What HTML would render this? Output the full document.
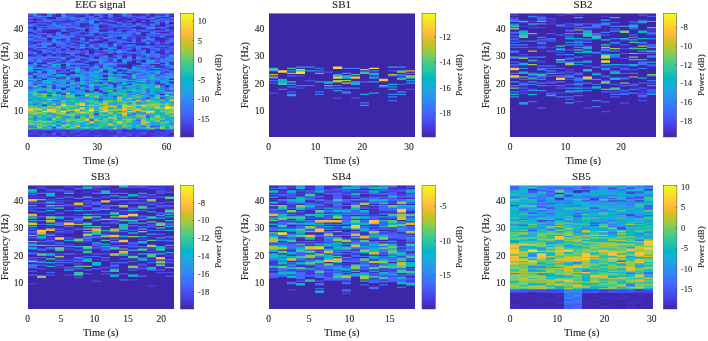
<!DOCTYPE html>
<html><head><meta charset="utf-8"><title>Spectrograms</title>
<style>
html,body{margin:0;padding:0;background:#fff}
svg{display:block}
text{font-family:"Liberation Serif","Times New Roman",serif;fill:#222;stroke:#222;stroke-width:.1px}
.tk{font-size:9.5px}
.ct{font-size:8.6px}
.al{font-size:10.5px}
.tt{font-size:11px}
.cl{font-size:9px}
.cb{fill:url(#pg);stroke:#444;stroke-width:.5}
.tl{stroke:#333;stroke-width:.5}
.c0{fill:#3e26a8}
.c1{fill:#402ab4}
.c2{fill:#422ec0}
.c3{fill:#4332cb}
.c4{fill:#4537d5}
.c5{fill:#463cde}
.c6{fill:#4741e5}
.c7{fill:#4747eb}
.c8{fill:#484df0}
.c9{fill:#4852f4}
.c10{fill:#4758f8}
.c11{fill:#465efb}
.c12{fill:#4563fd}
.c13{fill:#4269fe}
.c14{fill:#3e6fff}
.c15{fill:#3875fe}
.c16{fill:#327cfc}
.c17{fill:#2f81fa}
.c18{fill:#2e87f7}
.c19{fill:#2d8cf3}
.c20{fill:#2b91ef}
.c21{fill:#2797eb}
.c22{fill:#259be8}
.c23{fill:#23a0e5}
.c24{fill:#20a5e3}
.c25{fill:#1ca9df}
.c26{fill:#18addb}
.c27{fill:#12b1d6}
.c28{fill:#08b5d0}
.c29{fill:#01b8ca}
.c30{fill:#02bac3}
.c31{fill:#0bbdbd}
.c32{fill:#19bfb6}
.c33{fill:#24c1ae}
.c34{fill:#2cc4a7}
.c35{fill:#31c69f}
.c36{fill:#37c897}
.c37{fill:#3fca8e}
.c38{fill:#4acb84}
.c39{fill:#57cc7a}
.c40{fill:#64cd6f}
.c41{fill:#72cd64}
.c42{fill:#81cc59}
.c43{fill:#8fcb4e}
.c44{fill:#9dc943}
.c45{fill:#abc739}
.c46{fill:#b9c431}
.c47{fill:#c5c22a}
.c48{fill:#d1bf27}
.c49{fill:#dcbd29}
.c50{fill:#e6bb2d}
.c51{fill:#f0ba36}
.c52{fill:#f8ba3d}
.c53{fill:#febe3c}
.c54{fill:#fec338}
.c55{fill:#fec934}
.c56{fill:#fccf30}
.c57{fill:#fad62d}
.c58{fill:#f7dc2a}
.c59{fill:#f5e327}
.c60{fill:#f5e924}
.c61{fill:#f6ef20}
.c62{fill:#f7f51b}
.c63{fill:#f9fb15}
</style></head><body>
<svg width="708" height="341" viewBox="0 0 708 341">
<defs><linearGradient id="pg" x1="0" y1="0" x2="0" y2="1"><stop offset="0.0000" stop-color="#f9fb15"/>
<stop offset="0.0159" stop-color="#f7f51b"/>
<stop offset="0.0317" stop-color="#f6ef20"/>
<stop offset="0.0476" stop-color="#f5e924"/>
<stop offset="0.0635" stop-color="#f5e327"/>
<stop offset="0.0794" stop-color="#f7dc2a"/>
<stop offset="0.0952" stop-color="#fad62d"/>
<stop offset="0.1111" stop-color="#fccf30"/>
<stop offset="0.1270" stop-color="#fec934"/>
<stop offset="0.1429" stop-color="#fec338"/>
<stop offset="0.1587" stop-color="#febe3c"/>
<stop offset="0.1746" stop-color="#f8ba3d"/>
<stop offset="0.1905" stop-color="#f0ba36"/>
<stop offset="0.2063" stop-color="#e6bb2d"/>
<stop offset="0.2222" stop-color="#dcbd29"/>
<stop offset="0.2381" stop-color="#d1bf27"/>
<stop offset="0.2540" stop-color="#c5c22a"/>
<stop offset="0.2698" stop-color="#b9c431"/>
<stop offset="0.2857" stop-color="#abc739"/>
<stop offset="0.3016" stop-color="#9dc943"/>
<stop offset="0.3175" stop-color="#8fcb4e"/>
<stop offset="0.3333" stop-color="#81cc59"/>
<stop offset="0.3492" stop-color="#72cd64"/>
<stop offset="0.3651" stop-color="#64cd6f"/>
<stop offset="0.3810" stop-color="#57cc7a"/>
<stop offset="0.3968" stop-color="#4acb84"/>
<stop offset="0.4127" stop-color="#3fca8e"/>
<stop offset="0.4286" stop-color="#37c897"/>
<stop offset="0.4444" stop-color="#31c69f"/>
<stop offset="0.4603" stop-color="#2cc4a7"/>
<stop offset="0.4762" stop-color="#24c1ae"/>
<stop offset="0.4921" stop-color="#19bfb6"/>
<stop offset="0.5079" stop-color="#0bbdbd"/>
<stop offset="0.5238" stop-color="#02bac3"/>
<stop offset="0.5397" stop-color="#01b8ca"/>
<stop offset="0.5556" stop-color="#08b5d0"/>
<stop offset="0.5714" stop-color="#12b1d6"/>
<stop offset="0.5873" stop-color="#18addb"/>
<stop offset="0.6032" stop-color="#1ca9df"/>
<stop offset="0.6190" stop-color="#20a5e3"/>
<stop offset="0.6349" stop-color="#23a0e5"/>
<stop offset="0.6508" stop-color="#259be8"/>
<stop offset="0.6667" stop-color="#2797eb"/>
<stop offset="0.6825" stop-color="#2b91ef"/>
<stop offset="0.6984" stop-color="#2d8cf3"/>
<stop offset="0.7143" stop-color="#2e87f7"/>
<stop offset="0.7302" stop-color="#2f81fa"/>
<stop offset="0.7460" stop-color="#327cfc"/>
<stop offset="0.7619" stop-color="#3875fe"/>
<stop offset="0.7778" stop-color="#3e6fff"/>
<stop offset="0.7937" stop-color="#4269fe"/>
<stop offset="0.8095" stop-color="#4563fd"/>
<stop offset="0.8254" stop-color="#465efb"/>
<stop offset="0.8413" stop-color="#4758f8"/>
<stop offset="0.8571" stop-color="#4852f4"/>
<stop offset="0.8730" stop-color="#484df0"/>
<stop offset="0.8889" stop-color="#4747eb"/>
<stop offset="0.9048" stop-color="#4741e5"/>
<stop offset="0.9206" stop-color="#463cde"/>
<stop offset="0.9365" stop-color="#4537d5"/>
<stop offset="0.9524" stop-color="#4332cb"/>
<stop offset="0.9683" stop-color="#422ec0"/>
<stop offset="0.9841" stop-color="#402ab4"/>
<stop offset="1.0000" stop-color="#3e26a8"/></linearGradient></defs>
<rect width="708" height="341" fill="#fff"/>
<svg x=28 y=13.3 width=146 height=123.7 viewBox="0 0 146 100" preserveAspectRatio=none>
<path class=c10 d="M0 0h5V100h-5z"/>
<path class=c11 d="M0 1h5V100h-5z"/>
<path class=c3 d="M0 2h5V100h-5z"/>
<path class=c14 d="M0 3h5V100h-5z"/>
<path class=c5 d="M0 4h5V100h-5z"/>
<path class=c8 d="M0 5h5V100h-5z"/>
<path class=c16 d="M0 6h5V100h-5z"/>
<path class=c0 d="M0 7h5V100h-5z"/>
<path class=c9 d="M0 8h5V100h-5z"/>
<path class=c22 d="M0 9h5V100h-5z"/>
<path class=c13 d="M0 10h5V100h-5z"/>
<path class=c2 d="M0 11h5V100h-5z"/>
<path class=c13 d="M0 12h5V100h-5z"/>
<path class=c14 d="M0 13h5V100h-5z"/>
<path class=c0 d="M0 15h5V100h-5z"/>
<path class=c5 d="M0 16h5V100h-5z"/>
<path class=c13 d="M0 17h5V100h-5z"/>
<path class=c14 d="M0 18h5V100h-5z"/>
<path class=c2 d="M0 19h5V100h-5z"/>
<path class=c20 d="M0 20h5V100h-5z"/>
<path class=c14 d="M0 21h5V100h-5z"/>
<path class=c8 d="M0 22h5V100h-5z"/>
<path class=c4 d="M0 23h5V100h-5z"/>
<path class=c9 d="M0 24h5V100h-5z"/>
<path class=c6 d="M0 25h5V100h-5z"/>
<path class=c16 d="M0 26h5V100h-5z"/>
<path class=c11 d="M0 27h5V100h-5z"/>
<path class=c3 d="M0 28h5V100h-5z"/>
<path class=c5 d="M0 29h5V100h-5z"/>
<path class=c7 d="M0 30h5V100h-5z"/>
<path class=c11 d="M0 31h5V100h-5z"/>
<path class=c2 d="M0 33h5V100h-5z"/>
<path class=c1 d="M0 34h5V100h-5z"/>
<path class=c17 d="M0 35h5V100h-5z"/>
<path class=c12 d="M0 36h5V100h-5z"/>
<path class=c18 d="M0 37h5V100h-5z"/>
<path class=c14 d="M0 38h5V100h-5z"/>
<path class=c8 d="M0 39h5V100h-5z"/>
<path class=c0 d="M0 40h5V100h-5z"/>
<path class=c11 d="M0 41h5V100h-5z"/>
<path class=c28 d="M0 42h5V100h-5z"/>
<path class=c18 d="M0 43h5V100h-5z"/>
<path class=c33 d="M0 44h5V100h-5z"/>
<path class=c21 d="M0 45h5V100h-5z"/>
<path class=c27 d="M0 46h5V100h-5z"/>
<path class=c14 d="M0 47h5V100h-5z"/>
<path class=c2 d="M0 48h5V100h-5z"/>
<path class=c8 d="M0 49h5V100h-5z"/>
<path class=c25 d="M0 50h5V100h-5z"/>
<path class=c10 d="M0 52h5V100h-5z"/>
<path class=c34 d="M0 53h5V100h-5z"/>
<path class=c13 d="M0 54h5V100h-5z"/>
<path class=c19 d="M0 55h5V100h-5z"/>
<path class=c34 d="M0 56h5V100h-5z"/>
<path class=c18 d="M0 57h5V100h-5z"/>
<path class=c34 d="M0 58h5V100h-5z"/>
<path class=c13 d="M0 59h5V100h-5z"/>
<path class=c5 d="M0 60h5V100h-5z"/>
<path class=c27 d="M0 61h5V100h-5z"/>
<path class=c17 d="M0 62h5V100h-5z"/>
<path class=c32 d="M0 63h5V100h-5z"/>
<path class=c23 d="M0 65h5V100h-5z"/>
<path class=c29 d="M0 66h5V100h-5z"/>
<path class=c23 d="M0 67h5V100h-5z"/>
<path class=c33 d="M0 68h5V100h-5z"/>
<path class=c15 d="M0 69h5V100h-5z"/>
<path class=c20 d="M0 70h5V100h-5z"/>
<path class=c37 d="M0 71h5V100h-5z"/>
<path class=c35 d="M0 72h5V100h-5z"/>
<path class=c22 d="M0 73h5V100h-5z"/>
<path class=c34 d="M0 74h5V100h-5z"/>
<path class=c36 d="M0 75h5V100h-5z"/>
<path class=c42 d="M0 76h5V100h-5z"/>
<path class=c54 d="M0 77h5V100h-5z"/>
<path class=c45 d="M0 79h5V100h-5z"/>
<path class=c40 d="M0 80h5V100h-5z"/>
<path class=c39 d="M0 81h5V100h-5z"/>
<path class=c26 d="M0 82h5V100h-5z"/>
<path class=c39 d="M0 83h5V100h-5z"/>
<path class=c38 d="M0 84h5V100h-5z"/>
<path class=c20 d="M0 85h5V100h-5z"/>
<path class=c40 d="M0 86h5V100h-5z"/>
<path class=c34 d="M0 87h5V100h-5z"/>
<path class=c40 d="M0 88h5V100h-5z"/>
<path class=c39 d="M0 90h5V100h-5z"/>
<path class=c11 d="M0 91h5V100h-5z"/>
<path class=c18 d="M0 92h5V100h-5z"/>
<path class=c41 d="M0 93h5V100h-5z"/>
<path class=c3 d="M0 94h5V100h-5z"/>
<path class=c4 d="M0 96h5V100h-5z"/>
<path class=c7 d="M0 97h5V100h-5z"/>
<path class=c3 d="M0 98h5V100h-5z"/>
<path class=c4 d="M0 99h5V100h-5z"/>
<path class=c13 d="M5 0h4V100h-4z"/>
<path class=c23 d="M5 1h4V100h-4z"/>
<path class=c10 d="M5 2h4V100h-4z"/>
<path class=c12 d="M5 3h4V100h-4z"/>
<path class=c1 d="M5 4h4V100h-4z"/>
<path class=c0 d="M5 5h4V100h-4z"/>
<path class=c6 d="M5 6h4V100h-4z"/>
<path class=c0 d="M5 7h4V100h-4z"/>
<path class=c14 d="M5 8h4V100h-4z"/>
<path class=c11 d="M5 9h4V100h-4z"/>
<path class=c5 d="M5 10h4V100h-4z"/>
<path class=c0 d="M5 11h4V100h-4z"/>
<path class=c4 d="M5 13h4V100h-4z"/>
<path class=c12 d="M5 14h4V100h-4z"/>
<path class=c0 d="M5 16h4V100h-4z"/>
<path class=c11 d="M5 17h4V100h-4z"/>
<path class=c13 d="M5 18h4V100h-4z"/>
<path class=c11 d="M5 19h4V100h-4z"/>
<path class=c7 d="M5 20h4V100h-4z"/>
<path class=c9 d="M5 21h4V100h-4z"/>
<path class=c18 d="M5 22h4V100h-4z"/>
<path class=c0 d="M5 23h4V100h-4z"/>
<path class=c1 d="M5 24h4V100h-4z"/>
<path class=c15 d="M5 25h4V100h-4z"/>
<path class=c14 d="M5 26h4V100h-4z"/>
<path class=c13 d="M5 27h4V100h-4z"/>
<path class=c12 d="M5 28h4V100h-4z"/>
<path class=c4 d="M5 29h4V100h-4z"/>
<path class=c0 d="M5 30h4V100h-4z"/>
<path class=c17 d="M5 31h4V100h-4z"/>
<path class=c13 d="M5 32h4V100h-4z"/>
<path class=c10 d="M5 33h4V100h-4z"/>
<path class=c3 d="M5 34h4V100h-4z"/>
<path class=c16 d="M5 35h4V100h-4z"/>
<path class=c6 d="M5 37h4V100h-4z"/>
<path class=c14 d="M5 38h4V100h-4z"/>
<path class=c5 d="M5 39h4V100h-4z"/>
<path class=c24 d="M5 40h4V100h-4z"/>
<path class=c22 d="M5 41h4V100h-4z"/>
<path class=c10 d="M5 42h4V100h-4z"/>
<path class=c11 d="M5 43h4V100h-4z"/>
<path class=c15 d="M5 44h4V100h-4z"/>
<path class=c0 d="M5 45h4V100h-4z"/>
<path class=c21 d="M5 46h4V100h-4z"/>
<path class=c2 d="M5 47h4V100h-4z"/>
<path class=c12 d="M5 48h4V100h-4z"/>
<path class=c24 d="M5 49h4V100h-4z"/>
<path class=c2 d="M5 50h4V100h-4z"/>
<path class=c0 d="M5 51h4V100h-4z"/>
<path class=c8 d="M5 52h4V100h-4z"/>
<path class=c28 d="M5 53h4V100h-4z"/>
<path class=c23 d="M5 54h4V100h-4z"/>
<path class=c9 d="M5 55h4V100h-4z"/>
<path class=c26 d="M5 56h4V100h-4z"/>
<path class=c3 d="M5 57h4V100h-4z"/>
<path class=c25 d="M5 58h4V100h-4z"/>
<path class=c34 d="M5 59h4V100h-4z"/>
<path class=c16 d="M5 60h4V100h-4z"/>
<path class=c27 d="M5 61h4V100h-4z"/>
<path class=c33 d="M5 62h4V100h-4z"/>
<path class=c35 d="M5 63h4V100h-4z"/>
<path class=c38 d="M5 64h4V100h-4z"/>
<path class=c37 d="M5 66h4V100h-4z"/>
<path class=c25 d="M5 67h4V100h-4z"/>
<path class=c30 d="M5 68h4V100h-4z"/>
<path class=c25 d="M5 69h4V100h-4z"/>
<path class=c32 d="M5 70h4V100h-4z"/>
<path class=c23 d="M5 71h4V100h-4z"/>
<path class=c31 d="M5 72h4V100h-4z"/>
<path class=c12 d="M5 73h4V100h-4z"/>
<path class=c18 d="M5 74h4V100h-4z"/>
<path class=c41 d="M5 75h4V100h-4z"/>
<path class=c36 d="M5 76h4V100h-4z"/>
<path class=c54 d="M5 77h4V100h-4z"/>
<path class=c38 d="M5 78h4V100h-4z"/>
<path class=c41 d="M5 79h4V100h-4z"/>
<path class=c42 d="M5 80h4V100h-4z"/>
<path class=c49 d="M5 81h4V100h-4z"/>
<path class=c29 d="M5 82h4V100h-4z"/>
<path class=c21 d="M5 83h4V100h-4z"/>
<path class=c17 d="M5 84h4V100h-4z"/>
<path class=c18 d="M5 85h4V100h-4z"/>
<path class=c19 d="M5 86h4V100h-4z"/>
<path class=c40 d="M5 87h4V100h-4z"/>
<path class=c32 d="M5 88h4V100h-4z"/>
<path class=c40 d="M5 89h4V100h-4z"/>
<path class=c33 d="M5 90h4V100h-4z"/>
<path class=c23 d="M5 91h4V100h-4z"/>
<path class=c17 d="M5 92h4V100h-4z"/>
<path class=c33 d="M5 93h4V100h-4z"/>
<path class=c3 d="M5 94h4V100h-4z"/>
<path class=c7 d="M5 95h4V100h-4z"/>
<path class=c3 d="M5 96h4V100h-4z"/>
<path class=c8 d="M5 97h4V100h-4z"/>
<path class=c0 d="M5 98h4V100h-4z"/>
<path class=c5 d="M5 99h4V100h-4z"/>
<path class=c0 d="M9 0h5V100h-5z"/>
<path class=c8 d="M9 1h5V100h-5z"/>
<path class=c19 d="M9 2h5V100h-5z"/>
<path class=c9 d="M9 3h5V100h-5z"/>
<path class=c0 d="M9 5h5V100h-5z"/>
<path class=c16 d="M9 6h5V100h-5z"/>
<path class=c5 d="M9 7h5V100h-5z"/>
<path class=c14 d="M9 8h5V100h-5z"/>
<path class=c0 d="M9 9h5V100h-5z"/>
<path class=c11 d="M9 10h5V100h-5z"/>
<path class=c9 d="M9 11h5V100h-5z"/>
<path class=c19 d="M9 12h5V100h-5z"/>
<path class=c15 d="M9 13h5V100h-5z"/>
<path class=c9 d="M9 14h5V100h-5z"/>
<path class=c5 d="M9 15h5V100h-5z"/>
<path class=c17 d="M9 16h5V100h-5z"/>
<path class=c6 d="M9 17h5V100h-5z"/>
<path class=c13 d="M9 18h5V100h-5z"/>
<path class=c12 d="M9 19h5V100h-5z"/>
<path class=c8 d="M9 21h5V100h-5z"/>
<path class=c11 d="M9 22h5V100h-5z"/>
<path class=c2 d="M9 23h5V100h-5z"/>
<path class=c17 d="M9 24h5V100h-5z"/>
<path class=c8 d="M9 25h5V100h-5z"/>
<path class=c4 d="M9 26h5V100h-5z"/>
<path class=c20 d="M9 27h5V100h-5z"/>
<path class=c5 d="M9 28h5V100h-5z"/>
<path class=c15 d="M9 29h5V100h-5z"/>
<path class=c0 d="M9 30h5V100h-5z"/>
<path class=c3 d="M9 31h5V100h-5z"/>
<path class=c0 d="M9 32h5V100h-5z"/>
<path class=c10 d="M9 33h5V100h-5z"/>
<path class=c9 d="M9 34h5V100h-5z"/>
<path class=c14 d="M9 35h5V100h-5z"/>
<path class=c11 d="M9 36h5V100h-5z"/>
<path class=c18 d="M9 37h5V100h-5z"/>
<path class=c20 d="M9 38h5V100h-5z"/>
<path class=c18 d="M9 39h5V100h-5z"/>
<path class=c0 d="M9 40h5V100h-5z"/>
<path class=c9 d="M9 41h5V100h-5z"/>
<path class=c0 d="M9 42h5V100h-5z"/>
<path class=c5 d="M9 43h5V100h-5z"/>
<path class=c26 d="M9 44h5V100h-5z"/>
<path class=c1 d="M9 45h5V100h-5z"/>
<path class=c23 d="M9 46h5V100h-5z"/>
<path class=c20 d="M9 47h5V100h-5z"/>
<path class=c17 d="M9 48h5V100h-5z"/>
<path class=c12 d="M9 49h5V100h-5z"/>
<path class=c19 d="M9 50h5V100h-5z"/>
<path class=c24 d="M9 51h5V100h-5z"/>
<path class=c5 d="M9 52h5V100h-5z"/>
<path class=c30 d="M9 53h5V100h-5z"/>
<path class=c5 d="M9 54h5V100h-5z"/>
<path class=c16 d="M9 55h5V100h-5z"/>
<path class=c7 d="M9 56h5V100h-5z"/>
<path class=c25 d="M9 57h5V100h-5z"/>
<path class=c12 d="M9 59h5V100h-5z"/>
<path class=c26 d="M9 60h5V100h-5z"/>
<path class=c31 d="M9 61h5V100h-5z"/>
<path class=c26 d="M9 62h5V100h-5z"/>
<path class=c8 d="M9 63h5V100h-5z"/>
<path class=c20 d="M9 64h5V100h-5z"/>
<path class=c36 d="M9 65h5V100h-5z"/>
<path class=c31 d="M9 66h5V100h-5z"/>
<path class=c37 d="M9 67h5V100h-5z"/>
<path class=c20 d="M9 68h5V100h-5z"/>
<path class=c22 d="M9 70h5V100h-5z"/>
<path class=c35 d="M9 71h5V100h-5z"/>
<path class=c18 d="M9 72h5V100h-5z"/>
<path class=c27 d="M9 73h5V100h-5z"/>
<path class=c34 d="M9 74h5V100h-5z"/>
<path class=c22 d="M9 75h5V100h-5z"/>
<path class=c41 d="M9 76h5V100h-5z"/>
<path class=c51 d="M9 77h5V100h-5z"/>
<path class=c41 d="M9 78h5V100h-5z"/>
<path class=c26 d="M9 79h5V100h-5z"/>
<path class=c51 d="M9 80h5V100h-5z"/>
<path class=c32 d="M9 81h5V100h-5z"/>
<path class=c35 d="M9 82h5V100h-5z"/>
<path class=c38 d="M9 83h5V100h-5z"/>
<path class=c32 d="M9 84h5V100h-5z"/>
<path class=c31 d="M9 85h5V100h-5z"/>
<path class=c40 d="M9 86h5V100h-5z"/>
<path class=c43 d="M9 87h5V100h-5z"/>
<path class=c25 d="M9 88h5V100h-5z"/>
<path class=c47 d="M9 89h5V100h-5z"/>
<path class=c35 d="M9 90h5V100h-5z"/>
<path class=c40 d="M9 91h5V100h-5z"/>
<path class=c44 d="M9 92h5V100h-5z"/>
<path class=c32 d="M9 93h5V100h-5z"/>
<path class=c4 d="M9 94h5V100h-5z"/>
<path class=c3 d="M9 96h5V100h-5z"/>
<path class=c6 d="M9 97h5V100h-5z"/>
<path class=c4 d="M9 98h5V100h-5z"/>
<path class=c6 d="M9 99h5V100h-5z"/>
<path class=c0 d="M14 0h5V100h-5z"/>
<path class=c15 d="M14 2h5V100h-5z"/>
<path class=c7 d="M14 3h5V100h-5z"/>
<path class=c12 d="M14 4h5V100h-5z"/>
<path class=c10 d="M14 5h5V100h-5z"/>
<path class=c14 d="M14 6h5V100h-5z"/>
<path class=c3 d="M14 7h5V100h-5z"/>
<path class=c15 d="M14 8h5V100h-5z"/>
<path class=c0 d="M14 9h5V100h-5z"/>
<path class=c12 d="M14 10h5V100h-5z"/>
<path class=c3 d="M14 11h5V100h-5z"/>
<path class=c13 d="M14 12h5V100h-5z"/>
<path class=c0 d="M14 13h5V100h-5z"/>
<path class=c3 d="M14 14h5V100h-5z"/>
<path class=c1 d="M14 15h5V100h-5z"/>
<path class=c17 d="M14 16h5V100h-5z"/>
<path class=c4 d="M14 17h5V100h-5z"/>
<path class=c1 d="M14 18h5V100h-5z"/>
<path class=c9 d="M14 19h5V100h-5z"/>
<path class=c15 d="M14 20h5V100h-5z"/>
<path class=c10 d="M14 21h5V100h-5z"/>
<path class=c13 d="M14 23h5V100h-5z"/>
<path class=c16 d="M14 24h5V100h-5z"/>
<path class=c15 d="M14 25h5V100h-5z"/>
<path class=c18 d="M14 26h5V100h-5z"/>
<path class=c19 d="M14 27h5V100h-5z"/>
<path class=c4 d="M14 28h5V100h-5z"/>
<path class=c15 d="M14 29h5V100h-5z"/>
<path class=c16 d="M14 30h5V100h-5z"/>
<path class=c10 d="M14 31h5V100h-5z"/>
<path class=c11 d="M14 32h5V100h-5z"/>
<path class=c0 d="M14 33h5V100h-5z"/>
<path class=c20 d="M14 35h5V100h-5z"/>
<path class=c14 d="M14 36h5V100h-5z"/>
<path class=c9 d="M14 37h5V100h-5z"/>
<path class=c7 d="M14 38h5V100h-5z"/>
<path class=c5 d="M14 39h5V100h-5z"/>
<path class=c0 d="M14 40h5V100h-5z"/>
<path class=c12 d="M14 41h5V100h-5z"/>
<path class=c22 d="M14 42h5V100h-5z"/>
<path class=c1 d="M14 43h5V100h-5z"/>
<path class=c19 d="M14 44h5V100h-5z"/>
<path class=c14 d="M14 45h5V100h-5z"/>
<path class=c11 d="M14 46h5V100h-5z"/>
<path class=c0 d="M14 47h5V100h-5z"/>
<path class=c12 d="M14 48h5V100h-5z"/>
<path class=c16 d="M14 49h5V100h-5z"/>
<path class=c25 d="M14 50h5V100h-5z"/>
<path class=c18 d="M14 51h5V100h-5z"/>
<path class=c15 d="M14 52h5V100h-5z"/>
<path class=c0 d="M14 53h5V100h-5z"/>
<path class=c28 d="M14 54h5V100h-5z"/>
<path class=c24 d="M14 55h5V100h-5z"/>
<path class=c19 d="M14 56h5V100h-5z"/>
<path class=c22 d="M14 57h5V100h-5z"/>
<path class=c18 d="M14 58h5V100h-5z"/>
<path class=c0 d="M14 59h5V100h-5z"/>
<path class=c22 d="M14 60h5V100h-5z"/>
<path class=c31 d="M14 61h5V100h-5z"/>
<path class=c22 d="M14 62h5V100h-5z"/>
<path class=c3 d="M14 63h5V100h-5z"/>
<path class=c24 d="M14 64h5V100h-5z"/>
<path class=c44 d="M14 65h5V100h-5z"/>
<path class=c36 d="M14 66h5V100h-5z"/>
<path class=c40 d="M14 67h5V100h-5z"/>
<path class=c31 d="M14 68h5V100h-5z"/>
<path class=c30 d="M14 69h5V100h-5z"/>
<path class=c29 d="M14 70h5V100h-5z"/>
<path class=c16 d="M14 71h5V100h-5z"/>
<path class=c47 d="M14 72h5V100h-5z"/>
<path class=c28 d="M14 73h5V100h-5z"/>
<path class=c1 d="M14 74h5V100h-5z"/>
<path class=c25 d="M14 75h5V100h-5z"/>
<path class=c43 d="M14 76h5V100h-5z"/>
<path class=c34 d="M14 77h5V100h-5z"/>
<path class=c38 d="M14 78h5V100h-5z"/>
<path class=c58 d="M14 79h5V100h-5z"/>
<path class=c33 d="M14 80h5V100h-5z"/>
<path class=c42 d="M14 81h5V100h-5z"/>
<path class=c29 d="M14 82h5V100h-5z"/>
<path class=c32 d="M14 83h5V100h-5z"/>
<path class=c27 d="M14 84h5V100h-5z"/>
<path class=c31 d="M14 85h5V100h-5z"/>
<path class=c32 d="M14 86h5V100h-5z"/>
<path class=c41 d="M14 87h5V100h-5z"/>
<path class=c40 d="M14 88h5V100h-5z"/>
<path class=c25 d="M14 89h5V100h-5z"/>
<path class=c42 d="M14 90h5V100h-5z"/>
<path class=c36 d="M14 91h5V100h-5z"/>
<path class=c22 d="M14 92h5V100h-5z"/>
<path class=c36 d="M14 93h5V100h-5z"/>
<path class=c7 d="M14 94h5V100h-5z"/>
<path class=c4 d="M14 95h5V100h-5z"/>
<path class=c3 d="M14 96h5V100h-5z"/>
<path class=c9 d="M14 97h5V100h-5z"/>
<path class=c7 d="M14 98h5V100h-5z"/>
<path class=c23 d="M19 0h5V100h-5z"/>
<path class=c18 d="M19 1h5V100h-5z"/>
<path class=c17 d="M19 2h5V100h-5z"/>
<path class=c0 d="M19 3h5V100h-5z"/>
<path class=c14 d="M19 5h5V100h-5z"/>
<path class=c16 d="M19 6h5V100h-5z"/>
<path class=c5 d="M19 7h5V100h-5z"/>
<path class=c3 d="M19 8h5V100h-5z"/>
<path class=c14 d="M19 9h5V100h-5z"/>
<path class=c9 d="M19 10h5V100h-5z"/>
<path class=c12 d="M19 11h5V100h-5z"/>
<path class=c0 d="M19 13h5V100h-5z"/>
<path class=c2 d="M19 14h5V100h-5z"/>
<path class=c0 d="M19 15h5V100h-5z"/>
<path class=c6 d="M19 16h5V100h-5z"/>
<path class=c14 d="M19 17h5V100h-5z"/>
<path class=c23 d="M19 18h5V100h-5z"/>
<path class=c7 d="M19 19h5V100h-5z"/>
<path class=c0 d="M19 20h5V100h-5z"/>
<path class=c8 d="M19 22h5V100h-5z"/>
<path class=c21 d="M19 24h5V100h-5z"/>
<path class=c14 d="M19 25h5V100h-5z"/>
<path class=c0 d="M19 26h5V100h-5z"/>
<path class=c11 d="M19 27h5V100h-5z"/>
<path class=c13 d="M19 28h5V100h-5z"/>
<path class=c5 d="M19 29h5V100h-5z"/>
<path class=c15 d="M19 30h5V100h-5z"/>
<path class=c12 d="M19 31h5V100h-5z"/>
<path class=c0 d="M19 32h5V100h-5z"/>
<path class=c9 d="M19 33h5V100h-5z"/>
<path class=c10 d="M19 34h5V100h-5z"/>
<path class=c24 d="M19 35h5V100h-5z"/>
<path class=c3 d="M19 36h5V100h-5z"/>
<path class=c12 d="M19 37h5V100h-5z"/>
<path class=c0 d="M19 38h5V100h-5z"/>
<path class=c11 d="M19 39h5V100h-5z"/>
<path class=c28 d="M19 40h5V100h-5z"/>
<path class=c9 d="M19 41h5V100h-5z"/>
<path class=c18 d="M19 43h5V100h-5z"/>
<path class=c11 d="M19 44h5V100h-5z"/>
<path class=c22 d="M19 45h5V100h-5z"/>
<path class=c26 d="M19 46h5V100h-5z"/>
<path class=c18 d="M19 47h5V100h-5z"/>
<path class=c22 d="M19 48h5V100h-5z"/>
<path class=c25 d="M19 49h5V100h-5z"/>
<path class=c15 d="M19 50h5V100h-5z"/>
<path class=c6 d="M19 51h5V100h-5z"/>
<path class=c17 d="M19 52h5V100h-5z"/>
<path class=c22 d="M19 53h5V100h-5z"/>
<path class=c30 d="M19 54h5V100h-5z"/>
<path class=c24 d="M19 55h5V100h-5z"/>
<path class=c35 d="M19 56h5V100h-5z"/>
<path class=c10 d="M19 57h5V100h-5z"/>
<path class=c35 d="M19 58h5V100h-5z"/>
<path class=c27 d="M19 59h5V100h-5z"/>
<path class=c31 d="M19 60h5V100h-5z"/>
<path class=c34 d="M19 61h5V100h-5z"/>
<path class=c32 d="M19 63h5V100h-5z"/>
<path class=c7 d="M19 64h5V100h-5z"/>
<path class=c29 d="M19 65h5V100h-5z"/>
<path class=c5 d="M19 66h5V100h-5z"/>
<path class=c21 d="M19 67h5V100h-5z"/>
<path class=c31 d="M19 68h5V100h-5z"/>
<path class=c44 d="M19 69h5V100h-5z"/>
<path class=c29 d="M19 70h5V100h-5z"/>
<path class=c40 d="M19 71h5V100h-5z"/>
<path class=c20 d="M19 72h5V100h-5z"/>
<path class=c26 d="M19 73h5V100h-5z"/>
<path class=c31 d="M19 74h5V100h-5z"/>
<path class=c47 d="M19 75h5V100h-5z"/>
<path class=c28 d="M19 76h5V100h-5z"/>
<path class=c54 d="M19 77h5V100h-5z"/>
<path class=c31 d="M19 80h5V100h-5z"/>
<path class=c22 d="M19 81h5V100h-5z"/>
<path class=c39 d="M19 82h5V100h-5z"/>
<path class=c36 d="M19 83h5V100h-5z"/>
<path class=c21 d="M19 84h5V100h-5z"/>
<path class=c13 d="M19 85h5V100h-5z"/>
<path class=c20 d="M19 86h5V100h-5z"/>
<path class=c48 d="M19 87h5V100h-5z"/>
<path class=c29 d="M19 88h5V100h-5z"/>
<path class=c36 d="M19 89h5V100h-5z"/>
<path class=c35 d="M19 90h5V100h-5z"/>
<path class=c19 d="M19 91h5V100h-5z"/>
<path class=c36 d="M19 92h5V100h-5z"/>
<path class=c28 d="M19 93h5V100h-5z"/>
<path class=c9 d="M19 94h5V100h-5z"/>
<path class=c1 d="M19 95h5V100h-5z"/>
<path class=c0 d="M19 96h5V100h-5z"/>
<path class=c5 d="M19 97h5V100h-5z"/>
<path class=c4 d="M19 98h5V100h-5z"/>
<path class=c6 d="M19 99h5V100h-5z"/>
<path class=c16 d="M24 0h4V100h-4z"/>
<path class=c3 d="M24 1h4V100h-4z"/>
<path class=c5 d="M24 2h4V100h-4z"/>
<path class=c0 d="M24 3h4V100h-4z"/>
<path class=c18 d="M24 5h4V100h-4z"/>
<path class=c1 d="M24 6h4V100h-4z"/>
<path class=c15 d="M24 7h4V100h-4z"/>
<path class=c14 d="M24 8h4V100h-4z"/>
<path class=c21 d="M24 9h4V100h-4z"/>
<path class=c10 d="M24 10h4V100h-4z"/>
<path class=c11 d="M24 11h4V100h-4z"/>
<path class=c13 d="M24 12h4V100h-4z"/>
<path class=c0 d="M24 13h4V100h-4z"/>
<path class=c6 d="M24 16h4V100h-4z"/>
<path class=c0 d="M24 17h4V100h-4z"/>
<path class=c13 d="M24 18h4V100h-4z"/>
<path class=c17 d="M24 19h4V100h-4z"/>
<path class=c12 d="M24 20h4V100h-4z"/>
<path class=c21 d="M24 21h4V100h-4z"/>
<path class=c19 d="M24 22h4V100h-4z"/>
<path class=c20 d="M24 23h4V100h-4z"/>
<path class=c3 d="M24 24h4V100h-4z"/>
<path class=c0 d="M24 25h4V100h-4z"/>
<path class=c15 d="M24 27h4V100h-4z"/>
<path class=c8 d="M24 28h4V100h-4z"/>
<path class=c3 d="M24 30h4V100h-4z"/>
<path class=c21 d="M24 31h4V100h-4z"/>
<path class=c10 d="M24 32h4V100h-4z"/>
<path class=c2 d="M24 33h4V100h-4z"/>
<path class=c0 d="M24 34h4V100h-4z"/>
<path class=c21 d="M24 35h4V100h-4z"/>
<path class=c9 d="M24 36h4V100h-4z"/>
<path class=c7 d="M24 37h4V100h-4z"/>
<path class=c3 d="M24 38h4V100h-4z"/>
<path class=c18 d="M24 39h4V100h-4z"/>
<path class=c8 d="M24 40h4V100h-4z"/>
<path class=c27 d="M24 41h4V100h-4z"/>
<path class=c22 d="M24 42h4V100h-4z"/>
<path class=c18 d="M24 43h4V100h-4z"/>
<path class=c10 d="M24 44h4V100h-4z"/>
<path class=c15 d="M24 45h4V100h-4z"/>
<path class=c18 d="M24 46h4V100h-4z"/>
<path class=c22 d="M24 47h4V100h-4z"/>
<path class=c28 d="M24 48h4V100h-4z"/>
<path class=c4 d="M24 49h4V100h-4z"/>
<path class=c24 d="M24 50h4V100h-4z"/>
<path class=c3 d="M24 51h4V100h-4z"/>
<path class=c26 d="M24 52h4V100h-4z"/>
<path class=c16 d="M24 53h4V100h-4z"/>
<path class=c27 d="M24 54h4V100h-4z"/>
<path class=c13 d="M24 55h4V100h-4z"/>
<path class=c15 d="M24 56h4V100h-4z"/>
<path class=c17 d="M24 57h4V100h-4z"/>
<path class=c5 d="M24 58h4V100h-4z"/>
<path class=c7 d="M24 59h4V100h-4z"/>
<path class=c4 d="M24 60h4V100h-4z"/>
<path class=c14 d="M24 61h4V100h-4z"/>
<path class=c26 d="M24 62h4V100h-4z"/>
<path class=c22 d="M24 63h4V100h-4z"/>
<path class=c24 d="M24 64h4V100h-4z"/>
<path class=c40 d="M24 65h4V100h-4z"/>
<path class=c37 d="M24 66h4V100h-4z"/>
<path class=c25 d="M24 67h4V100h-4z"/>
<path class=c36 d="M24 68h4V100h-4z"/>
<path class=c33 d="M24 69h4V100h-4z"/>
<path class=c16 d="M24 70h4V100h-4z"/>
<path class=c22 d="M24 71h4V100h-4z"/>
<path class=c25 d="M24 72h4V100h-4z"/>
<path class=c42 d="M24 73h4V100h-4z"/>
<path class=c31 d="M24 74h4V100h-4z"/>
<path class=c34 d="M24 75h4V100h-4z"/>
<path class=c42 d="M24 76h4V100h-4z"/>
<path class=c48 d="M24 77h4V100h-4z"/>
<path class=c54 d="M24 78h4V100h-4z"/>
<path class=c44 d="M24 80h4V100h-4z"/>
<path class=c19 d="M24 81h4V100h-4z"/>
<path class=c23 d="M24 82h4V100h-4z"/>
<path class=c25 d="M24 83h4V100h-4z"/>
<path class=c37 d="M24 84h4V100h-4z"/>
<path class=c50 d="M24 85h4V100h-4z"/>
<path class=c36 d="M24 86h4V100h-4z"/>
<path class=c34 d="M24 87h4V100h-4z"/>
<path class=c28 d="M24 88h4V100h-4z"/>
<path class=c32 d="M24 89h4V100h-4z"/>
<path class=c45 d="M24 90h4V100h-4z"/>
<path class=c28 d="M24 91h4V100h-4z"/>
<path class=c5 d="M24 92h4V100h-4z"/>
<path class=c15 d="M24 93h4V100h-4z"/>
<path class=c5 d="M24 94h4V100h-4z"/>
<path class=c3 d="M24 95h4V100h-4z"/>
<path class=c9 d="M24 96h4V100h-4z"/>
<path class=c10 d="M24 97h4V100h-4z"/>
<path class=c7 d="M24 98h4V100h-4z"/>
<path class=c0 d="M28 0h5V100h-5z"/>
<path class=c14 d="M28 3h5V100h-5z"/>
<path class=c10 d="M28 4h5V100h-5z"/>
<path class=c17 d="M28 5h5V100h-5z"/>
<path class=c4 d="M28 6h5V100h-5z"/>
<path class=c7 d="M28 7h5V100h-5z"/>
<path class=c6 d="M28 8h5V100h-5z"/>
<path class=c15 d="M28 9h5V100h-5z"/>
<path class=c20 d="M28 10h5V100h-5z"/>
<path class=c12 d="M28 11h5V100h-5z"/>
<path class=c9 d="M28 12h5V100h-5z"/>
<path class=c0 d="M28 13h5V100h-5z"/>
<path class=c15 d="M28 15h5V100h-5z"/>
<path class=c17 d="M28 16h5V100h-5z"/>
<path class=c16 d="M28 17h5V100h-5z"/>
<path class=c10 d="M28 18h5V100h-5z"/>
<path class=c19 d="M28 19h5V100h-5z"/>
<path class=c17 d="M28 20h5V100h-5z"/>
<path class=c2 d="M28 21h5V100h-5z"/>
<path class=c18 d="M28 22h5V100h-5z"/>
<path class=c17 d="M28 23h5V100h-5z"/>
<path class=c14 d="M28 24h5V100h-5z"/>
<path class=c9 d="M28 25h5V100h-5z"/>
<path class=c11 d="M28 26h5V100h-5z"/>
<path class=c0 d="M28 27h5V100h-5z"/>
<path class=c11 d="M28 28h5V100h-5z"/>
<path class=c10 d="M28 29h5V100h-5z"/>
<path class=c11 d="M28 30h5V100h-5z"/>
<path class=c5 d="M28 32h5V100h-5z"/>
<path class=c9 d="M28 33h5V100h-5z"/>
<path class=c6 d="M28 34h5V100h-5z"/>
<path class=c16 d="M28 35h5V100h-5z"/>
<path class=c8 d="M28 36h5V100h-5z"/>
<path class=c18 d="M28 38h5V100h-5z"/>
<path class=c5 d="M28 39h5V100h-5z"/>
<path class=c11 d="M28 40h5V100h-5z"/>
<path class=c31 d="M28 41h5V100h-5z"/>
<path class=c8 d="M28 42h5V100h-5z"/>
<path class=c20 d="M28 43h5V100h-5z"/>
<path class=c12 d="M28 44h5V100h-5z"/>
<path class=c11 d="M28 45h5V100h-5z"/>
<path class=c0 d="M28 46h5V100h-5z"/>
<path class=c17 d="M28 47h5V100h-5z"/>
<path class=c4 d="M28 48h5V100h-5z"/>
<path class=c27 d="M28 49h5V100h-5z"/>
<path class=c28 d="M28 50h5V100h-5z"/>
<path class=c22 d="M28 51h5V100h-5z"/>
<path class=c0 d="M28 52h5V100h-5z"/>
<path class=c17 d="M28 53h5V100h-5z"/>
<path class=c18 d="M28 54h5V100h-5z"/>
<path class=c19 d="M28 55h5V100h-5z"/>
<path class=c13 d="M28 56h5V100h-5z"/>
<path class=c22 d="M28 57h5V100h-5z"/>
<path class=c23 d="M28 58h5V100h-5z"/>
<path class=c20 d="M28 59h5V100h-5z"/>
<path class=c8 d="M28 60h5V100h-5z"/>
<path class=c37 d="M28 61h5V100h-5z"/>
<path class=c26 d="M28 62h5V100h-5z"/>
<path class=c16 d="M28 63h5V100h-5z"/>
<path class=c3 d="M28 64h5V100h-5z"/>
<path class=c32 d="M28 65h5V100h-5z"/>
<path class=c33 d="M28 66h5V100h-5z"/>
<path class=c26 d="M28 67h5V100h-5z"/>
<path class=c31 d="M28 68h5V100h-5z"/>
<path class=c25 d="M28 69h5V100h-5z"/>
<path class=c16 d="M28 70h5V100h-5z"/>
<path class=c13 d="M28 71h5V100h-5z"/>
<path class=c32 d="M28 72h5V100h-5z"/>
<path class=c13 d="M28 73h5V100h-5z"/>
<path class=c27 d="M28 74h5V100h-5z"/>
<path class=c47 d="M28 75h5V100h-5z"/>
<path class=c42 d="M28 76h5V100h-5z"/>
<path class=c37 d="M28 77h5V100h-5z"/>
<path class=c41 d="M28 78h5V100h-5z"/>
<path class=c38 d="M28 79h5V100h-5z"/>
<path class=c46 d="M28 80h5V100h-5z"/>
<path class=c37 d="M28 81h5V100h-5z"/>
<path class=c28 d="M28 82h5V100h-5z"/>
<path class=c43 d="M28 83h5V100h-5z"/>
<path class=c38 d="M28 84h5V100h-5z"/>
<path class=c33 d="M28 85h5V100h-5z"/>
<path class=c36 d="M28 86h5V100h-5z"/>
<path class=c14 d="M28 87h5V100h-5z"/>
<path class=c26 d="M28 88h5V100h-5z"/>
<path class=c32 d="M28 89h5V100h-5z"/>
<path class=c13 d="M28 90h5V100h-5z"/>
<path class=c19 d="M28 91h5V100h-5z"/>
<path class=c45 d="M28 92h5V100h-5z"/>
<path class=c18 d="M28 93h5V100h-5z"/>
<path class=c8 d="M28 94h5V100h-5z"/>
<path class=c5 d="M28 95h5V100h-5z"/>
<path class=c6 d="M28 96h5V100h-5z"/>
<path class=c1 d="M28 97h5V100h-5z"/>
<path class=c3 d="M28 98h5V100h-5z"/>
<path class=c9 d="M28 99h5V100h-5z"/>
<path class=c14 d="M33 0h5V100h-5z"/>
<path class=c21 d="M33 1h5V100h-5z"/>
<path class=c19 d="M33 2h5V100h-5z"/>
<path class=c17 d="M33 3h5V100h-5z"/>
<path class=c11 d="M33 4h5V100h-5z"/>
<path class=c10 d="M33 5h5V100h-5z"/>
<path class=c4 d="M33 6h5V100h-5z"/>
<path class=c5 d="M33 7h5V100h-5z"/>
<path class=c14 d="M33 8h5V100h-5z"/>
<path class=c8 d="M33 9h5V100h-5z"/>
<path class=c14 d="M33 10h5V100h-5z"/>
<path class=c18 d="M33 11h5V100h-5z"/>
<path class=c11 d="M33 12h5V100h-5z"/>
<path class=c16 d="M33 13h5V100h-5z"/>
<path class=c0 d="M33 15h5V100h-5z"/>
<path class=c2 d="M33 16h5V100h-5z"/>
<path class=c12 d="M33 17h5V100h-5z"/>
<path class=c21 d="M33 18h5V100h-5z"/>
<path class=c19 d="M33 19h5V100h-5z"/>
<path class=c8 d="M33 20h5V100h-5z"/>
<path class=c2 d="M33 21h5V100h-5z"/>
<path class=c8 d="M33 22h5V100h-5z"/>
<path class=c10 d="M33 23h5V100h-5z"/>
<path class=c18 d="M33 24h5V100h-5z"/>
<path class=c13 d="M33 25h5V100h-5z"/>
<path class=c10 d="M33 26h5V100h-5z"/>
<path class=c17 d="M33 27h5V100h-5z"/>
<path class=c7 d="M33 28h5V100h-5z"/>
<path class=c0 d="M33 29h5V100h-5z"/>
<path class=c10 d="M33 30h5V100h-5z"/>
<path class=c8 d="M33 31h5V100h-5z"/>
<path class=c6 d="M33 32h5V100h-5z"/>
<path class=c1 d="M33 33h5V100h-5z"/>
<path class=c5 d="M33 34h5V100h-5z"/>
<path class=c9 d="M33 35h5V100h-5z"/>
<path class=c27 d="M33 36h5V100h-5z"/>
<path class=c9 d="M33 37h5V100h-5z"/>
<path class=c5 d="M33 38h5V100h-5z"/>
<path class=c4 d="M33 39h5V100h-5z"/>
<path class=c12 d="M33 40h5V100h-5z"/>
<path class=c0 d="M33 41h5V100h-5z"/>
<path class=c6 d="M33 43h5V100h-5z"/>
<path class=c0 d="M33 44h5V100h-5z"/>
<path class=c13 d="M33 45h5V100h-5z"/>
<path class=c6 d="M33 46h5V100h-5z"/>
<path class=c15 d="M33 47h5V100h-5z"/>
<path class=c0 d="M33 48h5V100h-5z"/>
<path class=c22 d="M33 49h5V100h-5z"/>
<path class=c20 d="M33 50h5V100h-5z"/>
<path class=c7 d="M33 51h5V100h-5z"/>
<path class=c5 d="M33 52h5V100h-5z"/>
<path class=c20 d="M33 53h5V100h-5z"/>
<path class=c28 d="M33 54h5V100h-5z"/>
<path class=c20 d="M33 55h5V100h-5z"/>
<path class=c27 d="M33 56h5V100h-5z"/>
<path class=c14 d="M33 57h5V100h-5z"/>
<path class=c23 d="M33 58h5V100h-5z"/>
<path class=c26 d="M33 59h5V100h-5z"/>
<path class=c2 d="M33 60h5V100h-5z"/>
<path class=c0 d="M33 61h5V100h-5z"/>
<path class=c24 d="M33 62h5V100h-5z"/>
<path class=c32 d="M33 63h5V100h-5z"/>
<path class=c11 d="M33 64h5V100h-5z"/>
<path class=c4 d="M33 65h5V100h-5z"/>
<path class=c32 d="M33 66h5V100h-5z"/>
<path class=c23 d="M33 67h5V100h-5z"/>
<path class=c21 d="M33 68h5V100h-5z"/>
<path class=c18 d="M33 69h5V100h-5z"/>
<path class=c39 d="M33 70h5V100h-5z"/>
<path class=c37 d="M33 71h5V100h-5z"/>
<path class=c35 d="M33 72h5V100h-5z"/>
<path class=c46 d="M33 73h5V100h-5z"/>
<path class=c58 d="M33 74h5V100h-5z"/>
<path class=c38 d="M33 75h5V100h-5z"/>
<path class=c43 d="M33 76h5V100h-5z"/>
<path class=c16 d="M33 77h5V100h-5z"/>
<path class=c38 d="M33 78h5V100h-5z"/>
<path class=c59 d="M33 79h5V100h-5z"/>
<path class=c44 d="M33 80h5V100h-5z"/>
<path class=c49 d="M33 81h5V100h-5z"/>
<path class=c28 d="M33 82h5V100h-5z"/>
<path class=c25 d="M33 83h5V100h-5z"/>
<path class=c32 d="M33 85h5V100h-5z"/>
<path class=c22 d="M33 86h5V100h-5z"/>
<path class=c39 d="M33 87h5V100h-5z"/>
<path class=c14 d="M33 88h5V100h-5z"/>
<path class=c29 d="M33 89h5V100h-5z"/>
<path class=c47 d="M33 90h5V100h-5z"/>
<path class=c41 d="M33 91h5V100h-5z"/>
<path class=c36 d="M33 92h5V100h-5z"/>
<path class=c29 d="M33 93h5V100h-5z"/>
<path class=c5 d="M33 94h5V100h-5z"/>
<path class=c10 d="M33 96h5V100h-5z"/>
<path class=c7 d="M33 97h5V100h-5z"/>
<path class=c0 d="M33 99h5V100h-5z"/>
<path class=c0 d="M38 0h4V100h-4z"/>
<path class=c7 d="M38 1h4V100h-4z"/>
<path class=c11 d="M38 2h4V100h-4z"/>
<path class=c12 d="M38 3h4V100h-4z"/>
<path class=c8 d="M38 4h4V100h-4z"/>
<path class=c4 d="M38 5h4V100h-4z"/>
<path class=c3 d="M38 6h4V100h-4z"/>
<path class=c6 d="M38 7h4V100h-4z"/>
<path class=c17 d="M38 8h4V100h-4z"/>
<path class=c15 d="M38 9h4V100h-4z"/>
<path class=c6 d="M38 10h4V100h-4z"/>
<path class=c19 d="M38 11h4V100h-4z"/>
<path class=c2 d="M38 12h4V100h-4z"/>
<path class=c4 d="M38 13h4V100h-4z"/>
<path class=c9 d="M38 14h4V100h-4z"/>
<path class=c0 d="M38 15h4V100h-4z"/>
<path class=c9 d="M38 16h4V100h-4z"/>
<path class=c3 d="M38 17h4V100h-4z"/>
<path class=c14 d="M38 18h4V100h-4z"/>
<path class=c20 d="M38 19h4V100h-4z"/>
<path class=c12 d="M38 20h4V100h-4z"/>
<path class=c21 d="M38 21h4V100h-4z"/>
<path class=c10 d="M38 22h4V100h-4z"/>
<path class=c15 d="M38 23h4V100h-4z"/>
<path class=c3 d="M38 24h4V100h-4z"/>
<path class=c10 d="M38 25h4V100h-4z"/>
<path class=c14 d="M38 26h4V100h-4z"/>
<path class=c3 d="M38 27h4V100h-4z"/>
<path class=c8 d="M38 28h4V100h-4z"/>
<path class=c15 d="M38 29h4V100h-4z"/>
<path class=c10 d="M38 30h4V100h-4z"/>
<path class=c18 d="M38 31h4V100h-4z"/>
<path class=c14 d="M38 32h4V100h-4z"/>
<path class=c0 d="M38 33h4V100h-4z"/>
<path class=c10 d="M38 34h4V100h-4z"/>
<path class=c0 d="M38 36h4V100h-4z"/>
<path class=c1 d="M38 37h4V100h-4z"/>
<path class=c14 d="M38 38h4V100h-4z"/>
<path class=c11 d="M38 39h4V100h-4z"/>
<path class=c24 d="M38 40h4V100h-4z"/>
<path class=c30 d="M38 41h4V100h-4z"/>
<path class=c21 d="M38 42h4V100h-4z"/>
<path class=c9 d="M38 43h4V100h-4z"/>
<path class=c18 d="M38 44h4V100h-4z"/>
<path class=c4 d="M38 45h4V100h-4z"/>
<path class=c3 d="M38 46h4V100h-4z"/>
<path class=c14 d="M38 47h4V100h-4z"/>
<path class=c2 d="M38 48h4V100h-4z"/>
<path class=c0 d="M38 49h4V100h-4z"/>
<path class=c15 d="M38 50h4V100h-4z"/>
<path class=c16 d="M38 51h4V100h-4z"/>
<path class=c36 d="M38 52h4V100h-4z"/>
<path class=c25 d="M38 53h4V100h-4z"/>
<path class=c17 d="M38 54h4V100h-4z"/>
<path class=c11 d="M38 55h4V100h-4z"/>
<path class=c1 d="M38 56h4V100h-4z"/>
<path class=c29 d="M38 57h4V100h-4z"/>
<path class=c26 d="M38 58h4V100h-4z"/>
<path class=c0 d="M38 59h4V100h-4z"/>
<path class=c19 d="M38 60h4V100h-4z"/>
<path class=c28 d="M38 61h4V100h-4z"/>
<path class=c17 d="M38 62h4V100h-4z"/>
<path class=c20 d="M38 63h4V100h-4z"/>
<path class=c43 d="M38 64h4V100h-4z"/>
<path class=c40 d="M38 65h4V100h-4z"/>
<path class=c34 d="M38 66h4V100h-4z"/>
<path class=c44 d="M38 67h4V100h-4z"/>
<path class=c19 d="M38 68h4V100h-4z"/>
<path class=c26 d="M38 69h4V100h-4z"/>
<path class=c29 d="M38 72h4V100h-4z"/>
<path class=c28 d="M38 73h4V100h-4z"/>
<path class=c38 d="M38 74h4V100h-4z"/>
<path class=c39 d="M38 75h4V100h-4z"/>
<path class=c38 d="M38 76h4V100h-4z"/>
<path class=c46 d="M38 78h4V100h-4z"/>
<path class=c34 d="M38 79h4V100h-4z"/>
<path class=c15 d="M38 80h4V100h-4z"/>
<path class=c35 d="M38 81h4V100h-4z"/>
<path class=c44 d="M38 82h4V100h-4z"/>
<path class=c18 d="M38 83h4V100h-4z"/>
<path class=c20 d="M38 84h4V100h-4z"/>
<path class=c39 d="M38 85h4V100h-4z"/>
<path class=c45 d="M38 86h4V100h-4z"/>
<path class=c40 d="M38 87h4V100h-4z"/>
<path class=c22 d="M38 88h4V100h-4z"/>
<path class=c41 d="M38 89h4V100h-4z"/>
<path class=c43 d="M38 90h4V100h-4z"/>
<path class=c34 d="M38 91h4V100h-4z"/>
<path class=c20 d="M38 92h4V100h-4z"/>
<path class=c43 d="M38 93h4V100h-4z"/>
<path class=c1 d="M38 94h4V100h-4z"/>
<path class=c3 d="M38 95h4V100h-4z"/>
<path class=c5 d="M38 97h4V100h-4z"/>
<path class=c4 d="M38 98h4V100h-4z"/>
<path class=c7 d="M38 99h4V100h-4z"/>
<path class=c6 d="M42 0h5V100h-5z"/>
<path class=c8 d="M42 2h5V100h-5z"/>
<path class=c14 d="M42 3h5V100h-5z"/>
<path class=c21 d="M42 4h5V100h-5z"/>
<path class=c10 d="M42 5h5V100h-5z"/>
<path class=c0 d="M42 6h5V100h-5z"/>
<path class=c12 d="M42 7h5V100h-5z"/>
<path class=c6 d="M42 8h5V100h-5z"/>
<path class=c11 d="M42 9h5V100h-5z"/>
<path class=c10 d="M42 10h5V100h-5z"/>
<path class=c16 d="M42 11h5V100h-5z"/>
<path class=c0 d="M42 12h5V100h-5z"/>
<path class=c14 d="M42 13h5V100h-5z"/>
<path class=c0 d="M42 14h5V100h-5z"/>
<path class=c15 d="M42 15h5V100h-5z"/>
<path class=c9 d="M42 16h5V100h-5z"/>
<path class=c12 d="M42 17h5V100h-5z"/>
<path class=c17 d="M42 18h5V100h-5z"/>
<path class=c12 d="M42 19h5V100h-5z"/>
<path class=c1 d="M42 20h5V100h-5z"/>
<path class=c8 d="M42 21h5V100h-5z"/>
<path class=c6 d="M42 22h5V100h-5z"/>
<path class=c4 d="M42 23h5V100h-5z"/>
<path class=c17 d="M42 24h5V100h-5z"/>
<path class=c5 d="M42 25h5V100h-5z"/>
<path class=c12 d="M42 26h5V100h-5z"/>
<path class=c15 d="M42 27h5V100h-5z"/>
<path class=c0 d="M42 28h5V100h-5z"/>
<path class=c13 d="M42 30h5V100h-5z"/>
<path class=c12 d="M42 31h5V100h-5z"/>
<path class=c16 d="M42 32h5V100h-5z"/>
<path class=c12 d="M42 33h5V100h-5z"/>
<path class=c0 d="M42 35h5V100h-5z"/>
<path class=c6 d="M42 36h5V100h-5z"/>
<path class=c26 d="M42 37h5V100h-5z"/>
<path class=c16 d="M42 38h5V100h-5z"/>
<path class=c9 d="M42 39h5V100h-5z"/>
<path class=c15 d="M42 40h5V100h-5z"/>
<path class=c12 d="M42 41h5V100h-5z"/>
<path class=c0 d="M42 42h5V100h-5z"/>
<path class=c19 d="M42 43h5V100h-5z"/>
<path class=c7 d="M42 44h5V100h-5z"/>
<path class=c10 d="M42 45h5V100h-5z"/>
<path class=c23 d="M42 46h5V100h-5z"/>
<path class=c0 d="M42 47h5V100h-5z"/>
<path class=c15 d="M42 49h5V100h-5z"/>
<path class=c21 d="M42 50h5V100h-5z"/>
<path class=c16 d="M42 51h5V100h-5z"/>
<path class=c8 d="M42 52h5V100h-5z"/>
<path class=c7 d="M42 53h5V100h-5z"/>
<path class=c22 d="M42 54h5V100h-5z"/>
<path class=c15 d="M42 55h5V100h-5z"/>
<path class=c38 d="M42 56h5V100h-5z"/>
<path class=c20 d="M42 57h5V100h-5z"/>
<path class=c13 d="M42 58h5V100h-5z"/>
<path class=c27 d="M42 59h5V100h-5z"/>
<path class=c18 d="M42 60h5V100h-5z"/>
<path class=c26 d="M42 62h5V100h-5z"/>
<path class=c7 d="M42 63h5V100h-5z"/>
<path class=c30 d="M42 64h5V100h-5z"/>
<path class=c26 d="M42 65h5V100h-5z"/>
<path class=c39 d="M42 66h5V100h-5z"/>
<path class=c35 d="M42 67h5V100h-5z"/>
<path class=c37 d="M42 68h5V100h-5z"/>
<path class=c30 d="M42 69h5V100h-5z"/>
<path class=c35 d="M42 70h5V100h-5z"/>
<path class=c27 d="M42 72h5V100h-5z"/>
<path class=c21 d="M42 73h5V100h-5z"/>
<path class=c35 d="M42 74h5V100h-5z"/>
<path class=c43 d="M42 75h5V100h-5z"/>
<path class=c28 d="M42 76h5V100h-5z"/>
<path class=c36 d="M42 77h5V100h-5z"/>
<path class=c46 d="M42 78h5V100h-5z"/>
<path class=c19 d="M42 79h5V100h-5z"/>
<path class=c33 d="M42 80h5V100h-5z"/>
<path class=c42 d="M42 81h5V100h-5z"/>
<path class=c40 d="M42 82h5V100h-5z"/>
<path class=c36 d="M42 83h5V100h-5z"/>
<path class=c32 d="M42 84h5V100h-5z"/>
<path class=c38 d="M42 85h5V100h-5z"/>
<path class=c39 d="M42 86h5V100h-5z"/>
<path class=c25 d="M42 87h5V100h-5z"/>
<path class=c35 d="M42 88h5V100h-5z"/>
<path class=c26 d="M42 89h5V100h-5z"/>
<path class=c35 d="M42 90h5V100h-5z"/>
<path class=c34 d="M42 91h5V100h-5z"/>
<path class=c45 d="M42 92h5V100h-5z"/>
<path class=c32 d="M42 93h5V100h-5z"/>
<path class=c5 d="M42 94h5V100h-5z"/>
<path class=c7 d="M42 95h5V100h-5z"/>
<path class=c6 d="M42 96h5V100h-5z"/>
<path class=c5 d="M42 97h5V100h-5z"/>
<path class=c3 d="M42 98h5V100h-5z"/>
<path class=c4 d="M42 99h5V100h-5z"/>
<path class=c9 d="M47 0h5V100h-5z"/>
<path class=c3 d="M47 1h5V100h-5z"/>
<path class=c7 d="M47 3h5V100h-5z"/>
<path class=c17 d="M47 4h5V100h-5z"/>
<path class=c3 d="M47 5h5V100h-5z"/>
<path class=c18 d="M47 6h5V100h-5z"/>
<path class=c10 d="M47 7h5V100h-5z"/>
<path class=c13 d="M47 8h5V100h-5z"/>
<path class=c11 d="M47 9h5V100h-5z"/>
<path class=c5 d="M47 10h5V100h-5z"/>
<path class=c19 d="M47 11h5V100h-5z"/>
<path class=c14 d="M47 12h5V100h-5z"/>
<path class=c0 d="M47 13h5V100h-5z"/>
<path class=c9 d="M47 14h5V100h-5z"/>
<path class=c11 d="M47 15h5V100h-5z"/>
<path class=c8 d="M47 16h5V100h-5z"/>
<path class=c9 d="M47 17h5V100h-5z"/>
<path class=c3 d="M47 18h5V100h-5z"/>
<path class=c5 d="M47 19h5V100h-5z"/>
<path class=c6 d="M47 20h5V100h-5z"/>
<path class=c0 d="M47 21h5V100h-5z"/>
<path class=c14 d="M47 22h5V100h-5z"/>
<path class=c2 d="M47 23h5V100h-5z"/>
<path class=c4 d="M47 24h5V100h-5z"/>
<path class=c5 d="M47 25h5V100h-5z"/>
<path class=c8 d="M47 26h5V100h-5z"/>
<path class=c9 d="M47 27h5V100h-5z"/>
<path class=c11 d="M47 28h5V100h-5z"/>
<path class=c4 d="M47 29h5V100h-5z"/>
<path class=c16 d="M47 30h5V100h-5z"/>
<path class=c11 d="M47 31h5V100h-5z"/>
<path class=c12 d="M47 32h5V100h-5z"/>
<path class=c0 d="M47 33h5V100h-5z"/>
<path class=c13 d="M47 34h5V100h-5z"/>
<path class=c9 d="M47 36h5V100h-5z"/>
<path class=c21 d="M47 37h5V100h-5z"/>
<path class=c6 d="M47 38h5V100h-5z"/>
<path class=c0 d="M47 39h5V100h-5z"/>
<path class=c19 d="M47 40h5V100h-5z"/>
<path class=c15 d="M47 41h5V100h-5z"/>
<path class=c7 d="M47 42h5V100h-5z"/>
<path class=c19 d="M47 43h5V100h-5z"/>
<path class=c24 d="M47 44h5V100h-5z"/>
<path class=c26 d="M47 45h5V100h-5z"/>
<path class=c32 d="M47 46h5V100h-5z"/>
<path class=c22 d="M47 47h5V100h-5z"/>
<path class=c8 d="M47 48h5V100h-5z"/>
<path class=c23 d="M47 49h5V100h-5z"/>
<path class=c22 d="M47 50h5V100h-5z"/>
<path class=c0 d="M47 52h5V100h-5z"/>
<path class=c14 d="M47 55h5V100h-5z"/>
<path class=c21 d="M47 56h5V100h-5z"/>
<path class=c15 d="M47 57h5V100h-5z"/>
<path class=c20 d="M47 58h5V100h-5z"/>
<path class=c24 d="M47 59h5V100h-5z"/>
<path class=c4 d="M47 60h5V100h-5z"/>
<path class=c14 d="M47 61h5V100h-5z"/>
<path class=c17 d="M47 62h5V100h-5z"/>
<path class=c21 d="M47 63h5V100h-5z"/>
<path class=c22 d="M47 64h5V100h-5z"/>
<path class=c15 d="M47 65h5V100h-5z"/>
<path class=c3 d="M47 66h5V100h-5z"/>
<path class=c21 d="M47 67h5V100h-5z"/>
<path class=c29 d="M47 68h5V100h-5z"/>
<path class=c26 d="M47 69h5V100h-5z"/>
<path class=c31 d="M47 70h5V100h-5z"/>
<path class=c28 d="M47 71h5V100h-5z"/>
<path class=c38 d="M47 72h5V100h-5z"/>
<path class=c46 d="M47 73h5V100h-5z"/>
<path class=c40 d="M47 74h5V100h-5z"/>
<path class=c32 d="M47 75h5V100h-5z"/>
<path class=c33 d="M47 76h5V100h-5z"/>
<path class=c44 d="M47 77h5V100h-5z"/>
<path class=c57 d="M47 78h5V100h-5z"/>
<path class=c43 d="M47 79h5V100h-5z"/>
<path class=c41 d="M47 80h5V100h-5z"/>
<path class=c34 d="M47 81h5V100h-5z"/>
<path class=c29 d="M47 82h5V100h-5z"/>
<path class=c11 d="M47 83h5V100h-5z"/>
<path class=c10 d="M47 84h5V100h-5z"/>
<path class=c40 d="M47 85h5V100h-5z"/>
<path class=c39 d="M47 86h5V100h-5z"/>
<path class=c40 d="M47 87h5V100h-5z"/>
<path class=c33 d="M47 88h5V100h-5z"/>
<path class=c34 d="M47 89h5V100h-5z"/>
<path class=c36 d="M47 90h5V100h-5z"/>
<path class=c52 d="M47 91h5V100h-5z"/>
<path class=c28 d="M47 92h5V100h-5z"/>
<path class=c23 d="M47 93h5V100h-5z"/>
<path class=c8 d="M47 94h5V100h-5z"/>
<path class=c5 d="M47 96h5V100h-5z"/>
<path class=c1 d="M47 97h5V100h-5z"/>
<path class=c9 d="M47 98h5V100h-5z"/>
<path class=c6 d="M47 99h5V100h-5z"/>
<path class=c11 d="M52 0h5V100h-5z"/>
<path class=c4 d="M52 1h5V100h-5z"/>
<path class=c0 d="M52 2h5V100h-5z"/>
<path class=c10 d="M52 3h5V100h-5z"/>
<path class=c20 d="M52 4h5V100h-5z"/>
<path class=c21 d="M52 5h5V100h-5z"/>
<path class=c10 d="M52 6h5V100h-5z"/>
<path class=c13 d="M52 7h5V100h-5z"/>
<path class=c0 d="M52 8h5V100h-5z"/>
<path class=c4 d="M52 9h5V100h-5z"/>
<path class=c0 d="M52 10h5V100h-5z"/>
<path class=c9 d="M52 11h5V100h-5z"/>
<path class=c21 d="M52 12h5V100h-5z"/>
<path class=c6 d="M52 13h5V100h-5z"/>
<path class=c15 d="M52 14h5V100h-5z"/>
<path class=c6 d="M52 15h5V100h-5z"/>
<path class=c0 d="M52 16h5V100h-5z"/>
<path class=c10 d="M52 17h5V100h-5z"/>
<path class=c4 d="M52 18h5V100h-5z"/>
<path class=c10 d="M52 19h5V100h-5z"/>
<path class=c19 d="M52 20h5V100h-5z"/>
<path class=c14 d="M52 21h5V100h-5z"/>
<path class=c9 d="M52 22h5V100h-5z"/>
<path class=c5 d="M52 24h5V100h-5z"/>
<path class=c23 d="M52 25h5V100h-5z"/>
<path class=c12 d="M52 26h5V100h-5z"/>
<path class=c24 d="M52 27h5V100h-5z"/>
<path class=c12 d="M52 28h5V100h-5z"/>
<path class=c0 d="M52 29h5V100h-5z"/>
<path class=c9 d="M52 30h5V100h-5z"/>
<path class=c7 d="M52 31h5V100h-5z"/>
<path class=c6 d="M52 32h5V100h-5z"/>
<path class=c1 d="M52 33h5V100h-5z"/>
<path class=c0 d="M52 34h5V100h-5z"/>
<path class=c21 d="M52 35h5V100h-5z"/>
<path class=c7 d="M52 36h5V100h-5z"/>
<path class=c2 d="M52 37h5V100h-5z"/>
<path class=c9 d="M52 38h5V100h-5z"/>
<path class=c0 d="M52 39h5V100h-5z"/>
<path class=c16 d="M52 40h5V100h-5z"/>
<path class=c14 d="M52 41h5V100h-5z"/>
<path class=c2 d="M52 42h5V100h-5z"/>
<path class=c18 d="M52 43h5V100h-5z"/>
<path class=c2 d="M52 44h5V100h-5z"/>
<path class=c20 d="M52 45h5V100h-5z"/>
<path class=c10 d="M52 46h5V100h-5z"/>
<path class=c23 d="M52 47h5V100h-5z"/>
<path class=c11 d="M52 48h5V100h-5z"/>
<path class=c26 d="M52 49h5V100h-5z"/>
<path class=c20 d="M52 50h5V100h-5z"/>
<path class=c23 d="M52 51h5V100h-5z"/>
<path class=c22 d="M52 52h5V100h-5z"/>
<path class=c27 d="M52 53h5V100h-5z"/>
<path class=c18 d="M52 54h5V100h-5z"/>
<path class=c34 d="M52 55h5V100h-5z"/>
<path class=c27 d="M52 56h5V100h-5z"/>
<path class=c29 d="M52 57h5V100h-5z"/>
<path class=c1 d="M52 58h5V100h-5z"/>
<path class=c17 d="M52 59h5V100h-5z"/>
<path class=c35 d="M52 60h5V100h-5z"/>
<path class=c14 d="M52 61h5V100h-5z"/>
<path class=c13 d="M52 62h5V100h-5z"/>
<path class=c29 d="M52 63h5V100h-5z"/>
<path class=c22 d="M52 64h5V100h-5z"/>
<path class=c23 d="M52 65h5V100h-5z"/>
<path class=c9 d="M52 66h5V100h-5z"/>
<path class=c28 d="M52 67h5V100h-5z"/>
<path class=c12 d="M52 68h5V100h-5z"/>
<path class=c32 d="M52 69h5V100h-5z"/>
<path class=c19 d="M52 70h5V100h-5z"/>
<path class=c34 d="M52 71h5V100h-5z"/>
<path class=c43 d="M52 72h5V100h-5z"/>
<path class=c54 d="M52 73h5V100h-5z"/>
<path class=c28 d="M52 75h5V100h-5z"/>
<path class=c55 d="M52 76h5V100h-5z"/>
<path class=c50 d="M52 77h5V100h-5z"/>
<path class=c27 d="M52 78h5V100h-5z"/>
<path class=c40 d="M52 79h5V100h-5z"/>
<path class=c56 d="M52 80h5V100h-5z"/>
<path class=c33 d="M52 81h5V100h-5z"/>
<path class=c26 d="M52 82h5V100h-5z"/>
<path class=c38 d="M52 83h5V100h-5z"/>
<path class=c39 d="M52 85h5V100h-5z"/>
<path class=c37 d="M52 86h5V100h-5z"/>
<path class=c43 d="M52 87h5V100h-5z"/>
<path class=c28 d="M52 88h5V100h-5z"/>
<path class=c27 d="M52 89h5V100h-5z"/>
<path class=c26 d="M52 90h5V100h-5z"/>
<path class=c22 d="M52 91h5V100h-5z"/>
<path class=c36 d="M52 92h5V100h-5z"/>
<path class=c30 d="M52 93h5V100h-5z"/>
<path class=c8 d="M52 94h5V100h-5z"/>
<path class=c3 d="M52 95h5V100h-5z"/>
<path class=c4 d="M52 96h5V100h-5z"/>
<path class=c7 d="M52 97h5V100h-5z"/>
<path class=c5 d="M52 98h5V100h-5z"/>
<path class=c11 d="M57 0h4V100h-4z"/>
<path class=c13 d="M57 1h4V100h-4z"/>
<path class=c9 d="M57 2h4V100h-4z"/>
<path class=c13 d="M57 3h4V100h-4z"/>
<path class=c0 d="M57 4h4V100h-4z"/>
<path class=c14 d="M57 5h4V100h-4z"/>
<path class=c5 d="M57 6h4V100h-4z"/>
<path class=c14 d="M57 7h4V100h-4z"/>
<path class=c0 d="M57 8h4V100h-4z"/>
<path class=c4 d="M57 9h4V100h-4z"/>
<path class=c5 d="M57 10h4V100h-4z"/>
<path class=c9 d="M57 11h4V100h-4z"/>
<path class=c1 d="M57 12h4V100h-4z"/>
<path class=c0 d="M57 13h4V100h-4z"/>
<path class=c6 d="M57 15h4V100h-4z"/>
<path class=c4 d="M57 16h4V100h-4z"/>
<path class=c15 d="M57 17h4V100h-4z"/>
<path class=c8 d="M57 18h4V100h-4z"/>
<path class=c0 d="M57 19h4V100h-4z"/>
<path class=c5 d="M57 21h4V100h-4z"/>
<path class=c0 d="M57 22h4V100h-4z"/>
<path class=c20 d="M57 23h4V100h-4z"/>
<path class=c9 d="M57 24h4V100h-4z"/>
<path class=c2 d="M57 25h4V100h-4z"/>
<path class=c3 d="M57 26h4V100h-4z"/>
<path class=c12 d="M57 27h4V100h-4z"/>
<path class=c0 d="M57 28h4V100h-4z"/>
<path class=c4 d="M57 29h4V100h-4z"/>
<path class=c21 d="M57 30h4V100h-4z"/>
<path class=c7 d="M57 31h4V100h-4z"/>
<path class=c15 d="M57 32h4V100h-4z"/>
<path class=c14 d="M57 33h4V100h-4z"/>
<path class=c0 d="M57 34h4V100h-4z"/>
<path class=c2 d="M57 35h4V100h-4z"/>
<path class=c15 d="M57 36h4V100h-4z"/>
<path class=c2 d="M57 37h4V100h-4z"/>
<path class=c12 d="M57 38h4V100h-4z"/>
<path class=c14 d="M57 39h4V100h-4z"/>
<path class=c1 d="M57 40h4V100h-4z"/>
<path class=c16 d="M57 41h4V100h-4z"/>
<path class=c3 d="M57 42h4V100h-4z"/>
<path class=c18 d="M57 43h4V100h-4z"/>
<path class=c3 d="M57 44h4V100h-4z"/>
<path class=c0 d="M57 45h4V100h-4z"/>
<path class=c10 d="M57 46h4V100h-4z"/>
<path class=c16 d="M57 47h4V100h-4z"/>
<path class=c25 d="M57 48h4V100h-4z"/>
<path class=c7 d="M57 49h4V100h-4z"/>
<path class=c14 d="M57 50h4V100h-4z"/>
<path class=c15 d="M57 51h4V100h-4z"/>
<path class=c20 d="M57 52h4V100h-4z"/>
<path class=c14 d="M57 53h4V100h-4z"/>
<path class=c9 d="M57 54h4V100h-4z"/>
<path class=c29 d="M57 55h4V100h-4z"/>
<path class=c17 d="M57 56h4V100h-4z"/>
<path class=c15 d="M57 57h4V100h-4z"/>
<path class=c12 d="M57 58h4V100h-4z"/>
<path class=c6 d="M57 59h4V100h-4z"/>
<path class=c16 d="M57 60h4V100h-4z"/>
<path class=c17 d="M57 61h4V100h-4z"/>
<path class=c1 d="M57 62h4V100h-4z"/>
<path class=c3 d="M57 63h4V100h-4z"/>
<path class=c27 d="M57 64h4V100h-4z"/>
<path class=c41 d="M57 65h4V100h-4z"/>
<path class=c48 d="M57 66h4V100h-4z"/>
<path class=c28 d="M57 67h4V100h-4z"/>
<path class=c17 d="M57 68h4V100h-4z"/>
<path class=c27 d="M57 69h4V100h-4z"/>
<path class=c38 d="M57 70h4V100h-4z"/>
<path class=c26 d="M57 71h4V100h-4z"/>
<path class=c20 d="M57 72h4V100h-4z"/>
<path class=c21 d="M57 73h4V100h-4z"/>
<path class=c35 d="M57 74h4V100h-4z"/>
<path class=c30 d="M57 75h4V100h-4z"/>
<path class=c33 d="M57 76h4V100h-4z"/>
<path class=c32 d="M57 77h4V100h-4z"/>
<path class=c39 d="M57 78h4V100h-4z"/>
<path class=c41 d="M57 79h4V100h-4z"/>
<path class=c45 d="M57 80h4V100h-4z"/>
<path class=c32 d="M57 81h4V100h-4z"/>
<path class=c31 d="M57 82h4V100h-4z"/>
<path class=c17 d="M57 83h4V100h-4z"/>
<path class=c34 d="M57 84h4V100h-4z"/>
<path class=c52 d="M57 85h4V100h-4z"/>
<path class=c31 d="M57 87h4V100h-4z"/>
<path class=c27 d="M57 88h4V100h-4z"/>
<path class=c42 d="M57 89h4V100h-4z"/>
<path class=c25 d="M57 90h4V100h-4z"/>
<path class=c29 d="M57 91h4V100h-4z"/>
<path class=c42 d="M57 92h4V100h-4z"/>
<path class=c32 d="M57 93h4V100h-4z"/>
<path class=c2 d="M57 94h4V100h-4z"/>
<path class=c6 d="M57 95h4V100h-4z"/>
<path class=c7 d="M57 96h4V100h-4z"/>
<path class=c4 d="M57 97h4V100h-4z"/>
<path class=c6 d="M57 98h4V100h-4z"/>
<path class=c2 d="M57 99h4V100h-4z"/>
<path class=c4 d="M61 0h5V100h-5z"/>
<path class=c0 d="M61 1h5V100h-5z"/>
<path class=c11 d="M61 2h5V100h-5z"/>
<path class=c12 d="M61 3h5V100h-5z"/>
<path class=c17 d="M61 5h5V100h-5z"/>
<path class=c23 d="M61 6h5V100h-5z"/>
<path class=c16 d="M61 8h5V100h-5z"/>
<path class=c6 d="M61 9h5V100h-5z"/>
<path class=c7 d="M61 10h5V100h-5z"/>
<path class=c15 d="M61 11h5V100h-5z"/>
<path class=c10 d="M61 12h5V100h-5z"/>
<path class=c12 d="M61 13h5V100h-5z"/>
<path class=c18 d="M61 15h5V100h-5z"/>
<path class=c7 d="M61 16h5V100h-5z"/>
<path class=c24 d="M61 17h5V100h-5z"/>
<path class=c5 d="M61 18h5V100h-5z"/>
<path class=c3 d="M61 19h5V100h-5z"/>
<path class=c0 d="M61 20h5V100h-5z"/>
<path class=c21 d="M61 21h5V100h-5z"/>
<path class=c12 d="M61 22h5V100h-5z"/>
<path class=c2 d="M61 23h5V100h-5z"/>
<path class=c4 d="M61 24h5V100h-5z"/>
<path class=c14 d="M61 25h5V100h-5z"/>
<path class=c19 d="M61 26h5V100h-5z"/>
<path class=c14 d="M61 27h5V100h-5z"/>
<path class=c7 d="M61 28h5V100h-5z"/>
<path class=c0 d="M61 29h5V100h-5z"/>
<path class=c1 d="M61 30h5V100h-5z"/>
<path class=c0 d="M61 31h5V100h-5z"/>
<path class=c1 d="M61 32h5V100h-5z"/>
<path class=c8 d="M61 33h5V100h-5z"/>
<path class=c11 d="M61 34h5V100h-5z"/>
<path class=c10 d="M61 35h5V100h-5z"/>
<path class=c15 d="M61 36h5V100h-5z"/>
<path class=c0 d="M61 39h5V100h-5z"/>
<path class=c2 d="M61 41h5V100h-5z"/>
<path class=c4 d="M61 42h5V100h-5z"/>
<path class=c11 d="M61 43h5V100h-5z"/>
<path class=c17 d="M61 44h5V100h-5z"/>
<path class=c15 d="M61 45h5V100h-5z"/>
<path class=c11 d="M61 46h5V100h-5z"/>
<path class=c20 d="M61 47h5V100h-5z"/>
<path class=c21 d="M61 48h5V100h-5z"/>
<path class=c28 d="M61 49h5V100h-5z"/>
<path class=c24 d="M61 50h5V100h-5z"/>
<path class=c21 d="M61 51h5V100h-5z"/>
<path class=c12 d="M61 52h5V100h-5z"/>
<path class=c29 d="M61 53h5V100h-5z"/>
<path class=c18 d="M61 54h5V100h-5z"/>
<path class=c22 d="M61 55h5V100h-5z"/>
<path class=c18 d="M61 56h5V100h-5z"/>
<path class=c25 d="M61 57h5V100h-5z"/>
<path class=c41 d="M61 58h5V100h-5z"/>
<path class=c21 d="M61 59h5V100h-5z"/>
<path class=c33 d="M61 60h5V100h-5z"/>
<path class=c21 d="M61 61h5V100h-5z"/>
<path class=c22 d="M61 62h5V100h-5z"/>
<path class=c5 d="M61 63h5V100h-5z"/>
<path class=c31 d="M61 64h5V100h-5z"/>
<path class=c36 d="M61 65h5V100h-5z"/>
<path class=c27 d="M61 66h5V100h-5z"/>
<path class=c35 d="M61 67h5V100h-5z"/>
<path class=c28 d="M61 68h5V100h-5z"/>
<path class=c25 d="M61 69h5V100h-5z"/>
<path class=c34 d="M61 70h5V100h-5z"/>
<path class=c42 d="M61 71h5V100h-5z"/>
<path class=c25 d="M61 72h5V100h-5z"/>
<path class=c35 d="M61 73h5V100h-5z"/>
<path class=c42 d="M61 74h5V100h-5z"/>
<path class=c37 d="M61 75h5V100h-5z"/>
<path class=c38 d="M61 76h5V100h-5z"/>
<path class=c54 d="M61 77h5V100h-5z"/>
<path class=c52 d="M61 79h5V100h-5z"/>
<path class=c35 d="M61 80h5V100h-5z"/>
<path class=c46 d="M61 81h5V100h-5z"/>
<path class=c35 d="M61 82h5V100h-5z"/>
<path class=c46 d="M61 83h5V100h-5z"/>
<path class=c43 d="M61 84h5V100h-5z"/>
<path class=c16 d="M61 85h5V100h-5z"/>
<path class=c10 d="M61 86h5V100h-5z"/>
<path class=c43 d="M61 87h5V100h-5z"/>
<path class=c48 d="M61 88h5V100h-5z"/>
<path class=c29 d="M61 89h5V100h-5z"/>
<path class=c10 d="M61 90h5V100h-5z"/>
<path class=c35 d="M61 91h5V100h-5z"/>
<path class=c30 d="M61 92h5V100h-5z"/>
<path class=c19 d="M61 93h5V100h-5z"/>
<path class=c10 d="M61 94h5V100h-5z"/>
<path class=c1 d="M61 95h5V100h-5z"/>
<path class=c5 d="M61 96h5V100h-5z"/>
<path class=c2 d="M61 97h5V100h-5z"/>
<path class=c5 d="M61 98h5V100h-5z"/>
<path class=c2 d="M61 99h5V100h-5z"/>
<path class=c10 d="M66 0h5V100h-5z"/>
<path class=c13 d="M66 1h5V100h-5z"/>
<path class=c0 d="M66 2h5V100h-5z"/>
<path class=c9 d="M66 3h5V100h-5z"/>
<path class=c11 d="M66 4h5V100h-5z"/>
<path class=c20 d="M66 5h5V100h-5z"/>
<path class=c0 d="M66 6h5V100h-5z"/>
<path class=c18 d="M66 8h5V100h-5z"/>
<path class=c16 d="M66 9h5V100h-5z"/>
<path class=c13 d="M66 10h5V100h-5z"/>
<path class=c17 d="M66 11h5V100h-5z"/>
<path class=c15 d="M66 12h5V100h-5z"/>
<path class=c21 d="M66 14h5V100h-5z"/>
<path class=c13 d="M66 15h5V100h-5z"/>
<path class=c3 d="M66 16h5V100h-5z"/>
<path class=c0 d="M66 17h5V100h-5z"/>
<path class=c7 d="M66 18h5V100h-5z"/>
<path class=c12 d="M66 19h5V100h-5z"/>
<path class=c6 d="M66 20h5V100h-5z"/>
<path class=c20 d="M66 21h5V100h-5z"/>
<path class=c2 d="M66 22h5V100h-5z"/>
<path class=c0 d="M66 23h5V100h-5z"/>
<path class=c9 d="M66 24h5V100h-5z"/>
<path class=c7 d="M66 25h5V100h-5z"/>
<path class=c6 d="M66 26h5V100h-5z"/>
<path class=c13 d="M66 27h5V100h-5z"/>
<path class=c20 d="M66 28h5V100h-5z"/>
<path class=c7 d="M66 29h5V100h-5z"/>
<path class=c5 d="M66 30h5V100h-5z"/>
<path class=c9 d="M66 31h5V100h-5z"/>
<path class=c12 d="M66 32h5V100h-5z"/>
<path class=c13 d="M66 33h5V100h-5z"/>
<path class=c8 d="M66 34h5V100h-5z"/>
<path class=c2 d="M66 35h5V100h-5z"/>
<path class=c1 d="M66 36h5V100h-5z"/>
<path class=c23 d="M66 37h5V100h-5z"/>
<path class=c12 d="M66 38h5V100h-5z"/>
<path class=c0 d="M66 39h5V100h-5z"/>
<path class=c6 d="M66 40h5V100h-5z"/>
<path class=c9 d="M66 41h5V100h-5z"/>
<path class=c20 d="M66 42h5V100h-5z"/>
<path class=c22 d="M66 44h5V100h-5z"/>
<path class=c7 d="M66 45h5V100h-5z"/>
<path class=c22 d="M66 46h5V100h-5z"/>
<path class=c28 d="M66 47h5V100h-5z"/>
<path class=c19 d="M66 48h5V100h-5z"/>
<path class=c18 d="M66 49h5V100h-5z"/>
<path class=c28 d="M66 50h5V100h-5z"/>
<path class=c26 d="M66 51h5V100h-5z"/>
<path class=c29 d="M66 52h5V100h-5z"/>
<path class=c17 d="M66 53h5V100h-5z"/>
<path class=c33 d="M66 54h5V100h-5z"/>
<path class=c22 d="M66 55h5V100h-5z"/>
<path class=c9 d="M66 56h5V100h-5z"/>
<path class=c28 d="M66 57h5V100h-5z"/>
<path class=c21 d="M66 58h5V100h-5z"/>
<path class=c3 d="M66 59h5V100h-5z"/>
<path class=c14 d="M66 60h5V100h-5z"/>
<path class=c0 d="M66 61h5V100h-5z"/>
<path class=c19 d="M66 63h5V100h-5z"/>
<path class=c32 d="M66 64h5V100h-5z"/>
<path class=c31 d="M66 65h5V100h-5z"/>
<path class=c35 d="M66 66h5V100h-5z"/>
<path class=c44 d="M66 67h5V100h-5z"/>
<path class=c20 d="M66 68h5V100h-5z"/>
<path class=c17 d="M66 69h5V100h-5z"/>
<path class=c29 d="M66 70h5V100h-5z"/>
<path class=c34 d="M66 71h5V100h-5z"/>
<path class=c43 d="M66 72h5V100h-5z"/>
<path class=c23 d="M66 73h5V100h-5z"/>
<path class=c41 d="M66 74h5V100h-5z"/>
<path class=c27 d="M66 75h5V100h-5z"/>
<path class=c37 d="M66 76h5V100h-5z"/>
<path class=c20 d="M66 77h5V100h-5z"/>
<path class=c39 d="M66 78h5V100h-5z"/>
<path class=c14 d="M66 79h5V100h-5z"/>
<path class=c27 d="M66 80h5V100h-5z"/>
<path class=c1 d="M66 81h5V100h-5z"/>
<path class=c22 d="M66 82h5V100h-5z"/>
<path class=c29 d="M66 83h5V100h-5z"/>
<path class=c34 d="M66 84h5V100h-5z"/>
<path class=c38 d="M66 85h5V100h-5z"/>
<path class=c46 d="M66 86h5V100h-5z"/>
<path class=c31 d="M66 87h5V100h-5z"/>
<path class=c32 d="M66 88h5V100h-5z"/>
<path class=c22 d="M66 89h5V100h-5z"/>
<path class=c33 d="M66 90h5V100h-5z"/>
<path class=c25 d="M66 91h5V100h-5z"/>
<path class=c36 d="M66 92h5V100h-5z"/>
<path class=c3 d="M66 94h5V100h-5z"/>
<path class=c6 d="M66 95h5V100h-5z"/>
<path class=c4 d="M66 96h5V100h-5z"/>
<path class=c3 d="M66 97h5V100h-5z"/>
<path class=c6 d="M66 98h5V100h-5z"/>
<path class=c7 d="M71 0h4V100h-4z"/>
<path class=c13 d="M71 1h4V100h-4z"/>
<path class=c12 d="M71 2h4V100h-4z"/>
<path class=c13 d="M71 3h4V100h-4z"/>
<path class=c0 d="M71 4h4V100h-4z"/>
<path class=c12 d="M71 5h4V100h-4z"/>
<path class=c0 d="M71 6h4V100h-4z"/>
<path class=c14 d="M71 7h4V100h-4z"/>
<path class=c13 d="M71 8h4V100h-4z"/>
<path class=c2 d="M71 9h4V100h-4z"/>
<path class=c0 d="M71 10h4V100h-4z"/>
<path class=c13 d="M71 12h4V100h-4z"/>
<path class=c0 d="M71 13h4V100h-4z"/>
<path class=c18 d="M71 15h4V100h-4z"/>
<path class=c10 d="M71 16h4V100h-4z"/>
<path class=c4 d="M71 17h4V100h-4z"/>
<path class=c11 d="M71 18h4V100h-4z"/>
<path class=c5 d="M71 19h4V100h-4z"/>
<path class=c1 d="M71 20h4V100h-4z"/>
<path class=c8 d="M71 21h4V100h-4z"/>
<path class=c0 d="M71 22h4V100h-4z"/>
<path class=c10 d="M71 24h4V100h-4z"/>
<path class=c16 d="M71 25h4V100h-4z"/>
<path class=c19 d="M71 26h4V100h-4z"/>
<path class=c7 d="M71 27h4V100h-4z"/>
<path class=c0 d="M71 28h4V100h-4z"/>
<path class=c11 d="M71 30h4V100h-4z"/>
<path class=c0 d="M71 31h4V100h-4z"/>
<path class=c16 d="M71 32h4V100h-4z"/>
<path class=c6 d="M71 33h4V100h-4z"/>
<path class=c9 d="M71 34h4V100h-4z"/>
<path class=c13 d="M71 35h4V100h-4z"/>
<path class=c17 d="M71 36h4V100h-4z"/>
<path class=c19 d="M71 37h4V100h-4z"/>
<path class=c21 d="M71 38h4V100h-4z"/>
<path class=c15 d="M71 40h4V100h-4z"/>
<path class=c10 d="M71 41h4V100h-4z"/>
<path class=c3 d="M71 42h4V100h-4z"/>
<path class=c6 d="M71 43h4V100h-4z"/>
<path class=c10 d="M71 44h4V100h-4z"/>
<path class=c35 d="M71 45h4V100h-4z"/>
<path class=c32 d="M71 46h4V100h-4z"/>
<path class=c17 d="M71 47h4V100h-4z"/>
<path class=c10 d="M71 48h4V100h-4z"/>
<path class=c17 d="M71 49h4V100h-4z"/>
<path class=c13 d="M71 50h4V100h-4z"/>
<path class=c18 d="M71 51h4V100h-4z"/>
<path class=c26 d="M71 52h4V100h-4z"/>
<path class=c6 d="M71 53h4V100h-4z"/>
<path class=c26 d="M71 54h4V100h-4z"/>
<path class=c19 d="M71 55h4V100h-4z"/>
<path class=c0 d="M71 56h4V100h-4z"/>
<path class=c23 d="M71 57h4V100h-4z"/>
<path class=c29 d="M71 58h4V100h-4z"/>
<path class=c14 d="M71 59h4V100h-4z"/>
<path class=c18 d="M71 60h4V100h-4z"/>
<path class=c33 d="M71 61h4V100h-4z"/>
<path class=c5 d="M71 62h4V100h-4z"/>
<path class=c0 d="M71 63h4V100h-4z"/>
<path class=c19 d="M71 64h4V100h-4z"/>
<path class=c32 d="M71 65h4V100h-4z"/>
<path class=c30 d="M71 66h4V100h-4z"/>
<path class=c17 d="M71 67h4V100h-4z"/>
<path class=c20 d="M71 68h4V100h-4z"/>
<path class=c6 d="M71 69h4V100h-4z"/>
<path class=c12 d="M71 70h4V100h-4z"/>
<path class=c23 d="M71 71h4V100h-4z"/>
<path class=c30 d="M71 72h4V100h-4z"/>
<path class=c51 d="M71 73h4V100h-4z"/>
<path class=c32 d="M71 74h4V100h-4z"/>
<path class=c35 d="M71 75h4V100h-4z"/>
<path class=c47 d="M71 76h4V100h-4z"/>
<path class=c46 d="M71 77h4V100h-4z"/>
<path class=c35 d="M71 78h4V100h-4z"/>
<path class=c50 d="M71 79h4V100h-4z"/>
<path class=c33 d="M71 80h4V100h-4z"/>
<path class=c39 d="M71 81h4V100h-4z"/>
<path class=c37 d="M71 82h4V100h-4z"/>
<path class=c27 d="M71 83h4V100h-4z"/>
<path class=c34 d="M71 84h4V100h-4z"/>
<path class=c15 d="M71 85h4V100h-4z"/>
<path class=c37 d="M71 86h4V100h-4z"/>
<path class=c35 d="M71 87h4V100h-4z"/>
<path class=c27 d="M71 88h4V100h-4z"/>
<path class=c38 d="M71 89h4V100h-4z"/>
<path class=c31 d="M71 90h4V100h-4z"/>
<path class=c37 d="M71 91h4V100h-4z"/>
<path class=c32 d="M71 92h4V100h-4z"/>
<path class=c18 d="M71 93h4V100h-4z"/>
<path class=c3 d="M71 94h4V100h-4z"/>
<path class=c2 d="M71 95h4V100h-4z"/>
<path class=c5 d="M71 96h4V100h-4z"/>
<path class=c4 d="M71 97h4V100h-4z"/>
<path class=c5 d="M71 98h4V100h-4z"/>
<path class=c4 d="M71 99h4V100h-4z"/>
<path class=c9 d="M75 0h5V100h-5z"/>
<path class=c1 d="M75 1h5V100h-5z"/>
<path class=c5 d="M75 2h5V100h-5z"/>
<path class=c0 d="M75 3h5V100h-5z"/>
<path class=c4 d="M75 4h5V100h-5z"/>
<path class=c9 d="M75 5h5V100h-5z"/>
<path class=c5 d="M75 6h5V100h-5z"/>
<path class=c4 d="M75 7h5V100h-5z"/>
<path class=c16 d="M75 8h5V100h-5z"/>
<path class=c3 d="M75 9h5V100h-5z"/>
<path class=c4 d="M75 10h5V100h-5z"/>
<path class=c6 d="M75 11h5V100h-5z"/>
<path class=c3 d="M75 12h5V100h-5z"/>
<path class=c0 d="M75 14h5V100h-5z"/>
<path class=c13 d="M75 15h5V100h-5z"/>
<path class=c6 d="M75 16h5V100h-5z"/>
<path class=c0 d="M75 18h5V100h-5z"/>
<path class=c18 d="M75 19h5V100h-5z"/>
<path class=c12 d="M75 20h5V100h-5z"/>
<path class=c0 d="M75 21h5V100h-5z"/>
<path class=c13 d="M75 23h5V100h-5z"/>
<path class=c6 d="M75 24h5V100h-5z"/>
<path class=c21 d="M75 25h5V100h-5z"/>
<path class=c14 d="M75 26h5V100h-5z"/>
<path class=c16 d="M75 27h5V100h-5z"/>
<path class=c3 d="M75 28h5V100h-5z"/>
<path class=c12 d="M75 29h5V100h-5z"/>
<path class=c16 d="M75 30h5V100h-5z"/>
<path class=c4 d="M75 31h5V100h-5z"/>
<path class=c9 d="M75 32h5V100h-5z"/>
<path class=c0 d="M75 33h5V100h-5z"/>
<path class=c16 d="M75 34h5V100h-5z"/>
<path class=c15 d="M75 35h5V100h-5z"/>
<path class=c16 d="M75 36h5V100h-5z"/>
<path class=c12 d="M75 37h5V100h-5z"/>
<path class=c22 d="M75 38h5V100h-5z"/>
<path class=c5 d="M75 39h5V100h-5z"/>
<path class=c21 d="M75 40h5V100h-5z"/>
<path class=c18 d="M75 42h5V100h-5z"/>
<path class=c22 d="M75 43h5V100h-5z"/>
<path class=c18 d="M75 44h5V100h-5z"/>
<path class=c13 d="M75 45h5V100h-5z"/>
<path class=c0 d="M75 46h5V100h-5z"/>
<path class=c30 d="M75 48h5V100h-5z"/>
<path class=c9 d="M75 49h5V100h-5z"/>
<path class=c0 d="M75 50h5V100h-5z"/>
<path class=c1 d="M75 51h5V100h-5z"/>
<path class=c27 d="M75 52h5V100h-5z"/>
<path class=c2 d="M75 53h5V100h-5z"/>
<path class=c15 d="M75 54h5V100h-5z"/>
<path class=c14 d="M75 55h5V100h-5z"/>
<path class=c20 d="M75 56h5V100h-5z"/>
<path class=c33 d="M75 57h5V100h-5z"/>
<path class=c7 d="M75 58h5V100h-5z"/>
<path class=c30 d="M75 59h5V100h-5z"/>
<path class=c21 d="M75 60h5V100h-5z"/>
<path class=c23 d="M75 61h5V100h-5z"/>
<path class=c29 d="M75 62h5V100h-5z"/>
<path class=c19 d="M75 63h5V100h-5z"/>
<path class=c0 d="M75 64h5V100h-5z"/>
<path class=c19 d="M75 65h5V100h-5z"/>
<path class=c15 d="M75 66h5V100h-5z"/>
<path class=c29 d="M75 67h5V100h-5z"/>
<path class=c19 d="M75 68h5V100h-5z"/>
<path class=c25 d="M75 69h5V100h-5z"/>
<path class=c35 d="M75 70h5V100h-5z"/>
<path class=c41 d="M75 71h5V100h-5z"/>
<path class=c43 d="M75 72h5V100h-5z"/>
<path class=c49 d="M75 73h5V100h-5z"/>
<path class=c39 d="M75 74h5V100h-5z"/>
<path class=c48 d="M75 75h5V100h-5z"/>
<path class=c50 d="M75 76h5V100h-5z"/>
<path class=c48 d="M75 77h5V100h-5z"/>
<path class=c54 d="M75 78h5V100h-5z"/>
<path class=c22 d="M75 80h5V100h-5z"/>
<path class=c28 d="M75 81h5V100h-5z"/>
<path class=c41 d="M75 82h5V100h-5z"/>
<path class=c28 d="M75 83h5V100h-5z"/>
<path class=c30 d="M75 84h5V100h-5z"/>
<path class=c43 d="M75 85h5V100h-5z"/>
<path class=c36 d="M75 86h5V100h-5z"/>
<path class=c39 d="M75 87h5V100h-5z"/>
<path class=c34 d="M75 88h5V100h-5z"/>
<path class=c35 d="M75 89h5V100h-5z"/>
<path class=c28 d="M75 90h5V100h-5z"/>
<path class=c33 d="M75 91h5V100h-5z"/>
<path class=c20 d="M75 92h5V100h-5z"/>
<path class=c3 d="M75 94h5V100h-5z"/>
<path class=c4 d="M75 95h5V100h-5z"/>
<path class=c0 d="M75 96h5V100h-5z"/>
<path class=c5 d="M75 97h5V100h-5z"/>
<path class=c2 d="M75 98h5V100h-5z"/>
<path class=c6 d="M75 99h5V100h-5z"/>
<path class=c11 d="M80 0h5V100h-5z"/>
<path class=c20 d="M80 1h5V100h-5z"/>
<path class=c15 d="M80 2h5V100h-5z"/>
<path class=c11 d="M80 3h5V100h-5z"/>
<path class=c2 d="M80 4h5V100h-5z"/>
<path class=c11 d="M80 5h5V100h-5z"/>
<path class=c13 d="M80 6h5V100h-5z"/>
<path class=c0 d="M80 7h5V100h-5z"/>
<path class=c8 d="M80 8h5V100h-5z"/>
<path class=c17 d="M80 9h5V100h-5z"/>
<path class=c4 d="M80 10h5V100h-5z"/>
<path class=c11 d="M80 11h5V100h-5z"/>
<path class=c4 d="M80 12h5V100h-5z"/>
<path class=c5 d="M80 13h5V100h-5z"/>
<path class=c17 d="M80 14h5V100h-5z"/>
<path class=c14 d="M80 15h5V100h-5z"/>
<path class=c7 d="M80 16h5V100h-5z"/>
<path class=c15 d="M80 17h5V100h-5z"/>
<path class=c13 d="M80 18h5V100h-5z"/>
<path class=c19 d="M80 19h5V100h-5z"/>
<path class=c7 d="M80 20h5V100h-5z"/>
<path class=c17 d="M80 21h5V100h-5z"/>
<path class=c9 d="M80 22h5V100h-5z"/>
<path class=c2 d="M80 23h5V100h-5z"/>
<path class=c1 d="M80 24h5V100h-5z"/>
<path class=c2 d="M80 25h5V100h-5z"/>
<path class=c6 d="M80 26h5V100h-5z"/>
<path class=c12 d="M80 27h5V100h-5z"/>
<path class=c23 d="M80 28h5V100h-5z"/>
<path class=c12 d="M80 29h5V100h-5z"/>
<path class=c20 d="M80 31h5V100h-5z"/>
<path class=c8 d="M80 32h5V100h-5z"/>
<path class=c0 d="M80 33h5V100h-5z"/>
<path class=c4 d="M80 35h5V100h-5z"/>
<path class=c10 d="M80 36h5V100h-5z"/>
<path class=c6 d="M80 37h5V100h-5z"/>
<path class=c4 d="M80 38h5V100h-5z"/>
<path class=c9 d="M80 39h5V100h-5z"/>
<path class=c25 d="M80 40h5V100h-5z"/>
<path class=c21 d="M80 41h5V100h-5z"/>
<path class=c9 d="M80 42h5V100h-5z"/>
<path class=c15 d="M80 43h5V100h-5z"/>
<path class=c31 d="M80 44h5V100h-5z"/>
<path class=c22 d="M80 45h5V100h-5z"/>
<path class=c19 d="M80 46h5V100h-5z"/>
<path class=c18 d="M80 47h5V100h-5z"/>
<path class=c21 d="M80 48h5V100h-5z"/>
<path class=c33 d="M80 49h5V100h-5z"/>
<path class=c15 d="M80 50h5V100h-5z"/>
<path class=c25 d="M80 51h5V100h-5z"/>
<path class=c35 d="M80 52h5V100h-5z"/>
<path class=c25 d="M80 53h5V100h-5z"/>
<path class=c35 d="M80 54h5V100h-5z"/>
<path class=c13 d="M80 55h5V100h-5z"/>
<path class=c3 d="M80 56h5V100h-5z"/>
<path class=c15 d="M80 57h5V100h-5z"/>
<path class=c31 d="M80 58h5V100h-5z"/>
<path class=c25 d="M80 59h5V100h-5z"/>
<path class=c32 d="M80 60h5V100h-5z"/>
<path class=c14 d="M80 61h5V100h-5z"/>
<path class=c39 d="M80 62h5V100h-5z"/>
<path class=c19 d="M80 63h5V100h-5z"/>
<path class=c31 d="M80 64h5V100h-5z"/>
<path class=c30 d="M80 65h5V100h-5z"/>
<path class=c24 d="M80 66h5V100h-5z"/>
<path class=c21 d="M80 67h5V100h-5z"/>
<path class=c33 d="M80 68h5V100h-5z"/>
<path class=c16 d="M80 69h5V100h-5z"/>
<path class=c41 d="M80 70h5V100h-5z"/>
<path class=c34 d="M80 71h5V100h-5z"/>
<path class=c36 d="M80 72h5V100h-5z"/>
<path class=c18 d="M80 73h5V100h-5z"/>
<path class=c42 d="M80 74h5V100h-5z"/>
<path class=c49 d="M80 75h5V100h-5z"/>
<path class=c27 d="M80 76h5V100h-5z"/>
<path class=c34 d="M80 77h5V100h-5z"/>
<path class=c42 d="M80 78h5V100h-5z"/>
<path class=c37 d="M80 79h5V100h-5z"/>
<path class=c45 d="M80 80h5V100h-5z"/>
<path class=c39 d="M80 81h5V100h-5z"/>
<path class=c26 d="M80 82h5V100h-5z"/>
<path class=c32 d="M80 83h5V100h-5z"/>
<path class=c53 d="M80 84h5V100h-5z"/>
<path class=c29 d="M80 85h5V100h-5z"/>
<path class=c35 d="M80 86h5V100h-5z"/>
<path class=c15 d="M80 87h5V100h-5z"/>
<path class=c33 d="M80 88h5V100h-5z"/>
<path class=c50 d="M80 89h5V100h-5z"/>
<path class=c29 d="M80 91h5V100h-5z"/>
<path class=c14 d="M80 92h5V100h-5z"/>
<path class=c31 d="M80 93h5V100h-5z"/>
<path class=c8 d="M80 94h5V100h-5z"/>
<path class=c5 d="M80 95h5V100h-5z"/>
<path class=c3 d="M80 96h5V100h-5z"/>
<path class=c2 d="M80 97h5V100h-5z"/>
<path class=c5 d="M80 98h5V100h-5z"/>
<path class=c4 d="M80 99h5V100h-5z"/>
<path class=c0 d="M85 0h4V100h-4z"/>
<path class=c4 d="M85 2h4V100h-4z"/>
<path class=c0 d="M85 3h4V100h-4z"/>
<path class=c10 d="M85 4h4V100h-4z"/>
<path class=c0 d="M85 5h4V100h-4z"/>
<path class=c13 d="M85 6h4V100h-4z"/>
<path class=c4 d="M85 7h4V100h-4z"/>
<path class=c0 d="M85 8h4V100h-4z"/>
<path class=c16 d="M85 9h4V100h-4z"/>
<path class=c10 d="M85 10h4V100h-4z"/>
<path class=c9 d="M85 11h4V100h-4z"/>
<path class=c0 d="M85 12h4V100h-4z"/>
<path class=c7 d="M85 14h4V100h-4z"/>
<path class=c11 d="M85 15h4V100h-4z"/>
<path class=c9 d="M85 17h4V100h-4z"/>
<path class=c18 d="M85 18h4V100h-4z"/>
<path class=c4 d="M85 19h4V100h-4z"/>
<path class=c11 d="M85 20h4V100h-4z"/>
<path class=c10 d="M85 21h4V100h-4z"/>
<path class=c13 d="M85 22h4V100h-4z"/>
<path class=c0 d="M85 23h4V100h-4z"/>
<path class=c19 d="M85 24h4V100h-4z"/>
<path class=c22 d="M85 25h4V100h-4z"/>
<path class=c18 d="M85 26h4V100h-4z"/>
<path class=c9 d="M85 27h4V100h-4z"/>
<path class=c17 d="M85 28h4V100h-4z"/>
<path class=c3 d="M85 29h4V100h-4z"/>
<path class=c12 d="M85 30h4V100h-4z"/>
<path class=c10 d="M85 31h4V100h-4z"/>
<path class=c0 d="M85 32h4V100h-4z"/>
<path class=c4 d="M85 33h4V100h-4z"/>
<path class=c9 d="M85 34h4V100h-4z"/>
<path class=c4 d="M85 35h4V100h-4z"/>
<path class=c13 d="M85 36h4V100h-4z"/>
<path class=c19 d="M85 37h4V100h-4z"/>
<path class=c24 d="M85 38h4V100h-4z"/>
<path class=c7 d="M85 39h4V100h-4z"/>
<path class=c16 d="M85 40h4V100h-4z"/>
<path class=c17 d="M85 41h4V100h-4z"/>
<path class=c12 d="M85 42h4V100h-4z"/>
<path class=c6 d="M85 43h4V100h-4z"/>
<path class=c5 d="M85 44h4V100h-4z"/>
<path class=c31 d="M85 45h4V100h-4z"/>
<path class=c21 d="M85 46h4V100h-4z"/>
<path class=c4 d="M85 47h4V100h-4z"/>
<path class=c0 d="M85 48h4V100h-4z"/>
<path class=c26 d="M85 49h4V100h-4z"/>
<path class=c9 d="M85 50h4V100h-4z"/>
<path class=c20 d="M85 51h4V100h-4z"/>
<path class=c27 d="M85 52h4V100h-4z"/>
<path class=c24 d="M85 54h4V100h-4z"/>
<path class=c33 d="M85 55h4V100h-4z"/>
<path class=c9 d="M85 56h4V100h-4z"/>
<path class=c0 d="M85 57h4V100h-4z"/>
<path class=c8 d="M85 58h4V100h-4z"/>
<path class=c3 d="M85 59h4V100h-4z"/>
<path class=c25 d="M85 60h4V100h-4z"/>
<path class=c28 d="M85 61h4V100h-4z"/>
<path class=c3 d="M85 62h4V100h-4z"/>
<path class=c21 d="M85 63h4V100h-4z"/>
<path class=c37 d="M85 64h4V100h-4z"/>
<path class=c31 d="M85 65h4V100h-4z"/>
<path class=c22 d="M85 66h4V100h-4z"/>
<path class=c5 d="M85 67h4V100h-4z"/>
<path class=c30 d="M85 68h4V100h-4z"/>
<path class=c14 d="M85 69h4V100h-4z"/>
<path class=c33 d="M85 70h4V100h-4z"/>
<path class=c23 d="M85 71h4V100h-4z"/>
<path class=c32 d="M85 72h4V100h-4z"/>
<path class=c18 d="M85 73h4V100h-4z"/>
<path class=c37 d="M85 74h4V100h-4z"/>
<path class=c50 d="M85 75h4V100h-4z"/>
<path class=c34 d="M85 76h4V100h-4z"/>
<path class=c39 d="M85 77h4V100h-4z"/>
<path class=c45 d="M85 78h4V100h-4z"/>
<path class=c26 d="M85 79h4V100h-4z"/>
<path class=c29 d="M85 80h4V100h-4z"/>
<path class=c31 d="M85 81h4V100h-4z"/>
<path class=c42 d="M85 82h4V100h-4z"/>
<path class=c39 d="M85 83h4V100h-4z"/>
<path class=c44 d="M85 84h4V100h-4z"/>
<path class=c48 d="M85 85h4V100h-4z"/>
<path class=c35 d="M85 86h4V100h-4z"/>
<path class=c41 d="M85 87h4V100h-4z"/>
<path class=c33 d="M85 88h4V100h-4z"/>
<path class=c30 d="M85 89h4V100h-4z"/>
<path class=c44 d="M85 90h4V100h-4z"/>
<path class=c27 d="M85 91h4V100h-4z"/>
<path class=c35 d="M85 92h4V100h-4z"/>
<path class=c48 d="M85 93h4V100h-4z"/>
<path class=c5 d="M85 94h4V100h-4z"/>
<path class=c4 d="M85 95h4V100h-4z"/>
<path class=c3 d="M85 96h4V100h-4z"/>
<path class=c2 d="M85 97h4V100h-4z"/>
<path class=c6 d="M85 98h4V100h-4z"/>
<path class=c10 d="M85 99h4V100h-4z"/>
<path class=c3 d="M89 0h5V100h-5z"/>
<path class=c4 d="M89 1h5V100h-5z"/>
<path class=c0 d="M89 2h5V100h-5z"/>
<path class=c7 d="M89 3h5V100h-5z"/>
<path class=c2 d="M89 4h5V100h-5z"/>
<path class=c0 d="M89 5h5V100h-5z"/>
<path class=c4 d="M89 6h5V100h-5z"/>
<path class=c13 d="M89 7h5V100h-5z"/>
<path class=c11 d="M89 8h5V100h-5z"/>
<path class=c3 d="M89 9h5V100h-5z"/>
<path class=c16 d="M89 10h5V100h-5z"/>
<path class=c4 d="M89 11h5V100h-5z"/>
<path class=c7 d="M89 12h5V100h-5z"/>
<path class=c13 d="M89 13h5V100h-5z"/>
<path class=c6 d="M89 14h5V100h-5z"/>
<path class=c19 d="M89 15h5V100h-5z"/>
<path class=c6 d="M89 16h5V100h-5z"/>
<path class=c17 d="M89 17h5V100h-5z"/>
<path class=c11 d="M89 18h5V100h-5z"/>
<path class=c2 d="M89 19h5V100h-5z"/>
<path class=c0 d="M89 20h5V100h-5z"/>
<path class=c9 d="M89 21h5V100h-5z"/>
<path class=c16 d="M89 22h5V100h-5z"/>
<path class=c15 d="M89 23h5V100h-5z"/>
<path class=c7 d="M89 24h5V100h-5z"/>
<path class=c10 d="M89 25h5V100h-5z"/>
<path class=c2 d="M89 26h5V100h-5z"/>
<path class=c0 d="M89 27h5V100h-5z"/>
<path class=c15 d="M89 29h5V100h-5z"/>
<path class=c23 d="M89 30h5V100h-5z"/>
<path class=c20 d="M89 31h5V100h-5z"/>
<path class=c13 d="M89 32h5V100h-5z"/>
<path class=c6 d="M89 33h5V100h-5z"/>
<path class=c20 d="M89 34h5V100h-5z"/>
<path class=c12 d="M89 35h5V100h-5z"/>
<path class=c20 d="M89 36h5V100h-5z"/>
<path class=c2 d="M89 37h5V100h-5z"/>
<path class=c0 d="M89 38h5V100h-5z"/>
<path class=c2 d="M89 39h5V100h-5z"/>
<path class=c14 d="M89 40h5V100h-5z"/>
<path class=c5 d="M89 41h5V100h-5z"/>
<path class=c0 d="M89 42h5V100h-5z"/>
<path class=c7 d="M89 43h5V100h-5z"/>
<path class=c17 d="M89 44h5V100h-5z"/>
<path class=c6 d="M89 45h5V100h-5z"/>
<path class=c0 d="M89 46h5V100h-5z"/>
<path class=c21 d="M89 47h5V100h-5z"/>
<path class=c9 d="M89 48h5V100h-5z"/>
<path class=c22 d="M89 49h5V100h-5z"/>
<path class=c15 d="M89 50h5V100h-5z"/>
<path class=c16 d="M89 51h5V100h-5z"/>
<path class=c19 d="M89 52h5V100h-5z"/>
<path class=c21 d="M89 53h5V100h-5z"/>
<path class=c23 d="M89 54h5V100h-5z"/>
<path class=c17 d="M89 55h5V100h-5z"/>
<path class=c6 d="M89 56h5V100h-5z"/>
<path class=c20 d="M89 57h5V100h-5z"/>
<path class=c13 d="M89 58h5V100h-5z"/>
<path class=c34 d="M89 59h5V100h-5z"/>
<path class=c31 d="M89 60h5V100h-5z"/>
<path class=c20 d="M89 61h5V100h-5z"/>
<path class=c28 d="M89 62h5V100h-5z"/>
<path class=c23 d="M89 63h5V100h-5z"/>
<path class=c33 d="M89 64h5V100h-5z"/>
<path class=c32 d="M89 65h5V100h-5z"/>
<path class=c18 d="M89 66h5V100h-5z"/>
<path class=c39 d="M89 67h5V100h-5z"/>
<path class=c53 d="M89 68h5V100h-5z"/>
<path class=c39 d="M89 69h5V100h-5z"/>
<path class=c44 d="M89 70h5V100h-5z"/>
<path class=c36 d="M89 71h5V100h-5z"/>
<path class=c28 d="M89 72h5V100h-5z"/>
<path class=c37 d="M89 73h5V100h-5z"/>
<path class=c29 d="M89 74h5V100h-5z"/>
<path class=c20 d="M89 75h5V100h-5z"/>
<path class=c24 d="M89 76h5V100h-5z"/>
<path class=c39 d="M89 77h5V100h-5z"/>
<path class=c41 d="M89 78h5V100h-5z"/>
<path class=c21 d="M89 79h5V100h-5z"/>
<path class=c45 d="M89 80h5V100h-5z"/>
<path class=c27 d="M89 81h5V100h-5z"/>
<path class=c20 d="M89 82h5V100h-5z"/>
<path class=c33 d="M89 83h5V100h-5z"/>
<path class=c20 d="M89 84h5V100h-5z"/>
<path class=c25 d="M89 85h5V100h-5z"/>
<path class=c34 d="M89 86h5V100h-5z"/>
<path class=c50 d="M89 87h5V100h-5z"/>
<path class=c44 d="M89 89h5V100h-5z"/>
<path class=c29 d="M89 90h5V100h-5z"/>
<path class=c21 d="M89 91h5V100h-5z"/>
<path class=c29 d="M89 92h5V100h-5z"/>
<path class=c19 d="M89 93h5V100h-5z"/>
<path class=c7 d="M89 94h5V100h-5z"/>
<path class=c9 d="M89 96h5V100h-5z"/>
<path class=c6 d="M89 97h5V100h-5z"/>
<path class=c4 d="M89 99h5V100h-5z"/>
<path class=c19 d="M94 0h5V100h-5z"/>
<path class=c16 d="M94 1h5V100h-5z"/>
<path class=c12 d="M94 2h5V100h-5z"/>
<path class=c2 d="M94 3h5V100h-5z"/>
<path class=c0 d="M94 4h5V100h-5z"/>
<path class=c6 d="M94 5h5V100h-5z"/>
<path class=c2 d="M94 6h5V100h-5z"/>
<path class=c5 d="M94 7h5V100h-5z"/>
<path class=c10 d="M94 8h5V100h-5z"/>
<path class=c14 d="M94 9h5V100h-5z"/>
<path class=c11 d="M94 10h5V100h-5z"/>
<path class=c3 d="M94 11h5V100h-5z"/>
<path class=c15 d="M94 12h5V100h-5z"/>
<path class=c0 d="M94 13h5V100h-5z"/>
<path class=c1 d="M94 14h5V100h-5z"/>
<path class=c9 d="M94 15h5V100h-5z"/>
<path class=c7 d="M94 16h5V100h-5z"/>
<path class=c20 d="M94 17h5V100h-5z"/>
<path class=c12 d="M94 18h5V100h-5z"/>
<path class=c20 d="M94 19h5V100h-5z"/>
<path class=c16 d="M94 20h5V100h-5z"/>
<path class=c5 d="M94 21h5V100h-5z"/>
<path class=c10 d="M94 22h5V100h-5z"/>
<path class=c12 d="M94 23h5V100h-5z"/>
<path class=c1 d="M94 24h5V100h-5z"/>
<path class=c7 d="M94 25h5V100h-5z"/>
<path class=c12 d="M94 26h5V100h-5z"/>
<path class=c8 d="M94 27h5V100h-5z"/>
<path class=c6 d="M94 28h5V100h-5z"/>
<path class=c12 d="M94 29h5V100h-5z"/>
<path class=c11 d="M94 30h5V100h-5z"/>
<path class=c16 d="M94 31h5V100h-5z"/>
<path class=c0 d="M94 32h5V100h-5z"/>
<path class=c11 d="M94 33h5V100h-5z"/>
<path class=c0 d="M94 34h5V100h-5z"/>
<path class=c9 d="M94 36h5V100h-5z"/>
<path class=c15 d="M94 37h5V100h-5z"/>
<path class=c25 d="M94 38h5V100h-5z"/>
<path class=c20 d="M94 39h5V100h-5z"/>
<path class=c11 d="M94 40h5V100h-5z"/>
<path class=c5 d="M94 41h5V100h-5z"/>
<path class=c0 d="M94 42h5V100h-5z"/>
<path class=c24 d="M94 44h5V100h-5z"/>
<path class=c14 d="M94 45h5V100h-5z"/>
<path class=c0 d="M94 46h5V100h-5z"/>
<path class=c17 d="M94 47h5V100h-5z"/>
<path class=c0 d="M94 48h5V100h-5z"/>
<path class=c22 d="M94 49h5V100h-5z"/>
<path class=c14 d="M94 50h5V100h-5z"/>
<path class=c0 d="M94 51h5V100h-5z"/>
<path class=c7 d="M94 52h5V100h-5z"/>
<path class=c33 d="M94 53h5V100h-5z"/>
<path class=c21 d="M94 54h5V100h-5z"/>
<path class=c22 d="M94 55h5V100h-5z"/>
<path class=c25 d="M94 56h5V100h-5z"/>
<path class=c27 d="M94 57h5V100h-5z"/>
<path class=c9 d="M94 58h5V100h-5z"/>
<path class=c29 d="M94 59h5V100h-5z"/>
<path class=c4 d="M94 60h5V100h-5z"/>
<path class=c28 d="M94 61h5V100h-5z"/>
<path class=c31 d="M94 62h5V100h-5z"/>
<path class=c25 d="M94 63h5V100h-5z"/>
<path class=c29 d="M94 64h5V100h-5z"/>
<path class=c39 d="M94 65h5V100h-5z"/>
<path class=c32 d="M94 66h5V100h-5z"/>
<path class=c23 d="M94 68h5V100h-5z"/>
<path class=c34 d="M94 69h5V100h-5z"/>
<path class=c26 d="M94 70h5V100h-5z"/>
<path class=c45 d="M94 71h5V100h-5z"/>
<path class=c33 d="M94 72h5V100h-5z"/>
<path class=c38 d="M94 73h5V100h-5z"/>
<path class=c53 d="M94 74h5V100h-5z"/>
<path class=c44 d="M94 75h5V100h-5z"/>
<path class=c51 d="M94 76h5V100h-5z"/>
<path class=c50 d="M94 77h5V100h-5z"/>
<path class=c36 d="M94 79h5V100h-5z"/>
<path class=c48 d="M94 80h5V100h-5z"/>
<path class=c53 d="M94 81h5V100h-5z"/>
<path class=c45 d="M94 82h5V100h-5z"/>
<path class=c38 d="M94 83h5V100h-5z"/>
<path class=c26 d="M94 84h5V100h-5z"/>
<path class=c44 d="M94 85h5V100h-5z"/>
<path class=c36 d="M94 86h5V100h-5z"/>
<path class=c32 d="M94 87h5V100h-5z"/>
<path class=c46 d="M94 88h5V100h-5z"/>
<path class=c27 d="M94 89h5V100h-5z"/>
<path class=c47 d="M94 90h5V100h-5z"/>
<path class=c39 d="M94 91h5V100h-5z"/>
<path class=c37 d="M94 92h5V100h-5z"/>
<path class=c11 d="M94 93h5V100h-5z"/>
<path class=c0 d="M94 94h5V100h-5z"/>
<path class=c3 d="M94 95h5V100h-5z"/>
<path class=c6 d="M94 96h5V100h-5z"/>
<path class=c4 d="M94 97h5V100h-5z"/>
<path class=c10 d="M94 99h5V100h-5z"/>
<path class=c5 d="M99 0h5V100h-5z"/>
<path class=c15 d="M99 1h5V100h-5z"/>
<path class=c11 d="M99 2h5V100h-5z"/>
<path class=c10 d="M99 3h5V100h-5z"/>
<path class=c0 d="M99 4h5V100h-5z"/>
<path class=c16 d="M99 6h5V100h-5z"/>
<path class=c1 d="M99 7h5V100h-5z"/>
<path class=c17 d="M99 8h5V100h-5z"/>
<path class=c3 d="M99 9h5V100h-5z"/>
<path class=c13 d="M99 10h5V100h-5z"/>
<path class=c8 d="M99 11h5V100h-5z"/>
<path class=c6 d="M99 12h5V100h-5z"/>
<path class=c8 d="M99 13h5V100h-5z"/>
<path class=c10 d="M99 14h5V100h-5z"/>
<path class=c15 d="M99 15h5V100h-5z"/>
<path class=c12 d="M99 17h5V100h-5z"/>
<path class=c15 d="M99 18h5V100h-5z"/>
<path class=c3 d="M99 19h5V100h-5z"/>
<path class=c7 d="M99 20h5V100h-5z"/>
<path class=c3 d="M99 21h5V100h-5z"/>
<path class=c0 d="M99 22h5V100h-5z"/>
<path class=c16 d="M99 23h5V100h-5z"/>
<path class=c0 d="M99 24h5V100h-5z"/>
<path class=c13 d="M99 25h5V100h-5z"/>
<path class=c22 d="M99 26h5V100h-5z"/>
<path class=c6 d="M99 27h5V100h-5z"/>
<path class=c17 d="M99 28h5V100h-5z"/>
<path class=c7 d="M99 29h5V100h-5z"/>
<path class=c3 d="M99 30h5V100h-5z"/>
<path class=c15 d="M99 31h5V100h-5z"/>
<path class=c10 d="M99 32h5V100h-5z"/>
<path class=c3 d="M99 33h5V100h-5z"/>
<path class=c12 d="M99 34h5V100h-5z"/>
<path class=c14 d="M99 35h5V100h-5z"/>
<path class=c23 d="M99 36h5V100h-5z"/>
<path class=c12 d="M99 37h5V100h-5z"/>
<path class=c16 d="M99 38h5V100h-5z"/>
<path class=c0 d="M99 39h5V100h-5z"/>
<path class=c2 d="M99 40h5V100h-5z"/>
<path class=c0 d="M99 41h5V100h-5z"/>
<path class=c1 d="M99 43h5V100h-5z"/>
<path class=c0 d="M99 44h5V100h-5z"/>
<path class=c19 d="M99 45h5V100h-5z"/>
<path class=c13 d="M99 46h5V100h-5z"/>
<path class=c21 d="M99 47h5V100h-5z"/>
<path class=c7 d="M99 48h5V100h-5z"/>
<path class=c1 d="M99 49h5V100h-5z"/>
<path class=c17 d="M99 50h5V100h-5z"/>
<path class=c5 d="M99 51h5V100h-5z"/>
<path class=c8 d="M99 52h5V100h-5z"/>
<path class=c9 d="M99 53h5V100h-5z"/>
<path class=c22 d="M99 54h5V100h-5z"/>
<path class=c5 d="M99 55h5V100h-5z"/>
<path class=c25 d="M99 56h5V100h-5z"/>
<path class=c2 d="M99 57h5V100h-5z"/>
<path class=c28 d="M99 58h5V100h-5z"/>
<path class=c27 d="M99 59h5V100h-5z"/>
<path class=c23 d="M99 60h5V100h-5z"/>
<path class=c31 d="M99 62h5V100h-5z"/>
<path class=c6 d="M99 63h5V100h-5z"/>
<path class=c26 d="M99 64h5V100h-5z"/>
<path class=c17 d="M99 65h5V100h-5z"/>
<path class=c24 d="M99 66h5V100h-5z"/>
<path class=c20 d="M99 67h5V100h-5z"/>
<path class=c42 d="M99 68h5V100h-5z"/>
<path class=c39 d="M99 69h5V100h-5z"/>
<path class=c25 d="M99 70h5V100h-5z"/>
<path class=c44 d="M99 71h5V100h-5z"/>
<path class=c17 d="M99 72h5V100h-5z"/>
<path class=c31 d="M99 73h5V100h-5z"/>
<path class=c40 d="M99 74h5V100h-5z"/>
<path class=c53 d="M99 75h5V100h-5z"/>
<path class=c34 d="M99 76h5V100h-5z"/>
<path class=c47 d="M99 77h5V100h-5z"/>
<path class=c26 d="M99 78h5V100h-5z"/>
<path class=c51 d="M99 79h5V100h-5z"/>
<path class=c35 d="M99 80h5V100h-5z"/>
<path class=c25 d="M99 81h5V100h-5z"/>
<path class=c11 d="M99 82h5V100h-5z"/>
<path class=c36 d="M99 83h5V100h-5z"/>
<path class=c27 d="M99 84h5V100h-5z"/>
<path class=c49 d="M99 85h5V100h-5z"/>
<path class=c40 d="M99 86h5V100h-5z"/>
<path class=c50 d="M99 87h5V100h-5z"/>
<path class=c30 d="M99 88h5V100h-5z"/>
<path class=c33 d="M99 89h5V100h-5z"/>
<path class=c37 d="M99 91h5V100h-5z"/>
<path class=c27 d="M99 92h5V100h-5z"/>
<path class=c35 d="M99 93h5V100h-5z"/>
<path class=c4 d="M99 94h5V100h-5z"/>
<path class=c3 d="M99 95h5V100h-5z"/>
<path class=c6 d="M99 96h5V100h-5z"/>
<path class=c9 d="M99 97h5V100h-5z"/>
<path class=c3 d="M99 99h5V100h-5z"/>
<path class=c0 d="M104 0h4V100h-4z"/>
<path class=c10 d="M104 2h4V100h-4z"/>
<path class=c4 d="M104 3h4V100h-4z"/>
<path class=c11 d="M104 4h4V100h-4z"/>
<path class=c8 d="M104 5h4V100h-4z"/>
<path class=c4 d="M104 6h4V100h-4z"/>
<path class=c1 d="M104 7h4V100h-4z"/>
<path class=c2 d="M104 8h4V100h-4z"/>
<path class=c13 d="M104 9h4V100h-4z"/>
<path class=c15 d="M104 10h4V100h-4z"/>
<path class=c0 d="M104 11h4V100h-4z"/>
<path class=c14 d="M104 12h4V100h-4z"/>
<path class=c15 d="M104 13h4V100h-4z"/>
<path class=c12 d="M104 14h4V100h-4z"/>
<path class=c11 d="M104 15h4V100h-4z"/>
<path class=c8 d="M104 16h4V100h-4z"/>
<path class=c4 d="M104 17h4V100h-4z"/>
<path class=c9 d="M104 18h4V100h-4z"/>
<path class=c6 d="M104 19h4V100h-4z"/>
<path class=c9 d="M104 20h4V100h-4z"/>
<path class=c15 d="M104 21h4V100h-4z"/>
<path class=c14 d="M104 22h4V100h-4z"/>
<path class=c3 d="M104 24h4V100h-4z"/>
<path class=c17 d="M104 25h4V100h-4z"/>
<path class=c8 d="M104 26h4V100h-4z"/>
<path class=c7 d="M104 27h4V100h-4z"/>
<path class=c5 d="M104 28h4V100h-4z"/>
<path class=c0 d="M104 29h4V100h-4z"/>
<path class=c14 d="M104 31h4V100h-4z"/>
<path class=c11 d="M104 32h4V100h-4z"/>
<path class=c0 d="M104 33h4V100h-4z"/>
<path class=c2 d="M104 34h4V100h-4z"/>
<path class=c0 d="M104 35h4V100h-4z"/>
<path class=c9 d="M104 37h4V100h-4z"/>
<path class=c0 d="M104 38h4V100h-4z"/>
<path class=c3 d="M104 41h4V100h-4z"/>
<path class=c7 d="M104 42h4V100h-4z"/>
<path class=c22 d="M104 43h4V100h-4z"/>
<path class=c23 d="M104 44h4V100h-4z"/>
<path class=c20 d="M104 45h4V100h-4z"/>
<path class=c19 d="M104 46h4V100h-4z"/>
<path class=c5 d="M104 47h4V100h-4z"/>
<path class=c13 d="M104 48h4V100h-4z"/>
<path class=c23 d="M104 49h4V100h-4z"/>
<path class=c34 d="M104 50h4V100h-4z"/>
<path class=c21 d="M104 51h4V100h-4z"/>
<path class=c37 d="M104 52h4V100h-4z"/>
<path class=c8 d="M104 53h4V100h-4z"/>
<path class=c20 d="M104 54h4V100h-4z"/>
<path class=c13 d="M104 55h4V100h-4z"/>
<path class=c18 d="M104 56h4V100h-4z"/>
<path class=c32 d="M104 57h4V100h-4z"/>
<path class=c30 d="M104 58h4V100h-4z"/>
<path class=c22 d="M104 59h4V100h-4z"/>
<path class=c25 d="M104 60h4V100h-4z"/>
<path class=c28 d="M104 61h4V100h-4z"/>
<path class=c37 d="M104 62h4V100h-4z"/>
<path class=c28 d="M104 63h4V100h-4z"/>
<path class=c20 d="M104 64h4V100h-4z"/>
<path class=c21 d="M104 65h4V100h-4z"/>
<path class=c36 d="M104 66h4V100h-4z"/>
<path class=c32 d="M104 67h4V100h-4z"/>
<path class=c37 d="M104 68h4V100h-4z"/>
<path class=c17 d="M104 69h4V100h-4z"/>
<path class=c23 d="M104 70h4V100h-4z"/>
<path class=c50 d="M104 71h4V100h-4z"/>
<path class=c35 d="M104 72h4V100h-4z"/>
<path class=c44 d="M104 73h4V100h-4z"/>
<path class=c42 d="M104 74h4V100h-4z"/>
<path class=c41 d="M104 75h4V100h-4z"/>
<path class=c43 d="M104 76h4V100h-4z"/>
<path class=c41 d="M104 77h4V100h-4z"/>
<path class=c48 d="M104 78h4V100h-4z"/>
<path class=c43 d="M104 79h4V100h-4z"/>
<path class=c24 d="M104 80h4V100h-4z"/>
<path class=c9 d="M104 81h4V100h-4z"/>
<path class=c33 d="M104 82h4V100h-4z"/>
<path class=c25 d="M104 83h4V100h-4z"/>
<path class=c24 d="M104 84h4V100h-4z"/>
<path class=c40 d="M104 85h4V100h-4z"/>
<path class=c25 d="M104 86h4V100h-4z"/>
<path class=c22 d="M104 87h4V100h-4z"/>
<path class=c29 d="M104 88h4V100h-4z"/>
<path class=c27 d="M104 89h4V100h-4z"/>
<path class=c21 d="M104 90h4V100h-4z"/>
<path class=c23 d="M104 91h4V100h-4z"/>
<path class=c28 d="M104 92h4V100h-4z"/>
<path class=c7 d="M104 93h4V100h-4z"/>
<path class=c4 d="M104 94h4V100h-4z"/>
<path class=c5 d="M104 95h4V100h-4z"/>
<path class=c6 d="M104 96h4V100h-4z"/>
<path class=c4 d="M104 97h4V100h-4z"/>
<path class=c3 d="M104 98h4V100h-4z"/>
<path class=c6 d="M104 99h4V100h-4z"/>
<path class=c1 d="M108 0h5V100h-5z"/>
<path class=c0 d="M108 1h5V100h-5z"/>
<path class=c7 d="M108 2h5V100h-5z"/>
<path class=c12 d="M108 3h5V100h-5z"/>
<path class=c3 d="M108 4h5V100h-5z"/>
<path class=c2 d="M108 5h5V100h-5z"/>
<path class=c0 d="M108 6h5V100h-5z"/>
<path class=c2 d="M108 7h5V100h-5z"/>
<path class=c23 d="M108 8h5V100h-5z"/>
<path class=c9 d="M108 9h5V100h-5z"/>
<path class=c5 d="M108 10h5V100h-5z"/>
<path class=c0 d="M108 11h5V100h-5z"/>
<path class=c11 d="M108 13h5V100h-5z"/>
<path class=c5 d="M108 14h5V100h-5z"/>
<path class=c15 d="M108 15h5V100h-5z"/>
<path class=c20 d="M108 16h5V100h-5z"/>
<path class=c7 d="M108 17h5V100h-5z"/>
<path class=c0 d="M108 18h5V100h-5z"/>
<path class=c6 d="M108 19h5V100h-5z"/>
<path class=c0 d="M108 20h5V100h-5z"/>
<path class=c3 d="M108 21h5V100h-5z"/>
<path class=c0 d="M108 22h5V100h-5z"/>
<path class=c6 d="M108 23h5V100h-5z"/>
<path class=c0 d="M108 24h5V100h-5z"/>
<path class=c1 d="M108 25h5V100h-5z"/>
<path class=c15 d="M108 26h5V100h-5z"/>
<path class=c14 d="M108 27h5V100h-5z"/>
<path class=c12 d="M108 29h5V100h-5z"/>
<path class=c8 d="M108 30h5V100h-5z"/>
<path class=c12 d="M108 31h5V100h-5z"/>
<path class=c9 d="M108 32h5V100h-5z"/>
<path class=c5 d="M108 34h5V100h-5z"/>
<path class=c20 d="M108 35h5V100h-5z"/>
<path class=c19 d="M108 36h5V100h-5z"/>
<path class=c13 d="M108 37h5V100h-5z"/>
<path class=c6 d="M108 38h5V100h-5z"/>
<path class=c21 d="M108 39h5V100h-5z"/>
<path class=c0 d="M108 40h5V100h-5z"/>
<path class=c18 d="M108 42h5V100h-5z"/>
<path class=c8 d="M108 43h5V100h-5z"/>
<path class=c20 d="M108 44h5V100h-5z"/>
<path class=c14 d="M108 45h5V100h-5z"/>
<path class=c27 d="M108 46h5V100h-5z"/>
<path class=c6 d="M108 47h5V100h-5z"/>
<path class=c26 d="M108 48h5V100h-5z"/>
<path class=c16 d="M108 49h5V100h-5z"/>
<path class=c12 d="M108 50h5V100h-5z"/>
<path class=c20 d="M108 51h5V100h-5z"/>
<path class=c10 d="M108 52h5V100h-5z"/>
<path class=c24 d="M108 53h5V100h-5z"/>
<path class=c30 d="M108 54h5V100h-5z"/>
<path class=c28 d="M108 55h5V100h-5z"/>
<path class=c8 d="M108 56h5V100h-5z"/>
<path class=c36 d="M108 57h5V100h-5z"/>
<path class=c16 d="M108 58h5V100h-5z"/>
<path class=c30 d="M108 59h5V100h-5z"/>
<path class=c14 d="M108 60h5V100h-5z"/>
<path class=c22 d="M108 61h5V100h-5z"/>
<path class=c26 d="M108 62h5V100h-5z"/>
<path class=c27 d="M108 63h5V100h-5z"/>
<path class=c13 d="M108 64h5V100h-5z"/>
<path class=c35 d="M108 65h5V100h-5z"/>
<path class=c25 d="M108 66h5V100h-5z"/>
<path class=c42 d="M108 67h5V100h-5z"/>
<path class=c25 d="M108 68h5V100h-5z"/>
<path class=c24 d="M108 69h5V100h-5z"/>
<path class=c47 d="M108 70h5V100h-5z"/>
<path class=c35 d="M108 71h5V100h-5z"/>
<path class=c13 d="M108 72h5V100h-5z"/>
<path class=c33 d="M108 73h5V100h-5z"/>
<path class=c44 d="M108 74h5V100h-5z"/>
<path class=c27 d="M108 75h5V100h-5z"/>
<path class=c32 d="M108 76h5V100h-5z"/>
<path class=c54 d="M108 77h5V100h-5z"/>
<path class=c49 d="M108 78h5V100h-5z"/>
<path class=c27 d="M108 79h5V100h-5z"/>
<path class=c18 d="M108 80h5V100h-5z"/>
<path class=c36 d="M108 81h5V100h-5z"/>
<path class=c38 d="M108 82h5V100h-5z"/>
<path class=c46 d="M108 83h5V100h-5z"/>
<path class=c23 d="M108 84h5V100h-5z"/>
<path class=c24 d="M108 85h5V100h-5z"/>
<path class=c10 d="M108 86h5V100h-5z"/>
<path class=c23 d="M108 87h5V100h-5z"/>
<path class=c21 d="M108 88h5V100h-5z"/>
<path class=c22 d="M108 89h5V100h-5z"/>
<path class=c34 d="M108 90h5V100h-5z"/>
<path class=c29 d="M108 92h5V100h-5z"/>
<path class=c18 d="M108 93h5V100h-5z"/>
<path class=c6 d="M108 94h5V100h-5z"/>
<path class=c4 d="M108 95h5V100h-5z"/>
<path class=c6 d="M108 97h5V100h-5z"/>
<path class=c5 d="M108 98h5V100h-5z"/>
<path class=c7 d="M108 99h5V100h-5z"/>
<path class=c4 d="M113 0h5V100h-5z"/>
<path class=c2 d="M113 1h5V100h-5z"/>
<path class=c12 d="M113 2h5V100h-5z"/>
<path class=c10 d="M113 3h5V100h-5z"/>
<path class=c11 d="M113 4h5V100h-5z"/>
<path class=c0 d="M113 5h5V100h-5z"/>
<path class=c14 d="M113 6h5V100h-5z"/>
<path class=c0 d="M113 7h5V100h-5z"/>
<path class=c10 d="M113 8h5V100h-5z"/>
<path class=c8 d="M113 9h5V100h-5z"/>
<path class=c15 d="M113 10h5V100h-5z"/>
<path class=c4 d="M113 11h5V100h-5z"/>
<path class=c0 d="M113 12h5V100h-5z"/>
<path class=c10 d="M113 13h5V100h-5z"/>
<path class=c16 d="M113 14h5V100h-5z"/>
<path class=c0 d="M113 15h5V100h-5z"/>
<path class=c6 d="M113 18h5V100h-5z"/>
<path class=c2 d="M113 20h5V100h-5z"/>
<path class=c19 d="M113 21h5V100h-5z"/>
<path class=c14 d="M113 22h5V100h-5z"/>
<path class=c7 d="M113 23h5V100h-5z"/>
<path class=c0 d="M113 24h5V100h-5z"/>
<path class=c16 d="M113 26h5V100h-5z"/>
<path class=c10 d="M113 27h5V100h-5z"/>
<path class=c0 d="M113 28h5V100h-5z"/>
<path class=c10 d="M113 29h5V100h-5z"/>
<path class=c12 d="M113 30h5V100h-5z"/>
<path class=c20 d="M113 31h5V100h-5z"/>
<path class=c11 d="M113 32h5V100h-5z"/>
<path class=c18 d="M113 33h5V100h-5z"/>
<path class=c6 d="M113 34h5V100h-5z"/>
<path class=c5 d="M113 35h5V100h-5z"/>
<path class=c15 d="M113 36h5V100h-5z"/>
<path class=c9 d="M113 37h5V100h-5z"/>
<path class=c0 d="M113 38h5V100h-5z"/>
<path class=c25 d="M113 40h5V100h-5z"/>
<path class=c12 d="M113 41h5V100h-5z"/>
<path class=c24 d="M113 42h5V100h-5z"/>
<path class=c9 d="M113 43h5V100h-5z"/>
<path class=c12 d="M113 44h5V100h-5z"/>
<path class=c14 d="M113 45h5V100h-5z"/>
<path class=c28 d="M113 46h5V100h-5z"/>
<path class=c15 d="M113 47h5V100h-5z"/>
<path class=c19 d="M113 48h5V100h-5z"/>
<path class=c7 d="M113 49h5V100h-5z"/>
<path class=c21 d="M113 50h5V100h-5z"/>
<path class=c16 d="M113 51h5V100h-5z"/>
<path class=c17 d="M113 52h5V100h-5z"/>
<path class=c33 d="M113 53h5V100h-5z"/>
<path class=c24 d="M113 54h5V100h-5z"/>
<path class=c33 d="M113 55h5V100h-5z"/>
<path class=c10 d="M113 56h5V100h-5z"/>
<path class=c32 d="M113 57h5V100h-5z"/>
<path class=c34 d="M113 60h5V100h-5z"/>
<path class=c29 d="M113 61h5V100h-5z"/>
<path class=c35 d="M113 62h5V100h-5z"/>
<path class=c21 d="M113 63h5V100h-5z"/>
<path class=c38 d="M113 64h5V100h-5z"/>
<path class=c14 d="M113 65h5V100h-5z"/>
<path class=c33 d="M113 66h5V100h-5z"/>
<path class=c27 d="M113 67h5V100h-5z"/>
<path class=c21 d="M113 68h5V100h-5z"/>
<path class=c16 d="M113 69h5V100h-5z"/>
<path class=c18 d="M113 70h5V100h-5z"/>
<path class=c40 d="M113 71h5V100h-5z"/>
<path class=c21 d="M113 72h5V100h-5z"/>
<path class=c34 d="M113 73h5V100h-5z"/>
<path class=c51 d="M113 74h5V100h-5z"/>
<path class=c50 d="M113 75h5V100h-5z"/>
<path class=c38 d="M113 76h5V100h-5z"/>
<path class=c30 d="M113 77h5V100h-5z"/>
<path class=c44 d="M113 78h5V100h-5z"/>
<path class=c43 d="M113 79h5V100h-5z"/>
<path class=c18 d="M113 80h5V100h-5z"/>
<path class=c21 d="M113 81h5V100h-5z"/>
<path class=c42 d="M113 82h5V100h-5z"/>
<path class=c41 d="M113 83h5V100h-5z"/>
<path class=c37 d="M113 84h5V100h-5z"/>
<path class=c40 d="M113 85h5V100h-5z"/>
<path class=c45 d="M113 86h5V100h-5z"/>
<path class=c48 d="M113 88h5V100h-5z"/>
<path class=c45 d="M113 89h5V100h-5z"/>
<path class=c36 d="M113 90h5V100h-5z"/>
<path class=c9 d="M113 91h5V100h-5z"/>
<path class=c33 d="M113 92h5V100h-5z"/>
<path class=c21 d="M113 93h5V100h-5z"/>
<path class=c3 d="M113 94h5V100h-5z"/>
<path class=c5 d="M113 95h5V100h-5z"/>
<path class=c9 d="M113 96h5V100h-5z"/>
<path class=c5 d="M113 98h5V100h-5z"/>
<path class=c1 d="M113 99h5V100h-5z"/>
<path class=c12 d="M118 0h4V100h-4z"/>
<path class=c10 d="M118 1h4V100h-4z"/>
<path class=c3 d="M118 2h4V100h-4z"/>
<path class=c2 d="M118 3h4V100h-4z"/>
<path class=c13 d="M118 4h4V100h-4z"/>
<path class=c2 d="M118 5h4V100h-4z"/>
<path class=c0 d="M118 6h4V100h-4z"/>
<path class=c3 d="M118 7h4V100h-4z"/>
<path class=c0 d="M118 8h4V100h-4z"/>
<path class=c6 d="M118 9h4V100h-4z"/>
<path class=c10 d="M118 10h4V100h-4z"/>
<path class=c16 d="M118 11h4V100h-4z"/>
<path class=c17 d="M118 12h4V100h-4z"/>
<path class=c4 d="M118 13h4V100h-4z"/>
<path class=c11 d="M118 14h4V100h-4z"/>
<path class=c0 d="M118 15h4V100h-4z"/>
<path class=c12 d="M118 16h4V100h-4z"/>
<path class=c8 d="M118 17h4V100h-4z"/>
<path class=c13 d="M118 18h4V100h-4z"/>
<path class=c12 d="M118 19h4V100h-4z"/>
<path class=c18 d="M118 20h4V100h-4z"/>
<path class=c3 d="M118 22h4V100h-4z"/>
<path class=c23 d="M118 23h4V100h-4z"/>
<path class=c16 d="M118 24h4V100h-4z"/>
<path class=c3 d="M118 25h4V100h-4z"/>
<path class=c16 d="M118 26h4V100h-4z"/>
<path class=c17 d="M118 27h4V100h-4z"/>
<path class=c4 d="M118 28h4V100h-4z"/>
<path class=c0 d="M118 29h4V100h-4z"/>
<path class=c7 d="M118 32h4V100h-4z"/>
<path class=c24 d="M118 33h4V100h-4z"/>
<path class=c16 d="M118 34h4V100h-4z"/>
<path class=c11 d="M118 35h4V100h-4z"/>
<path class=c15 d="M118 37h4V100h-4z"/>
<path class=c25 d="M118 38h4V100h-4z"/>
<path class=c26 d="M118 39h4V100h-4z"/>
<path class=c19 d="M118 40h4V100h-4z"/>
<path class=c11 d="M118 41h4V100h-4z"/>
<path class=c8 d="M118 43h4V100h-4z"/>
<path class=c9 d="M118 44h4V100h-4z"/>
<path class=c11 d="M118 46h4V100h-4z"/>
<path class=c25 d="M118 47h4V100h-4z"/>
<path class=c13 d="M118 48h4V100h-4z"/>
<path class=c18 d="M118 49h4V100h-4z"/>
<path class=c29 d="M118 50h4V100h-4z"/>
<path class=c21 d="M118 51h4V100h-4z"/>
<path class=c14 d="M118 52h4V100h-4z"/>
<path class=c24 d="M118 53h4V100h-4z"/>
<path class=c9 d="M118 54h4V100h-4z"/>
<path class=c14 d="M118 55h4V100h-4z"/>
<path class=c9 d="M118 56h4V100h-4z"/>
<path class=c26 d="M118 57h4V100h-4z"/>
<path class=c23 d="M118 58h4V100h-4z"/>
<path class=c33 d="M118 59h4V100h-4z"/>
<path class=c27 d="M118 60h4V100h-4z"/>
<path class=c11 d="M118 61h4V100h-4z"/>
<path class=c14 d="M118 62h4V100h-4z"/>
<path class=c11 d="M118 63h4V100h-4z"/>
<path class=c17 d="M118 64h4V100h-4z"/>
<path class=c18 d="M118 65h4V100h-4z"/>
<path class=c20 d="M118 66h4V100h-4z"/>
<path class=c21 d="M118 67h4V100h-4z"/>
<path class=c5 d="M118 68h4V100h-4z"/>
<path class=c19 d="M118 69h4V100h-4z"/>
<path class=c49 d="M118 70h4V100h-4z"/>
<path class=c35 d="M118 71h4V100h-4z"/>
<path class=c32 d="M118 72h4V100h-4z"/>
<path class=c41 d="M118 73h4V100h-4z"/>
<path class=c49 d="M118 74h4V100h-4z"/>
<path class=c37 d="M118 75h4V100h-4z"/>
<path class=c39 d="M118 76h4V100h-4z"/>
<path class=c38 d="M118 77h4V100h-4z"/>
<path class=c37 d="M118 78h4V100h-4z"/>
<path class=c54 d="M118 79h4V100h-4z"/>
<path class=c20 d="M118 81h4V100h-4z"/>
<path class=c24 d="M118 82h4V100h-4z"/>
<path class=c4 d="M118 83h4V100h-4z"/>
<path class=c27 d="M118 84h4V100h-4z"/>
<path class=c28 d="M118 85h4V100h-4z"/>
<path class=c31 d="M118 86h4V100h-4z"/>
<path class=c43 d="M118 87h4V100h-4z"/>
<path class=c45 d="M118 88h4V100h-4z"/>
<path class=c20 d="M118 89h4V100h-4z"/>
<path class=c44 d="M118 90h4V100h-4z"/>
<path class=c38 d="M118 91h4V100h-4z"/>
<path class=c41 d="M118 92h4V100h-4z"/>
<path class=c27 d="M118 93h4V100h-4z"/>
<path class=c7 d="M118 94h4V100h-4z"/>
<path class=c4 d="M118 95h4V100h-4z"/>
<path class=c2 d="M118 98h4V100h-4z"/>
<path class=c0 d="M122 0h5V100h-5z"/>
<path class=c2 d="M122 2h5V100h-5z"/>
<path class=c16 d="M122 3h5V100h-5z"/>
<path class=c15 d="M122 4h5V100h-5z"/>
<path class=c5 d="M122 5h5V100h-5z"/>
<path class=c15 d="M122 6h5V100h-5z"/>
<path class=c0 d="M122 7h5V100h-5z"/>
<path class=c11 d="M122 8h5V100h-5z"/>
<path class=c17 d="M122 9h5V100h-5z"/>
<path class=c10 d="M122 10h5V100h-5z"/>
<path class=c21 d="M122 11h5V100h-5z"/>
<path class=c17 d="M122 12h5V100h-5z"/>
<path class=c0 d="M122 13h5V100h-5z"/>
<path class=c10 d="M122 14h5V100h-5z"/>
<path class=c20 d="M122 15h5V100h-5z"/>
<path class=c12 d="M122 16h5V100h-5z"/>
<path class=c11 d="M122 17h5V100h-5z"/>
<path class=c10 d="M122 18h5V100h-5z"/>
<path class=c2 d="M122 19h5V100h-5z"/>
<path class=c13 d="M122 20h5V100h-5z"/>
<path class=c17 d="M122 21h5V100h-5z"/>
<path class=c7 d="M122 22h5V100h-5z"/>
<path class=c1 d="M122 24h5V100h-5z"/>
<path class=c11 d="M122 26h5V100h-5z"/>
<path class=c10 d="M122 27h5V100h-5z"/>
<path class=c14 d="M122 28h5V100h-5z"/>
<path class=c5 d="M122 29h5V100h-5z"/>
<path class=c19 d="M122 30h5V100h-5z"/>
<path class=c13 d="M122 31h5V100h-5z"/>
<path class=c15 d="M122 32h5V100h-5z"/>
<path class=c14 d="M122 33h5V100h-5z"/>
<path class=c12 d="M122 34h5V100h-5z"/>
<path class=c0 d="M122 36h5V100h-5z"/>
<path class=c11 d="M122 37h5V100h-5z"/>
<path class=c26 d="M122 38h5V100h-5z"/>
<path class=c16 d="M122 39h5V100h-5z"/>
<path class=c18 d="M122 40h5V100h-5z"/>
<path class=c0 d="M122 41h5V100h-5z"/>
<path class=c21 d="M122 42h5V100h-5z"/>
<path class=c8 d="M122 43h5V100h-5z"/>
<path class=c19 d="M122 44h5V100h-5z"/>
<path class=c0 d="M122 45h5V100h-5z"/>
<path class=c24 d="M122 46h5V100h-5z"/>
<path class=c12 d="M122 47h5V100h-5z"/>
<path class=c11 d="M122 48h5V100h-5z"/>
<path class=c24 d="M122 49h5V100h-5z"/>
<path class=c36 d="M122 52h5V100h-5z"/>
<path class=c21 d="M122 53h5V100h-5z"/>
<path class=c19 d="M122 54h5V100h-5z"/>
<path class=c17 d="M122 55h5V100h-5z"/>
<path class=c26 d="M122 57h5V100h-5z"/>
<path class=c18 d="M122 58h5V100h-5z"/>
<path class=c28 d="M122 59h5V100h-5z"/>
<path class=c30 d="M122 60h5V100h-5z"/>
<path class=c24 d="M122 61h5V100h-5z"/>
<path class=c27 d="M122 62h5V100h-5z"/>
<path class=c22 d="M122 63h5V100h-5z"/>
<path class=c30 d="M122 64h5V100h-5z"/>
<path class=c24 d="M122 65h5V100h-5z"/>
<path class=c9 d="M122 66h5V100h-5z"/>
<path class=c19 d="M122 67h5V100h-5z"/>
<path class=c26 d="M122 68h5V100h-5z"/>
<path class=c31 d="M122 69h5V100h-5z"/>
<path class=c34 d="M122 70h5V100h-5z"/>
<path class=c38 d="M122 71h5V100h-5z"/>
<path class=c33 d="M122 72h5V100h-5z"/>
<path class=c47 d="M122 73h5V100h-5z"/>
<path class=c46 d="M122 74h5V100h-5z"/>
<path class=c42 d="M122 75h5V100h-5z"/>
<path class=c39 d="M122 76h5V100h-5z"/>
<path class=c25 d="M122 77h5V100h-5z"/>
<path class=c39 d="M122 78h5V100h-5z"/>
<path class=c56 d="M122 79h5V100h-5z"/>
<path class=c42 d="M122 80h5V100h-5z"/>
<path class=c26 d="M122 81h5V100h-5z"/>
<path class=c30 d="M122 82h5V100h-5z"/>
<path class=c33 d="M122 83h5V100h-5z"/>
<path class=c32 d="M122 84h5V100h-5z"/>
<path class=c43 d="M122 85h5V100h-5z"/>
<path class=c35 d="M122 86h5V100h-5z"/>
<path class=c31 d="M122 87h5V100h-5z"/>
<path class=c21 d="M122 88h5V100h-5z"/>
<path class=c26 d="M122 89h5V100h-5z"/>
<path class=c30 d="M122 90h5V100h-5z"/>
<path class=c8 d="M122 91h5V100h-5z"/>
<path class=c18 d="M122 92h5V100h-5z"/>
<path class=c43 d="M122 93h5V100h-5z"/>
<path class=c3 d="M122 94h5V100h-5z"/>
<path class=c1 d="M122 96h5V100h-5z"/>
<path class=c7 d="M122 97h5V100h-5z"/>
<path class=c2 d="M122 98h5V100h-5z"/>
<path class=c6 d="M122 99h5V100h-5z"/>
<path class=c8 d="M127 0h5V100h-5z"/>
<path class=c5 d="M127 1h5V100h-5z"/>
<path class=c16 d="M127 2h5V100h-5z"/>
<path class=c9 d="M127 3h5V100h-5z"/>
<path class=c2 d="M127 4h5V100h-5z"/>
<path class=c22 d="M127 5h5V100h-5z"/>
<path class=c9 d="M127 6h5V100h-5z"/>
<path class=c19 d="M127 7h5V100h-5z"/>
<path class=c10 d="M127 8h5V100h-5z"/>
<path class=c7 d="M127 9h5V100h-5z"/>
<path class=c0 d="M127 10h5V100h-5z"/>
<path class=c14 d="M127 11h5V100h-5z"/>
<path class=c0 d="M127 12h5V100h-5z"/>
<path class=c14 d="M127 14h5V100h-5z"/>
<path class=c5 d="M127 15h5V100h-5z"/>
<path class=c14 d="M127 16h5V100h-5z"/>
<path class=c7 d="M127 17h5V100h-5z"/>
<path class=c9 d="M127 18h5V100h-5z"/>
<path class=c2 d="M127 19h5V100h-5z"/>
<path class=c0 d="M127 20h5V100h-5z"/>
<path class=c6 d="M127 22h5V100h-5z"/>
<path class=c11 d="M127 23h5V100h-5z"/>
<path class=c13 d="M127 24h5V100h-5z"/>
<path class=c7 d="M127 25h5V100h-5z"/>
<path class=c8 d="M127 26h5V100h-5z"/>
<path class=c5 d="M127 27h5V100h-5z"/>
<path class=c13 d="M127 28h5V100h-5z"/>
<path class=c17 d="M127 29h5V100h-5z"/>
<path class=c7 d="M127 30h5V100h-5z"/>
<path class=c0 d="M127 31h5V100h-5z"/>
<path class=c10 d="M127 32h5V100h-5z"/>
<path class=c15 d="M127 33h5V100h-5z"/>
<path class=c14 d="M127 34h5V100h-5z"/>
<path class=c15 d="M127 35h5V100h-5z"/>
<path class=c8 d="M127 36h5V100h-5z"/>
<path class=c9 d="M127 38h5V100h-5z"/>
<path class=c7 d="M127 39h5V100h-5z"/>
<path class=c19 d="M127 40h5V100h-5z"/>
<path class=c0 d="M127 41h5V100h-5z"/>
<path class=c5 d="M127 42h5V100h-5z"/>
<path class=c0 d="M127 43h5V100h-5z"/>
<path class=c25 d="M127 44h5V100h-5z"/>
<path class=c4 d="M127 45h5V100h-5z"/>
<path class=c24 d="M127 46h5V100h-5z"/>
<path class=c26 d="M127 47h5V100h-5z"/>
<path class=c29 d="M127 48h5V100h-5z"/>
<path class=c11 d="M127 49h5V100h-5z"/>
<path class=c8 d="M127 50h5V100h-5z"/>
<path class=c25 d="M127 51h5V100h-5z"/>
<path class=c15 d="M127 52h5V100h-5z"/>
<path class=c27 d="M127 53h5V100h-5z"/>
<path class=c16 d="M127 54h5V100h-5z"/>
<path class=c10 d="M127 55h5V100h-5z"/>
<path class=c0 d="M127 56h5V100h-5z"/>
<path class=c11 d="M127 57h5V100h-5z"/>
<path class=c34 d="M127 58h5V100h-5z"/>
<path class=c45 d="M127 59h5V100h-5z"/>
<path class=c32 d="M127 60h5V100h-5z"/>
<path class=c16 d="M127 61h5V100h-5z"/>
<path class=c30 d="M127 62h5V100h-5z"/>
<path class=c13 d="M127 63h5V100h-5z"/>
<path class=c17 d="M127 64h5V100h-5z"/>
<path class=c20 d="M127 65h5V100h-5z"/>
<path class=c37 d="M127 66h5V100h-5z"/>
<path class=c36 d="M127 67h5V100h-5z"/>
<path class=c39 d="M127 68h5V100h-5z"/>
<path class=c21 d="M127 69h5V100h-5z"/>
<path class=c28 d="M127 70h5V100h-5z"/>
<path class=c34 d="M127 71h5V100h-5z"/>
<path class=c39 d="M127 72h5V100h-5z"/>
<path class=c46 d="M127 74h5V100h-5z"/>
<path class=c42 d="M127 75h5V100h-5z"/>
<path class=c56 d="M127 76h5V100h-5z"/>
<path class=c34 d="M127 77h5V100h-5z"/>
<path class=c33 d="M127 78h5V100h-5z"/>
<path class=c30 d="M127 79h5V100h-5z"/>
<path class=c31 d="M127 80h5V100h-5z"/>
<path class=c30 d="M127 81h5V100h-5z"/>
<path class=c42 d="M127 82h5V100h-5z"/>
<path class=c43 d="M127 83h5V100h-5z"/>
<path class=c47 d="M127 84h5V100h-5z"/>
<path class=c33 d="M127 85h5V100h-5z"/>
<path class=c42 d="M127 86h5V100h-5z"/>
<path class=c39 d="M127 87h5V100h-5z"/>
<path class=c24 d="M127 88h5V100h-5z"/>
<path class=c31 d="M127 89h5V100h-5z"/>
<path class=c26 d="M127 90h5V100h-5z"/>
<path class=c9 d="M127 91h5V100h-5z"/>
<path class=c32 d="M127 92h5V100h-5z"/>
<path class=c16 d="M127 93h5V100h-5z"/>
<path class=c1 d="M127 94h5V100h-5z"/>
<path class=c6 d="M127 95h5V100h-5z"/>
<path class=c5 d="M127 97h5V100h-5z"/>
<path class=c6 d="M127 98h5V100h-5z"/>
<path class=c7 d="M127 99h5V100h-5z"/>
<path class=c11 d="M132 0h5V100h-5z"/>
<path class=c2 d="M132 1h5V100h-5z"/>
<path class=c12 d="M132 2h5V100h-5z"/>
<path class=c1 d="M132 3h5V100h-5z"/>
<path class=c19 d="M132 4h5V100h-5z"/>
<path class=c6 d="M132 5h5V100h-5z"/>
<path class=c9 d="M132 6h5V100h-5z"/>
<path class=c3 d="M132 7h5V100h-5z"/>
<path class=c0 d="M132 8h5V100h-5z"/>
<path class=c2 d="M132 10h5V100h-5z"/>
<path class=c14 d="M132 11h5V100h-5z"/>
<path class=c6 d="M132 12h5V100h-5z"/>
<path class=c1 d="M132 13h5V100h-5z"/>
<path class=c15 d="M132 14h5V100h-5z"/>
<path class=c0 d="M132 15h5V100h-5z"/>
<path class=c7 d="M132 16h5V100h-5z"/>
<path class=c10 d="M132 17h5V100h-5z"/>
<path class=c16 d="M132 18h5V100h-5z"/>
<path class=c9 d="M132 19h5V100h-5z"/>
<path class=c0 d="M132 20h5V100h-5z"/>
<path class=c2 d="M132 21h5V100h-5z"/>
<path class=c0 d="M132 22h5V100h-5z"/>
<path class=c3 d="M132 23h5V100h-5z"/>
<path class=c5 d="M132 24h5V100h-5z"/>
<path class=c3 d="M132 25h5V100h-5z"/>
<path class=c20 d="M132 26h5V100h-5z"/>
<path class=c4 d="M132 27h5V100h-5z"/>
<path class=c8 d="M132 28h5V100h-5z"/>
<path class=c2 d="M132 29h5V100h-5z"/>
<path class=c5 d="M132 30h5V100h-5z"/>
<path class=c0 d="M132 31h5V100h-5z"/>
<path class=c4 d="M132 32h5V100h-5z"/>
<path class=c12 d="M132 34h5V100h-5z"/>
<path class=c3 d="M132 35h5V100h-5z"/>
<path class=c10 d="M132 36h5V100h-5z"/>
<path class=c17 d="M132 37h5V100h-5z"/>
<path class=c19 d="M132 38h5V100h-5z"/>
<path class=c14 d="M132 39h5V100h-5z"/>
<path class=c0 d="M132 40h5V100h-5z"/>
<path class=c10 d="M132 41h5V100h-5z"/>
<path class=c6 d="M132 42h5V100h-5z"/>
<path class=c0 d="M132 43h5V100h-5z"/>
<path class=c15 d="M132 44h5V100h-5z"/>
<path class=c7 d="M132 45h5V100h-5z"/>
<path class=c17 d="M132 46h5V100h-5z"/>
<path class=c8 d="M132 47h5V100h-5z"/>
<path class=c7 d="M132 48h5V100h-5z"/>
<path class=c9 d="M132 49h5V100h-5z"/>
<path class=c17 d="M132 50h5V100h-5z"/>
<path class=c28 d="M132 51h5V100h-5z"/>
<path class=c15 d="M132 52h5V100h-5z"/>
<path class=c13 d="M132 53h5V100h-5z"/>
<path class=c21 d="M132 54h5V100h-5z"/>
<path class=c30 d="M132 55h5V100h-5z"/>
<path class=c22 d="M132 56h5V100h-5z"/>
<path class=c0 d="M132 57h5V100h-5z"/>
<path class=c13 d="M132 58h5V100h-5z"/>
<path class=c10 d="M132 59h5V100h-5z"/>
<path class=c27 d="M132 60h5V100h-5z"/>
<path class=c8 d="M132 61h5V100h-5z"/>
<path class=c32 d="M132 62h5V100h-5z"/>
<path class=c15 d="M132 63h5V100h-5z"/>
<path class=c23 d="M132 64h5V100h-5z"/>
<path class=c1 d="M132 65h5V100h-5z"/>
<path class=c17 d="M132 66h5V100h-5z"/>
<path class=c21 d="M132 67h5V100h-5z"/>
<path class=c2 d="M132 68h5V100h-5z"/>
<path class=c28 d="M132 69h5V100h-5z"/>
<path class=c37 d="M132 70h5V100h-5z"/>
<path class=c18 d="M132 71h5V100h-5z"/>
<path class=c23 d="M132 72h5V100h-5z"/>
<path class=c40 d="M132 73h5V100h-5z"/>
<path class=c35 d="M132 74h5V100h-5z"/>
<path class=c24 d="M132 75h5V100h-5z"/>
<path class=c49 d="M132 76h5V100h-5z"/>
<path class=c37 d="M132 77h5V100h-5z"/>
<path class=c42 d="M132 79h5V100h-5z"/>
<path class=c26 d="M132 80h5V100h-5z"/>
<path class=c32 d="M132 81h5V100h-5z"/>
<path class=c28 d="M132 82h5V100h-5z"/>
<path class=c36 d="M132 83h5V100h-5z"/>
<path class=c28 d="M132 84h5V100h-5z"/>
<path class=c47 d="M132 85h5V100h-5z"/>
<path class=c21 d="M132 86h5V100h-5z"/>
<path class=c26 d="M132 87h5V100h-5z"/>
<path class=c41 d="M132 88h5V100h-5z"/>
<path class=c33 d="M132 89h5V100h-5z"/>
<path class=c35 d="M132 90h5V100h-5z"/>
<path class=c43 d="M132 92h5V100h-5z"/>
<path class=c42 d="M132 93h5V100h-5z"/>
<path class=c1 d="M132 94h5V100h-5z"/>
<path class=c5 d="M132 95h5V100h-5z"/>
<path class=c7 d="M132 96h5V100h-5z"/>
<path class=c5 d="M132 97h5V100h-5z"/>
<path class=c6 d="M132 98h5V100h-5z"/>
<path class=c8 d="M132 99h5V100h-5z"/>
<path class=c9 d="M137 0h4V100h-4z"/>
<path class=c18 d="M137 1h4V100h-4z"/>
<path class=c15 d="M137 2h4V100h-4z"/>
<path class=c3 d="M137 3h4V100h-4z"/>
<path class=c11 d="M137 4h4V100h-4z"/>
<path class=c9 d="M137 5h4V100h-4z"/>
<path class=c26 d="M137 6h4V100h-4z"/>
<path class=c17 d="M137 7h4V100h-4z"/>
<path class=c12 d="M137 8h4V100h-4z"/>
<path class=c4 d="M137 9h4V100h-4z"/>
<path class=c20 d="M137 10h4V100h-4z"/>
<path class=c5 d="M137 11h4V100h-4z"/>
<path class=c7 d="M137 12h4V100h-4z"/>
<path class=c17 d="M137 13h4V100h-4z"/>
<path class=c13 d="M137 14h4V100h-4z"/>
<path class=c0 d="M137 15h4V100h-4z"/>
<path class=c8 d="M137 16h4V100h-4z"/>
<path class=c12 d="M137 17h4V100h-4z"/>
<path class=c6 d="M137 18h4V100h-4z"/>
<path class=c0 d="M137 19h4V100h-4z"/>
<path class=c7 d="M137 20h4V100h-4z"/>
<path class=c2 d="M137 21h4V100h-4z"/>
<path class=c16 d="M137 22h4V100h-4z"/>
<path class=c8 d="M137 23h4V100h-4z"/>
<path class=c18 d="M137 24h4V100h-4z"/>
<path class=c0 d="M137 25h4V100h-4z"/>
<path class=c11 d="M137 26h4V100h-4z"/>
<path class=c4 d="M137 27h4V100h-4z"/>
<path class=c5 d="M137 28h4V100h-4z"/>
<path class=c11 d="M137 29h4V100h-4z"/>
<path class=c17 d="M137 30h4V100h-4z"/>
<path class=c14 d="M137 31h4V100h-4z"/>
<path class=c9 d="M137 32h4V100h-4z"/>
<path class=c8 d="M137 33h4V100h-4z"/>
<path class=c5 d="M137 34h4V100h-4z"/>
<path class=c13 d="M137 35h4V100h-4z"/>
<path class=c21 d="M137 36h4V100h-4z"/>
<path class=c15 d="M137 37h4V100h-4z"/>
<path class=c19 d="M137 39h4V100h-4z"/>
<path class=c21 d="M137 40h4V100h-4z"/>
<path class=c24 d="M137 41h4V100h-4z"/>
<path class=c17 d="M137 42h4V100h-4z"/>
<path class=c10 d="M137 43h4V100h-4z"/>
<path class=c5 d="M137 44h4V100h-4z"/>
<path class=c12 d="M137 45h4V100h-4z"/>
<path class=c13 d="M137 46h4V100h-4z"/>
<path class=c0 d="M137 47h4V100h-4z"/>
<path class=c25 d="M137 48h4V100h-4z"/>
<path class=c13 d="M137 49h4V100h-4z"/>
<path class=c22 d="M137 50h4V100h-4z"/>
<path class=c25 d="M137 51h4V100h-4z"/>
<path class=c20 d="M137 52h4V100h-4z"/>
<path class=c27 d="M137 53h4V100h-4z"/>
<path class=c22 d="M137 54h4V100h-4z"/>
<path class=c16 d="M137 56h4V100h-4z"/>
<path class=c25 d="M137 57h4V100h-4z"/>
<path class=c0 d="M137 58h4V100h-4z"/>
<path class=c4 d="M137 59h4V100h-4z"/>
<path class=c8 d="M137 60h4V100h-4z"/>
<path class=c16 d="M137 61h4V100h-4z"/>
<path class=c6 d="M137 62h4V100h-4z"/>
<path class=c29 d="M137 63h4V100h-4z"/>
<path class=c35 d="M137 64h4V100h-4z"/>
<path class=c31 d="M137 65h4V100h-4z"/>
<path class=c43 d="M137 66h4V100h-4z"/>
<path class=c15 d="M137 67h4V100h-4z"/>
<path class=c30 d="M137 68h4V100h-4z"/>
<path class=c17 d="M137 70h4V100h-4z"/>
<path class=c23 d="M137 71h4V100h-4z"/>
<path class=c37 d="M137 72h4V100h-4z"/>
<path class=c43 d="M137 73h4V100h-4z"/>
<path class=c40 d="M137 74h4V100h-4z"/>
<path class=c60 d="M137 75h4V100h-4z"/>
<path class=c54 d="M137 77h4V100h-4z"/>
<path class=c36 d="M137 78h4V100h-4z"/>
<path class=c42 d="M137 79h4V100h-4z"/>
<path class=c43 d="M137 80h4V100h-4z"/>
<path class=c38 d="M137 81h4V100h-4z"/>
<path class=c30 d="M137 82h4V100h-4z"/>
<path class=c25 d="M137 83h4V100h-4z"/>
<path class=c28 d="M137 84h4V100h-4z"/>
<path class=c29 d="M137 85h4V100h-4z"/>
<path class=c22 d="M137 86h4V100h-4z"/>
<path class=c42 d="M137 87h4V100h-4z"/>
<path class=c37 d="M137 88h4V100h-4z"/>
<path class=c25 d="M137 89h4V100h-4z"/>
<path class=c32 d="M137 90h4V100h-4z"/>
<path class=c13 d="M137 92h4V100h-4z"/>
<path class=c27 d="M137 93h4V100h-4z"/>
<path class=c8 d="M137 94h4V100h-4z"/>
<path class=c7 d="M137 95h4V100h-4z"/>
<path class=c5 d="M137 96h4V100h-4z"/>
<path class=c8 d="M137 97h4V100h-4z"/>
<path class=c5 d="M137 98h4V100h-4z"/>
<path class=c6 d="M137 99h4V100h-4z"/>
<path class=c2 d="M141 0h5V100h-5z"/>
<path class=c6 d="M141 1h5V100h-5z"/>
<path class=c0 d="M141 2h5V100h-5z"/>
<path class=c12 d="M141 3h5V100h-5z"/>
<path class=c8 d="M141 4h5V100h-5z"/>
<path class=c14 d="M141 6h5V100h-5z"/>
<path class=c0 d="M141 7h5V100h-5z"/>
<path class=c16 d="M141 9h5V100h-5z"/>
<path class=c5 d="M141 10h5V100h-5z"/>
<path class=c0 d="M141 11h5V100h-5z"/>
<path class=c11 d="M141 13h5V100h-5z"/>
<path class=c5 d="M141 14h5V100h-5z"/>
<path class=c10 d="M141 15h5V100h-5z"/>
<path class=c9 d="M141 16h5V100h-5z"/>
<path class=c11 d="M141 17h5V100h-5z"/>
<path class=c0 d="M141 18h5V100h-5z"/>
<path class=c6 d="M141 19h5V100h-5z"/>
<path class=c12 d="M141 20h5V100h-5z"/>
<path class=c14 d="M141 21h5V100h-5z"/>
<path class=c10 d="M141 23h5V100h-5z"/>
<path class=c3 d="M141 24h5V100h-5z"/>
<path class=c2 d="M141 25h5V100h-5z"/>
<path class=c9 d="M141 26h5V100h-5z"/>
<path class=c14 d="M141 27h5V100h-5z"/>
<path class=c10 d="M141 28h5V100h-5z"/>
<path class=c9 d="M141 29h5V100h-5z"/>
<path class=c10 d="M141 30h5V100h-5z"/>
<path class=c5 d="M141 31h5V100h-5z"/>
<path class=c2 d="M141 32h5V100h-5z"/>
<path class=c13 d="M141 33h5V100h-5z"/>
<path class=c23 d="M141 34h5V100h-5z"/>
<path class=c20 d="M141 35h5V100h-5z"/>
<path class=c14 d="M141 36h5V100h-5z"/>
<path class=c13 d="M141 37h5V100h-5z"/>
<path class=c30 d="M141 38h5V100h-5z"/>
<path class=c2 d="M141 39h5V100h-5z"/>
<path class=c5 d="M141 40h5V100h-5z"/>
<path class=c6 d="M141 41h5V100h-5z"/>
<path class=c22 d="M141 42h5V100h-5z"/>
<path class=c12 d="M141 43h5V100h-5z"/>
<path class=c0 d="M141 45h5V100h-5z"/>
<path class=c13 d="M141 46h5V100h-5z"/>
<path class=c11 d="M141 47h5V100h-5z"/>
<path class=c18 d="M141 48h5V100h-5z"/>
<path class=c25 d="M141 49h5V100h-5z"/>
<path class=c13 d="M141 50h5V100h-5z"/>
<path class=c34 d="M141 51h5V100h-5z"/>
<path class=c14 d="M141 52h5V100h-5z"/>
<path class=c0 d="M141 53h5V100h-5z"/>
<path class=c26 d="M141 54h5V100h-5z"/>
<path class=c1 d="M141 55h5V100h-5z"/>
<path class=c5 d="M141 56h5V100h-5z"/>
<path class=c18 d="M141 57h5V100h-5z"/>
<path class=c19 d="M141 59h5V100h-5z"/>
<path class=c26 d="M141 60h5V100h-5z"/>
<path class=c33 d="M141 61h5V100h-5z"/>
<path class=c7 d="M141 62h5V100h-5z"/>
<path class=c31 d="M141 63h5V100h-5z"/>
<path class=c35 d="M141 64h5V100h-5z"/>
<path class=c11 d="M141 65h5V100h-5z"/>
<path class=c29 d="M141 66h5V100h-5z"/>
<path class=c36 d="M141 67h5V100h-5z"/>
<path class=c30 d="M141 68h5V100h-5z"/>
<path class=c37 d="M141 69h5V100h-5z"/>
<path class=c51 d="M141 70h5V100h-5z"/>
<path class=c22 d="M141 71h5V100h-5z"/>
<path class=c23 d="M141 72h5V100h-5z"/>
<path class=c37 d="M141 73h5V100h-5z"/>
<path class=c29 d="M141 74h5V100h-5z"/>
<path class=c48 d="M141 75h5V100h-5z"/>
<path class=c60 d="M141 76h5V100h-5z"/>
<path class=c40 d="M141 77h5V100h-5z"/>
<path class=c43 d="M141 78h5V100h-5z"/>
<path class=c42 d="M141 79h5V100h-5z"/>
<path class=c50 d="M141 80h5V100h-5z"/>
<path class=c26 d="M141 81h5V100h-5z"/>
<path class=c40 d="M141 82h5V100h-5z"/>
<path class=c18 d="M141 84h5V100h-5z"/>
<path class=c32 d="M141 85h5V100h-5z"/>
<path class=c27 d="M141 86h5V100h-5z"/>
<path class=c31 d="M141 87h5V100h-5z"/>
<path class=c21 d="M141 88h5V100h-5z"/>
<path class=c18 d="M141 89h5V100h-5z"/>
<path class=c32 d="M141 90h5V100h-5z"/>
<path class=c36 d="M141 91h5V100h-5z"/>
<path class=c40 d="M141 92h5V100h-5z"/>
<path class=c35 d="M141 93h5V100h-5z"/>
<path class=c6 d="M141 94h5V100h-5z"/>
<path class=c8 d="M141 95h5V100h-5z"/>
<path class=c5 d="M141 96h5V100h-5z"/>
<path class=c2 d="M141 97h5V100h-5z"/>
<path class=c1 d="M141 98h5V100h-5z"/>
<path class=c7 d="M141 99h5V100h-5z"/>
</svg>
<rect class="cb" x="180.50" y="13.30" width="13.30" height="123.70"/>
<text class="tt" text-anchor="middle" x="100.5" y="8.3">EEG signal</text>
<text class="al" text-anchor="middle" x="100.8" y="163.7">Time (s)</text>
<text class="al" text-anchor="middle" transform="translate(8.4 75.2) rotate(-90)">Frequency (Hz)</text>
<text class="tk" text-anchor="end" x="23.3" y="31.6">40</text>
<text class="tk" text-anchor="end" x="23.3" y="59.2">30</text>
<text class="tk" text-anchor="end" x="23.3" y="86.8">20</text>
<text class="tk" text-anchor="end" x="23.3" y="114.4">10</text>
<text class="tk" text-anchor="middle" x="27.7" y="149.8">0</text>
<text class="tk" text-anchor="middle" x="97.2" y="149.8">30</text>
<text class="tk" text-anchor="middle" x="166.6" y="149.8">60</text>
<text class="ct" x="197.8" y="23.8">10</text>
<line class="tl" x1="192.50" x2="193.80" y1="20.90" y2="20.90"/>
<text class="ct" x="197.8" y="43.6">5</text>
<line class="tl" x1="192.50" x2="193.80" y1="40.70" y2="40.70"/>
<text class="ct" x="197.8" y="63.4">0</text>
<line class="tl" x1="192.50" x2="193.80" y1="60.50" y2="60.50"/>
<text class="ct" x="197.8" y="83.0">-5</text>
<line class="tl" x1="192.50" x2="193.80" y1="80.10" y2="80.10"/>
<text class="ct" x="197.8" y="102.2">-10</text>
<line class="tl" x1="192.50" x2="193.80" y1="99.30" y2="99.30"/>
<text class="ct" x="197.8" y="121.7">-15</text>
<line class="tl" x1="192.50" x2="193.80" y1="118.80" y2="118.80"/>
<text class="cl" text-anchor="middle" transform="translate(220.8 75.2) rotate(-90)">Power (dB)</text>
<svg x=269 y=13.3 width=146 height=123.7 viewBox="0 0 146 100" preserveAspectRatio=none>
<path class=c0 d="M0 0h9V100h-9z"/>
<path class=c32 d="M0 44h9V100h-9z"/>
<path class=c44 d="M0 45h9V100h-9z"/>
<path class=c16 d="M0 46h9V100h-9z"/>
<path class=c0 d="M0 47h9V100h-9z"/>
<path class=c47 d="M0 49h9V100h-9z"/>
<path class=c0 d="M0 50h9V100h-9z"/>
<path class=c50 d="M0 51h9V100h-9z"/>
<path class=c13 d="M0 52h9V100h-9z"/>
<path class=c0 d="M0 53h9V100h-9z"/>
<path class=c13 d="M0 54h9V100h-9z"/>
<path class=c0 d="M0 55h9V100h-9z"/>
<path class=c8 d="M0 56h9V100h-9z"/>
<path class=c0 d="M0 57h9V100h-9z"/>
<path class=c8 d="M0 64h9V100h-9z"/>
<path class=c0 d="M0 65h9V100h-9z"/>
<path class=c0 d="M9 0h9V100h-9z"/>
<path class=c57 d="M9 46h9V100h-9z"/>
<path class=c0 d="M9 48h9V100h-9z"/>
<path class=c22 d="M9 53h9V100h-9z"/>
<path class=c28 d="M9 54h9V100h-9z"/>
<path class=c19 d="M9 55h9V100h-9z"/>
<path class=c35 d="M9 56h9V100h-9z"/>
<path class=c0 d="M9 58h9V100h-9z"/>
<path class=c16 d="M9 61h9V100h-9z"/>
<path class=c0 d="M9 62h9V100h-9z"/>
<path class=c0 d="M18 0h9V100h-9z"/>
<path class=c35 d="M18 44h9V100h-9z"/>
<path class=c0 d="M18 45h9V100h-9z"/>
<path class=c19 d="M18 46h9V100h-9z"/>
<path class=c0 d="M18 47h9V100h-9z"/>
<path class=c44 d="M18 48h9V100h-9z"/>
<path class=c0 d="M18 49h9V100h-9z"/>
<path class=c13 d="M18 50h9V100h-9z"/>
<path class=c0 d="M18 51h9V100h-9z"/>
<path class=c38 d="M18 55h9V100h-9z"/>
<path class=c0 d="M18 56h9V100h-9z"/>
<path class=c19 d="M18 57h9V100h-9z"/>
<path class=c0 d="M18 58h9V100h-9z"/>
<path class=c16 d="M18 59h9V100h-9z"/>
<path class=c0 d="M18 60h9V100h-9z"/>
<path class=c9 d="M18 63h9V100h-9z"/>
<path class=c0 d="M18 64h9V100h-9z"/>
<path class=c19 d="M18 65h9V100h-9z"/>
<path class=c28 d="M18 66h9V100h-9z"/>
<path class=c0 d="M18 67h9V100h-9z"/>
<path class=c0 d="M27 0h9V100h-9z"/>
<path class=c28 d="M27 43h9V100h-9z"/>
<path class=c0 d="M27 44h9V100h-9z"/>
<path class=c54 d="M27 45h9V100h-9z"/>
<path class=c32 d="M27 46h9V100h-9z"/>
<path class=c60 d="M27 47h9V100h-9z"/>
<path class=c0 d="M27 49h9V100h-9z"/>
<path class=c8 d="M27 50h9V100h-9z"/>
<path class=c0 d="M27 51h9V100h-9z"/>
<path class=c13 d="M27 58h9V100h-9z"/>
<path class=c0 d="M27 59h9V100h-9z"/>
<path class=c8 d="M27 60h9V100h-9z"/>
<path class=c0 d="M27 61h9V100h-9z"/>
<path class=c0 d="M36 0h10V100h-10z"/>
<path class=c19 d="M36 43h10V100h-10z"/>
<path class=c0 d="M36 44h10V100h-10z"/>
<path class=c28 d="M36 46h10V100h-10z"/>
<path class=c0 d="M36 47h10V100h-10z"/>
<path class=c8 d="M36 54h10V100h-10z"/>
<path class=c0 d="M36 55h10V100h-10z"/>
<path class=c13 d="M36 58h10V100h-10z"/>
<path class=c0 d="M36 59h10V100h-10z"/>
<path class=c0 d="M46 0h9V100h-9z"/>
<path class=c13 d="M46 44h9V100h-9z"/>
<path class=c0 d="M46 45h9V100h-9z"/>
<path class=c14 d="M46 46h9V100h-9z"/>
<path class=c0 d="M46 47h9V100h-9z"/>
<path class=c35 d="M46 48h9V100h-9z"/>
<path class=c0 d="M46 49h9V100h-9z"/>
<path class=c25 d="M46 55h9V100h-9z"/>
<path class=c0 d="M46 56h9V100h-9z"/>
<path class=c13 d="M46 63h9V100h-9z"/>
<path class=c0 d="M46 64h9V100h-9z"/>
<path class=c16 d="M46 65h9V100h-9z"/>
<path class=c0 d="M46 66h9V100h-9z"/>
<path class=c0 d="M55 0h9V100h-9z"/>
<path class=c9 d="M55 47h9V100h-9z"/>
<path class=c0 d="M55 48h9V100h-9z"/>
<path class=c25 d="M55 55h9V100h-9z"/>
<path class=c32 d="M55 56h9V100h-9z"/>
<path class=c0 d="M55 57h9V100h-9z"/>
<path class=c35 d="M55 58h9V100h-9z"/>
<path class=c0 d="M55 59h9V100h-9z"/>
<path class=c19 d="M55 60h9V100h-9z"/>
<path class=c0 d="M55 61h9V100h-9z"/>
<path class=c0 d="M64 0h9V100h-9z"/>
<path class=c57 d="M64 43h9V100h-9z"/>
<path class=c0 d="M64 45h9V100h-9z"/>
<path class=c25 d="M64 49h9V100h-9z"/>
<path class=c32 d="M64 50h9V100h-9z"/>
<path class=c54 d="M64 51h9V100h-9z"/>
<path class=c0 d="M64 53h9V100h-9z"/>
<path class=c44 d="M64 54h9V100h-9z"/>
<path class=c0 d="M64 56h9V100h-9z"/>
<path class=c13 d="M64 58h9V100h-9z"/>
<path class=c0 d="M64 59h9V100h-9z"/>
<path class=c16 d="M64 60h9V100h-9z"/>
<path class=c0 d="M64 61h9V100h-9z"/>
<path class=c22 d="M64 62h9V100h-9z"/>
<path class=c0 d="M64 63h9V100h-9z"/>
<path class=c8 d="M64 68h9V100h-9z"/>
<path class=c0 d="M64 69h9V100h-9z"/>
<path class=c0 d="M73 0h9V100h-9z"/>
<path class=c13 d="M73 44h9V100h-9z"/>
<path class=c0 d="M73 45h9V100h-9z"/>
<path class=c28 d="M73 48h9V100h-9z"/>
<path class=c0 d="M73 49h9V100h-9z"/>
<path class=c32 d="M73 50h9V100h-9z"/>
<path class=c28 d="M73 52h9V100h-9z"/>
<path class=c0 d="M73 53h9V100h-9z"/>
<path class=c44 d="M73 54h9V100h-9z"/>
<path class=c0 d="M73 55h9V100h-9z"/>
<path class=c50 d="M73 56h9V100h-9z"/>
<path class=c0 d="M73 57h9V100h-9z"/>
<path class=c16 d="M73 60h9V100h-9z"/>
<path class=c0 d="M73 61h9V100h-9z"/>
<path class=c19 d="M73 63h9V100h-9z"/>
<path class=c13 d="M73 64h9V100h-9z"/>
<path class=c0 d="M73 65h9V100h-9z"/>
<path class=c0 d="M82 0h9V100h-9z"/>
<path class=c16 d="M82 44h9V100h-9z"/>
<path class=c0 d="M82 45h9V100h-9z"/>
<path class=c35 d="M82 49h9V100h-9z"/>
<path class=c0 d="M82 50h9V100h-9z"/>
<path class=c54 d="M82 51h9V100h-9z"/>
<path class=c0 d="M82 53h9V100h-9z"/>
<path class=c26 d="M82 55h9V100h-9z"/>
<path class=c0 d="M82 58h9V100h-9z"/>
<path class=c16 d="M82 60h9V100h-9z"/>
<path class=c0 d="M82 61h9V100h-9z"/>
<path class=c8 d="M82 68h9V100h-9z"/>
<path class=c0 d="M82 69h9V100h-9z"/>
<path class=c0 d="M91 0h9V100h-9z"/>
<path class=c50 d="M91 45h9V100h-9z"/>
<path class=c0 d="M91 46h9V100h-9z"/>
<path class=c35 d="M91 47h9V100h-9z"/>
<path class=c0 d="M91 49h9V100h-9z"/>
<path class=c13 d="M91 55h9V100h-9z"/>
<path class=c0 d="M91 56h9V100h-9z"/>
<path class=c25 d="M91 65h9V100h-9z"/>
<path class=c0 d="M91 66h9V100h-9z"/>
<path class=c16 d="M91 72h9V100h-9z"/>
<path class=c0 d="M91 73h9V100h-9z"/>
<path class=c22 d="M91 74h9V100h-9z"/>
<path class=c0 d="M91 75h9V100h-9z"/>
<path class=c0 d="M100 0h10V100h-10z"/>
<path class=c57 d="M100 44h10V100h-10z"/>
<path class=c0 d="M100 45h10V100h-10z"/>
<path class=c16 d="M100 46h10V100h-10z"/>
<path class=c0 d="M100 47h10V100h-10z"/>
<path class=c26 d="M100 48h10V100h-10z"/>
<path class=c0 d="M100 50h10V100h-10z"/>
<path class=c22 d="M100 51h10V100h-10z"/>
<path class=c19 d="M100 52h10V100h-10z"/>
<path class=c0 d="M100 53h10V100h-10z"/>
<path class=c25 d="M100 55h10V100h-10z"/>
<path class=c0 d="M100 56h10V100h-10z"/>
<path class=c28 d="M100 64h10V100h-10z"/>
<path class=c0 d="M100 65h10V100h-10z"/>
<path class=c0 d="M110 0h9V100h-9z"/>
<path class=c54 d="M110 53h9V100h-9z"/>
<path class=c0 d="M110 55h9V100h-9z"/>
<path class=c38 d="M110 58h9V100h-9z"/>
<path class=c13 d="M110 59h9V100h-9z"/>
<path class=c0 d="M110 60h9V100h-9z"/>
<path class=c0 d="M119 0h9V100h-9z"/>
<path class=c25 d="M119 43h9V100h-9z"/>
<path class=c0 d="M119 44h9V100h-9z"/>
<path class=c8 d="M119 46h9V100h-9z"/>
<path class=c0 d="M119 47h9V100h-9z"/>
<path class=c44 d="M119 49h9V100h-9z"/>
<path class=c13 d="M119 50h9V100h-9z"/>
<path class=c0 d="M119 51h9V100h-9z"/>
<path class=c28 d="M119 57h9V100h-9z"/>
<path class=c0 d="M119 58h9V100h-9z"/>
<path class=c19 d="M119 59h9V100h-9z"/>
<path class=c0 d="M119 60h9V100h-9z"/>
<path class=c25 d="M119 61h9V100h-9z"/>
<path class=c0 d="M119 62h9V100h-9z"/>
<path class=c19 d="M119 65h9V100h-9z"/>
<path class=c0 d="M119 66h9V100h-9z"/>
<path class=c19 d="M119 67h9V100h-9z"/>
<path class=c0 d="M119 68h9V100h-9z"/>
<path class=c13 d="M119 70h9V100h-9z"/>
<path class=c0 d="M119 71h9V100h-9z"/>
<path class=c0 d="M128 0h9V100h-9z"/>
<path class=c19 d="M128 43h9V100h-9z"/>
<path class=c0 d="M128 44h9V100h-9z"/>
<path class=c32 d="M128 46h9V100h-9z"/>
<path class=c47 d="M128 47h9V100h-9z"/>
<path class=c0 d="M128 48h9V100h-9z"/>
<path class=c16 d="M128 49h9V100h-9z"/>
<path class=c13 d="M128 50h9V100h-9z"/>
<path class=c0 d="M128 51h9V100h-9z"/>
<path class=c32 d="M128 52h9V100h-9z"/>
<path class=c0 d="M128 54h9V100h-9z"/>
<path class=c8 d="M128 57h9V100h-9z"/>
<path class=c0 d="M128 58h9V100h-9z"/>
<path class=c25 d="M128 63h9V100h-9z"/>
<path class=c0 d="M128 64h9V100h-9z"/>
<path class=c19 d="M128 65h9V100h-9z"/>
<path class=c0 d="M128 66h9V100h-9z"/>
<path class=c0 d="M137 0h9V100h-9z"/>
<path class=c50 d="M137 46h9V100h-9z"/>
<path class=c0 d="M137 47h9V100h-9z"/>
<path class=c13 d="M137 48h9V100h-9z"/>
<path class=c0 d="M137 49h9V100h-9z"/>
<path class=c44 d="M137 50h9V100h-9z"/>
<path class=c25 d="M137 52h9V100h-9z"/>
<path class=c0 d="M137 53h9V100h-9z"/>
<path class=c19 d="M137 54h9V100h-9z"/>
<path class=c0 d="M137 55h9V100h-9z"/>
<path class=c25 d="M137 56h9V100h-9z"/>
<path class=c0 d="M137 57h9V100h-9z"/>
<path class=c8 d="M137 61h9V100h-9z"/>
<path class=c0 d="M137 62h9V100h-9z"/>
</svg>
<rect class="cb" x="422.00" y="13.30" width="13.40" height="123.70"/>
<text class="tt" text-anchor="middle" x="341.5" y="8.3">SB1</text>
<text class="al" text-anchor="middle" x="341.8" y="163.7">Time (s)</text>
<text class="al" text-anchor="middle" transform="translate(247.8 75.2) rotate(-90)">Frequency (Hz)</text>
<text class="tk" text-anchor="end" x="264.2" y="31.6">40</text>
<text class="tk" text-anchor="end" x="264.2" y="59.2">30</text>
<text class="tk" text-anchor="end" x="264.2" y="86.8">20</text>
<text class="tk" text-anchor="end" x="264.2" y="114.4">10</text>
<text class="tk" text-anchor="middle" x="268.6" y="149.8">0</text>
<text class="tk" text-anchor="middle" x="315.4" y="149.8">10</text>
<text class="tk" text-anchor="middle" x="362.2" y="149.8">20</text>
<text class="tk" text-anchor="middle" x="409.0" y="149.8">30</text>
<text class="ct" x="439.4" y="39.8">-12</text>
<line class="tl" x1="434.10" x2="435.40" y1="36.90" y2="36.90"/>
<text class="ct" x="439.4" y="65.2">-14</text>
<line class="tl" x1="434.10" x2="435.40" y1="62.30" y2="62.30"/>
<text class="ct" x="439.4" y="90.6">-16</text>
<line class="tl" x1="434.10" x2="435.40" y1="87.70" y2="87.70"/>
<text class="ct" x="439.4" y="116.0">-18</text>
<line class="tl" x1="434.10" x2="435.40" y1="113.10" y2="113.10"/>
<text class="cl" text-anchor="middle" transform="translate(462.4 75.2) rotate(-90)">Power (dB)</text>
<svg x=510 y=13.3 width=146 height=123.7 viewBox="0 0 146 100" preserveAspectRatio=none>
<path class=c0 d="M0 0h9V100h-9z"/>
<path class=c8 d="M0 1h9V100h-9z"/>
<path class=c0 d="M0 2h9V100h-9z"/>
<path class=c6 d="M0 3h9V100h-9z"/>
<path class=c8 d="M0 4h9V100h-9z"/>
<path class=c14 d="M0 5h9V100h-9z"/>
<path class=c20 d="M0 6h9V100h-9z"/>
<path class=c0 d="M0 7h9V100h-9z"/>
<path class=c8 d="M0 8h9V100h-9z"/>
<path class=c28 d="M0 9h9V100h-9z"/>
<path class=c32 d="M0 10h9V100h-9z"/>
<path class=c11 d="M0 11h9V100h-9z"/>
<path class=c44 d="M0 12h9V100h-9z"/>
<path class=c0 d="M0 13h9V100h-9z"/>
<path class=c14 d="M0 15h9V100h-9z"/>
<path class=c7 d="M0 16h9V100h-9z"/>
<path class=c0 d="M0 17h9V100h-9z"/>
<path class=c14 d="M0 18h9V100h-9z"/>
<path class=c0 d="M0 19h9V100h-9z"/>
<path class=c11 d="M0 20h9V100h-9z"/>
<path class=c8 d="M0 21h9V100h-9z"/>
<path class=c0 d="M0 22h9V100h-9z"/>
<path class=c14 d="M0 23h9V100h-9z"/>
<path class=c0 d="M0 24h9V100h-9z"/>
<path class=c20 d="M0 25h9V100h-9z"/>
<path class=c0 d="M0 26h9V100h-9z"/>
<path class=c11 d="M0 27h9V100h-9z"/>
<path class=c0 d="M0 28h9V100h-9z"/>
<path class=c17 d="M0 30h9V100h-9z"/>
<path class=c11 d="M0 31h9V100h-9z"/>
<path class=c0 d="M0 32h9V100h-9z"/>
<path class=c35 d="M0 35h9V100h-9z"/>
<path class=c11 d="M0 36h9V100h-9z"/>
<path class=c0 d="M0 37h9V100h-9z"/>
<path class=c11 d="M0 39h9V100h-9z"/>
<path class=c0 d="M0 40h9V100h-9z"/>
<path class=c10 d="M0 41h9V100h-9z"/>
<path class=c7 d="M0 42h9V100h-9z"/>
<path class=c0 d="M0 43h9V100h-9z"/>
<path class=c54 d="M0 44h9V100h-9z"/>
<path class=c0 d="M0 46h9V100h-9z"/>
<path class=c17 d="M0 48h9V100h-9z"/>
<path class=c0 d="M0 49h9V100h-9z"/>
<path class=c54 d="M0 50h9V100h-9z"/>
<path class=c10 d="M0 52h9V100h-9z"/>
<path class=c0 d="M0 53h9V100h-9z"/>
<path class=c28 d="M0 55h9V100h-9z"/>
<path class=c0 d="M0 56h9V100h-9z"/>
<path class=c17 d="M0 58h9V100h-9z"/>
<path class=c0 d="M0 59h9V100h-9z"/>
<path class=c41 d="M0 60h9V100h-9z"/>
<path class=c0 d="M0 61h9V100h-9z"/>
<path class=c17 d="M0 63h9V100h-9z"/>
<path class=c0 d="M0 64h9V100h-9z"/>
<path class=c28 d="M0 65h9V100h-9z"/>
<path class=c0 d="M0 66h9V100h-9z"/>
<path class=c20 d="M0 67h9V100h-9z"/>
<path class=c0 d="M0 68h9V100h-9z"/>
<path class=c0 d="M9 0h9V100h-9z"/>
<path class=c35 d="M9 6h9V100h-9z"/>
<path class=c7 d="M9 7h9V100h-9z"/>
<path class=c0 d="M9 8h9V100h-9z"/>
<path class=c5 d="M9 10h9V100h-9z"/>
<path class=c0 d="M9 11h9V100h-9z"/>
<path class=c28 d="M9 14h9V100h-9z"/>
<path class=c32 d="M9 16h9V100h-9z"/>
<path class=c38 d="M9 18h9V100h-9z"/>
<path class=c0 d="M9 20h9V100h-9z"/>
<path class=c11 d="M9 22h9V100h-9z"/>
<path class=c0 d="M9 23h9V100h-9z"/>
<path class=c17 d="M9 25h9V100h-9z"/>
<path class=c0 d="M9 26h9V100h-9z"/>
<path class=c11 d="M9 27h9V100h-9z"/>
<path class=c0 d="M9 28h9V100h-9z"/>
<path class=c8 d="M9 33h9V100h-9z"/>
<path class=c0 d="M9 34h9V100h-9z"/>
<path class=c17 d="M9 35h9V100h-9z"/>
<path class=c41 d="M9 36h9V100h-9z"/>
<path class=c0 d="M9 37h9V100h-9z"/>
<path class=c28 d="M9 40h9V100h-9z"/>
<path class=c0 d="M9 42h9V100h-9z"/>
<path class=c17 d="M9 44h9V100h-9z"/>
<path class=c0 d="M9 45h9V100h-9z"/>
<path class=c28 d="M9 47h9V100h-9z"/>
<path class=c0 d="M9 49h9V100h-9z"/>
<path class=c44 d="M9 51h9V100h-9z"/>
<path class=c0 d="M9 52h9V100h-9z"/>
<path class=c11 d="M9 53h9V100h-9z"/>
<path class=c0 d="M9 54h9V100h-9z"/>
<path class=c11 d="M9 56h9V100h-9z"/>
<path class=c14 d="M9 57h9V100h-9z"/>
<path class=c7 d="M9 58h9V100h-9z"/>
<path class=c0 d="M9 59h9V100h-9z"/>
<path class=c11 d="M9 60h9V100h-9z"/>
<path class=c0 d="M9 61h9V100h-9z"/>
<path class=c8 d="M9 62h9V100h-9z"/>
<path class=c0 d="M9 63h9V100h-9z"/>
<path class=c8 d="M9 64h9V100h-9z"/>
<path class=c0 d="M9 65h9V100h-9z"/>
<path class=c32 d="M9 72h9V100h-9z"/>
<path class=c14 d="M9 73h9V100h-9z"/>
<path class=c0 d="M9 74h9V100h-9z"/>
<path class=c0 d="M18 0h9V100h-9z"/>
<path class=c17 d="M18 2h9V100h-9z"/>
<path class=c5 d="M18 3h9V100h-9z"/>
<path class=c0 d="M18 4h9V100h-9z"/>
<path class=c7 d="M18 6h9V100h-9z"/>
<path class=c0 d="M18 7h9V100h-9z"/>
<path class=c28 d="M18 8h9V100h-9z"/>
<path class=c7 d="M18 9h9V100h-9z"/>
<path class=c0 d="M18 10h9V100h-9z"/>
<path class=c6 d="M18 11h9V100h-9z"/>
<path class=c0 d="M18 12h9V100h-9z"/>
<path class=c38 d="M18 16h9V100h-9z"/>
<path class=c0 d="M18 17h9V100h-9z"/>
<path class=c17 d="M18 22h9V100h-9z"/>
<path class=c0 d="M18 23h9V100h-9z"/>
<path class=c6 d="M18 27h9V100h-9z"/>
<path class=c0 d="M18 28h9V100h-9z"/>
<path class=c47 d="M18 30h9V100h-9z"/>
<path class=c0 d="M18 31h9V100h-9z"/>
<path class=c14 d="M18 35h9V100h-9z"/>
<path class=c0 d="M18 36h9V100h-9z"/>
<path class=c7 d="M18 37h9V100h-9z"/>
<path class=c32 d="M18 38h9V100h-9z"/>
<path class=c0 d="M18 39h9V100h-9z"/>
<path class=c44 d="M18 41h9V100h-9z"/>
<path class=c0 d="M18 42h9V100h-9z"/>
<path class=c17 d="M18 48h9V100h-9z"/>
<path class=c28 d="M18 49h9V100h-9z"/>
<path class=c8 d="M18 50h9V100h-9z"/>
<path class=c0 d="M18 51h9V100h-9z"/>
<path class=c35 d="M18 52h9V100h-9z"/>
<path class=c8 d="M18 53h9V100h-9z"/>
<path class=c0 d="M18 54h9V100h-9z"/>
<path class=c20 d="M18 55h9V100h-9z"/>
<path class=c0 d="M18 56h9V100h-9z"/>
<path class=c14 d="M18 57h9V100h-9z"/>
<path class=c0 d="M18 58h9V100h-9z"/>
<path class=c9 d="M18 61h9V100h-9z"/>
<path class=c17 d="M18 62h9V100h-9z"/>
<path class=c0 d="M18 63h9V100h-9z"/>
<path class=c30 d="M18 65h9V100h-9z"/>
<path class=c0 d="M18 66h9V100h-9z"/>
<path class=c17 d="M18 71h9V100h-9z"/>
<path class=c0 d="M18 72h9V100h-9z"/>
<path class=c0 d="M27 0h9V100h-9z"/>
<path class=c6 d="M27 2h9V100h-9z"/>
<path class=c10 d="M27 3h9V100h-9z"/>
<path class=c17 d="M27 4h9V100h-9z"/>
<path class=c6 d="M27 5h9V100h-9z"/>
<path class=c35 d="M27 6h9V100h-9z"/>
<path class=c0 d="M27 7h9V100h-9z"/>
<path class=c20 d="M27 8h9V100h-9z"/>
<path class=c0 d="M27 9h9V100h-9z"/>
<path class=c6 d="M27 11h9V100h-9z"/>
<path class=c0 d="M27 12h9V100h-9z"/>
<path class=c17 d="M27 19h9V100h-9z"/>
<path class=c0 d="M27 20h9V100h-9z"/>
<path class=c17 d="M27 21h9V100h-9z"/>
<path class=c0 d="M27 22h9V100h-9z"/>
<path class=c14 d="M27 23h9V100h-9z"/>
<path class=c0 d="M27 25h9V100h-9z"/>
<path class=c6 d="M27 26h9V100h-9z"/>
<path class=c11 d="M27 27h9V100h-9z"/>
<path class=c5 d="M27 28h9V100h-9z"/>
<path class=c0 d="M27 29h9V100h-9z"/>
<path class=c20 d="M27 35h9V100h-9z"/>
<path class=c0 d="M27 36h9V100h-9z"/>
<path class=c5 d="M27 38h9V100h-9z"/>
<path class=c6 d="M27 39h9V100h-9z"/>
<path class=c0 d="M27 40h9V100h-9z"/>
<path class=c14 d="M27 42h9V100h-9z"/>
<path class=c0 d="M27 43h9V100h-9z"/>
<path class=c14 d="M27 44h9V100h-9z"/>
<path class=c28 d="M27 45h9V100h-9z"/>
<path class=c0 d="M27 46h9V100h-9z"/>
<path class=c6 d="M27 48h9V100h-9z"/>
<path class=c35 d="M27 49h9V100h-9z"/>
<path class=c20 d="M27 50h9V100h-9z"/>
<path class=c10 d="M27 51h9V100h-9z"/>
<path class=c5 d="M27 52h9V100h-9z"/>
<path class=c14 d="M27 53h9V100h-9z"/>
<path class=c0 d="M27 54h9V100h-9z"/>
<path class=c17 d="M27 56h9V100h-9z"/>
<path class=c0 d="M27 57h9V100h-9z"/>
<path class=c17 d="M27 58h9V100h-9z"/>
<path class=c0 d="M27 59h9V100h-9z"/>
<path class=c20 d="M27 62h9V100h-9z"/>
<path class=c0 d="M27 63h9V100h-9z"/>
<path class=c11 d="M27 76h9V100h-9z"/>
<path class=c0 d="M27 77h9V100h-9z"/>
<path class=c0 d="M36 0h10V100h-10z"/>
<path class=c7 d="M36 4h10V100h-10z"/>
<path class=c0 d="M36 5h10V100h-10z"/>
<path class=c6 d="M36 6h10V100h-10z"/>
<path class=c0 d="M36 7h10V100h-10z"/>
<path class=c6 d="M36 8h10V100h-10z"/>
<path class=c0 d="M36 9h10V100h-10z"/>
<path class=c8 d="M36 16h10V100h-10z"/>
<path class=c0 d="M36 17h10V100h-10z"/>
<path class=c14 d="M36 20h10V100h-10z"/>
<path class=c8 d="M36 21h10V100h-10z"/>
<path class=c7 d="M36 22h10V100h-10z"/>
<path class=c0 d="M36 23h10V100h-10z"/>
<path class=c5 d="M36 27h10V100h-10z"/>
<path class=c0 d="M36 28h10V100h-10z"/>
<path class=c11 d="M36 30h10V100h-10z"/>
<path class=c0 d="M36 31h10V100h-10z"/>
<path class=c14 d="M36 42h10V100h-10z"/>
<path class=c0 d="M36 43h10V100h-10z"/>
<path class=c11 d="M36 44h10V100h-10z"/>
<path class=c0 d="M36 45h10V100h-10z"/>
<path class=c20 d="M36 46h10V100h-10z"/>
<path class=c0 d="M36 47h10V100h-10z"/>
<path class=c28 d="M36 48h10V100h-10z"/>
<path class=c0 d="M36 49h10V100h-10z"/>
<path class=c11 d="M36 50h10V100h-10z"/>
<path class=c0 d="M36 51h10V100h-10z"/>
<path class=c9 d="M36 55h10V100h-10z"/>
<path class=c8 d="M36 56h10V100h-10z"/>
<path class=c0 d="M36 57h10V100h-10z"/>
<path class=c7 d="M36 58h10V100h-10z"/>
<path class=c0 d="M36 59h10V100h-10z"/>
<path class=c9 d="M36 64h10V100h-10z"/>
<path class=c10 d="M36 65h10V100h-10z"/>
<path class=c27 d="M36 66h10V100h-10z"/>
<path class=c0 d="M36 67h10V100h-10z"/>
<path class=c0 d="M46 0h9V100h-9z"/>
<path class=c7 d="M46 1h9V100h-9z"/>
<path class=c0 d="M46 2h9V100h-9z"/>
<path class=c20 d="M46 9h9V100h-9z"/>
<path class=c7 d="M46 10h9V100h-9z"/>
<path class=c0 d="M46 11h9V100h-9z"/>
<path class=c11 d="M46 17h9V100h-9z"/>
<path class=c0 d="M46 18h9V100h-9z"/>
<path class=c35 d="M46 26h9V100h-9z"/>
<path class=c0 d="M46 27h9V100h-9z"/>
<path class=c17 d="M46 28h9V100h-9z"/>
<path class=c32 d="M46 29h9V100h-9z"/>
<path class=c0 d="M46 30h9V100h-9z"/>
<path class=c7 d="M46 31h9V100h-9z"/>
<path class=c0 d="M46 32h9V100h-9z"/>
<path class=c11 d="M46 33h9V100h-9z"/>
<path class=c0 d="M46 34h9V100h-9z"/>
<path class=c44 d="M46 37h9V100h-9z"/>
<path class=c9 d="M46 38h9V100h-9z"/>
<path class=c28 d="M46 39h9V100h-9z"/>
<path class=c0 d="M46 40h9V100h-9z"/>
<path class=c11 d="M46 44h9V100h-9z"/>
<path class=c0 d="M46 45h9V100h-9z"/>
<path class=c5 d="M46 47h9V100h-9z"/>
<path class=c10 d="M46 48h9V100h-9z"/>
<path class=c0 d="M46 49h9V100h-9z"/>
<path class=c17 d="M46 50h9V100h-9z"/>
<path class=c0 d="M46 51h9V100h-9z"/>
<path class=c54 d="M46 52h9V100h-9z"/>
<path class=c0 d="M46 54h9V100h-9z"/>
<path class=c14 d="M46 55h9V100h-9z"/>
<path class=c0 d="M46 56h9V100h-9z"/>
<path class=c14 d="M46 58h9V100h-9z"/>
<path class=c0 d="M46 59h9V100h-9z"/>
<path class=c10 d="M46 60h9V100h-9z"/>
<path class=c0 d="M46 61h9V100h-9z"/>
<path class=c6 d="M46 64h9V100h-9z"/>
<path class=c0 d="M46 65h9V100h-9z"/>
<path class=c14 d="M46 67h9V100h-9z"/>
<path class=c0 d="M46 68h9V100h-9z"/>
<path class=c9 d="M55 0h9V100h-9z"/>
<path class=c0 d="M55 1h9V100h-9z"/>
<path class=c10 d="M55 8h9V100h-9z"/>
<path class=c0 d="M55 9h9V100h-9z"/>
<path class=c10 d="M55 10h9V100h-9z"/>
<path class=c0 d="M55 11h9V100h-9z"/>
<path class=c9 d="M55 13h9V100h-9z"/>
<path class=c11 d="M55 14h9V100h-9z"/>
<path class=c0 d="M55 15h9V100h-9z"/>
<path class=c28 d="M55 16h9V100h-9z"/>
<path class=c0 d="M55 17h9V100h-9z"/>
<path class=c9 d="M55 18h9V100h-9z"/>
<path class=c28 d="M55 20h9V100h-9z"/>
<path class=c0 d="M55 21h9V100h-9z"/>
<path class=c17 d="M55 23h9V100h-9z"/>
<path class=c0 d="M55 24h9V100h-9z"/>
<path class=c17 d="M55 25h9V100h-9z"/>
<path class=c0 d="M55 26h9V100h-9z"/>
<path class=c9 d="M55 29h9V100h-9z"/>
<path class=c0 d="M55 30h9V100h-9z"/>
<path class=c17 d="M55 33h9V100h-9z"/>
<path class=c0 d="M55 34h9V100h-9z"/>
<path class=c14 d="M55 36h9V100h-9z"/>
<path class=c7 d="M55 37h9V100h-9z"/>
<path class=c0 d="M55 38h9V100h-9z"/>
<path class=c17 d="M55 39h9V100h-9z"/>
<path class=c44 d="M55 40h9V100h-9z"/>
<path class=c0 d="M55 42h9V100h-9z"/>
<path class=c6 d="M55 45h9V100h-9z"/>
<path class=c0 d="M55 46h9V100h-9z"/>
<path class=c11 d="M55 47h9V100h-9z"/>
<path class=c0 d="M55 48h9V100h-9z"/>
<path class=c7 d="M55 49h9V100h-9z"/>
<path class=c10 d="M55 50h9V100h-9z"/>
<path class=c35 d="M55 51h9V100h-9z"/>
<path class=c0 d="M55 52h9V100h-9z"/>
<path class=c6 d="M55 53h9V100h-9z"/>
<path class=c0 d="M55 54h9V100h-9z"/>
<path class=c11 d="M55 57h9V100h-9z"/>
<path class=c0 d="M55 58h9V100h-9z"/>
<path class=c17 d="M55 60h9V100h-9z"/>
<path class=c0 d="M55 61h9V100h-9z"/>
<path class=c9 d="M55 62h9V100h-9z"/>
<path class=c32 d="M55 63h9V100h-9z"/>
<path class=c0 d="M55 64h9V100h-9z"/>
<path class=c14 d="M55 67h9V100h-9z"/>
<path class=c0 d="M55 68h9V100h-9z"/>
<path class=c11 d="M55 69h9V100h-9z"/>
<path class=c0 d="M55 70h9V100h-9z"/>
<path class=c27 d="M55 72h9V100h-9z"/>
<path class=c0 d="M55 73h9V100h-9z"/>
<path class=c0 d="M64 0h9V100h-9z"/>
<path class=c6 d="M64 1h9V100h-9z"/>
<path class=c0 d="M64 2h9V100h-9z"/>
<path class=c28 d="M64 3h9V100h-9z"/>
<path class=c0 d="M64 4h9V100h-9z"/>
<path class=c10 d="M64 8h9V100h-9z"/>
<path class=c17 d="M64 9h9V100h-9z"/>
<path class=c0 d="M64 10h9V100h-9z"/>
<path class=c17 d="M64 11h9V100h-9z"/>
<path class=c0 d="M64 12h9V100h-9z"/>
<path class=c44 d="M64 13h9V100h-9z"/>
<path class=c0 d="M64 14h9V100h-9z"/>
<path class=c17 d="M64 16h9V100h-9z"/>
<path class=c0 d="M64 17h9V100h-9z"/>
<path class=c28 d="M64 20h9V100h-9z"/>
<path class=c0 d="M64 21h9V100h-9z"/>
<path class=c11 d="M64 22h9V100h-9z"/>
<path class=c17 d="M64 23h9V100h-9z"/>
<path class=c5 d="M64 24h9V100h-9z"/>
<path class=c20 d="M64 25h9V100h-9z"/>
<path class=c0 d="M64 26h9V100h-9z"/>
<path class=c17 d="M64 27h9V100h-9z"/>
<path class=c0 d="M64 28h9V100h-9z"/>
<path class=c35 d="M64 29h9V100h-9z"/>
<path class=c0 d="M64 30h9V100h-9z"/>
<path class=c28 d="M64 31h9V100h-9z"/>
<path class=c0 d="M64 32h9V100h-9z"/>
<path class=c17 d="M64 35h9V100h-9z"/>
<path class=c0 d="M64 36h9V100h-9z"/>
<path class=c28 d="M64 39h9V100h-9z"/>
<path class=c0 d="M64 40h9V100h-9z"/>
<path class=c17 d="M64 41h9V100h-9z"/>
<path class=c0 d="M64 42h9V100h-9z"/>
<path class=c14 d="M64 48h9V100h-9z"/>
<path class=c10 d="M64 49h9V100h-9z"/>
<path class=c0 d="M64 50h9V100h-9z"/>
<path class=c16 d="M64 52h9V100h-9z"/>
<path class=c0 d="M64 55h9V100h-9z"/>
<path class=c11 d="M64 56h9V100h-9z"/>
<path class=c17 d="M64 57h9V100h-9z"/>
<path class=c5 d="M64 58h9V100h-9z"/>
<path class=c0 d="M64 59h9V100h-9z"/>
<path class=c28 d="M64 60h9V100h-9z"/>
<path class=c0 d="M64 61h9V100h-9z"/>
<path class=c20 d="M64 62h9V100h-9z"/>
<path class=c10 d="M64 63h9V100h-9z"/>
<path class=c0 d="M64 64h9V100h-9z"/>
<path class=c11 d="M64 66h9V100h-9z"/>
<path class=c0 d="M64 67h9V100h-9z"/>
<path class=c11 d="M64 71h9V100h-9z"/>
<path class=c0 d="M64 72h9V100h-9z"/>
<path class=c0 d="M73 0h9V100h-9z"/>
<path class=c9 d="M73 8h9V100h-9z"/>
<path class=c0 d="M73 9h9V100h-9z"/>
<path class=c5 d="M73 10h9V100h-9z"/>
<path class=c17 d="M73 11h9V100h-9z"/>
<path class=c0 d="M73 12h9V100h-9z"/>
<path class=c9 d="M73 13h9V100h-9z"/>
<path class=c30 d="M73 14h9V100h-9z"/>
<path class=c32 d="M73 16h9V100h-9z"/>
<path class=c38 d="M73 18h9V100h-9z"/>
<path class=c0 d="M73 19h9V100h-9z"/>
<path class=c8 d="M73 20h9V100h-9z"/>
<path class=c11 d="M73 21h9V100h-9z"/>
<path class=c0 d="M73 22h9V100h-9z"/>
<path class=c14 d="M73 23h9V100h-9z"/>
<path class=c0 d="M73 24h9V100h-9z"/>
<path class=c9 d="M73 26h9V100h-9z"/>
<path class=c27 d="M73 27h9V100h-9z"/>
<path class=c0 d="M73 29h9V100h-9z"/>
<path class=c28 d="M73 30h9V100h-9z"/>
<path class=c0 d="M73 32h9V100h-9z"/>
<path class=c7 d="M73 34h9V100h-9z"/>
<path class=c0 d="M73 35h9V100h-9z"/>
<path class=c14 d="M73 38h9V100h-9z"/>
<path class=c28 d="M73 39h9V100h-9z"/>
<path class=c0 d="M73 40h9V100h-9z"/>
<path class=c8 d="M73 42h9V100h-9z"/>
<path class=c0 d="M73 43h9V100h-9z"/>
<path class=c32 d="M73 45h9V100h-9z"/>
<path class=c0 d="M73 47h9V100h-9z"/>
<path class=c54 d="M73 51h9V100h-9z"/>
<path class=c28 d="M73 53h9V100h-9z"/>
<path class=c0 d="M73 54h9V100h-9z"/>
<path class=c17 d="M73 56h9V100h-9z"/>
<path class=c0 d="M73 57h9V100h-9z"/>
<path class=c11 d="M73 60h9V100h-9z"/>
<path class=c0 d="M73 61h9V100h-9z"/>
<path class=c17 d="M73 62h9V100h-9z"/>
<path class=c0 d="M73 63h9V100h-9z"/>
<path class=c7 d="M73 76h9V100h-9z"/>
<path class=c0 d="M73 77h9V100h-9z"/>
<path class=c0 d="M82 0h9V100h-9z"/>
<path class=c7 d="M82 8h9V100h-9z"/>
<path class=c20 d="M82 9h9V100h-9z"/>
<path class=c11 d="M82 10h9V100h-9z"/>
<path class=c14 d="M82 11h9V100h-9z"/>
<path class=c0 d="M82 12h9V100h-9z"/>
<path class=c14 d="M82 16h9V100h-9z"/>
<path class=c8 d="M82 17h9V100h-9z"/>
<path class=c35 d="M82 18h9V100h-9z"/>
<path class=c28 d="M82 20h9V100h-9z"/>
<path class=c0 d="M82 21h9V100h-9z"/>
<path class=c17 d="M82 31h9V100h-9z"/>
<path class=c9 d="M82 32h9V100h-9z"/>
<path class=c0 d="M82 33h9V100h-9z"/>
<path class=c14 d="M82 43h9V100h-9z"/>
<path class=c0 d="M82 44h9V100h-9z"/>
<path class=c14 d="M82 48h9V100h-9z"/>
<path class=c28 d="M82 49h9V100h-9z"/>
<path class=c0 d="M82 50h9V100h-9z"/>
<path class=c20 d="M82 53h9V100h-9z"/>
<path class=c0 d="M82 54h9V100h-9z"/>
<path class=c11 d="M82 57h9V100h-9z"/>
<path class=c0 d="M82 58h9V100h-9z"/>
<path class=c30 d="M82 59h9V100h-9z"/>
<path class=c0 d="M82 61h9V100h-9z"/>
<path class=c17 d="M82 70h9V100h-9z"/>
<path class=c0 d="M82 71h9V100h-9z"/>
<path class=c14 d="M82 75h9V100h-9z"/>
<path class=c0 d="M82 76h9V100h-9z"/>
<path class=c0 d="M91 0h9V100h-9z"/>
<path class=c5 d="M91 2h9V100h-9z"/>
<path class=c0 d="M91 3h9V100h-9z"/>
<path class=c27 d="M91 5h9V100h-9z"/>
<path class=c0 d="M91 6h9V100h-9z"/>
<path class=c7 d="M91 7h9V100h-9z"/>
<path class=c28 d="M91 8h9V100h-9z"/>
<path class=c11 d="M91 9h9V100h-9z"/>
<path class=c0 d="M91 10h9V100h-9z"/>
<path class=c17 d="M91 15h9V100h-9z"/>
<path class=c0 d="M91 16h9V100h-9z"/>
<path class=c10 d="M91 17h9V100h-9z"/>
<path class=c0 d="M91 18h9V100h-9z"/>
<path class=c32 d="M91 21h9V100h-9z"/>
<path class=c0 d="M91 22h9V100h-9z"/>
<path class=c35 d="M91 25h9V100h-9z"/>
<path class=c0 d="M91 26h9V100h-9z"/>
<path class=c44 d="M91 27h9V100h-9z"/>
<path class=c8 d="M91 28h9V100h-9z"/>
<path class=c28 d="M91 29h9V100h-9z"/>
<path class=c7 d="M91 30h9V100h-9z"/>
<path class=c0 d="M91 31h9V100h-9z"/>
<path class=c6 d="M91 32h9V100h-9z"/>
<path class=c28 d="M91 33h9V100h-9z"/>
<path class=c54 d="M91 34h9V100h-9z"/>
<path class=c38 d="M91 36h9V100h-9z"/>
<path class=c0 d="M91 37h9V100h-9z"/>
<path class=c57 d="M91 38h9V100h-9z"/>
<path class=c0 d="M91 40h9V100h-9z"/>
<path class=c17 d="M91 41h9V100h-9z"/>
<path class=c10 d="M91 42h9V100h-9z"/>
<path class=c0 d="M91 43h9V100h-9z"/>
<path class=c20 d="M91 44h9V100h-9z"/>
<path class=c17 d="M91 45h9V100h-9z"/>
<path class=c0 d="M91 46h9V100h-9z"/>
<path class=c11 d="M91 50h9V100h-9z"/>
<path class=c8 d="M91 51h9V100h-9z"/>
<path class=c0 d="M91 52h9V100h-9z"/>
<path class=c7 d="M91 54h9V100h-9z"/>
<path class=c40 d="M91 55h9V100h-9z"/>
<path class=c0 d="M91 57h9V100h-9z"/>
<path class=c38 d="M91 61h9V100h-9z"/>
<path class=c0 d="M91 62h9V100h-9z"/>
<path class=c11 d="M91 63h9V100h-9z"/>
<path class=c0 d="M91 64h9V100h-9z"/>
<path class=c14 d="M91 71h9V100h-9z"/>
<path class=c0 d="M91 72h9V100h-9z"/>
<path class=c7 d="M91 79h9V100h-9z"/>
<path class=c0 d="M91 80h9V100h-9z"/>
<path class=c0 d="M100 0h10V100h-10z"/>
<path class=c32 d="M100 3h10V100h-10z"/>
<path class=c0 d="M100 4h10V100h-10z"/>
<path class=c8 d="M100 7h10V100h-10z"/>
<path class=c0 d="M100 8h10V100h-10z"/>
<path class=c17 d="M100 10h10V100h-10z"/>
<path class=c0 d="M100 11h10V100h-10z"/>
<path class=c9 d="M100 12h10V100h-10z"/>
<path class=c0 d="M100 13h10V100h-10z"/>
<path class=c20 d="M100 14h10V100h-10z"/>
<path class=c0 d="M100 15h10V100h-10z"/>
<path class=c17 d="M100 20h10V100h-10z"/>
<path class=c0 d="M100 21h10V100h-10z"/>
<path class=c17 d="M100 23h10V100h-10z"/>
<path class=c9 d="M100 24h10V100h-10z"/>
<path class=c0 d="M100 25h10V100h-10z"/>
<path class=c44 d="M100 28h10V100h-10z"/>
<path class=c0 d="M100 29h10V100h-10z"/>
<path class=c17 d="M100 30h10V100h-10z"/>
<path class=c0 d="M100 31h10V100h-10z"/>
<path class=c28 d="M100 33h10V100h-10z"/>
<path class=c10 d="M100 34h10V100h-10z"/>
<path class=c17 d="M100 35h10V100h-10z"/>
<path class=c0 d="M100 36h10V100h-10z"/>
<path class=c28 d="M100 41h10V100h-10z"/>
<path class=c0 d="M100 42h10V100h-10z"/>
<path class=c10 d="M100 43h10V100h-10z"/>
<path class=c0 d="M100 44h10V100h-10z"/>
<path class=c9 d="M100 46h10V100h-10z"/>
<path class=c30 d="M100 47h10V100h-10z"/>
<path class=c0 d="M100 49h10V100h-10z"/>
<path class=c27 d="M100 52h10V100h-10z"/>
<path class=c0 d="M100 54h10V100h-10z"/>
<path class=c10 d="M100 57h10V100h-10z"/>
<path class=c0 d="M100 58h10V100h-10z"/>
<path class=c35 d="M100 60h10V100h-10z"/>
<path class=c0 d="M100 62h10V100h-10z"/>
<path class=c9 d="M100 63h10V100h-10z"/>
<path class=c0 d="M100 64h10V100h-10z"/>
<path class=c14 d="M100 65h10V100h-10z"/>
<path class=c0 d="M100 66h10V100h-10z"/>
<path class=c11 d="M100 67h10V100h-10z"/>
<path class=c0 d="M100 68h10V100h-10z"/>
<path class=c0 d="M110 0h9V100h-9z"/>
<path class=c20 d="M110 10h9V100h-9z"/>
<path class=c0 d="M110 11h9V100h-9z"/>
<path class=c41 d="M110 14h9V100h-9z"/>
<path class=c0 d="M110 16h9V100h-9z"/>
<path class=c32 d="M110 20h9V100h-9z"/>
<path class=c9 d="M110 21h9V100h-9z"/>
<path class=c0 d="M110 22h9V100h-9z"/>
<path class=c11 d="M110 25h9V100h-9z"/>
<path class=c0 d="M110 26h9V100h-9z"/>
<path class=c8 d="M110 28h9V100h-9z"/>
<path class=c0 d="M110 29h9V100h-9z"/>
<path class=c9 d="M110 32h9V100h-9z"/>
<path class=c0 d="M110 33h9V100h-9z"/>
<path class=c8 d="M110 36h9V100h-9z"/>
<path class=c0 d="M110 37h9V100h-9z"/>
<path class=c17 d="M110 41h9V100h-9z"/>
<path class=c6 d="M110 42h9V100h-9z"/>
<path class=c0 d="M110 43h9V100h-9z"/>
<path class=c11 d="M110 44h9V100h-9z"/>
<path class=c9 d="M110 45h9V100h-9z"/>
<path class=c0 d="M110 46h9V100h-9z"/>
<path class=c10 d="M110 48h9V100h-9z"/>
<path class=c0 d="M110 49h9V100h-9z"/>
<path class=c17 d="M110 52h9V100h-9z"/>
<path class=c6 d="M110 53h9V100h-9z"/>
<path class=c0 d="M110 54h9V100h-9z"/>
<path class=c41 d="M110 56h9V100h-9z"/>
<path class=c0 d="M110 57h9V100h-9z"/>
<path class=c11 d="M110 58h9V100h-9z"/>
<path class=c0 d="M110 59h9V100h-9z"/>
<path class=c17 d="M110 62h9V100h-9z"/>
<path class=c0 d="M110 63h9V100h-9z"/>
<path class=c9 d="M110 64h9V100h-9z"/>
<path class=c14 d="M110 65h9V100h-9z"/>
<path class=c0 d="M110 66h9V100h-9z"/>
<path class=c9 d="M110 72h9V100h-9z"/>
<path class=c0 d="M110 73h9V100h-9z"/>
<path class=c0 d="M119 0h9V100h-9z"/>
<path class=c6 d="M119 6h9V100h-9z"/>
<path class=c9 d="M119 7h9V100h-9z"/>
<path class=c0 d="M119 8h9V100h-9z"/>
<path class=c27 d="M119 9h9V100h-9z"/>
<path class=c17 d="M119 11h9V100h-9z"/>
<path class=c8 d="M119 12h9V100h-9z"/>
<path class=c0 d="M119 13h9V100h-9z"/>
<path class=c11 d="M119 17h9V100h-9z"/>
<path class=c0 d="M119 18h9V100h-9z"/>
<path class=c20 d="M119 19h9V100h-9z"/>
<path class=c0 d="M119 20h9V100h-9z"/>
<path class=c28 d="M119 21h9V100h-9z"/>
<path class=c0 d="M119 22h9V100h-9z"/>
<path class=c38 d="M119 23h9V100h-9z"/>
<path class=c0 d="M119 24h9V100h-9z"/>
<path class=c7 d="M119 27h9V100h-9z"/>
<path class=c35 d="M119 28h9V100h-9z"/>
<path class=c0 d="M119 29h9V100h-9z"/>
<path class=c41 d="M119 32h9V100h-9z"/>
<path class=c0 d="M119 33h9V100h-9z"/>
<path class=c44 d="M119 35h9V100h-9z"/>
<path class=c0 d="M119 36h9V100h-9z"/>
<path class=c32 d="M119 37h9V100h-9z"/>
<path class=c0 d="M119 38h9V100h-9z"/>
<path class=c28 d="M119 41h9V100h-9z"/>
<path class=c17 d="M119 42h9V100h-9z"/>
<path class=c0 d="M119 43h9V100h-9z"/>
<path class=c8 d="M119 45h9V100h-9z"/>
<path class=c0 d="M119 46h9V100h-9z"/>
<path class=c17 d="M119 48h9V100h-9z"/>
<path class=c0 d="M119 49h9V100h-9z"/>
<path class=c50 d="M119 51h9V100h-9z"/>
<path class=c0 d="M119 52h9V100h-9z"/>
<path class=c11 d="M119 57h9V100h-9z"/>
<path class=c9 d="M119 58h9V100h-9z"/>
<path class=c0 d="M119 59h9V100h-9z"/>
<path class=c17 d="M119 61h9V100h-9z"/>
<path class=c0 d="M119 62h9V100h-9z"/>
<path class=c17 d="M119 64h9V100h-9z"/>
<path class=c0 d="M119 65h9V100h-9z"/>
<path class=c0 d="M128 0h9V100h-9z"/>
<path class=c9 d="M128 1h9V100h-9z"/>
<path class=c0 d="M128 2h9V100h-9z"/>
<path class=c6 d="M128 5h9V100h-9z"/>
<path class=c27 d="M128 6h9V100h-9z"/>
<path class=c0 d="M128 8h9V100h-9z"/>
<path class=c30 d="M128 14h9V100h-9z"/>
<path class=c0 d="M128 16h9V100h-9z"/>
<path class=c28 d="M128 20h9V100h-9z"/>
<path class=c0 d="M128 21h9V100h-9z"/>
<path class=c17 d="M128 23h9V100h-9z"/>
<path class=c10 d="M128 24h9V100h-9z"/>
<path class=c0 d="M128 25h9V100h-9z"/>
<path class=c44 d="M128 26h9V100h-9z"/>
<path class=c0 d="M128 27h9V100h-9z"/>
<path class=c38 d="M128 28h9V100h-9z"/>
<path class=c0 d="M128 29h9V100h-9z"/>
<path class=c28 d="M128 30h9V100h-9z"/>
<path class=c0 d="M128 31h9V100h-9z"/>
<path class=c14 d="M128 32h9V100h-9z"/>
<path class=c0 d="M128 33h9V100h-9z"/>
<path class=c30 d="M128 37h9V100h-9z"/>
<path class=c0 d="M128 38h9V100h-9z"/>
<path class=c14 d="M128 39h9V100h-9z"/>
<path class=c0 d="M128 42h9V100h-9z"/>
<path class=c17 d="M128 44h9V100h-9z"/>
<path class=c0 d="M128 45h9V100h-9z"/>
<path class=c28 d="M128 52h9V100h-9z"/>
<path class=c0 d="M128 53h9V100h-9z"/>
<path class=c11 d="M128 56h9V100h-9z"/>
<path class=c0 d="M128 57h9V100h-9z"/>
<path class=c11 d="M128 60h9V100h-9z"/>
<path class=c0 d="M128 61h9V100h-9z"/>
<path class=c5 d="M128 62h9V100h-9z"/>
<path class=c0 d="M128 63h9V100h-9z"/>
<path class=c7 d="M128 64h9V100h-9z"/>
<path class=c5 d="M128 65h9V100h-9z"/>
<path class=c14 d="M128 66h9V100h-9z"/>
<path class=c11 d="M128 67h9V100h-9z"/>
<path class=c0 d="M128 68h9V100h-9z"/>
<path class=c9 d="M128 70h9V100h-9z"/>
<path class=c0 d="M128 71h9V100h-9z"/>
<path class=c0 d="M137 0h9V100h-9z"/>
<path class=c10 d="M137 2h9V100h-9z"/>
<path class=c0 d="M137 3h9V100h-9z"/>
<path class=c28 d="M137 6h9V100h-9z"/>
<path class=c0 d="M137 7h9V100h-9z"/>
<path class=c35 d="M137 11h9V100h-9z"/>
<path class=c0 d="M137 12h9V100h-9z"/>
<path class=c9 d="M137 13h9V100h-9z"/>
<path class=c0 d="M137 14h9V100h-9z"/>
<path class=c10 d="M137 15h9V100h-9z"/>
<path class=c17 d="M137 16h9V100h-9z"/>
<path class=c5 d="M137 17h9V100h-9z"/>
<path class=c0 d="M137 18h9V100h-9z"/>
<path class=c17 d="M137 20h9V100h-9z"/>
<path class=c0 d="M137 21h9V100h-9z"/>
<path class=c17 d="M137 25h9V100h-9z"/>
<path class=c7 d="M137 26h9V100h-9z"/>
<path class=c28 d="M137 27h9V100h-9z"/>
<path class=c0 d="M137 28h9V100h-9z"/>
<path class=c35 d="M137 30h9V100h-9z"/>
<path class=c8 d="M137 31h9V100h-9z"/>
<path class=c7 d="M137 32h9V100h-9z"/>
<path class=c0 d="M137 33h9V100h-9z"/>
<path class=c17 d="M137 34h9V100h-9z"/>
<path class=c0 d="M137 36h9V100h-9z"/>
<path class=c28 d="M137 39h9V100h-9z"/>
<path class=c0 d="M137 40h9V100h-9z"/>
<path class=c9 d="M137 41h9V100h-9z"/>
<path class=c11 d="M137 42h9V100h-9z"/>
<path class=c0 d="M137 43h9V100h-9z"/>
<path class=c41 d="M137 49h9V100h-9z"/>
<path class=c17 d="M137 50h9V100h-9z"/>
<path class=c0 d="M137 51h9V100h-9z"/>
<path class=c14 d="M137 54h9V100h-9z"/>
<path class=c0 d="M137 55h9V100h-9z"/>
<path class=c10 d="M137 56h9V100h-9z"/>
<path class=c0 d="M137 57h9V100h-9z"/>
<path class=c20 d="M137 58h9V100h-9z"/>
<path class=c0 d="M137 59h9V100h-9z"/>
<path class=c7 d="M137 61h9V100h-9z"/>
<path class=c11 d="M137 62h9V100h-9z"/>
<path class=c7 d="M137 63h9V100h-9z"/>
<path class=c27 d="M137 65h9V100h-9z"/>
<path class=c0 d="M137 66h9V100h-9z"/>
</svg>
<rect class="cb" x="663.30" y="13.30" width="13.30" height="123.70"/>
<text class="tt" text-anchor="middle" x="583.0" y="8.3">SB2</text>
<text class="al" text-anchor="middle" x="583.2" y="163.7">Time (s)</text>
<text class="al" text-anchor="middle" transform="translate(489.2 75.2) rotate(-90)">Frequency (Hz)</text>
<text class="tk" text-anchor="end" x="505.6" y="31.6">40</text>
<text class="tk" text-anchor="end" x="505.6" y="59.2">30</text>
<text class="tk" text-anchor="end" x="505.6" y="86.8">20</text>
<text class="tk" text-anchor="end" x="505.6" y="114.4">10</text>
<text class="tk" text-anchor="middle" x="510.0" y="149.8">0</text>
<text class="tk" text-anchor="middle" x="565.5" y="149.8">10</text>
<text class="tk" text-anchor="middle" x="621.0" y="149.8">20</text>
<text class="ct" x="680.6" y="30.1">-8</text>
<line class="tl" x1="675.30" x2="676.60" y1="27.20" y2="27.20"/>
<text class="ct" x="680.6" y="48.8">-10</text>
<line class="tl" x1="675.30" x2="676.60" y1="45.90" y2="45.90"/>
<text class="ct" x="680.6" y="67.5">-12</text>
<line class="tl" x1="675.30" x2="676.60" y1="64.60" y2="64.60"/>
<text class="ct" x="680.6" y="86.2">-14</text>
<line class="tl" x1="675.30" x2="676.60" y1="83.30" y2="83.30"/>
<text class="ct" x="680.6" y="104.9">-16</text>
<line class="tl" x1="675.30" x2="676.60" y1="102.00" y2="102.00"/>
<text class="ct" x="680.6" y="123.6">-18</text>
<line class="tl" x1="675.30" x2="676.60" y1="120.70" y2="120.70"/>
<text class="cl" text-anchor="middle" transform="translate(703.6 75.2) rotate(-90)">Power (dB)</text>
<svg x=28 y=185.3 width=146 height=123.7 viewBox="0 0 146 100" preserveAspectRatio=none>
<path class=c1 d="M0 0h9V100h-9z"/>
<path class=c0 d="M0 1h9V100h-9z"/>
<path class=c1 d="M0 2h9V100h-9z"/>
<path class=c30 d="M0 3h9V100h-9z"/>
<path class=c5 d="M0 6h9V100h-9z"/>
<path class=c12 d="M0 7h9V100h-9z"/>
<path class=c0 d="M0 8h9V100h-9z"/>
<path class=c7 d="M0 9h9V100h-9z"/>
<path class=c1 d="M0 10h9V100h-9z"/>
<path class=c50 d="M0 11h9V100h-9z"/>
<path class=c1 d="M0 13h9V100h-9z"/>
<path class=c12 d="M0 14h9V100h-9z"/>
<path class=c1 d="M0 15h9V100h-9z"/>
<path class=c28 d="M0 16h9V100h-9z"/>
<path class=c0 d="M0 17h9V100h-9z"/>
<path class=c12 d="M0 18h9V100h-9z"/>
<path class=c0 d="M0 19h9V100h-9z"/>
<path class=c12 d="M0 20h9V100h-9z"/>
<path class=c0 d="M0 21h9V100h-9z"/>
<path class=c1 d="M0 22h9V100h-9z"/>
<path class=c47 d="M0 23h9V100h-9z"/>
<path class=c12 d="M0 25h9V100h-9z"/>
<path class=c35 d="M0 26h9V100h-9z"/>
<path class=c0 d="M0 27h9V100h-9z"/>
<path class=c28 d="M0 28h9V100h-9z"/>
<path class=c0 d="M0 29h9V100h-9z"/>
<path class=c50 d="M0 30h9V100h-9z"/>
<path class=c6 d="M0 32h9V100h-9z"/>
<path class=c28 d="M0 33h9V100h-9z"/>
<path class=c1 d="M0 34h9V100h-9z"/>
<path class=c12 d="M0 35h9V100h-9z"/>
<path class=c1 d="M0 36h9V100h-9z"/>
<path class=c12 d="M0 37h9V100h-9z"/>
<path class=c9 d="M0 38h9V100h-9z"/>
<path class=c0 d="M0 39h9V100h-9z"/>
<path class=c35 d="M0 40h9V100h-9z"/>
<path class=c4 d="M0 41h9V100h-9z"/>
<path class=c12 d="M0 42h9V100h-9z"/>
<path class=c1 d="M0 43h9V100h-9z"/>
<path class=c0 d="M0 44h9V100h-9z"/>
<path class=c44 d="M0 45h9V100h-9z"/>
<path class=c0 d="M0 46h9V100h-9z"/>
<path class=c28 d="M0 47h9V100h-9z"/>
<path class=c5 d="M0 49h9V100h-9z"/>
<path class=c28 d="M0 50h9V100h-9z"/>
<path class=c0 d="M0 52h9V100h-9z"/>
<path class=c1 d="M0 53h9V100h-9z"/>
<path class=c9 d="M0 54h9V100h-9z"/>
<path class=c12 d="M0 55h9V100h-9z"/>
<path class=c0 d="M0 56h9V100h-9z"/>
<path class=c10 d="M0 58h9V100h-9z"/>
<path class=c4 d="M0 59h9V100h-9z"/>
<path class=c7 d="M0 60h9V100h-9z"/>
<path class=c44 d="M0 61h9V100h-9z"/>
<path class=c5 d="M0 62h9V100h-9z"/>
<path class=c1 d="M0 63h9V100h-9z"/>
<path class=c28 d="M0 64h9V100h-9z"/>
<path class=c9 d="M0 65h9V100h-9z"/>
<path class=c14 d="M0 66h9V100h-9z"/>
<path class=c1 d="M0 67h9V100h-9z"/>
<path class=c0 d="M0 68h9V100h-9z"/>
<path class=c10 d="M0 69h9V100h-9z"/>
<path class=c0 d="M0 70h9V100h-9z"/>
<path class=c14 d="M0 72h9V100h-9z"/>
<path class=c0 d="M0 73h9V100h-9z"/>
<path class=c6 d="M0 79h9V100h-9z"/>
<path class=c0 d="M0 80h9V100h-9z"/>
<path class=c0 d="M9 0h9V100h-9z"/>
<path class=c7 d="M9 1h9V100h-9z"/>
<path class=c6 d="M9 2h9V100h-9z"/>
<path class=c0 d="M9 3h9V100h-9z"/>
<path class=c1 d="M9 4h9V100h-9z"/>
<path class=c14 d="M9 6h9V100h-9z"/>
<path class=c0 d="M9 7h9V100h-9z"/>
<path class=c1 d="M9 8h9V100h-9z"/>
<path class=c5 d="M9 9h9V100h-9z"/>
<path class=c1 d="M9 10h9V100h-9z"/>
<path class=c38 d="M9 11h9V100h-9z"/>
<path class=c1 d="M9 12h9V100h-9z"/>
<path class=c10 d="M9 14h9V100h-9z"/>
<path class=c1 d="M9 15h9V100h-9z"/>
<path class=c0 d="M9 17h9V100h-9z"/>
<path class=c12 d="M9 18h9V100h-9z"/>
<path class=c1 d="M9 19h9V100h-9z"/>
<path class=c12 d="M9 21h9V100h-9z"/>
<path class=c1 d="M9 22h9V100h-9z"/>
<path class=c0 d="M9 23h9V100h-9z"/>
<path class=c1 d="M9 24h9V100h-9z"/>
<path class=c12 d="M9 25h9V100h-9z"/>
<path class=c0 d="M9 26h9V100h-9z"/>
<path class=c12 d="M9 28h9V100h-9z"/>
<path class=c0 d="M9 29h9V100h-9z"/>
<path class=c10 d="M9 31h9V100h-9z"/>
<path class=c0 d="M9 32h9V100h-9z"/>
<path class=c1 d="M9 33h9V100h-9z"/>
<path class=c54 d="M9 36h9V100h-9z"/>
<path class=c44 d="M9 38h9V100h-9z"/>
<path class=c7 d="M9 40h9V100h-9z"/>
<path class=c30 d="M9 41h9V100h-9z"/>
<path class=c6 d="M9 43h9V100h-9z"/>
<path class=c1 d="M9 44h9V100h-9z"/>
<path class=c12 d="M9 45h9V100h-9z"/>
<path class=c1 d="M9 46h9V100h-9z"/>
<path class=c38 d="M9 48h9V100h-9z"/>
<path class=c1 d="M9 49h9V100h-9z"/>
<path class=c10 d="M9 51h9V100h-9z"/>
<path class=c12 d="M9 52h9V100h-9z"/>
<path class=c1 d="M9 53h9V100h-9z"/>
<path class=c0 d="M9 54h9V100h-9z"/>
<path class=c38 d="M9 55h9V100h-9z"/>
<path class=c0 d="M9 57h9V100h-9z"/>
<path class=c10 d="M9 58h9V100h-9z"/>
<path class=c1 d="M9 59h9V100h-9z"/>
<path class=c14 d="M9 61h9V100h-9z"/>
<path class=c0 d="M9 63h9V100h-9z"/>
<path class=c12 d="M9 64h9V100h-9z"/>
<path class=c0 d="M9 65h9V100h-9z"/>
<path class=c1 d="M9 66h9V100h-9z"/>
<path class=c8 d="M9 67h9V100h-9z"/>
<path class=c0 d="M9 68h9V100h-9z"/>
<path class=c41 d="M9 73h9V100h-9z"/>
<path class=c0 d="M9 75h9V100h-9z"/>
<path class=c1 d="M18 0h9V100h-9z"/>
<path class=c8 d="M18 3h9V100h-9z"/>
<path class=c5 d="M18 4h9V100h-9z"/>
<path class=c1 d="M18 5h9V100h-9z"/>
<path class=c27 d="M18 6h9V100h-9z"/>
<path class=c0 d="M18 9h9V100h-9z"/>
<path class=c1 d="M18 10h9V100h-9z"/>
<path class=c6 d="M18 11h9V100h-9z"/>
<path class=c5 d="M18 12h9V100h-9z"/>
<path class=c30 d="M18 13h9V100h-9z"/>
<path class=c0 d="M18 15h9V100h-9z"/>
<path class=c38 d="M18 16h9V100h-9z"/>
<path class=c6 d="M18 17h9V100h-9z"/>
<path class=c12 d="M18 18h9V100h-9z"/>
<path class=c1 d="M18 19h9V100h-9z"/>
<path class=c28 d="M18 20h9V100h-9z"/>
<path class=c1 d="M18 21h9V100h-9z"/>
<path class=c5 d="M18 23h9V100h-9z"/>
<path class=c1 d="M18 24h9V100h-9z"/>
<path class=c41 d="M18 25h9V100h-9z"/>
<path class=c8 d="M18 27h9V100h-9z"/>
<path class=c47 d="M18 28h9V100h-9z"/>
<path class=c0 d="M18 30h9V100h-9z"/>
<path class=c28 d="M18 31h9V100h-9z"/>
<path class=c1 d="M18 32h9V100h-9z"/>
<path class=c4 d="M18 33h9V100h-9z"/>
<path class=c1 d="M18 34h9V100h-9z"/>
<path class=c50 d="M18 35h9V100h-9z"/>
<path class=c1 d="M18 37h9V100h-9z"/>
<path class=c7 d="M18 39h9V100h-9z"/>
<path class=c28 d="M18 40h9V100h-9z"/>
<path class=c0 d="M18 41h9V100h-9z"/>
<path class=c7 d="M18 42h9V100h-9z"/>
<path class=c1 d="M18 43h9V100h-9z"/>
<path class=c12 d="M18 44h9V100h-9z"/>
<path class=c7 d="M18 45h9V100h-9z"/>
<path class=c4 d="M18 46h9V100h-9z"/>
<path class=c0 d="M18 47h9V100h-9z"/>
<path class=c28 d="M18 48h9V100h-9z"/>
<path class=c0 d="M18 49h9V100h-9z"/>
<path class=c28 d="M18 50h9V100h-9z"/>
<path class=c7 d="M18 51h9V100h-9z"/>
<path class=c1 d="M18 52h9V100h-9z"/>
<path class=c0 d="M18 53h9V100h-9z"/>
<path class=c1 d="M18 54h9V100h-9z"/>
<path class=c28 d="M18 55h9V100h-9z"/>
<path class=c1 d="M18 57h9V100h-9z"/>
<path class=c38 d="M18 59h9V100h-9z"/>
<path class=c1 d="M18 60h9V100h-9z"/>
<path class=c28 d="M18 62h9V100h-9z"/>
<path class=c1 d="M18 63h9V100h-9z"/>
<path class=c28 d="M18 65h9V100h-9z"/>
<path class=c1 d="M18 66h9V100h-9z"/>
<path class=c0 d="M18 68h9V100h-9z"/>
<path class=c12 d="M18 70h9V100h-9z"/>
<path class=c0 d="M18 71h9V100h-9z"/>
<path class=c8 d="M18 72h9V100h-9z"/>
<path class=c0 d="M18 73h9V100h-9z"/>
<path class=c0 d="M27 0h9V100h-9z"/>
<path class=c1 d="M27 2h9V100h-9z"/>
<path class=c7 d="M27 3h9V100h-9z"/>
<path class=c10 d="M27 4h9V100h-9z"/>
<path class=c1 d="M27 5h9V100h-9z"/>
<path class=c0 d="M27 6h9V100h-9z"/>
<path class=c1 d="M27 7h9V100h-9z"/>
<path class=c12 d="M27 10h9V100h-9z"/>
<path class=c0 d="M27 11h9V100h-9z"/>
<path class=c8 d="M27 12h9V100h-9z"/>
<path class=c1 d="M27 13h9V100h-9z"/>
<path class=c12 d="M27 14h9V100h-9z"/>
<path class=c0 d="M27 15h9V100h-9z"/>
<path class=c30 d="M27 16h9V100h-9z"/>
<path class=c1 d="M27 17h9V100h-9z"/>
<path class=c35 d="M27 18h9V100h-9z"/>
<path class=c1 d="M27 19h9V100h-9z"/>
<path class=c0 d="M27 21h9V100h-9z"/>
<path class=c12 d="M27 22h9V100h-9z"/>
<path class=c1 d="M27 23h9V100h-9z"/>
<path class=c0 d="M27 24h9V100h-9z"/>
<path class=c28 d="M27 25h9V100h-9z"/>
<path class=c1 d="M27 27h9V100h-9z"/>
<path class=c0 d="M27 28h9V100h-9z"/>
<path class=c5 d="M27 29h9V100h-9z"/>
<path class=c14 d="M27 30h9V100h-9z"/>
<path class=c0 d="M27 33h9V100h-9z"/>
<path class=c12 d="M27 35h9V100h-9z"/>
<path class=c1 d="M27 36h9V100h-9z"/>
<path class=c12 d="M27 37h9V100h-9z"/>
<path class=c6 d="M27 38h9V100h-9z"/>
<path class=c0 d="M27 39h9V100h-9z"/>
<path class=c5 d="M27 40h9V100h-9z"/>
<path class=c0 d="M27 41h9V100h-9z"/>
<path class=c57 d="M27 42h9V100h-9z"/>
<path class=c0 d="M27 44h9V100h-9z"/>
<path class=c1 d="M27 45h9V100h-9z"/>
<path class=c12 d="M27 46h9V100h-9z"/>
<path class=c5 d="M27 47h9V100h-9z"/>
<path class=c12 d="M27 48h9V100h-9z"/>
<path class=c1 d="M27 49h9V100h-9z"/>
<path class=c44 d="M27 50h9V100h-9z"/>
<path class=c38 d="M27 51h9V100h-9z"/>
<path class=c5 d="M27 53h9V100h-9z"/>
<path class=c0 d="M27 54h9V100h-9z"/>
<path class=c8 d="M27 55h9V100h-9z"/>
<path class=c0 d="M27 56h9V100h-9z"/>
<path class=c44 d="M27 57h9V100h-9z"/>
<path class=c9 d="M27 58h9V100h-9z"/>
<path class=c1 d="M27 59h9V100h-9z"/>
<path class=c12 d="M27 60h9V100h-9z"/>
<path class=c5 d="M27 61h9V100h-9z"/>
<path class=c12 d="M27 62h9V100h-9z"/>
<path class=c0 d="M27 63h9V100h-9z"/>
<path class=c14 d="M27 64h9V100h-9z"/>
<path class=c1 d="M27 65h9V100h-9z"/>
<path class=c5 d="M27 66h9V100h-9z"/>
<path class=c0 d="M27 67h9V100h-9z"/>
<path class=c1 d="M36 0h10V100h-10z"/>
<path class=c6 d="M36 1h10V100h-10z"/>
<path class=c1 d="M36 2h10V100h-10z"/>
<path class=c0 d="M36 3h10V100h-10z"/>
<path class=c8 d="M36 4h10V100h-10z"/>
<path class=c6 d="M36 5h10V100h-10z"/>
<path class=c30 d="M36 6h10V100h-10z"/>
<path class=c1 d="M36 7h10V100h-10z"/>
<path class=c14 d="M36 9h10V100h-10z"/>
<path class=c0 d="M36 10h10V100h-10z"/>
<path class=c1 d="M36 11h10V100h-10z"/>
<path class=c5 d="M36 12h10V100h-10z"/>
<path class=c1 d="M36 13h10V100h-10z"/>
<path class=c0 d="M36 14h10V100h-10z"/>
<path class=c8 d="M36 15h10V100h-10z"/>
<path class=c10 d="M36 16h10V100h-10z"/>
<path class=c1 d="M36 17h10V100h-10z"/>
<path class=c0 d="M36 18h10V100h-10z"/>
<path class=c10 d="M36 20h10V100h-10z"/>
<path class=c0 d="M36 21h10V100h-10z"/>
<path class=c1 d="M36 23h10V100h-10z"/>
<path class=c12 d="M36 25h10V100h-10z"/>
<path class=c0 d="M36 26h10V100h-10z"/>
<path class=c1 d="M36 27h10V100h-10z"/>
<path class=c12 d="M36 28h10V100h-10z"/>
<path class=c1 d="M36 29h10V100h-10z"/>
<path class=c54 d="M36 30h10V100h-10z"/>
<path class=c6 d="M36 32h10V100h-10z"/>
<path class=c12 d="M36 33h10V100h-10z"/>
<path class=c1 d="M36 34h10V100h-10z"/>
<path class=c6 d="M36 36h10V100h-10z"/>
<path class=c4 d="M36 38h10V100h-10z"/>
<path class=c0 d="M36 39h10V100h-10z"/>
<path class=c1 d="M36 41h10V100h-10z"/>
<path class=c10 d="M36 42h10V100h-10z"/>
<path class=c1 d="M36 43h10V100h-10z"/>
<path class=c28 d="M36 44h10V100h-10z"/>
<path class=c0 d="M36 45h10V100h-10z"/>
<path class=c1 d="M36 46h10V100h-10z"/>
<path class=c4 d="M36 47h10V100h-10z"/>
<path class=c7 d="M36 48h10V100h-10z"/>
<path class=c12 d="M36 49h10V100h-10z"/>
<path class=c0 d="M36 50h10V100h-10z"/>
<path class=c12 d="M36 51h10V100h-10z"/>
<path class=c0 d="M36 52h10V100h-10z"/>
<path class=c1 d="M36 53h10V100h-10z"/>
<path class=c0 d="M36 54h10V100h-10z"/>
<path class=c14 d="M36 55h10V100h-10z"/>
<path class=c1 d="M36 56h10V100h-10z"/>
<path class=c10 d="M36 60h10V100h-10z"/>
<path class=c1 d="M36 61h10V100h-10z"/>
<path class=c12 d="M36 62h10V100h-10z"/>
<path class=c0 d="M36 63h10V100h-10z"/>
<path class=c1 d="M36 65h10V100h-10z"/>
<path class=c10 d="M36 66h10V100h-10z"/>
<path class=c4 d="M36 67h10V100h-10z"/>
<path class=c28 d="M36 68h10V100h-10z"/>
<path class=c0 d="M36 69h10V100h-10z"/>
<path class=c8 d="M36 72h10V100h-10z"/>
<path class=c0 d="M36 73h10V100h-10z"/>
<path class=c1 d="M46 0h9V100h-9z"/>
<path class=c0 d="M46 1h9V100h-9z"/>
<path class=c12 d="M46 2h9V100h-9z"/>
<path class=c4 d="M46 3h9V100h-9z"/>
<path class=c0 d="M46 4h9V100h-9z"/>
<path class=c1 d="M46 5h9V100h-9z"/>
<path class=c0 d="M46 8h9V100h-9z"/>
<path class=c1 d="M46 9h9V100h-9z"/>
<path class=c14 d="M46 10h9V100h-9z"/>
<path class=c1 d="M46 11h9V100h-9z"/>
<path class=c50 d="M46 14h9V100h-9z"/>
<path class=c9 d="M46 16h9V100h-9z"/>
<path class=c0 d="M46 17h9V100h-9z"/>
<path class=c12 d="M46 18h9V100h-9z"/>
<path class=c1 d="M46 19h9V100h-9z"/>
<path class=c28 d="M46 20h9V100h-9z"/>
<path class=c1 d="M46 21h9V100h-9z"/>
<path class=c0 d="M46 22h9V100h-9z"/>
<path class=c6 d="M46 23h9V100h-9z"/>
<path class=c1 d="M46 24h9V100h-9z"/>
<path class=c8 d="M46 25h9V100h-9z"/>
<path class=c9 d="M46 26h9V100h-9z"/>
<path class=c28 d="M46 27h9V100h-9z"/>
<path class=c10 d="M46 28h9V100h-9z"/>
<path class=c8 d="M46 29h9V100h-9z"/>
<path class=c0 d="M46 30h9V100h-9z"/>
<path class=c44 d="M46 31h9V100h-9z"/>
<path class=c1 d="M46 32h9V100h-9z"/>
<path class=c12 d="M46 35h9V100h-9z"/>
<path class=c1 d="M46 36h9V100h-9z"/>
<path class=c0 d="M46 37h9V100h-9z"/>
<path class=c1 d="M46 40h9V100h-9z"/>
<path class=c0 d="M46 41h9V100h-9z"/>
<path class=c1 d="M46 42h9V100h-9z"/>
<path class=c41 d="M46 43h9V100h-9z"/>
<path class=c12 d="M46 45h9V100h-9z"/>
<path class=c1 d="M46 46h9V100h-9z"/>
<path class=c28 d="M46 49h9V100h-9z"/>
<path class=c1 d="M46 50h9V100h-9z"/>
<path class=c0 d="M46 51h9V100h-9z"/>
<path class=c12 d="M46 52h9V100h-9z"/>
<path class=c0 d="M46 53h9V100h-9z"/>
<path class=c1 d="M46 54h9V100h-9z"/>
<path class=c5 d="M46 55h9V100h-9z"/>
<path class=c1 d="M46 56h9V100h-9z"/>
<path class=c28 d="M46 58h9V100h-9z"/>
<path class=c6 d="M46 59h9V100h-9z"/>
<path class=c7 d="M46 60h9V100h-9z"/>
<path class=c12 d="M46 61h9V100h-9z"/>
<path class=c0 d="M46 62h9V100h-9z"/>
<path class=c10 d="M46 63h9V100h-9z"/>
<path class=c1 d="M46 64h9V100h-9z"/>
<path class=c38 d="M46 65h9V100h-9z"/>
<path class=c6 d="M46 66h9V100h-9z"/>
<path class=c12 d="M46 67h9V100h-9z"/>
<path class=c0 d="M46 68h9V100h-9z"/>
<path class=c35 d="M46 70h9V100h-9z"/>
<path class=c0 d="M46 73h9V100h-9z"/>
<path class=c10 d="M46 74h9V100h-9z"/>
<path class=c0 d="M46 75h9V100h-9z"/>
<path class=c1 d="M55 0h9V100h-9z"/>
<path class=c27 d="M55 1h9V100h-9z"/>
<path class=c1 d="M55 3h9V100h-9z"/>
<path class=c5 d="M55 5h9V100h-9z"/>
<path class=c1 d="M55 6h9V100h-9z"/>
<path class=c35 d="M55 9h9V100h-9z"/>
<path class=c4 d="M55 10h9V100h-9z"/>
<path class=c1 d="M55 11h9V100h-9z"/>
<path class=c12 d="M55 12h9V100h-9z"/>
<path class=c1 d="M55 13h9V100h-9z"/>
<path class=c12 d="M55 14h9V100h-9z"/>
<path class=c0 d="M55 15h9V100h-9z"/>
<path class=c14 d="M55 16h9V100h-9z"/>
<path class=c7 d="M55 17h9V100h-9z"/>
<path class=c0 d="M55 18h9V100h-9z"/>
<path class=c1 d="M55 19h9V100h-9z"/>
<path class=c12 d="M55 20h9V100h-9z"/>
<path class=c0 d="M55 21h9V100h-9z"/>
<path class=c1 d="M55 22h9V100h-9z"/>
<path class=c28 d="M55 23h9V100h-9z"/>
<path class=c0 d="M55 24h9V100h-9z"/>
<path class=c44 d="M55 25h9V100h-9z"/>
<path class=c0 d="M55 27h9V100h-9z"/>
<path class=c35 d="M55 30h9V100h-9z"/>
<path class=c6 d="M55 32h9V100h-9z"/>
<path class=c28 d="M55 33h9V100h-9z"/>
<path class=c0 d="M55 34h9V100h-9z"/>
<path class=c44 d="M55 35h9V100h-9z"/>
<path class=c0 d="M55 36h9V100h-9z"/>
<path class=c35 d="M55 37h9V100h-9z"/>
<path class=c1 d="M55 38h9V100h-9z"/>
<path class=c44 d="M55 39h9V100h-9z"/>
<path class=c7 d="M55 41h9V100h-9z"/>
<path class=c28 d="M55 42h9V100h-9z"/>
<path class=c7 d="M55 43h9V100h-9z"/>
<path class=c12 d="M55 44h9V100h-9z"/>
<path class=c6 d="M55 45h9V100h-9z"/>
<path class=c1 d="M55 46h9V100h-9z"/>
<path class=c38 d="M55 49h9V100h-9z"/>
<path class=c30 d="M55 51h9V100h-9z"/>
<path class=c0 d="M55 52h9V100h-9z"/>
<path class=c35 d="M55 53h9V100h-9z"/>
<path class=c1 d="M55 55h9V100h-9z"/>
<path class=c0 d="M55 56h9V100h-9z"/>
<path class=c10 d="M55 57h9V100h-9z"/>
<path class=c1 d="M55 58h9V100h-9z"/>
<path class=c30 d="M55 59h9V100h-9z"/>
<path class=c0 d="M55 62h9V100h-9z"/>
<path class=c41 d="M55 65h9V100h-9z"/>
<path class=c1 d="M55 66h9V100h-9z"/>
<path class=c12 d="M55 68h9V100h-9z"/>
<path class=c0 d="M55 69h9V100h-9z"/>
<path class=c8 d="M55 71h9V100h-9z"/>
<path class=c0 d="M55 72h9V100h-9z"/>
<path class=c1 d="M64 0h9V100h-9z"/>
<path class=c14 d="M64 1h9V100h-9z"/>
<path class=c1 d="M64 2h9V100h-9z"/>
<path class=c7 d="M64 3h9V100h-9z"/>
<path class=c0 d="M64 4h9V100h-9z"/>
<path class=c4 d="M64 5h9V100h-9z"/>
<path class=c12 d="M64 6h9V100h-9z"/>
<path class=c1 d="M64 7h9V100h-9z"/>
<path class=c8 d="M64 10h9V100h-9z"/>
<path class=c0 d="M64 11h9V100h-9z"/>
<path class=c12 d="M64 13h9V100h-9z"/>
<path class=c1 d="M64 16h9V100h-9z"/>
<path class=c14 d="M64 18h9V100h-9z"/>
<path class=c8 d="M64 20h9V100h-9z"/>
<path class=c0 d="M64 21h9V100h-9z"/>
<path class=c1 d="M64 22h9V100h-9z"/>
<path class=c12 d="M64 23h9V100h-9z"/>
<path class=c1 d="M64 24h9V100h-9z"/>
<path class=c38 d="M64 25h9V100h-9z"/>
<path class=c1 d="M64 26h9V100h-9z"/>
<path class=c8 d="M64 27h9V100h-9z"/>
<path class=c12 d="M64 28h9V100h-9z"/>
<path class=c0 d="M64 29h9V100h-9z"/>
<path class=c1 d="M64 30h9V100h-9z"/>
<path class=c0 d="M64 31h9V100h-9z"/>
<path class=c1 d="M64 32h9V100h-9z"/>
<path class=c35 d="M64 33h9V100h-9z"/>
<path class=c7 d="M64 34h9V100h-9z"/>
<path class=c50 d="M64 35h9V100h-9z"/>
<path class=c35 d="M64 37h9V100h-9z"/>
<path class=c1 d="M64 40h9V100h-9z"/>
<path class=c12 d="M64 41h9V100h-9z"/>
<path class=c0 d="M64 43h9V100h-9z"/>
<path class=c1 d="M64 44h9V100h-9z"/>
<path class=c28 d="M64 46h9V100h-9z"/>
<path class=c8 d="M64 47h9V100h-9z"/>
<path class=c12 d="M64 48h9V100h-9z"/>
<path class=c4 d="M64 49h9V100h-9z"/>
<path class=c12 d="M64 50h9V100h-9z"/>
<path class=c1 d="M64 51h9V100h-9z"/>
<path class=c0 d="M64 52h9V100h-9z"/>
<path class=c12 d="M64 55h9V100h-9z"/>
<path class=c1 d="M64 56h9V100h-9z"/>
<path class=c12 d="M64 57h9V100h-9z"/>
<path class=c0 d="M64 58h9V100h-9z"/>
<path class=c1 d="M64 59h9V100h-9z"/>
<path class=c28 d="M64 62h9V100h-9z"/>
<path class=c1 d="M64 65h9V100h-9z"/>
<path class=c12 d="M64 67h9V100h-9z"/>
<path class=c0 d="M64 68h9V100h-9z"/>
<path class=c8 d="M64 77h9V100h-9z"/>
<path class=c0 d="M64 78h9V100h-9z"/>
<path class=c0 d="M73 0h9V100h-9z"/>
<path class=c8 d="M73 1h9V100h-9z"/>
<path class=c1 d="M73 2h9V100h-9z"/>
<path class=c27 d="M73 4h9V100h-9z"/>
<path class=c1 d="M73 7h9V100h-9z"/>
<path class=c12 d="M73 9h9V100h-9z"/>
<path class=c1 d="M73 10h9V100h-9z"/>
<path class=c0 d="M73 11h9V100h-9z"/>
<path class=c50 d="M73 12h9V100h-9z"/>
<path class=c1 d="M73 14h9V100h-9z"/>
<path class=c12 d="M73 16h9V100h-9z"/>
<path class=c8 d="M73 17h9V100h-9z"/>
<path class=c5 d="M73 18h9V100h-9z"/>
<path class=c35 d="M73 19h9V100h-9z"/>
<path class=c0 d="M73 20h9V100h-9z"/>
<path class=c1 d="M73 21h9V100h-9z"/>
<path class=c12 d="M73 23h9V100h-9z"/>
<path class=c1 d="M73 24h9V100h-9z"/>
<path class=c0 d="M73 25h9V100h-9z"/>
<path class=c1 d="M73 26h9V100h-9z"/>
<path class=c41 d="M73 27h9V100h-9z"/>
<path class=c1 d="M73 28h9V100h-9z"/>
<path class=c10 d="M73 30h9V100h-9z"/>
<path class=c0 d="M73 31h9V100h-9z"/>
<path class=c1 d="M73 32h9V100h-9z"/>
<path class=c12 d="M73 33h9V100h-9z"/>
<path class=c0 d="M73 34h9V100h-9z"/>
<path class=c28 d="M73 36h9V100h-9z"/>
<path class=c8 d="M73 37h9V100h-9z"/>
<path class=c1 d="M73 38h9V100h-9z"/>
<path class=c7 d="M73 39h9V100h-9z"/>
<path class=c32 d="M73 40h9V100h-9z"/>
<path class=c44 d="M73 41h9V100h-9z"/>
<path class=c1 d="M73 42h9V100h-9z"/>
<path class=c0 d="M73 43h9V100h-9z"/>
<path class=c35 d="M73 44h9V100h-9z"/>
<path class=c1 d="M73 45h9V100h-9z"/>
<path class=c0 d="M73 46h9V100h-9z"/>
<path class=c28 d="M73 47h9V100h-9z"/>
<path class=c4 d="M73 48h9V100h-9z"/>
<path class=c28 d="M73 49h9V100h-9z"/>
<path class=c7 d="M73 50h9V100h-9z"/>
<path class=c14 d="M73 51h9V100h-9z"/>
<path class=c10 d="M73 52h9V100h-9z"/>
<path class=c1 d="M73 53h9V100h-9z"/>
<path class=c10 d="M73 55h9V100h-9z"/>
<path class=c0 d="M73 56h9V100h-9z"/>
<path class=c14 d="M73 58h9V100h-9z"/>
<path class=c0 d="M73 59h9V100h-9z"/>
<path class=c10 d="M73 60h9V100h-9z"/>
<path class=c1 d="M73 61h9V100h-9z"/>
<path class=c0 d="M73 62h9V100h-9z"/>
<path class=c1 d="M73 63h9V100h-9z"/>
<path class=c0 d="M73 64h9V100h-9z"/>
<path class=c1 d="M73 65h9V100h-9z"/>
<path class=c10 d="M73 66h9V100h-9z"/>
<path class=c1 d="M73 67h9V100h-9z"/>
<path class=c0 d="M73 68h9V100h-9z"/>
<path class=c12 d="M73 69h9V100h-9z"/>
<path class=c0 d="M73 70h9V100h-9z"/>
<path class=c8 d="M73 71h9V100h-9z"/>
<path class=c0 d="M73 72h9V100h-9z"/>
<path class=c1 d="M82 0h9V100h-9z"/>
<path class=c0 d="M82 1h9V100h-9z"/>
<path class=c4 d="M82 2h9V100h-9z"/>
<path class=c1 d="M82 4h9V100h-9z"/>
<path class=c12 d="M82 6h9V100h-9z"/>
<path class=c1 d="M82 7h9V100h-9z"/>
<path class=c30 d="M82 8h9V100h-9z"/>
<path class=c1 d="M82 9h9V100h-9z"/>
<path class=c12 d="M82 11h9V100h-9z"/>
<path class=c7 d="M82 12h9V100h-9z"/>
<path class=c0 d="M82 13h9V100h-9z"/>
<path class=c28 d="M82 16h9V100h-9z"/>
<path class=c0 d="M82 17h9V100h-9z"/>
<path class=c1 d="M82 18h9V100h-9z"/>
<path class=c7 d="M82 19h9V100h-9z"/>
<path class=c1 d="M82 20h9V100h-9z"/>
<path class=c8 d="M82 21h9V100h-9z"/>
<path class=c38 d="M82 22h9V100h-9z"/>
<path class=c28 d="M82 23h9V100h-9z"/>
<path class=c1 d="M82 24h9V100h-9z"/>
<path class=c44 d="M82 25h9V100h-9z"/>
<path class=c0 d="M82 26h9V100h-9z"/>
<path class=c32 d="M82 27h9V100h-9z"/>
<path class=c5 d="M82 28h9V100h-9z"/>
<path class=c6 d="M82 29h9V100h-9z"/>
<path class=c12 d="M82 30h9V100h-9z"/>
<path class=c1 d="M82 31h9V100h-9z"/>
<path class=c0 d="M82 33h9V100h-9z"/>
<path class=c1 d="M82 34h9V100h-9z"/>
<path class=c44 d="M82 35h9V100h-9z"/>
<path class=c28 d="M82 37h9V100h-9z"/>
<path class=c1 d="M82 38h9V100h-9z"/>
<path class=c50 d="M82 40h9V100h-9z"/>
<path class=c1 d="M82 42h9V100h-9z"/>
<path class=c12 d="M82 43h9V100h-9z"/>
<path class=c1 d="M82 44h9V100h-9z"/>
<path class=c28 d="M82 45h9V100h-9z"/>
<path class=c4 d="M82 46h9V100h-9z"/>
<path class=c0 d="M82 47h9V100h-9z"/>
<path class=c7 d="M82 48h9V100h-9z"/>
<path class=c9 d="M82 49h9V100h-9z"/>
<path class=c35 d="M82 50h9V100h-9z"/>
<path class=c0 d="M82 52h9V100h-9z"/>
<path class=c44 d="M82 55h9V100h-9z"/>
<path class=c1 d="M82 57h9V100h-9z"/>
<path class=c0 d="M82 58h9V100h-9z"/>
<path class=c1 d="M82 59h9V100h-9z"/>
<path class=c0 d="M82 61h9V100h-9z"/>
<path class=c12 d="M82 62h9V100h-9z"/>
<path class=c0 d="M82 63h9V100h-9z"/>
<path class=c12 d="M82 64h9V100h-9z"/>
<path class=c1 d="M82 66h9V100h-9z"/>
<path class=c10 d="M82 67h9V100h-9z"/>
<path class=c35 d="M82 68h9V100h-9z"/>
<path class=c0 d="M82 70h9V100h-9z"/>
<path class=c28 d="M82 72h9V100h-9z"/>
<path class=c0 d="M82 74h9V100h-9z"/>
<path class=c28 d="M91 0h9V100h-9z"/>
<path class=c0 d="M91 2h9V100h-9z"/>
<path class=c1 d="M91 3h9V100h-9z"/>
<path class=c12 d="M91 6h9V100h-9z"/>
<path class=c0 d="M91 7h9V100h-9z"/>
<path class=c1 d="M91 8h9V100h-9z"/>
<path class=c28 d="M91 9h9V100h-9z"/>
<path class=c1 d="M91 10h9V100h-9z"/>
<path class=c28 d="M91 11h9V100h-9z"/>
<path class=c0 d="M91 12h9V100h-9z"/>
<path class=c1 d="M91 13h9V100h-9z"/>
<path class=c6 d="M91 14h9V100h-9z"/>
<path class=c1 d="M91 15h9V100h-9z"/>
<path class=c44 d="M91 16h9V100h-9z"/>
<path class=c1 d="M91 18h9V100h-9z"/>
<path class=c0 d="M91 19h9V100h-9z"/>
<path class=c12 d="M91 20h9V100h-9z"/>
<path class=c0 d="M91 21h9V100h-9z"/>
<path class=c6 d="M91 22h9V100h-9z"/>
<path class=c1 d="M91 23h9V100h-9z"/>
<path class=c54 d="M91 24h9V100h-9z"/>
<path class=c1 d="M91 26h9V100h-9z"/>
<path class=c12 d="M91 27h9V100h-9z"/>
<path class=c38 d="M91 28h9V100h-9z"/>
<path class=c0 d="M91 29h9V100h-9z"/>
<path class=c32 d="M91 31h9V100h-9z"/>
<path class=c5 d="M91 36h9V100h-9z"/>
<path class=c12 d="M91 37h9V100h-9z"/>
<path class=c0 d="M91 38h9V100h-9z"/>
<path class=c1 d="M91 39h9V100h-9z"/>
<path class=c8 d="M91 40h9V100h-9z"/>
<path class=c28 d="M91 41h9V100h-9z"/>
<path class=c1 d="M91 42h9V100h-9z"/>
<path class=c54 d="M91 44h9V100h-9z"/>
<path class=c0 d="M91 46h9V100h-9z"/>
<path class=c12 d="M91 48h9V100h-9z"/>
<path class=c5 d="M91 49h9V100h-9z"/>
<path class=c0 d="M91 50h9V100h-9z"/>
<path class=c44 d="M91 51h9V100h-9z"/>
<path class=c0 d="M91 52h9V100h-9z"/>
<path class=c50 d="M91 53h9V100h-9z"/>
<path class=c30 d="M91 55h9V100h-9z"/>
<path class=c1 d="M91 57h9V100h-9z"/>
<path class=c10 d="M91 59h9V100h-9z"/>
<path class=c1 d="M91 60h9V100h-9z"/>
<path class=c12 d="M91 62h9V100h-9z"/>
<path class=c1 d="M91 63h9V100h-9z"/>
<path class=c0 d="M91 64h9V100h-9z"/>
<path class=c1 d="M91 65h9V100h-9z"/>
<path class=c0 d="M91 68h9V100h-9z"/>
<path class=c10 d="M91 71h9V100h-9z"/>
<path class=c0 d="M91 72h9V100h-9z"/>
<path class=c14 d="M91 76h9V100h-9z"/>
<path class=c0 d="M91 77h9V100h-9z"/>
<path class=c1 d="M100 0h10V100h-10z"/>
<path class=c12 d="M100 1h10V100h-10z"/>
<path class=c1 d="M100 2h10V100h-10z"/>
<path class=c0 d="M100 3h10V100h-10z"/>
<path class=c1 d="M100 4h10V100h-10z"/>
<path class=c0 d="M100 5h10V100h-10z"/>
<path class=c1 d="M100 6h10V100h-10z"/>
<path class=c30 d="M100 7h10V100h-10z"/>
<path class=c1 d="M100 9h10V100h-10z"/>
<path class=c0 d="M100 10h10V100h-10z"/>
<path class=c14 d="M100 11h10V100h-10z"/>
<path class=c1 d="M100 12h10V100h-10z"/>
<path class=c7 d="M100 13h10V100h-10z"/>
<path class=c12 d="M100 14h10V100h-10z"/>
<path class=c1 d="M100 15h10V100h-10z"/>
<path class=c12 d="M100 18h10V100h-10z"/>
<path class=c7 d="M100 19h10V100h-10z"/>
<path class=c28 d="M100 20h10V100h-10z"/>
<path class=c1 d="M100 21h10V100h-10z"/>
<path class=c54 d="M100 23h10V100h-10z"/>
<path class=c8 d="M100 25h10V100h-10z"/>
<path class=c0 d="M100 26h10V100h-10z"/>
<path class=c7 d="M100 27h10V100h-10z"/>
<path class=c35 d="M100 28h10V100h-10z"/>
<path class=c7 d="M100 29h10V100h-10z"/>
<path class=c28 d="M100 30h10V100h-10z"/>
<path class=c0 d="M100 31h10V100h-10z"/>
<path class=c12 d="M100 32h10V100h-10z"/>
<path class=c5 d="M100 33h10V100h-10z"/>
<path class=c1 d="M100 34h10V100h-10z"/>
<path class=c12 d="M100 36h10V100h-10z"/>
<path class=c0 d="M100 37h10V100h-10z"/>
<path class=c28 d="M100 38h10V100h-10z"/>
<path class=c5 d="M100 39h10V100h-10z"/>
<path class=c0 d="M100 40h10V100h-10z"/>
<path class=c44 d="M100 41h10V100h-10z"/>
<path class=c1 d="M100 42h10V100h-10z"/>
<path class=c0 d="M100 43h10V100h-10z"/>
<path class=c1 d="M100 45h10V100h-10z"/>
<path class=c12 d="M100 46h10V100h-10z"/>
<path class=c8 d="M100 47h10V100h-10z"/>
<path class=c6 d="M100 48h10V100h-10z"/>
<path class=c12 d="M100 49h10V100h-10z"/>
<path class=c1 d="M100 50h10V100h-10z"/>
<path class=c28 d="M100 52h10V100h-10z"/>
<path class=c4 d="M100 53h10V100h-10z"/>
<path class=c0 d="M100 54h10V100h-10z"/>
<path class=c5 d="M100 55h10V100h-10z"/>
<path class=c1 d="M100 56h10V100h-10z"/>
<path class=c38 d="M100 57h10V100h-10z"/>
<path class=c1 d="M100 59h10V100h-10z"/>
<path class=c10 d="M100 61h10V100h-10z"/>
<path class=c0 d="M100 62h10V100h-10z"/>
<path class=c1 d="M100 63h10V100h-10z"/>
<path class=c41 d="M100 65h10V100h-10z"/>
<path class=c1 d="M100 67h10V100h-10z"/>
<path class=c10 d="M100 68h10V100h-10z"/>
<path class=c0 d="M100 69h10V100h-10z"/>
<path class=c28 d="M100 72h10V100h-10z"/>
<path class=c0 d="M100 74h10V100h-10z"/>
<path class=c6 d="M100 76h10V100h-10z"/>
<path class=c0 d="M100 77h10V100h-10z"/>
<path class=c6 d="M110 0h9V100h-9z"/>
<path class=c12 d="M110 1h9V100h-9z"/>
<path class=c1 d="M110 2h9V100h-9z"/>
<path class=c0 d="M110 5h9V100h-9z"/>
<path class=c28 d="M110 6h9V100h-9z"/>
<path class=c0 d="M110 7h9V100h-9z"/>
<path class=c9 d="M110 8h9V100h-9z"/>
<path class=c12 d="M110 9h9V100h-9z"/>
<path class=c0 d="M110 10h9V100h-9z"/>
<path class=c7 d="M110 11h9V100h-9z"/>
<path class=c1 d="M110 12h9V100h-9z"/>
<path class=c5 d="M110 13h9V100h-9z"/>
<path class=c12 d="M110 14h9V100h-9z"/>
<path class=c0 d="M110 15h9V100h-9z"/>
<path class=c7 d="M110 16h9V100h-9z"/>
<path class=c38 d="M110 17h9V100h-9z"/>
<path class=c1 d="M110 19h9V100h-9z"/>
<path class=c12 d="M110 20h9V100h-9z"/>
<path class=c0 d="M110 21h9V100h-9z"/>
<path class=c1 d="M110 22h9V100h-9z"/>
<path class=c0 d="M110 23h9V100h-9z"/>
<path class=c7 d="M110 24h9V100h-9z"/>
<path class=c12 d="M110 25h9V100h-9z"/>
<path class=c1 d="M110 26h9V100h-9z"/>
<path class=c28 d="M110 27h9V100h-9z"/>
<path class=c1 d="M110 28h9V100h-9z"/>
<path class=c0 d="M110 29h9V100h-9z"/>
<path class=c28 d="M110 30h9V100h-9z"/>
<path class=c1 d="M110 31h9V100h-9z"/>
<path class=c12 d="M110 33h9V100h-9z"/>
<path class=c1 d="M110 34h9V100h-9z"/>
<path class=c35 d="M110 35h9V100h-9z"/>
<path class=c0 d="M110 36h9V100h-9z"/>
<path class=c44 d="M110 37h9V100h-9z"/>
<path class=c1 d="M110 38h9V100h-9z"/>
<path class=c28 d="M110 41h9V100h-9z"/>
<path class=c0 d="M110 42h9V100h-9z"/>
<path class=c8 d="M110 43h9V100h-9z"/>
<path class=c1 d="M110 44h9V100h-9z"/>
<path class=c28 d="M110 45h9V100h-9z"/>
<path class=c1 d="M110 47h9V100h-9z"/>
<path class=c0 d="M110 48h9V100h-9z"/>
<path class=c12 d="M110 49h9V100h-9z"/>
<path class=c1 d="M110 50h9V100h-9z"/>
<path class=c38 d="M110 51h9V100h-9z"/>
<path class=c0 d="M110 53h9V100h-9z"/>
<path class=c1 d="M110 54h9V100h-9z"/>
<path class=c28 d="M110 55h9V100h-9z"/>
<path class=c1 d="M110 56h9V100h-9z"/>
<path class=c0 d="M110 57h9V100h-9z"/>
<path class=c8 d="M110 58h9V100h-9z"/>
<path class=c28 d="M110 59h9V100h-9z"/>
<path class=c1 d="M110 61h9V100h-9z"/>
<path class=c0 d="M110 62h9V100h-9z"/>
<path class=c5 d="M110 63h9V100h-9z"/>
<path class=c10 d="M110 64h9V100h-9z"/>
<path class=c1 d="M110 65h9V100h-9z"/>
<path class=c5 d="M110 66h9V100h-9z"/>
<path class=c8 d="M110 67h9V100h-9z"/>
<path class=c0 d="M110 68h9V100h-9z"/>
<path class=c14 d="M110 73h9V100h-9z"/>
<path class=c0 d="M110 74h9V100h-9z"/>
<path class=c5 d="M119 0h9V100h-9z"/>
<path class=c1 d="M119 1h9V100h-9z"/>
<path class=c10 d="M119 2h9V100h-9z"/>
<path class=c0 d="M119 3h9V100h-9z"/>
<path class=c1 d="M119 4h9V100h-9z"/>
<path class=c0 d="M119 6h9V100h-9z"/>
<path class=c12 d="M119 7h9V100h-9z"/>
<path class=c1 d="M119 8h9V100h-9z"/>
<path class=c7 d="M119 9h9V100h-9z"/>
<path class=c1 d="M119 10h9V100h-9z"/>
<path class=c42 d="M119 11h9V100h-9z"/>
<path class=c5 d="M119 13h9V100h-9z"/>
<path class=c1 d="M119 14h9V100h-9z"/>
<path class=c12 d="M119 15h9V100h-9z"/>
<path class=c1 d="M119 16h9V100h-9z"/>
<path class=c12 d="M119 18h9V100h-9z"/>
<path class=c1 d="M119 19h9V100h-9z"/>
<path class=c0 d="M119 20h9V100h-9z"/>
<path class=c28 d="M119 21h9V100h-9z"/>
<path class=c0 d="M119 22h9V100h-9z"/>
<path class=c1 d="M119 23h9V100h-9z"/>
<path class=c35 d="M119 25h9V100h-9z"/>
<path class=c1 d="M119 27h9V100h-9z"/>
<path class=c38 d="M119 29h9V100h-9z"/>
<path class=c1 d="M119 30h9V100h-9z"/>
<path class=c9 d="M119 31h9V100h-9z"/>
<path class=c6 d="M119 32h9V100h-9z"/>
<path class=c12 d="M119 33h9V100h-9z"/>
<path class=c1 d="M119 34h9V100h-9z"/>
<path class=c0 d="M119 35h9V100h-9z"/>
<path class=c12 d="M119 36h9V100h-9z"/>
<path class=c0 d="M119 37h9V100h-9z"/>
<path class=c1 d="M119 38h9V100h-9z"/>
<path class=c28 d="M119 39h9V100h-9z"/>
<path class=c1 d="M119 40h9V100h-9z"/>
<path class=c4 d="M119 41h9V100h-9z"/>
<path class=c1 d="M119 42h9V100h-9z"/>
<path class=c0 d="M119 43h9V100h-9z"/>
<path class=c38 d="M119 44h9V100h-9z"/>
<path class=c1 d="M119 45h9V100h-9z"/>
<path class=c0 d="M119 47h9V100h-9z"/>
<path class=c44 d="M119 48h9V100h-9z"/>
<path class=c0 d="M119 50h9V100h-9z"/>
<path class=c12 d="M119 51h9V100h-9z"/>
<path class=c0 d="M119 52h9V100h-9z"/>
<path class=c8 d="M119 53h9V100h-9z"/>
<path class=c0 d="M119 54h9V100h-9z"/>
<path class=c28 d="M119 55h9V100h-9z"/>
<path class=c38 d="M119 56h9V100h-9z"/>
<path class=c8 d="M119 58h9V100h-9z"/>
<path class=c1 d="M119 59h9V100h-9z"/>
<path class=c8 d="M119 60h9V100h-9z"/>
<path class=c1 d="M119 61h9V100h-9z"/>
<path class=c12 d="M119 62h9V100h-9z"/>
<path class=c1 d="M119 63h9V100h-9z"/>
<path class=c0 d="M119 64h9V100h-9z"/>
<path class=c1 d="M119 65h9V100h-9z"/>
<path class=c28 d="M119 66h9V100h-9z"/>
<path class=c12 d="M119 68h9V100h-9z"/>
<path class=c0 d="M119 69h9V100h-9z"/>
<path class=c5 d="M119 81h9V100h-9z"/>
<path class=c0 d="M119 82h9V100h-9z"/>
<path class=c7 d="M128 0h9V100h-9z"/>
<path class=c0 d="M128 1h9V100h-9z"/>
<path class=c8 d="M128 2h9V100h-9z"/>
<path class=c1 d="M128 3h9V100h-9z"/>
<path class=c12 d="M128 4h9V100h-9z"/>
<path class=c5 d="M128 5h9V100h-9z"/>
<path class=c10 d="M128 6h9V100h-9z"/>
<path class=c1 d="M128 7h9V100h-9z"/>
<path class=c12 d="M128 9h9V100h-9z"/>
<path class=c0 d="M128 10h9V100h-9z"/>
<path class=c1 d="M128 13h9V100h-9z"/>
<path class=c12 d="M128 14h9V100h-9z"/>
<path class=c0 d="M128 15h9V100h-9z"/>
<path class=c12 d="M128 16h9V100h-9z"/>
<path class=c9 d="M128 17h9V100h-9z"/>
<path class=c1 d="M128 18h9V100h-9z"/>
<path class=c0 d="M128 19h9V100h-9z"/>
<path class=c1 d="M128 21h9V100h-9z"/>
<path class=c12 d="M128 22h9V100h-9z"/>
<path class=c6 d="M128 23h9V100h-9z"/>
<path class=c28 d="M128 24h9V100h-9z"/>
<path class=c0 d="M128 25h9V100h-9z"/>
<path class=c28 d="M128 26h9V100h-9z"/>
<path class=c0 d="M128 27h9V100h-9z"/>
<path class=c1 d="M128 28h9V100h-9z"/>
<path class=c0 d="M128 29h9V100h-9z"/>
<path class=c41 d="M128 30h9V100h-9z"/>
<path class=c0 d="M128 33h9V100h-9z"/>
<path class=c38 d="M128 34h9V100h-9z"/>
<path class=c1 d="M128 35h9V100h-9z"/>
<path class=c12 d="M128 36h9V100h-9z"/>
<path class=c1 d="M128 37h9V100h-9z"/>
<path class=c0 d="M128 38h9V100h-9z"/>
<path class=c12 d="M128 39h9V100h-9z"/>
<path class=c1 d="M128 40h9V100h-9z"/>
<path class=c28 d="M128 42h9V100h-9z"/>
<path class=c0 d="M128 43h9V100h-9z"/>
<path class=c12 d="M128 44h9V100h-9z"/>
<path class=c1 d="M128 45h9V100h-9z"/>
<path class=c0 d="M128 47h9V100h-9z"/>
<path class=c28 d="M128 49h9V100h-9z"/>
<path class=c35 d="M128 51h9V100h-9z"/>
<path class=c1 d="M128 53h9V100h-9z"/>
<path class=c4 d="M128 54h9V100h-9z"/>
<path class=c28 d="M128 55h9V100h-9z"/>
<path class=c0 d="M128 56h9V100h-9z"/>
<path class=c1 d="M128 57h9V100h-9z"/>
<path class=c52 d="M128 58h9V100h-9z"/>
<path class=c0 d="M128 60h9V100h-9z"/>
<path class=c41 d="M128 61h9V100h-9z"/>
<path class=c8 d="M128 63h9V100h-9z"/>
<path class=c44 d="M128 64h9V100h-9z"/>
<path class=c8 d="M128 65h9V100h-9z"/>
<path class=c0 d="M128 66h9V100h-9z"/>
<path class=c1 d="M128 67h9V100h-9z"/>
<path class=c10 d="M128 68h9V100h-9z"/>
<path class=c0 d="M128 69h9V100h-9z"/>
<path class=c8 d="M128 70h9V100h-9z"/>
<path class=c0 d="M128 71h9V100h-9z"/>
<path class=c1 d="M137 0h9V100h-9z"/>
<path class=c6 d="M137 1h9V100h-9z"/>
<path class=c1 d="M137 2h9V100h-9z"/>
<path class=c4 d="M137 3h9V100h-9z"/>
<path class=c1 d="M137 4h9V100h-9z"/>
<path class=c12 d="M137 5h9V100h-9z"/>
<path class=c1 d="M137 6h9V100h-9z"/>
<path class=c0 d="M137 7h9V100h-9z"/>
<path class=c38 d="M137 9h9V100h-9z"/>
<path class=c1 d="M137 11h9V100h-9z"/>
<path class=c12 d="M137 13h9V100h-9z"/>
<path class=c0 d="M137 14h9V100h-9z"/>
<path class=c1 d="M137 15h9V100h-9z"/>
<path class=c12 d="M137 16h9V100h-9z"/>
<path class=c6 d="M137 17h9V100h-9z"/>
<path class=c0 d="M137 18h9V100h-9z"/>
<path class=c12 d="M137 19h9V100h-9z"/>
<path class=c38 d="M137 20h9V100h-9z"/>
<path class=c6 d="M137 22h9V100h-9z"/>
<path class=c28 d="M137 23h9V100h-9z"/>
<path class=c0 d="M137 24h9V100h-9z"/>
<path class=c28 d="M137 25h9V100h-9z"/>
<path class=c1 d="M137 26h9V100h-9z"/>
<path class=c35 d="M137 28h9V100h-9z"/>
<path class=c0 d="M137 29h9V100h-9z"/>
<path class=c9 d="M137 30h9V100h-9z"/>
<path class=c12 d="M137 31h9V100h-9z"/>
<path class=c8 d="M137 32h9V100h-9z"/>
<path class=c28 d="M137 33h9V100h-9z"/>
<path class=c0 d="M137 34h9V100h-9z"/>
<path class=c1 d="M137 35h9V100h-9z"/>
<path class=c28 d="M137 36h9V100h-9z"/>
<path class=c1 d="M137 37h9V100h-9z"/>
<path class=c0 d="M137 38h9V100h-9z"/>
<path class=c1 d="M137 39h9V100h-9z"/>
<path class=c12 d="M137 41h9V100h-9z"/>
<path class=c6 d="M137 42h9V100h-9z"/>
<path class=c0 d="M137 43h9V100h-9z"/>
<path class=c12 d="M137 44h9V100h-9z"/>
<path class=c6 d="M137 45h9V100h-9z"/>
<path class=c0 d="M137 46h9V100h-9z"/>
<path class=c1 d="M137 47h9V100h-9z"/>
<path class=c28 d="M137 48h9V100h-9z"/>
<path class=c0 d="M137 49h9V100h-9z"/>
<path class=c12 d="M137 50h9V100h-9z"/>
<path class=c0 d="M137 51h9V100h-9z"/>
<path class=c1 d="M137 52h9V100h-9z"/>
<path class=c28 d="M137 54h9V100h-9z"/>
<path class=c0 d="M137 55h9V100h-9z"/>
<path class=c7 d="M137 56h9V100h-9z"/>
<path class=c4 d="M137 57h9V100h-9z"/>
<path class=c0 d="M137 58h9V100h-9z"/>
<path class=c5 d="M137 59h9V100h-9z"/>
<path class=c10 d="M137 60h9V100h-9z"/>
<path class=c1 d="M137 61h9V100h-9z"/>
<path class=c12 d="M137 62h9V100h-9z"/>
<path class=c0 d="M137 63h9V100h-9z"/>
<path class=c38 d="M137 66h9V100h-9z"/>
<path class=c1 d="M137 67h9V100h-9z"/>
<path class=c0 d="M137 68h9V100h-9z"/>
<path class=c8 d="M137 70h9V100h-9z"/>
<path class=c0 d="M137 71h9V100h-9z"/>
<path class=c10 d="M137 73h9V100h-9z"/>
<path class=c0 d="M137 74h9V100h-9z"/>
</svg>
<rect class="cb" x="180.50" y="185.30" width="13.30" height="123.70"/>
<text class="tt" text-anchor="middle" x="100.5" y="180.3">SB3</text>
<text class="al" text-anchor="middle" x="100.8" y="336.0">Time (s)</text>
<text class="al" text-anchor="middle" transform="translate(8.4 247.2) rotate(-90)">Frequency (Hz)</text>
<text class="tk" text-anchor="end" x="23.3" y="203.6">40</text>
<text class="tk" text-anchor="end" x="23.3" y="231.2">30</text>
<text class="tk" text-anchor="end" x="23.3" y="258.8">20</text>
<text class="tk" text-anchor="end" x="23.3" y="286.4">10</text>
<text class="tk" text-anchor="middle" x="27.7" y="322.1">0</text>
<text class="tk" text-anchor="middle" x="60.9" y="322.1">5</text>
<text class="tk" text-anchor="middle" x="94.6" y="322.1">10</text>
<text class="tk" text-anchor="middle" x="128.0" y="322.1">15</text>
<text class="tk" text-anchor="middle" x="161.3" y="322.1">20</text>
<text class="ct" x="197.8" y="205.5">-8</text>
<line class="tl" x1="192.50" x2="193.80" y1="202.60" y2="202.60"/>
<text class="ct" x="197.8" y="223.3">-10</text>
<line class="tl" x1="192.50" x2="193.80" y1="220.40" y2="220.40"/>
<text class="ct" x="197.8" y="241.1">-12</text>
<line class="tl" x1="192.50" x2="193.80" y1="238.20" y2="238.20"/>
<text class="ct" x="197.8" y="258.9">-14</text>
<line class="tl" x1="192.50" x2="193.80" y1="256.00" y2="256.00"/>
<text class="ct" x="197.8" y="276.7">-16</text>
<line class="tl" x1="192.50" x2="193.80" y1="273.80" y2="273.80"/>
<text class="ct" x="197.8" y="294.5">-18</text>
<line class="tl" x1="192.50" x2="193.80" y1="291.60" y2="291.60"/>
<text class="cl" text-anchor="middle" transform="translate(220.8 247.2) rotate(-90)">Power (dB)</text>
<svg x=269 y=185.3 width=146 height=123.7 viewBox="0 0 146 100" preserveAspectRatio=none>
<path class=c0 d="M0 0h9V100h-9z"/>
<path class=c1 d="M0 1h9V100h-9z"/>
<path class=c13 d="M0 2h9V100h-9z"/>
<path class=c1 d="M0 3h9V100h-9z"/>
<path class=c31 d="M0 4h9V100h-9z"/>
<path class=c4 d="M0 6h9V100h-9z"/>
<path class=c10 d="M0 7h9V100h-9z"/>
<path class=c0 d="M0 8h9V100h-9z"/>
<path class=c30 d="M0 9h9V100h-9z"/>
<path class=c1 d="M0 10h9V100h-9z"/>
<path class=c4 d="M0 11h9V100h-9z"/>
<path class=c0 d="M0 12h9V100h-9z"/>
<path class=c30 d="M0 13h9V100h-9z"/>
<path class=c1 d="M0 15h9V100h-9z"/>
<path class=c36 d="M0 16h9V100h-9z"/>
<path class=c0 d="M0 17h9V100h-9z"/>
<path class=c4 d="M0 18h9V100h-9z"/>
<path class=c13 d="M0 19h9V100h-9z"/>
<path class=c5 d="M0 21h9V100h-9z"/>
<path class=c13 d="M0 22h9V100h-9z"/>
<path class=c50 d="M0 23h9V100h-9z"/>
<path class=c1 d="M0 25h9V100h-9z"/>
<path class=c33 d="M0 26h9V100h-9z"/>
<path class=c12 d="M0 27h9V100h-9z"/>
<path class=c39 d="M0 28h9V100h-9z"/>
<path class=c1 d="M0 29h9V100h-9z"/>
<path class=c5 d="M0 30h9V100h-9z"/>
<path class=c30 d="M0 31h9V100h-9z"/>
<path class=c1 d="M0 32h9V100h-9z"/>
<path class=c4 d="M0 33h9V100h-9z"/>
<path class=c12 d="M0 34h9V100h-9z"/>
<path class=c13 d="M0 35h9V100h-9z"/>
<path class=c12 d="M0 36h9V100h-9z"/>
<path class=c1 d="M0 37h9V100h-9z"/>
<path class=c42 d="M0 38h9V100h-9z"/>
<path class=c12 d="M0 39h9V100h-9z"/>
<path class=c30 d="M0 40h9V100h-9z"/>
<path class=c43 d="M0 42h9V100h-9z"/>
<path class=c47 d="M0 44h9V100h-9z"/>
<path class=c10 d="M0 46h9V100h-9z"/>
<path class=c7 d="M0 47h9V100h-9z"/>
<path class=c30 d="M0 48h9V100h-9z"/>
<path class=c44 d="M0 49h9V100h-9z"/>
<path class=c30 d="M0 52h9V100h-9z"/>
<path class=c1 d="M0 54h9V100h-9z"/>
<path class=c31 d="M0 55h9V100h-9z"/>
<path class=c13 d="M0 59h9V100h-9z"/>
<path class=c4 d="M0 61h9V100h-9z"/>
<path class=c30 d="M0 65h9V100h-9z"/>
<path class=c0 d="M0 67h9V100h-9z"/>
<path class=c13 d="M0 68h9V100h-9z"/>
<path class=c1 d="M0 69h9V100h-9z"/>
<path class=c4 d="M0 70h9V100h-9z"/>
<path class=c13 d="M0 71h9V100h-9z"/>
<path class=c15 d="M0 72h9V100h-9z"/>
<path class=c8 d="M0 73h9V100h-9z"/>
<path class=c13 d="M0 74h9V100h-9z"/>
<path class=c0 d="M0 75h9V100h-9z"/>
<path class=c1 d="M9 0h9V100h-9z"/>
<path class=c15 d="M9 1h9V100h-9z"/>
<path class=c2 d="M9 3h9V100h-9z"/>
<path class=c4 d="M9 4h9V100h-9z"/>
<path class=c11 d="M9 7h9V100h-9z"/>
<path class=c1 d="M9 9h9V100h-9z"/>
<path class=c13 d="M9 11h9V100h-9z"/>
<path class=c2 d="M9 13h9V100h-9z"/>
<path class=c4 d="M9 14h9V100h-9z"/>
<path class=c1 d="M9 15h9V100h-9z"/>
<path class=c39 d="M9 16h9V100h-9z"/>
<path class=c31 d="M9 18h9V100h-9z"/>
<path class=c2 d="M9 20h9V100h-9z"/>
<path class=c13 d="M9 21h9V100h-9z"/>
<path class=c6 d="M9 22h9V100h-9z"/>
<path class=c31 d="M9 23h9V100h-9z"/>
<path class=c39 d="M9 26h9V100h-9z"/>
<path class=c6 d="M9 28h9V100h-9z"/>
<path class=c10 d="M9 29h9V100h-9z"/>
<path class=c13 d="M9 30h9V100h-9z"/>
<path class=c36 d="M9 32h9V100h-9z"/>
<path class=c5 d="M9 34h9V100h-9z"/>
<path class=c30 d="M9 35h9V100h-9z"/>
<path class=c1 d="M9 37h9V100h-9z"/>
<path class=c60 d="M9 38h9V100h-9z"/>
<path class=c12 d="M9 40h9V100h-9z"/>
<path class=c13 d="M9 41h9V100h-9z"/>
<path class=c1 d="M9 42h9V100h-9z"/>
<path class=c30 d="M9 43h9V100h-9z"/>
<path class=c0 d="M9 45h9V100h-9z"/>
<path class=c13 d="M9 46h9V100h-9z"/>
<path class=c8 d="M9 47h9V100h-9z"/>
<path class=c30 d="M9 48h9V100h-9z"/>
<path class=c44 d="M9 50h9V100h-9z"/>
<path class=c1 d="M9 52h9V100h-9z"/>
<path class=c39 d="M9 53h9V100h-9z"/>
<path class=c1 d="M9 55h9V100h-9z"/>
<path class=c30 d="M9 56h9V100h-9z"/>
<path class=c12 d="M9 58h9V100h-9z"/>
<path class=c30 d="M9 59h9V100h-9z"/>
<path class=c14 d="M9 61h9V100h-9z"/>
<path class=c31 d="M9 62h9V100h-9z"/>
<path class=c1 d="M9 64h9V100h-9z"/>
<path class=c39 d="M9 65h9V100h-9z"/>
<path class=c12 d="M9 67h9V100h-9z"/>
<path class=c13 d="M9 68h9V100h-9z"/>
<path class=c12 d="M9 69h9V100h-9z"/>
<path class=c30 d="M9 70h9V100h-9z"/>
<path class=c13 d="M9 72h9V100h-9z"/>
<path class=c0 d="M9 74h9V100h-9z"/>
<path class=c2 d="M18 0h9V100h-9z"/>
<path class=c5 d="M18 1h9V100h-9z"/>
<path class=c4 d="M18 2h9V100h-9z"/>
<path class=c0 d="M18 3h9V100h-9z"/>
<path class=c30 d="M18 4h9V100h-9z"/>
<path class=c9 d="M18 6h9V100h-9z"/>
<path class=c11 d="M18 7h9V100h-9z"/>
<path class=c6 d="M18 8h9V100h-9z"/>
<path class=c13 d="M18 9h9V100h-9z"/>
<path class=c2 d="M18 10h9V100h-9z"/>
<path class=c30 d="M18 11h9V100h-9z"/>
<path class=c12 d="M18 13h9V100h-9z"/>
<path class=c13 d="M18 14h9V100h-9z"/>
<path class=c5 d="M18 15h9V100h-9z"/>
<path class=c4 d="M18 16h9V100h-9z"/>
<path class=c2 d="M18 17h9V100h-9z"/>
<path class=c13 d="M18 18h9V100h-9z"/>
<path class=c0 d="M18 19h9V100h-9z"/>
<path class=c42 d="M18 20h9V100h-9z"/>
<path class=c0 d="M18 22h9V100h-9z"/>
<path class=c13 d="M18 23h9V100h-9z"/>
<path class=c5 d="M18 24h9V100h-9z"/>
<path class=c36 d="M18 25h9V100h-9z"/>
<path class=c1 d="M18 27h9V100h-9z"/>
<path class=c13 d="M18 28h9V100h-9z"/>
<path class=c2 d="M18 29h9V100h-9z"/>
<path class=c36 d="M18 30h9V100h-9z"/>
<path class=c13 d="M18 31h9V100h-9z"/>
<path class=c0 d="M18 32h9V100h-9z"/>
<path class=c4 d="M18 33h9V100h-9z"/>
<path class=c6 d="M18 34h9V100h-9z"/>
<path class=c30 d="M18 35h9V100h-9z"/>
<path class=c13 d="M18 37h9V100h-9z"/>
<path class=c1 d="M18 38h9V100h-9z"/>
<path class=c14 d="M18 39h9V100h-9z"/>
<path class=c31 d="M18 40h9V100h-9z"/>
<path class=c10 d="M18 42h9V100h-9z"/>
<path class=c13 d="M18 43h9V100h-9z"/>
<path class=c36 d="M18 44h9V100h-9z"/>
<path class=c1 d="M18 46h9V100h-9z"/>
<path class=c13 d="M18 47h9V100h-9z"/>
<path class=c11 d="M18 51h9V100h-9z"/>
<path class=c5 d="M18 52h9V100h-9z"/>
<path class=c30 d="M18 54h9V100h-9z"/>
<path class=c1 d="M18 56h9V100h-9z"/>
<path class=c30 d="M18 57h9V100h-9z"/>
<path class=c49 d="M18 59h9V100h-9z"/>
<path class=c1 d="M18 61h9V100h-9z"/>
<path class=c13 d="M18 62h9V100h-9z"/>
<path class=c6 d="M18 63h9V100h-9z"/>
<path class=c30 d="M18 64h9V100h-9z"/>
<path class=c8 d="M18 65h9V100h-9z"/>
<path class=c30 d="M18 66h9V100h-9z"/>
<path class=c2 d="M18 68h9V100h-9z"/>
<path class=c13 d="M18 69h9V100h-9z"/>
<path class=c30 d="M18 70h9V100h-9z"/>
<path class=c5 d="M18 72h9V100h-9z"/>
<path class=c30 d="M18 73h9V100h-9z"/>
<path class=c0 d="M18 75h9V100h-9z"/>
<path class=c13 d="M18 78h9V100h-9z"/>
<path class=c0 d="M18 80h9V100h-9z"/>
<path class=c7 d="M18 84h9V100h-9z"/>
<path class=c0 d="M18 85h9V100h-9z"/>
<path class=c13 d="M27 0h9V100h-9z"/>
<path class=c31 d="M27 1h9V100h-9z"/>
<path class=c2 d="M27 3h9V100h-9z"/>
<path class=c11 d="M27 4h9V100h-9z"/>
<path class=c1 d="M27 5h9V100h-9z"/>
<path class=c4 d="M27 6h9V100h-9z"/>
<path class=c1 d="M27 8h9V100h-9z"/>
<path class=c30 d="M27 9h9V100h-9z"/>
<path class=c31 d="M27 11h9V100h-9z"/>
<path class=c12 d="M27 14h9V100h-9z"/>
<path class=c2 d="M27 15h9V100h-9z"/>
<path class=c42 d="M27 16h9V100h-9z"/>
<path class=c30 d="M27 18h9V100h-9z"/>
<path class=c2 d="M27 20h9V100h-9z"/>
<path class=c13 d="M27 21h9V100h-9z"/>
<path class=c1 d="M27 22h9V100h-9z"/>
<path class=c5 d="M27 23h9V100h-9z"/>
<path class=c8 d="M27 24h9V100h-9z"/>
<path class=c36 d="M27 25h9V100h-9z"/>
<path class=c30 d="M27 27h9V100h-9z"/>
<path class=c0 d="M27 29h9V100h-9z"/>
<path class=c30 d="M27 30h9V100h-9z"/>
<path class=c14 d="M27 31h9V100h-9z"/>
<path class=c6 d="M27 32h9V100h-9z"/>
<path class=c13 d="M27 33h9V100h-9z"/>
<path class=c8 d="M27 34h9V100h-9z"/>
<path class=c36 d="M27 35h9V100h-9z"/>
<path class=c31 d="M27 37h9V100h-9z"/>
<path class=c14 d="M27 39h9V100h-9z"/>
<path class=c39 d="M27 40h9V100h-9z"/>
<path class=c1 d="M27 42h9V100h-9z"/>
<path class=c4 d="M27 43h9V100h-9z"/>
<path class=c0 d="M27 44h9V100h-9z"/>
<path class=c11 d="M27 45h9V100h-9z"/>
<path class=c0 d="M27 46h9V100h-9z"/>
<path class=c39 d="M27 47h9V100h-9z"/>
<path class=c11 d="M27 48h9V100h-9z"/>
<path class=c13 d="M27 49h9V100h-9z"/>
<path class=c30 d="M27 50h9V100h-9z"/>
<path class=c36 d="M27 52h9V100h-9z"/>
<path class=c12 d="M27 54h9V100h-9z"/>
<path class=c13 d="M27 55h9V100h-9z"/>
<path class=c8 d="M27 56h9V100h-9z"/>
<path class=c36 d="M27 57h9V100h-9z"/>
<path class=c12 d="M27 59h9V100h-9z"/>
<path class=c13 d="M27 60h9V100h-9z"/>
<path class=c2 d="M27 61h9V100h-9z"/>
<path class=c30 d="M27 62h9V100h-9z"/>
<path class=c5 d="M27 64h9V100h-9z"/>
<path class=c1 d="M27 65h9V100h-9z"/>
<path class=c36 d="M27 66h9V100h-9z"/>
<path class=c7 d="M27 68h9V100h-9z"/>
<path class=c5 d="M27 69h9V100h-9z"/>
<path class=c13 d="M27 70h9V100h-9z"/>
<path class=c0 d="M27 76h9V100h-9z"/>
<path class=c13 d="M27 77h9V100h-9z"/>
<path class=c0 d="M27 78h9V100h-9z"/>
<path class=c31 d="M27 79h9V100h-9z"/>
<path class=c0 d="M27 81h9V100h-9z"/>
<path class=c0 d="M36 0h10V100h-10z"/>
<path class=c4 d="M36 1h10V100h-10z"/>
<path class=c1 d="M36 3h10V100h-10z"/>
<path class=c11 d="M36 4h10V100h-10z"/>
<path class=c6 d="M36 5h10V100h-10z"/>
<path class=c8 d="M36 6h10V100h-10z"/>
<path class=c36 d="M36 7h10V100h-10z"/>
<path class=c6 d="M36 9h10V100h-10z"/>
<path class=c13 d="M36 10h10V100h-10z"/>
<path class=c1 d="M36 12h10V100h-10z"/>
<path class=c0 d="M36 13h10V100h-10z"/>
<path class=c13 d="M36 14h10V100h-10z"/>
<path class=c11 d="M36 15h10V100h-10z"/>
<path class=c30 d="M36 16h10V100h-10z"/>
<path class=c11 d="M36 18h10V100h-10z"/>
<path class=c6 d="M36 19h10V100h-10z"/>
<path class=c4 d="M36 20h10V100h-10z"/>
<path class=c0 d="M36 21h10V100h-10z"/>
<path class=c31 d="M36 23h10V100h-10z"/>
<path class=c1 d="M36 25h10V100h-10z"/>
<path class=c13 d="M36 26h10V100h-10z"/>
<path class=c1 d="M36 27h10V100h-10z"/>
<path class=c13 d="M36 28h10V100h-10z"/>
<path class=c10 d="M36 29h10V100h-10z"/>
<path class=c30 d="M36 30h10V100h-10z"/>
<path class=c1 d="M36 32h10V100h-10z"/>
<path class=c44 d="M36 33h10V100h-10z"/>
<path class=c13 d="M36 35h10V100h-10z"/>
<path class=c9 d="M36 36h10V100h-10z"/>
<path class=c39 d="M36 37h10V100h-10z"/>
<path class=c0 d="M36 38h10V100h-10z"/>
<path class=c1 d="M36 39h10V100h-10z"/>
<path class=c49 d="M36 40h10V100h-10z"/>
<path class=c30 d="M36 42h10V100h-10z"/>
<path class=c1 d="M36 44h10V100h-10z"/>
<path class=c13 d="M36 45h10V100h-10z"/>
<path class=c2 d="M36 46h10V100h-10z"/>
<path class=c11 d="M36 47h10V100h-10z"/>
<path class=c2 d="M36 48h10V100h-10z"/>
<path class=c45 d="M36 49h10V100h-10z"/>
<path class=c50 d="M36 50h10V100h-10z"/>
<path class=c12 d="M36 52h10V100h-10z"/>
<path class=c36 d="M36 53h10V100h-10z"/>
<path class=c1 d="M36 55h10V100h-10z"/>
<path class=c42 d="M36 56h10V100h-10z"/>
<path class=c2 d="M36 59h10V100h-10z"/>
<path class=c13 d="M36 60h10V100h-10z"/>
<path class=c14 d="M36 61h10V100h-10z"/>
<path class=c39 d="M36 62h10V100h-10z"/>
<path class=c13 d="M36 64h10V100h-10z"/>
<path class=c1 d="M36 65h10V100h-10z"/>
<path class=c6 d="M36 66h10V100h-10z"/>
<path class=c30 d="M36 67h10V100h-10z"/>
<path class=c9 d="M36 68h10V100h-10z"/>
<path class=c4 d="M36 69h10V100h-10z"/>
<path class=c9 d="M36 72h10V100h-10z"/>
<path class=c13 d="M36 73h10V100h-10z"/>
<path class=c0 d="M36 74h10V100h-10z"/>
<path class=c33 d="M36 76h10V100h-10z"/>
<path class=c0 d="M36 78h10V100h-10z"/>
<path class=c12 d="M46 0h9V100h-9z"/>
<path class=c15 d="M46 1h9V100h-9z"/>
<path class=c10 d="M46 3h9V100h-9z"/>
<path class=c30 d="M46 4h9V100h-9z"/>
<path class=c4 d="M46 6h9V100h-9z"/>
<path class=c0 d="M46 7h9V100h-9z"/>
<path class=c7 d="M46 8h9V100h-9z"/>
<path class=c11 d="M46 9h9V100h-9z"/>
<path class=c0 d="M46 10h9V100h-9z"/>
<path class=c13 d="M46 11h9V100h-9z"/>
<path class=c1 d="M46 13h9V100h-9z"/>
<path class=c5 d="M46 14h9V100h-9z"/>
<path class=c12 d="M46 15h9V100h-9z"/>
<path class=c13 d="M46 16h9V100h-9z"/>
<path class=c1 d="M46 17h9V100h-9z"/>
<path class=c13 d="M46 18h9V100h-9z"/>
<path class=c2 d="M46 19h9V100h-9z"/>
<path class=c39 d="M46 20h9V100h-9z"/>
<path class=c11 d="M46 22h9V100h-9z"/>
<path class=c30 d="M46 23h9V100h-9z"/>
<path class=c31 d="M46 25h9V100h-9z"/>
<path class=c2 d="M46 26h9V100h-9z"/>
<path class=c6 d="M46 27h9V100h-9z"/>
<path class=c50 d="M46 28h9V100h-9z"/>
<path class=c12 d="M46 30h9V100h-9z"/>
<path class=c30 d="M46 31h9V100h-9z"/>
<path class=c9 d="M46 32h9V100h-9z"/>
<path class=c13 d="M46 33h9V100h-9z"/>
<path class=c11 d="M46 34h9V100h-9z"/>
<path class=c54 d="M46 35h9V100h-9z"/>
<path class=c1 d="M46 38h9V100h-9z"/>
<path class=c2 d="M46 39h9V100h-9z"/>
<path class=c13 d="M46 40h9V100h-9z"/>
<path class=c10 d="M46 41h9V100h-9z"/>
<path class=c1 d="M46 42h9V100h-9z"/>
<path class=c4 d="M46 43h9V100h-9z"/>
<path class=c6 d="M46 46h9V100h-9z"/>
<path class=c30 d="M46 47h9V100h-9z"/>
<path class=c10 d="M46 48h9V100h-9z"/>
<path class=c44 d="M46 49h9V100h-9z"/>
<path class=c54 d="M46 50h9V100h-9z"/>
<path class=c1 d="M46 52h9V100h-9z"/>
<path class=c13 d="M46 53h9V100h-9z"/>
<path class=c1 d="M46 54h9V100h-9z"/>
<path class=c39 d="M46 55h9V100h-9z"/>
<path class=c13 d="M46 57h9V100h-9z"/>
<path class=c11 d="M46 58h9V100h-9z"/>
<path class=c1 d="M46 59h9V100h-9z"/>
<path class=c30 d="M46 60h9V100h-9z"/>
<path class=c36 d="M46 61h9V100h-9z"/>
<path class=c6 d="M46 63h9V100h-9z"/>
<path class=c13 d="M46 64h9V100h-9z"/>
<path class=c12 d="M46 65h9V100h-9z"/>
<path class=c13 d="M46 66h9V100h-9z"/>
<path class=c7 d="M46 67h9V100h-9z"/>
<path class=c12 d="M46 68h9V100h-9z"/>
<path class=c36 d="M46 69h9V100h-9z"/>
<path class=c11 d="M46 71h9V100h-9z"/>
<path class=c13 d="M46 72h9V100h-9z"/>
<path class=c15 d="M46 74h9V100h-9z"/>
<path class=c0 d="M46 75h9V100h-9z"/>
<path class=c13 d="M46 77h9V100h-9z"/>
<path class=c0 d="M46 78h9V100h-9z"/>
<path class=c13 d="M46 79h9V100h-9z"/>
<path class=c0 d="M46 81h9V100h-9z"/>
<path class=c11 d="M46 83h9V100h-9z"/>
<path class=c0 d="M46 84h9V100h-9z"/>
<path class=c28 d="M46 85h9V100h-9z"/>
<path class=c0 d="M46 87h9V100h-9z"/>
<path class=c1 d="M55 0h9V100h-9z"/>
<path class=c4 d="M55 1h9V100h-9z"/>
<path class=c1 d="M55 2h9V100h-9z"/>
<path class=c6 d="M55 3h9V100h-9z"/>
<path class=c11 d="M55 4h9V100h-9z"/>
<path class=c1 d="M55 5h9V100h-9z"/>
<path class=c15 d="M55 6h9V100h-9z"/>
<path class=c5 d="M55 7h9V100h-9z"/>
<path class=c0 d="M55 8h9V100h-9z"/>
<path class=c4 d="M55 9h9V100h-9z"/>
<path class=c0 d="M55 10h9V100h-9z"/>
<path class=c4 d="M55 11h9V100h-9z"/>
<path class=c10 d="M55 12h9V100h-9z"/>
<path class=c7 d="M55 13h9V100h-9z"/>
<path class=c13 d="M55 14h9V100h-9z"/>
<path class=c1 d="M55 15h9V100h-9z"/>
<path class=c4 d="M55 16h9V100h-9z"/>
<path class=c1 d="M55 17h9V100h-9z"/>
<path class=c30 d="M55 18h9V100h-9z"/>
<path class=c7 d="M55 19h9V100h-9z"/>
<path class=c15 d="M55 20h9V100h-9z"/>
<path class=c1 d="M55 22h9V100h-9z"/>
<path class=c30 d="M55 23h9V100h-9z"/>
<path class=c7 d="M55 24h9V100h-9z"/>
<path class=c8 d="M55 25h9V100h-9z"/>
<path class=c13 d="M55 26h9V100h-9z"/>
<path class=c6 d="M55 27h9V100h-9z"/>
<path class=c50 d="M55 28h9V100h-9z"/>
<path class=c1 d="M55 30h9V100h-9z"/>
<path class=c13 d="M55 31h9V100h-9z"/>
<path class=c1 d="M55 32h9V100h-9z"/>
<path class=c30 d="M55 33h9V100h-9z"/>
<path class=c1 d="M55 34h9V100h-9z"/>
<path class=c30 d="M55 35h9V100h-9z"/>
<path class=c1 d="M55 36h9V100h-9z"/>
<path class=c13 d="M55 37h9V100h-9z"/>
<path class=c11 d="M55 38h9V100h-9z"/>
<path class=c44 d="M55 39h9V100h-9z"/>
<path class=c10 d="M55 41h9V100h-9z"/>
<path class=c30 d="M55 42h9V100h-9z"/>
<path class=c11 d="M55 43h9V100h-9z"/>
<path class=c13 d="M55 45h9V100h-9z"/>
<path class=c8 d="M55 46h9V100h-9z"/>
<path class=c30 d="M55 47h9V100h-9z"/>
<path class=c13 d="M55 49h9V100h-9z"/>
<path class=c2 d="M55 50h9V100h-9z"/>
<path class=c30 d="M55 51h9V100h-9z"/>
<path class=c50 d="M55 53h9V100h-9z"/>
<path class=c6 d="M55 55h9V100h-9z"/>
<path class=c30 d="M55 56h9V100h-9z"/>
<path class=c52 d="M55 60h9V100h-9z"/>
<path class=c0 d="M55 62h9V100h-9z"/>
<path class=c39 d="M55 63h9V100h-9z"/>
<path class=c12 d="M55 65h9V100h-9z"/>
<path class=c15 d="M55 66h9V100h-9z"/>
<path class=c1 d="M55 68h9V100h-9z"/>
<path class=c13 d="M55 69h9V100h-9z"/>
<path class=c8 d="M55 70h9V100h-9z"/>
<path class=c5 d="M55 71h9V100h-9z"/>
<path class=c12 d="M55 74h9V100h-9z"/>
<path class=c0 d="M55 77h9V100h-9z"/>
<path class=c0 d="M64 0h9V100h-9z"/>
<path class=c4 d="M64 1h9V100h-9z"/>
<path class=c6 d="M64 2h9V100h-9z"/>
<path class=c12 d="M64 3h9V100h-9z"/>
<path class=c5 d="M64 4h9V100h-9z"/>
<path class=c6 d="M64 5h9V100h-9z"/>
<path class=c13 d="M64 6h9V100h-9z"/>
<path class=c8 d="M64 7h9V100h-9z"/>
<path class=c11 d="M64 8h9V100h-9z"/>
<path class=c36 d="M64 11h9V100h-9z"/>
<path class=c7 d="M64 13h9V100h-9z"/>
<path class=c13 d="M64 14h9V100h-9z"/>
<path class=c7 d="M64 17h9V100h-9z"/>
<path class=c13 d="M64 18h9V100h-9z"/>
<path class=c12 d="M64 19h9V100h-9z"/>
<path class=c30 d="M64 20h9V100h-9z"/>
<path class=c2 d="M64 22h9V100h-9z"/>
<path class=c30 d="M64 23h9V100h-9z"/>
<path class=c42 d="M64 25h9V100h-9z"/>
<path class=c0 d="M64 27h9V100h-9z"/>
<path class=c50 d="M64 28h9V100h-9z"/>
<path class=c0 d="M64 30h9V100h-9z"/>
<path class=c13 d="M64 31h9V100h-9z"/>
<path class=c0 d="M64 32h9V100h-9z"/>
<path class=c13 d="M64 33h9V100h-9z"/>
<path class=c1 d="M64 34h9V100h-9z"/>
<path class=c13 d="M64 35h9V100h-9z"/>
<path class=c1 d="M64 36h9V100h-9z"/>
<path class=c36 d="M64 37h9V100h-9z"/>
<path class=c1 d="M64 38h9V100h-9z"/>
<path class=c13 d="M64 40h9V100h-9z"/>
<path class=c6 d="M64 41h9V100h-9z"/>
<path class=c30 d="M64 42h9V100h-9z"/>
<path class=c44 d="M64 43h9V100h-9z"/>
<path class=c11 d="M64 45h9V100h-9z"/>
<path class=c30 d="M64 46h9V100h-9z"/>
<path class=c11 d="M64 48h9V100h-9z"/>
<path class=c30 d="M64 49h9V100h-9z"/>
<path class=c11 d="M64 52h9V100h-9z"/>
<path class=c13 d="M64 53h9V100h-9z"/>
<path class=c7 d="M64 54h9V100h-9z"/>
<path class=c30 d="M64 55h9V100h-9z"/>
<path class=c2 d="M64 56h9V100h-9z"/>
<path class=c36 d="M64 57h9V100h-9z"/>
<path class=c6 d="M64 58h9V100h-9z"/>
<path class=c50 d="M64 59h9V100h-9z"/>
<path class=c30 d="M64 62h9V100h-9z"/>
<path class=c0 d="M64 63h9V100h-9z"/>
<path class=c13 d="M64 64h9V100h-9z"/>
<path class=c30 d="M64 66h9V100h-9z"/>
<path class=c8 d="M64 68h9V100h-9z"/>
<path class=c13 d="M64 69h9V100h-9z"/>
<path class=c10 d="M64 70h9V100h-9z"/>
<path class=c30 d="M64 71h9V100h-9z"/>
<path class=c36 d="M64 73h9V100h-9z"/>
<path class=c13 d="M64 75h9V100h-9z"/>
<path class=c15 d="M64 76h9V100h-9z"/>
<path class=c0 d="M64 77h9V100h-9z"/>
<path class=c1 d="M73 0h9V100h-9z"/>
<path class=c30 d="M73 1h9V100h-9z"/>
<path class=c8 d="M73 3h9V100h-9z"/>
<path class=c13 d="M73 4h9V100h-9z"/>
<path class=c7 d="M73 5h9V100h-9z"/>
<path class=c4 d="M73 6h9V100h-9z"/>
<path class=c11 d="M73 7h9V100h-9z"/>
<path class=c0 d="M73 8h9V100h-9z"/>
<path class=c4 d="M73 9h9V100h-9z"/>
<path class=c0 d="M73 10h9V100h-9z"/>
<path class=c11 d="M73 11h9V100h-9z"/>
<path class=c10 d="M73 12h9V100h-9z"/>
<path class=c12 d="M73 13h9V100h-9z"/>
<path class=c4 d="M73 14h9V100h-9z"/>
<path class=c1 d="M73 15h9V100h-9z"/>
<path class=c13 d="M73 16h9V100h-9z"/>
<path class=c0 d="M73 17h9V100h-9z"/>
<path class=c1 d="M73 18h9V100h-9z"/>
<path class=c13 d="M73 19h9V100h-9z"/>
<path class=c30 d="M73 20h9V100h-9z"/>
<path class=c10 d="M73 22h9V100h-9z"/>
<path class=c13 d="M73 23h9V100h-9z"/>
<path class=c6 d="M73 24h9V100h-9z"/>
<path class=c13 d="M73 25h9V100h-9z"/>
<path class=c11 d="M73 27h9V100h-9z"/>
<path class=c13 d="M73 28h9V100h-9z"/>
<path class=c12 d="M73 29h9V100h-9z"/>
<path class=c30 d="M73 30h9V100h-9z"/>
<path class=c9 d="M73 31h9V100h-9z"/>
<path class=c1 d="M73 32h9V100h-9z"/>
<path class=c30 d="M73 33h9V100h-9z"/>
<path class=c4 d="M73 35h9V100h-9z"/>
<path class=c2 d="M73 36h9V100h-9z"/>
<path class=c0 d="M73 37h9V100h-9z"/>
<path class=c13 d="M73 38h9V100h-9z"/>
<path class=c1 d="M73 39h9V100h-9z"/>
<path class=c13 d="M73 40h9V100h-9z"/>
<path class=c1 d="M73 41h9V100h-9z"/>
<path class=c11 d="M73 43h9V100h-9z"/>
<path class=c43 d="M73 44h9V100h-9z"/>
<path class=c0 d="M73 46h9V100h-9z"/>
<path class=c30 d="M73 47h9V100h-9z"/>
<path class=c1 d="M73 48h9V100h-9z"/>
<path class=c13 d="M73 49h9V100h-9z"/>
<path class=c36 d="M73 50h9V100h-9z"/>
<path class=c9 d="M73 52h9V100h-9z"/>
<path class=c13 d="M73 53h9V100h-9z"/>
<path class=c1 d="M73 54h9V100h-9z"/>
<path class=c13 d="M73 55h9V100h-9z"/>
<path class=c0 d="M73 56h9V100h-9z"/>
<path class=c1 d="M73 57h9V100h-9z"/>
<path class=c30 d="M73 58h9V100h-9z"/>
<path class=c1 d="M73 59h9V100h-9z"/>
<path class=c13 d="M73 60h9V100h-9z"/>
<path class=c0 d="M73 62h9V100h-9z"/>
<path class=c5 d="M73 63h9V100h-9z"/>
<path class=c1 d="M73 64h9V100h-9z"/>
<path class=c13 d="M73 65h9V100h-9z"/>
<path class=c8 d="M73 66h9V100h-9z"/>
<path class=c30 d="M73 67h9V100h-9z"/>
<path class=c1 d="M73 69h9V100h-9z"/>
<path class=c13 d="M73 70h9V100h-9z"/>
<path class=c2 d="M73 71h9V100h-9z"/>
<path class=c30 d="M73 72h9V100h-9z"/>
<path class=c45 d="M73 73h9V100h-9z"/>
<path class=c11 d="M73 75h9V100h-9z"/>
<path class=c13 d="M73 76h9V100h-9z"/>
<path class=c0 d="M73 77h9V100h-9z"/>
<path class=c13 d="M73 78h9V100h-9z"/>
<path class=c0 d="M73 80h9V100h-9z"/>
<path class=c12 d="M73 84h9V100h-9z"/>
<path class=c0 d="M73 86h9V100h-9z"/>
<path class=c7 d="M73 87h9V100h-9z"/>
<path class=c0 d="M73 88h9V100h-9z"/>
<path class=c13 d="M82 0h9V100h-9z"/>
<path class=c30 d="M82 1h9V100h-9z"/>
<path class=c2 d="M82 3h9V100h-9z"/>
<path class=c13 d="M82 4h9V100h-9z"/>
<path class=c0 d="M82 5h9V100h-9z"/>
<path class=c30 d="M82 6h9V100h-9z"/>
<path class=c7 d="M82 8h9V100h-9z"/>
<path class=c13 d="M82 9h9V100h-9z"/>
<path class=c0 d="M82 10h9V100h-9z"/>
<path class=c30 d="M82 11h9V100h-9z"/>
<path class=c6 d="M82 12h9V100h-9z"/>
<path class=c1 d="M82 13h9V100h-9z"/>
<path class=c11 d="M82 14h9V100h-9z"/>
<path class=c10 d="M82 15h9V100h-9z"/>
<path class=c42 d="M82 16h9V100h-9z"/>
<path class=c30 d="M82 18h9V100h-9z"/>
<path class=c11 d="M82 20h9V100h-9z"/>
<path class=c13 d="M82 21h9V100h-9z"/>
<path class=c12 d="M82 22h9V100h-9z"/>
<path class=c15 d="M82 23h9V100h-9z"/>
<path class=c1 d="M82 24h9V100h-9z"/>
<path class=c36 d="M82 25h9V100h-9z"/>
<path class=c6 d="M82 27h9V100h-9z"/>
<path class=c39 d="M82 28h9V100h-9z"/>
<path class=c30 d="M82 30h9V100h-9z"/>
<path class=c54 d="M82 32h9V100h-9z"/>
<path class=c30 d="M82 35h9V100h-9z"/>
<path class=c1 d="M82 36h9V100h-9z"/>
<path class=c13 d="M82 37h9V100h-9z"/>
<path class=c9 d="M82 38h9V100h-9z"/>
<path class=c49 d="M82 39h9V100h-9z"/>
<path class=c8 d="M82 41h9V100h-9z"/>
<path class=c36 d="M82 42h9V100h-9z"/>
<path class=c1 d="M82 43h9V100h-9z"/>
<path class=c8 d="M82 44h9V100h-9z"/>
<path class=c13 d="M82 45h9V100h-9z"/>
<path class=c11 d="M82 46h9V100h-9z"/>
<path class=c30 d="M82 47h9V100h-9z"/>
<path class=c50 d="M82 48h9V100h-9z"/>
<path class=c13 d="M82 50h9V100h-9z"/>
<path class=c2 d="M82 52h9V100h-9z"/>
<path class=c13 d="M82 53h9V100h-9z"/>
<path class=c2 d="M82 55h9V100h-9z"/>
<path class=c12 d="M82 56h9V100h-9z"/>
<path class=c1 d="M82 58h9V100h-9z"/>
<path class=c13 d="M82 59h9V100h-9z"/>
<path class=c9 d="M82 60h9V100h-9z"/>
<path class=c13 d="M82 61h9V100h-9z"/>
<path class=c5 d="M82 62h9V100h-9z"/>
<path class=c1 d="M82 63h9V100h-9z"/>
<path class=c39 d="M82 64h9V100h-9z"/>
<path class=c42 d="M82 66h9V100h-9z"/>
<path class=c0 d="M82 68h9V100h-9z"/>
<path class=c36 d="M82 69h9V100h-9z"/>
<path class=c1 d="M82 70h9V100h-9z"/>
<path class=c30 d="M82 71h9V100h-9z"/>
<path class=c13 d="M82 73h9V100h-9z"/>
<path class=c0 d="M82 74h9V100h-9z"/>
<path class=c9 d="M91 0h9V100h-9z"/>
<path class=c13 d="M91 1h9V100h-9z"/>
<path class=c6 d="M91 2h9V100h-9z"/>
<path class=c1 d="M91 3h9V100h-9z"/>
<path class=c13 d="M91 4h9V100h-9z"/>
<path class=c2 d="M91 5h9V100h-9z"/>
<path class=c11 d="M91 6h9V100h-9z"/>
<path class=c1 d="M91 7h9V100h-9z"/>
<path class=c5 d="M91 9h9V100h-9z"/>
<path class=c13 d="M91 10h9V100h-9z"/>
<path class=c7 d="M91 12h9V100h-9z"/>
<path class=c0 d="M91 13h9V100h-9z"/>
<path class=c45 d="M91 14h9V100h-9z"/>
<path class=c4 d="M91 16h9V100h-9z"/>
<path class=c6 d="M91 17h9V100h-9z"/>
<path class=c13 d="M91 18h9V100h-9z"/>
<path class=c1 d="M91 19h9V100h-9z"/>
<path class=c30 d="M91 20h9V100h-9z"/>
<path class=c9 d="M91 22h9V100h-9z"/>
<path class=c13 d="M91 23h9V100h-9z"/>
<path class=c5 d="M91 24h9V100h-9z"/>
<path class=c30 d="M91 25h9V100h-9z"/>
<path class=c1 d="M91 27h9V100h-9z"/>
<path class=c13 d="M91 28h9V100h-9z"/>
<path class=c11 d="M91 29h9V100h-9z"/>
<path class=c30 d="M91 30h9V100h-9z"/>
<path class=c1 d="M91 32h9V100h-9z"/>
<path class=c13 d="M91 33h9V100h-9z"/>
<path class=c12 d="M91 34h9V100h-9z"/>
<path class=c30 d="M91 35h9V100h-9z"/>
<path class=c11 d="M91 37h9V100h-9z"/>
<path class=c2 d="M91 38h9V100h-9z"/>
<path class=c1 d="M91 39h9V100h-9z"/>
<path class=c13 d="M91 40h9V100h-9z"/>
<path class=c50 d="M91 41h9V100h-9z"/>
<path class=c1 d="M91 43h9V100h-9z"/>
<path class=c36 d="M91 44h9V100h-9z"/>
<path class=c8 d="M91 46h9V100h-9z"/>
<path class=c13 d="M91 47h9V100h-9z"/>
<path class=c8 d="M91 48h9V100h-9z"/>
<path class=c30 d="M91 49h9V100h-9z"/>
<path class=c13 d="M91 50h9V100h-9z"/>
<path class=c12 d="M91 51h9V100h-9z"/>
<path class=c42 d="M91 52h9V100h-9z"/>
<path class=c30 d="M91 54h9V100h-9z"/>
<path class=c1 d="M91 55h9V100h-9z"/>
<path class=c0 d="M91 56h9V100h-9z"/>
<path class=c13 d="M91 57h9V100h-9z"/>
<path class=c0 d="M91 58h9V100h-9z"/>
<path class=c39 d="M91 59h9V100h-9z"/>
<path class=c11 d="M91 61h9V100h-9z"/>
<path class=c13 d="M91 62h9V100h-9z"/>
<path class=c10 d="M91 63h9V100h-9z"/>
<path class=c30 d="M91 64h9V100h-9z"/>
<path class=c13 d="M91 65h9V100h-9z"/>
<path class=c7 d="M91 66h9V100h-9z"/>
<path class=c13 d="M91 67h9V100h-9z"/>
<path class=c5 d="M91 68h9V100h-9z"/>
<path class=c1 d="M91 69h9V100h-9z"/>
<path class=c13 d="M91 70h9V100h-9z"/>
<path class=c30 d="M91 71h9V100h-9z"/>
<path class=c44 d="M91 73h9V100h-9z"/>
<path class=c1 d="M91 76h9V100h-9z"/>
<path class=c30 d="M91 77h9V100h-9z"/>
<path class=c0 d="M91 78h9V100h-9z"/>
<path class=c13 d="M91 80h9V100h-9z"/>
<path class=c0 d="M91 81h9V100h-9z"/>
<path class=c1 d="M100 0h10V100h-10z"/>
<path class=c30 d="M100 1h10V100h-10z"/>
<path class=c0 d="M100 3h10V100h-10z"/>
<path class=c30 d="M100 4h10V100h-10z"/>
<path class=c13 d="M100 6h10V100h-10z"/>
<path class=c7 d="M100 7h10V100h-10z"/>
<path class=c0 d="M100 8h10V100h-10z"/>
<path class=c11 d="M100 9h10V100h-10z"/>
<path class=c30 d="M100 11h10V100h-10z"/>
<path class=c12 d="M100 13h10V100h-10z"/>
<path class=c13 d="M100 14h10V100h-10z"/>
<path class=c2 d="M100 15h10V100h-10z"/>
<path class=c13 d="M100 16h10V100h-10z"/>
<path class=c0 d="M100 17h10V100h-10z"/>
<path class=c6 d="M100 18h10V100h-10z"/>
<path class=c4 d="M100 19h10V100h-10z"/>
<path class=c1 d="M100 20h10V100h-10z"/>
<path class=c4 d="M100 21h10V100h-10z"/>
<path class=c1 d="M100 22h10V100h-10z"/>
<path class=c4 d="M100 23h10V100h-10z"/>
<path class=c13 d="M100 25h10V100h-10z"/>
<path class=c11 d="M100 26h10V100h-10z"/>
<path class=c9 d="M100 27h10V100h-10z"/>
<path class=c54 d="M100 28h10V100h-10z"/>
<path class=c10 d="M100 31h10V100h-10z"/>
<path class=c1 d="M100 32h10V100h-10z"/>
<path class=c13 d="M100 33h10V100h-10z"/>
<path class=c0 d="M100 34h10V100h-10z"/>
<path class=c13 d="M100 35h10V100h-10z"/>
<path class=c8 d="M100 36h10V100h-10z"/>
<path class=c44 d="M100 37h10V100h-10z"/>
<path class=c12 d="M100 39h10V100h-10z"/>
<path class=c30 d="M100 40h10V100h-10z"/>
<path class=c13 d="M100 42h10V100h-10z"/>
<path class=c8 d="M100 43h10V100h-10z"/>
<path class=c1 d="M100 44h10V100h-10z"/>
<path class=c13 d="M100 45h10V100h-10z"/>
<path class=c30 d="M100 47h10V100h-10z"/>
<path class=c13 d="M100 49h10V100h-10z"/>
<path class=c30 d="M100 50h10V100h-10z"/>
<path class=c31 d="M100 52h10V100h-10z"/>
<path class=c47 d="M100 54h10V100h-10z"/>
<path class=c2 d="M100 56h10V100h-10z"/>
<path class=c30 d="M100 57h10V100h-10z"/>
<path class=c13 d="M100 59h10V100h-10z"/>
<path class=c0 d="M100 60h10V100h-10z"/>
<path class=c45 d="M100 61h10V100h-10z"/>
<path class=c0 d="M100 63h10V100h-10z"/>
<path class=c13 d="M100 64h10V100h-10z"/>
<path class=c6 d="M100 65h10V100h-10z"/>
<path class=c36 d="M100 66h10V100h-10z"/>
<path class=c1 d="M100 68h10V100h-10z"/>
<path class=c30 d="M100 69h10V100h-10z"/>
<path class=c2 d="M100 70h10V100h-10z"/>
<path class=c13 d="M100 71h10V100h-10z"/>
<path class=c5 d="M100 72h10V100h-10z"/>
<path class=c31 d="M100 73h10V100h-10z"/>
<path class=c2 d="M100 75h10V100h-10z"/>
<path class=c13 d="M100 76h10V100h-10z"/>
<path class=c10 d="M100 77h10V100h-10z"/>
<path class=c15 d="M100 78h10V100h-10z"/>
<path class=c0 d="M100 79h10V100h-10z"/>
<path class=c13 d="M100 82h10V100h-10z"/>
<path class=c0 d="M100 84h10V100h-10z"/>
<path class=c8 d="M110 0h9V100h-9z"/>
<path class=c30 d="M110 1h9V100h-9z"/>
<path class=c8 d="M110 3h9V100h-9z"/>
<path class=c13 d="M110 4h9V100h-9z"/>
<path class=c1 d="M110 5h9V100h-9z"/>
<path class=c13 d="M110 6h9V100h-9z"/>
<path class=c9 d="M110 7h9V100h-9z"/>
<path class=c1 d="M110 8h9V100h-9z"/>
<path class=c13 d="M110 9h9V100h-9z"/>
<path class=c6 d="M110 10h9V100h-9z"/>
<path class=c30 d="M110 11h9V100h-9z"/>
<path class=c10 d="M110 13h9V100h-9z"/>
<path class=c36 d="M110 14h9V100h-9z"/>
<path class=c8 d="M110 15h9V100h-9z"/>
<path class=c13 d="M110 16h9V100h-9z"/>
<path class=c10 d="M110 19h9V100h-9z"/>
<path class=c11 d="M110 20h9V100h-9z"/>
<path class=c1 d="M110 21h9V100h-9z"/>
<path class=c7 d="M110 22h9V100h-9z"/>
<path class=c13 d="M110 23h9V100h-9z"/>
<path class=c0 d="M110 24h9V100h-9z"/>
<path class=c30 d="M110 25h9V100h-9z"/>
<path class=c1 d="M110 26h9V100h-9z"/>
<path class=c7 d="M110 27h9V100h-9z"/>
<path class=c30 d="M110 28h9V100h-9z"/>
<path class=c11 d="M110 29h9V100h-9z"/>
<path class=c12 d="M110 32h9V100h-9z"/>
<path class=c30 d="M110 33h9V100h-9z"/>
<path class=c8 d="M110 34h9V100h-9z"/>
<path class=c13 d="M110 35h9V100h-9z"/>
<path class=c0 d="M110 36h9V100h-9z"/>
<path class=c13 d="M110 37h9V100h-9z"/>
<path class=c6 d="M110 38h9V100h-9z"/>
<path class=c8 d="M110 39h9V100h-9z"/>
<path class=c30 d="M110 40h9V100h-9z"/>
<path class=c42 d="M110 42h9V100h-9z"/>
<path class=c0 d="M110 44h9V100h-9z"/>
<path class=c13 d="M110 45h9V100h-9z"/>
<path class=c1 d="M110 46h9V100h-9z"/>
<path class=c39 d="M110 47h9V100h-9z"/>
<path class=c13 d="M110 49h9V100h-9z"/>
<path class=c39 d="M110 50h9V100h-9z"/>
<path class=c8 d="M110 52h9V100h-9z"/>
<path class=c30 d="M110 53h9V100h-9z"/>
<path class=c8 d="M110 54h9V100h-9z"/>
<path class=c13 d="M110 55h9V100h-9z"/>
<path class=c1 d="M110 56h9V100h-9z"/>
<path class=c13 d="M110 57h9V100h-9z"/>
<path class=c8 d="M110 58h9V100h-9z"/>
<path class=c30 d="M110 59h9V100h-9z"/>
<path class=c42 d="M110 61h9V100h-9z"/>
<path class=c14 d="M110 63h9V100h-9z"/>
<path class=c13 d="M110 64h9V100h-9z"/>
<path class=c39 d="M110 65h9V100h-9z"/>
<path class=c1 d="M110 67h9V100h-9z"/>
<path class=c13 d="M110 68h9V100h-9z"/>
<path class=c1 d="M110 69h9V100h-9z"/>
<path class=c30 d="M110 70h9V100h-9z"/>
<path class=c13 d="M110 72h9V100h-9z"/>
<path class=c7 d="M110 73h9V100h-9z"/>
<path class=c36 d="M110 74h9V100h-9z"/>
<path class=c2 d="M110 76h9V100h-9z"/>
<path class=c13 d="M110 77h9V100h-9z"/>
<path class=c6 d="M110 78h9V100h-9z"/>
<path class=c0 d="M110 79h9V100h-9z"/>
<path class=c15 d="M110 80h9V100h-9z"/>
<path class=c0 d="M110 81h9V100h-9z"/>
<path class=c13 d="M119 0h9V100h-9z"/>
<path class=c11 d="M119 1h9V100h-9z"/>
<path class=c2 d="M119 2h9V100h-9z"/>
<path class=c8 d="M119 3h9V100h-9z"/>
<path class=c5 d="M119 4h9V100h-9z"/>
<path class=c8 d="M119 5h9V100h-9z"/>
<path class=c13 d="M119 6h9V100h-9z"/>
<path class=c8 d="M119 7h9V100h-9z"/>
<path class=c30 d="M119 8h9V100h-9z"/>
<path class=c9 d="M119 10h9V100h-9z"/>
<path class=c13 d="M119 11h9V100h-9z"/>
<path class=c11 d="M119 12h9V100h-9z"/>
<path class=c0 d="M119 13h9V100h-9z"/>
<path class=c13 d="M119 14h9V100h-9z"/>
<path class=c0 d="M119 15h9V100h-9z"/>
<path class=c39 d="M119 16h9V100h-9z"/>
<path class=c13 d="M119 18h9V100h-9z"/>
<path class=c11 d="M119 19h9V100h-9z"/>
<path class=c15 d="M119 20h9V100h-9z"/>
<path class=c1 d="M119 21h9V100h-9z"/>
<path class=c6 d="M119 22h9V100h-9z"/>
<path class=c36 d="M119 23h9V100h-9z"/>
<path class=c13 d="M119 25h9V100h-9z"/>
<path class=c12 d="M119 26h9V100h-9z"/>
<path class=c1 d="M119 27h9V100h-9z"/>
<path class=c39 d="M119 28h9V100h-9z"/>
<path class=c30 d="M119 30h9V100h-9z"/>
<path class=c43 d="M119 32h9V100h-9z"/>
<path class=c1 d="M119 34h9V100h-9z"/>
<path class=c13 d="M119 35h9V100h-9z"/>
<path class=c1 d="M119 36h9V100h-9z"/>
<path class=c5 d="M119 37h9V100h-9z"/>
<path class=c8 d="M119 38h9V100h-9z"/>
<path class=c10 d="M119 39h9V100h-9z"/>
<path class=c13 d="M119 40h9V100h-9z"/>
<path class=c1 d="M119 43h9V100h-9z"/>
<path class=c6 d="M119 44h9V100h-9z"/>
<path class=c30 d="M119 45h9V100h-9z"/>
<path class=c0 d="M119 46h9V100h-9z"/>
<path class=c30 d="M119 47h9V100h-9z"/>
<path class=c39 d="M119 49h9V100h-9z"/>
<path class=c13 d="M119 51h9V100h-9z"/>
<path class=c39 d="M119 52h9V100h-9z"/>
<path class=c30 d="M119 55h9V100h-9z"/>
<path class=c11 d="M119 56h9V100h-9z"/>
<path class=c30 d="M119 57h9V100h-9z"/>
<path class=c10 d="M119 58h9V100h-9z"/>
<path class=c13 d="M119 59h9V100h-9z"/>
<path class=c14 d="M119 60h9V100h-9z"/>
<path class=c30 d="M119 61h9V100h-9z"/>
<path class=c0 d="M119 62h9V100h-9z"/>
<path class=c30 d="M119 63h9V100h-9z"/>
<path class=c36 d="M119 65h9V100h-9z"/>
<path class=c13 d="M119 67h9V100h-9z"/>
<path class=c5 d="M119 68h9V100h-9z"/>
<path class=c8 d="M119 69h9V100h-9z"/>
<path class=c13 d="M119 70h9V100h-9z"/>
<path class=c30 d="M119 72h9V100h-9z"/>
<path class=c6 d="M119 73h9V100h-9z"/>
<path class=c13 d="M119 74h9V100h-9z"/>
<path class=c12 d="M119 76h9V100h-9z"/>
<path class=c2 d="M119 78h9V100h-9z"/>
<path class=c0 d="M119 79h9V100h-9z"/>
<path class=c0 d="M128 0h9V100h-9z"/>
<path class=c1 d="M128 1h9V100h-9z"/>
<path class=c4 d="M128 2h9V100h-9z"/>
<path class=c6 d="M128 3h9V100h-9z"/>
<path class=c13 d="M128 4h9V100h-9z"/>
<path class=c1 d="M128 5h9V100h-9z"/>
<path class=c4 d="M128 6h9V100h-9z"/>
<path class=c7 d="M128 8h9V100h-9z"/>
<path class=c13 d="M128 9h9V100h-9z"/>
<path class=c1 d="M128 10h9V100h-9z"/>
<path class=c13 d="M128 11h9V100h-9z"/>
<path class=c11 d="M128 12h9V100h-9z"/>
<path class=c45 d="M128 13h9V100h-9z"/>
<path class=c9 d="M128 15h9V100h-9z"/>
<path class=c30 d="M128 16h9V100h-9z"/>
<path class=c13 d="M128 18h9V100h-9z"/>
<path class=c54 d="M128 19h9V100h-9z"/>
<path class=c11 d="M128 22h9V100h-9z"/>
<path class=c44 d="M128 23h9V100h-9z"/>
<path class=c49 d="M128 26h9V100h-9z"/>
<path class=c0 d="M128 28h9V100h-9z"/>
<path class=c30 d="M128 29h9V100h-9z"/>
<path class=c8 d="M128 30h9V100h-9z"/>
<path class=c39 d="M128 31h9V100h-9z"/>
<path class=c13 d="M128 33h9V100h-9z"/>
<path class=c14 d="M128 34h9V100h-9z"/>
<path class=c30 d="M128 35h9V100h-9z"/>
<path class=c13 d="M128 36h9V100h-9z"/>
<path class=c1 d="M128 38h9V100h-9z"/>
<path class=c7 d="M128 39h9V100h-9z"/>
<path class=c13 d="M128 40h9V100h-9z"/>
<path class=c9 d="M128 41h9V100h-9z"/>
<path class=c11 d="M128 42h9V100h-9z"/>
<path class=c7 d="M128 43h9V100h-9z"/>
<path class=c0 d="M128 44h9V100h-9z"/>
<path class=c3 d="M128 45h9V100h-9z"/>
<path class=c13 d="M128 49h9V100h-9z"/>
<path class=c4 d="M128 50h9V100h-9z"/>
<path class=c13 d="M128 52h9V100h-9z"/>
<path class=c7 d="M128 53h9V100h-9z"/>
<path class=c31 d="M128 54h9V100h-9z"/>
<path class=c7 d="M128 57h9V100h-9z"/>
<path class=c13 d="M128 58h9V100h-9z"/>
<path class=c36 d="M128 59h9V100h-9z"/>
<path class=c11 d="M128 61h9V100h-9z"/>
<path class=c47 d="M128 62h9V100h-9z"/>
<path class=c39 d="M128 65h9V100h-9z"/>
<path class=c7 d="M128 67h9V100h-9z"/>
<path class=c36 d="M128 68h9V100h-9z"/>
<path class=c1 d="M128 71h9V100h-9z"/>
<path class=c13 d="M128 72h9V100h-9z"/>
<path class=c6 d="M128 73h9V100h-9z"/>
<path class=c30 d="M128 74h9V100h-9z"/>
<path class=c11 d="M128 76h9V100h-9z"/>
<path class=c30 d="M128 78h9V100h-9z"/>
<path class=c0 d="M128 80h9V100h-9z"/>
<path class=c11 d="M128 82h9V100h-9z"/>
<path class=c0 d="M128 83h9V100h-9z"/>
<path class=c1 d="M137 0h9V100h-9z"/>
<path class=c13 d="M137 1h9V100h-9z"/>
<path class=c1 d="M137 2h9V100h-9z"/>
<path class=c14 d="M137 3h9V100h-9z"/>
<path class=c30 d="M137 4h9V100h-9z"/>
<path class=c7 d="M137 6h9V100h-9z"/>
<path class=c11 d="M137 7h9V100h-9z"/>
<path class=c12 d="M137 8h9V100h-9z"/>
<path class=c13 d="M137 9h9V100h-9z"/>
<path class=c1 d="M137 10h9V100h-9z"/>
<path class=c30 d="M137 11h9V100h-9z"/>
<path class=c11 d="M137 13h9V100h-9z"/>
<path class=c13 d="M137 14h9V100h-9z"/>
<path class=c2 d="M137 15h9V100h-9z"/>
<path class=c30 d="M137 16h9V100h-9z"/>
<path class=c13 d="M137 18h9V100h-9z"/>
<path class=c11 d="M137 20h9V100h-9z"/>
<path class=c1 d="M137 21h9V100h-9z"/>
<path class=c36 d="M137 23h9V100h-9z"/>
<path class=c6 d="M137 25h9V100h-9z"/>
<path class=c15 d="M137 26h9V100h-9z"/>
<path class=c13 d="M137 27h9V100h-9z"/>
<path class=c30 d="M137 28h9V100h-9z"/>
<path class=c1 d="M137 29h9V100h-9z"/>
<path class=c49 d="M137 30h9V100h-9z"/>
<path class=c1 d="M137 32h9V100h-9z"/>
<path class=c13 d="M137 33h9V100h-9z"/>
<path class=c8 d="M137 34h9V100h-9z"/>
<path class=c13 d="M137 35h9V100h-9z"/>
<path class=c45 d="M137 37h9V100h-9z"/>
<path class=c0 d="M137 39h9V100h-9z"/>
<path class=c13 d="M137 40h9V100h-9z"/>
<path class=c7 d="M137 41h9V100h-9z"/>
<path class=c30 d="M137 42h9V100h-9z"/>
<path class=c13 d="M137 43h9V100h-9z"/>
<path class=c10 d="M137 44h9V100h-9z"/>
<path class=c13 d="M137 45h9V100h-9z"/>
<path class=c0 d="M137 46h9V100h-9z"/>
<path class=c36 d="M137 47h9V100h-9z"/>
<path class=c13 d="M137 49h9V100h-9z"/>
<path class=c30 d="M137 52h9V100h-9z"/>
<path class=c7 d="M137 53h9V100h-9z"/>
<path class=c1 d="M137 54h9V100h-9z"/>
<path class=c13 d="M137 55h9V100h-9z"/>
<path class=c14 d="M137 56h9V100h-9z"/>
<path class=c36 d="M137 57h9V100h-9z"/>
<path class=c5 d="M137 59h9V100h-9z"/>
<path class=c13 d="M137 60h9V100h-9z"/>
<path class=c1 d="M137 61h9V100h-9z"/>
<path class=c30 d="M137 62h9V100h-9z"/>
<path class=c0 d="M137 66h9V100h-9z"/>
<path class=c13 d="M137 67h9V100h-9z"/>
<path class=c0 d="M137 68h9V100h-9z"/>
<path class=c36 d="M137 69h9V100h-9z"/>
<path class=c13 d="M137 71h9V100h-9z"/>
<path class=c1 d="M137 73h9V100h-9z"/>
<path class=c5 d="M137 74h9V100h-9z"/>
<path class=c13 d="M137 75h9V100h-9z"/>
<path class=c6 d="M137 76h9V100h-9z"/>
<path class=c5 d="M137 77h9V100h-9z"/>
<path class=c10 d="M137 78h9V100h-9z"/>
<path class=c31 d="M137 79h9V100h-9z"/>
<path class=c0 d="M137 81h9V100h-9z"/>
</svg>
<rect class="cb" x="422.00" y="185.30" width="13.40" height="123.70"/>
<text class="tt" text-anchor="middle" x="341.5" y="180.3">SB4</text>
<text class="al" text-anchor="middle" x="341.8" y="336.0">Time (s)</text>
<text class="al" text-anchor="middle" transform="translate(247.8 247.2) rotate(-90)">Frequency (Hz)</text>
<text class="tk" text-anchor="end" x="264.2" y="203.6">40</text>
<text class="tk" text-anchor="end" x="264.2" y="231.2">30</text>
<text class="tk" text-anchor="end" x="264.2" y="258.8">20</text>
<text class="tk" text-anchor="end" x="264.2" y="286.4">10</text>
<text class="tk" text-anchor="middle" x="268.6" y="322.1">0</text>
<text class="tk" text-anchor="middle" x="309.0" y="322.1">5</text>
<text class="tk" text-anchor="middle" x="349.4" y="322.1">10</text>
<text class="tk" text-anchor="middle" x="389.8" y="322.1">15</text>
<text class="ct" x="439.4" y="209.0">-5</text>
<line class="tl" x1="434.10" x2="435.40" y1="206.10" y2="206.10"/>
<text class="ct" x="439.4" y="243.5">-10</text>
<line class="tl" x1="434.10" x2="435.40" y1="240.60" y2="240.60"/>
<text class="ct" x="439.4" y="278.0">-15</text>
<line class="tl" x1="434.10" x2="435.40" y1="275.10" y2="275.10"/>
<text class="cl" text-anchor="middle" transform="translate(462.4 247.2) rotate(-90)">Power (dB)</text>
<svg x=510 y=185.3 width=143 height=123.7 viewBox="0 0 143 100" preserveAspectRatio=none>
<path class=c13 d="M0 0h9V100h-9z"/>
<path class=c16 d="M0 1h9V100h-9z"/>
<path class=c9 d="M0 2h9V100h-9z"/>
<path class=c15 d="M0 3h9V100h-9z"/>
<path class=c30 d="M0 4h9V100h-9z"/>
<path class=c29 d="M0 5h9V100h-9z"/>
<path class=c32 d="M0 6h9V100h-9z"/>
<path class=c34 d="M0 7h9V100h-9z"/>
<path class=c23 d="M0 8h9V100h-9z"/>
<path class=c15 d="M0 9h9V100h-9z"/>
<path class=c23 d="M0 10h9V100h-9z"/>
<path class=c41 d="M0 11h9V100h-9z"/>
<path class=c35 d="M0 12h9V100h-9z"/>
<path class=c29 d="M0 13h9V100h-9z"/>
<path class=c25 d="M0 14h9V100h-9z"/>
<path class=c29 d="M0 15h9V100h-9z"/>
<path class=c7 d="M0 16h9V100h-9z"/>
<path class=c27 d="M0 17h9V100h-9z"/>
<path class=c25 d="M0 18h9V100h-9z"/>
<path class=c33 d="M0 19h9V100h-9z"/>
<path class=c29 d="M0 20h9V100h-9z"/>
<path class=c31 d="M0 21h9V100h-9z"/>
<path class=c22 d="M0 22h9V100h-9z"/>
<path class=c32 d="M0 23h9V100h-9z"/>
<path class=c24 d="M0 24h9V100h-9z"/>
<path class=c29 d="M0 25h9V100h-9z"/>
<path class=c36 d="M0 26h9V100h-9z"/>
<path class=c29 d="M0 27h9V100h-9z"/>
<path class=c20 d="M0 28h9V100h-9z"/>
<path class=c38 d="M0 29h9V100h-9z"/>
<path class=c37 d="M0 30h9V100h-9z"/>
<path class=c21 d="M0 31h9V100h-9z"/>
<path class=c28 d="M0 32h9V100h-9z"/>
<path class=c34 d="M0 33h9V100h-9z"/>
<path class=c24 d="M0 35h9V100h-9z"/>
<path class=c36 d="M0 36h9V100h-9z"/>
<path class=c27 d="M0 37h9V100h-9z"/>
<path class=c41 d="M0 38h9V100h-9z"/>
<path class=c34 d="M0 39h9V100h-9z"/>
<path class=c43 d="M0 40h9V100h-9z"/>
<path class=c36 d="M0 41h9V100h-9z"/>
<path class=c43 d="M0 43h9V100h-9z"/>
<path class=c30 d="M0 44h9V100h-9z"/>
<path class=c14 d="M0 45h9V100h-9z"/>
<path class=c33 d="M0 46h9V100h-9z"/>
<path class=c46 d="M0 47h9V100h-9z"/>
<path class=c52 d="M0 48h9V100h-9z"/>
<path class=c54 d="M0 49h9V100h-9z"/>
<path class=c48 d="M0 50h9V100h-9z"/>
<path class=c49 d="M0 51h9V100h-9z"/>
<path class=c54 d="M0 52h9V100h-9z"/>
<path class=c56 d="M0 54h9V100h-9z"/>
<path class=c49 d="M0 55h9V100h-9z"/>
<path class=c36 d="M0 56h9V100h-9z"/>
<path class=c54 d="M0 57h9V100h-9z"/>
<path class=c52 d="M0 58h9V100h-9z"/>
<path class=c50 d="M0 59h9V100h-9z"/>
<path class=c54 d="M0 60h9V100h-9z"/>
<path class=c44 d="M0 61h9V100h-9z"/>
<path class=c46 d="M0 62h9V100h-9z"/>
<path class=c53 d="M0 63h9V100h-9z"/>
<path class=c40 d="M0 64h9V100h-9z"/>
<path class=c44 d="M0 66h9V100h-9z"/>
<path class=c41 d="M0 67h9V100h-9z"/>
<path class=c33 d="M0 68h9V100h-9z"/>
<path class=c36 d="M0 69h9V100h-9z"/>
<path class=c46 d="M0 70h9V100h-9z"/>
<path class=c16 d="M0 71h9V100h-9z"/>
<path class=c51 d="M0 72h9V100h-9z"/>
<path class=c39 d="M0 73h9V100h-9z"/>
<path class=c45 d="M0 74h9V100h-9z"/>
<path class=c39 d="M0 75h9V100h-9z"/>
<path class=c48 d="M0 76h9V100h-9z"/>
<path class=c30 d="M0 77h9V100h-9z"/>
<path class=c35 d="M0 78h9V100h-9z"/>
<path class=c36 d="M0 79h9V100h-9z"/>
<path class=c43 d="M0 80h9V100h-9z"/>
<path class=c45 d="M0 81h9V100h-9z"/>
<path class=c42 d="M0 82h9V100h-9z"/>
<path class=c39 d="M0 83h9V100h-9z"/>
<path class=c13 d="M0 84h9V100h-9z"/>
<path class=c11 d="M0 85h9V100h-9z"/>
<path class=c6 d="M0 86h9V100h-9z"/>
<path class=c2 d="M0 87h9V100h-9z"/>
<path class=c0 d="M0 88h9V100h-9z"/>
<path class=c1 d="M0 89h9V100h-9z"/>
<path class=c2 d="M0 90h9V100h-9z"/>
<path class=c1 d="M0 91h9V100h-9z"/>
<path class=c0 d="M0 92h9V100h-9z"/>
<path class=c2 d="M0 93h9V100h-9z"/>
<path class=c0 d="M0 94h9V100h-9z"/>
<path class=c1 d="M0 95h9V100h-9z"/>
<path class=c2 d="M0 96h9V100h-9z"/>
<path class=c1 d="M0 98h9V100h-9z"/>
<path class=c27 d="M9 0h9V100h-9z"/>
<path class=c22 d="M9 1h9V100h-9z"/>
<path class=c27 d="M9 2h9V100h-9z"/>
<path class=c21 d="M9 3h9V100h-9z"/>
<path class=c32 d="M9 4h9V100h-9z"/>
<path class=c25 d="M9 5h9V100h-9z"/>
<path class=c22 d="M9 6h9V100h-9z"/>
<path class=c27 d="M9 7h9V100h-9z"/>
<path class=c25 d="M9 8h9V100h-9z"/>
<path class=c22 d="M9 9h9V100h-9z"/>
<path class=c34 d="M9 10h9V100h-9z"/>
<path class=c32 d="M9 11h9V100h-9z"/>
<path class=c27 d="M9 12h9V100h-9z"/>
<path class=c22 d="M9 14h9V100h-9z"/>
<path class=c26 d="M9 15h9V100h-9z"/>
<path class=c38 d="M9 16h9V100h-9z"/>
<path class=c34 d="M9 17h9V100h-9z"/>
<path class=c20 d="M9 18h9V100h-9z"/>
<path class=c12 d="M9 19h9V100h-9z"/>
<path class=c16 d="M9 20h9V100h-9z"/>
<path class=c31 d="M9 21h9V100h-9z"/>
<path class=c24 d="M9 22h9V100h-9z"/>
<path class=c36 d="M9 23h9V100h-9z"/>
<path class=c25 d="M9 24h9V100h-9z"/>
<path class=c28 d="M9 25h9V100h-9z"/>
<path class=c26 d="M9 26h9V100h-9z"/>
<path class=c15 d="M9 27h9V100h-9z"/>
<path class=c35 d="M9 28h9V100h-9z"/>
<path class=c20 d="M9 29h9V100h-9z"/>
<path class=c37 d="M9 30h9V100h-9z"/>
<path class=c21 d="M9 31h9V100h-9z"/>
<path class=c10 d="M9 32h9V100h-9z"/>
<path class=c33 d="M9 33h9V100h-9z"/>
<path class=c25 d="M9 34h9V100h-9z"/>
<path class=c31 d="M9 35h9V100h-9z"/>
<path class=c38 d="M9 36h9V100h-9z"/>
<path class=c30 d="M9 37h9V100h-9z"/>
<path class=c46 d="M9 38h9V100h-9z"/>
<path class=c41 d="M9 39h9V100h-9z"/>
<path class=c29 d="M9 40h9V100h-9z"/>
<path class=c23 d="M9 41h9V100h-9z"/>
<path class=c43 d="M9 42h9V100h-9z"/>
<path class=c38 d="M9 43h9V100h-9z"/>
<path class=c30 d="M9 44h9V100h-9z"/>
<path class=c39 d="M9 45h9V100h-9z"/>
<path class=c35 d="M9 46h9V100h-9z"/>
<path class=c55 d="M9 47h9V100h-9z"/>
<path class=c44 d="M9 48h9V100h-9z"/>
<path class=c25 d="M9 49h9V100h-9z"/>
<path class=c31 d="M9 50h9V100h-9z"/>
<path class=c39 d="M9 51h9V100h-9z"/>
<path class=c29 d="M9 52h9V100h-9z"/>
<path class=c44 d="M9 53h9V100h-9z"/>
<path class=c47 d="M9 54h9V100h-9z"/>
<path class=c41 d="M9 55h9V100h-9z"/>
<path class=c49 d="M9 56h9V100h-9z"/>
<path class=c40 d="M9 57h9V100h-9z"/>
<path class=c29 d="M9 58h9V100h-9z"/>
<path class=c49 d="M9 59h9V100h-9z"/>
<path class=c56 d="M9 60h9V100h-9z"/>
<path class=c34 d="M9 61h9V100h-9z"/>
<path class=c50 d="M9 62h9V100h-9z"/>
<path class=c41 d="M9 63h9V100h-9z"/>
<path class=c38 d="M9 64h9V100h-9z"/>
<path class=c43 d="M9 65h9V100h-9z"/>
<path class=c38 d="M9 66h9V100h-9z"/>
<path class=c44 d="M9 67h9V100h-9z"/>
<path class=c41 d="M9 69h9V100h-9z"/>
<path class=c45 d="M9 70h9V100h-9z"/>
<path class=c38 d="M9 71h9V100h-9z"/>
<path class=c48 d="M9 72h9V100h-9z"/>
<path class=c40 d="M9 73h9V100h-9z"/>
<path class=c43 d="M9 74h9V100h-9z"/>
<path class=c48 d="M9 75h9V100h-9z"/>
<path class=c44 d="M9 76h9V100h-9z"/>
<path class=c43 d="M9 77h9V100h-9z"/>
<path class=c41 d="M9 78h9V100h-9z"/>
<path class=c45 d="M9 79h9V100h-9z"/>
<path class=c37 d="M9 80h9V100h-9z"/>
<path class=c35 d="M9 81h9V100h-9z"/>
<path class=c44 d="M9 82h9V100h-9z"/>
<path class=c38 d="M9 83h9V100h-9z"/>
<path class=c8 d="M9 84h9V100h-9z"/>
<path class=c11 d="M9 85h9V100h-9z"/>
<path class=c7 d="M9 86h9V100h-9z"/>
<path class=c1 d="M9 87h9V100h-9z"/>
<path class=c2 d="M9 88h9V100h-9z"/>
<path class=c1 d="M9 89h9V100h-9z"/>
<path class=c0 d="M9 91h9V100h-9z"/>
<path class=c1 d="M9 92h9V100h-9z"/>
<path class=c0 d="M9 93h9V100h-9z"/>
<path class=c1 d="M9 94h9V100h-9z"/>
<path class=c0 d="M9 98h9V100h-9z"/>
<path class=c1 d="M9 99h9V100h-9z"/>
<path class=c14 d="M18 0h9V100h-9z"/>
<path class=c36 d="M18 1h9V100h-9z"/>
<path class=c23 d="M18 2h9V100h-9z"/>
<path class=c1 d="M18 3h9V100h-9z"/>
<path class=c12 d="M18 4h9V100h-9z"/>
<path class=c6 d="M18 5h9V100h-9z"/>
<path class=c24 d="M18 6h9V100h-9z"/>
<path class=c23 d="M18 7h9V100h-9z"/>
<path class=c33 d="M18 8h9V100h-9z"/>
<path class=c22 d="M18 9h9V100h-9z"/>
<path class=c13 d="M18 10h9V100h-9z"/>
<path class=c32 d="M18 11h9V100h-9z"/>
<path class=c24 d="M18 13h9V100h-9z"/>
<path class=c30 d="M18 14h9V100h-9z"/>
<path class=c17 d="M18 15h9V100h-9z"/>
<path class=c40 d="M18 16h9V100h-9z"/>
<path class=c33 d="M18 17h9V100h-9z"/>
<path class=c22 d="M18 18h9V100h-9z"/>
<path class=c25 d="M18 19h9V100h-9z"/>
<path class=c23 d="M18 20h9V100h-9z"/>
<path class=c21 d="M18 21h9V100h-9z"/>
<path class=c8 d="M18 22h9V100h-9z"/>
<path class=c26 d="M18 23h9V100h-9z"/>
<path class=c27 d="M18 24h9V100h-9z"/>
<path class=c15 d="M18 25h9V100h-9z"/>
<path class=c22 d="M18 26h9V100h-9z"/>
<path class=c28 d="M18 27h9V100h-9z"/>
<path class=c26 d="M18 28h9V100h-9z"/>
<path class=c31 d="M18 29h9V100h-9z"/>
<path class=c26 d="M18 30h9V100h-9z"/>
<path class=c40 d="M18 31h9V100h-9z"/>
<path class=c30 d="M18 32h9V100h-9z"/>
<path class=c37 d="M18 33h9V100h-9z"/>
<path class=c22 d="M18 34h9V100h-9z"/>
<path class=c23 d="M18 35h9V100h-9z"/>
<path class=c9 d="M18 36h9V100h-9z"/>
<path class=c22 d="M18 37h9V100h-9z"/>
<path class=c34 d="M18 38h9V100h-9z"/>
<path class=c25 d="M18 39h9V100h-9z"/>
<path class=c32 d="M18 40h9V100h-9z"/>
<path class=c27 d="M18 41h9V100h-9z"/>
<path class=c44 d="M18 42h9V100h-9z"/>
<path class=c29 d="M18 43h9V100h-9z"/>
<path class=c24 d="M18 44h9V100h-9z"/>
<path class=c38 d="M18 45h9V100h-9z"/>
<path class=c36 d="M18 46h9V100h-9z"/>
<path class=c44 d="M18 47h9V100h-9z"/>
<path class=c50 d="M18 48h9V100h-9z"/>
<path class=c29 d="M18 49h9V100h-9z"/>
<path class=c31 d="M18 50h9V100h-9z"/>
<path class=c32 d="M18 51h9V100h-9z"/>
<path class=c58 d="M18 52h9V100h-9z"/>
<path class=c35 d="M18 54h9V100h-9z"/>
<path class=c19 d="M18 55h9V100h-9z"/>
<path class=c50 d="M18 58h9V100h-9z"/>
<path class=c26 d="M18 59h9V100h-9z"/>
<path class=c40 d="M18 60h9V100h-9z"/>
<path class=c55 d="M18 61h9V100h-9z"/>
<path class=c47 d="M18 62h9V100h-9z"/>
<path class=c46 d="M18 63h9V100h-9z"/>
<path class=c40 d="M18 64h9V100h-9z"/>
<path class=c19 d="M18 65h9V100h-9z"/>
<path class=c35 d="M18 67h9V100h-9z"/>
<path class=c20 d="M18 68h9V100h-9z"/>
<path class=c28 d="M18 69h9V100h-9z"/>
<path class=c42 d="M18 70h9V100h-9z"/>
<path class=c34 d="M18 71h9V100h-9z"/>
<path class=c42 d="M18 72h9V100h-9z"/>
<path class=c44 d="M18 73h9V100h-9z"/>
<path class=c46 d="M18 74h9V100h-9z"/>
<path class=c33 d="M18 75h9V100h-9z"/>
<path class=c50 d="M18 76h9V100h-9z"/>
<path class=c38 d="M18 77h9V100h-9z"/>
<path class=c42 d="M18 78h9V100h-9z"/>
<path class=c28 d="M18 79h9V100h-9z"/>
<path class=c27 d="M18 80h9V100h-9z"/>
<path class=c44 d="M18 81h9V100h-9z"/>
<path class=c43 d="M18 83h9V100h-9z"/>
<path class=c10 d="M18 84h9V100h-9z"/>
<path class=c9 d="M18 85h9V100h-9z"/>
<path class=c3 d="M18 86h9V100h-9z"/>
<path class=c0 d="M18 87h9V100h-9z"/>
<path class=c1 d="M18 88h9V100h-9z"/>
<path class=c0 d="M18 91h9V100h-9z"/>
<path class=c2 d="M18 92h9V100h-9z"/>
<path class=c1 d="M18 93h9V100h-9z"/>
<path class=c0 d="M18 96h9V100h-9z"/>
<path class=c1 d="M18 97h9V100h-9z"/>
<path class=c2 d="M18 99h9V100h-9z"/>
<path class=c25 d="M27 0h9V100h-9z"/>
<path class=c12 d="M27 1h9V100h-9z"/>
<path class=c22 d="M27 2h9V100h-9z"/>
<path class=c15 d="M27 3h9V100h-9z"/>
<path class=c10 d="M27 4h9V100h-9z"/>
<path class=c32 d="M27 5h9V100h-9z"/>
<path class=c26 d="M27 6h9V100h-9z"/>
<path class=c19 d="M27 7h9V100h-9z"/>
<path class=c21 d="M27 8h9V100h-9z"/>
<path class=c12 d="M27 9h9V100h-9z"/>
<path class=c18 d="M27 10h9V100h-9z"/>
<path class=c14 d="M27 11h9V100h-9z"/>
<path class=c11 d="M27 12h9V100h-9z"/>
<path class=c15 d="M27 13h9V100h-9z"/>
<path class=c22 d="M27 14h9V100h-9z"/>
<path class=c12 d="M27 15h9V100h-9z"/>
<path class=c28 d="M27 16h9V100h-9z"/>
<path class=c7 d="M27 17h9V100h-9z"/>
<path class=c24 d="M27 18h9V100h-9z"/>
<path class=c39 d="M27 19h9V100h-9z"/>
<path class=c8 d="M27 20h9V100h-9z"/>
<path class=c29 d="M27 21h9V100h-9z"/>
<path class=c18 d="M27 22h9V100h-9z"/>
<path class=c28 d="M27 23h9V100h-9z"/>
<path class=c21 d="M27 24h9V100h-9z"/>
<path class=c16 d="M27 25h9V100h-9z"/>
<path class=c36 d="M27 26h9V100h-9z"/>
<path class=c29 d="M27 27h9V100h-9z"/>
<path class=c7 d="M27 28h9V100h-9z"/>
<path class=c10 d="M27 29h9V100h-9z"/>
<path class=c37 d="M27 30h9V100h-9z"/>
<path class=c21 d="M27 31h9V100h-9z"/>
<path class=c30 d="M27 32h9V100h-9z"/>
<path class=c27 d="M27 33h9V100h-9z"/>
<path class=c18 d="M27 34h9V100h-9z"/>
<path class=c27 d="M27 35h9V100h-9z"/>
<path class=c35 d="M27 36h9V100h-9z"/>
<path class=c27 d="M27 37h9V100h-9z"/>
<path class=c36 d="M27 38h9V100h-9z"/>
<path class=c41 d="M27 39h9V100h-9z"/>
<path class=c33 d="M27 42h9V100h-9z"/>
<path class=c45 d="M27 43h9V100h-9z"/>
<path class=c36 d="M27 44h9V100h-9z"/>
<path class=c34 d="M27 45h9V100h-9z"/>
<path class=c41 d="M27 46h9V100h-9z"/>
<path class=c40 d="M27 47h9V100h-9z"/>
<path class=c44 d="M27 48h9V100h-9z"/>
<path class=c41 d="M27 49h9V100h-9z"/>
<path class=c19 d="M27 50h9V100h-9z"/>
<path class=c29 d="M27 52h9V100h-9z"/>
<path class=c47 d="M27 53h9V100h-9z"/>
<path class=c30 d="M27 54h9V100h-9z"/>
<path class=c54 d="M27 55h9V100h-9z"/>
<path class=c50 d="M27 58h9V100h-9z"/>
<path class=c51 d="M27 59h9V100h-9z"/>
<path class=c39 d="M27 60h9V100h-9z"/>
<path class=c38 d="M27 61h9V100h-9z"/>
<path class=c33 d="M27 62h9V100h-9z"/>
<path class=c23 d="M27 63h9V100h-9z"/>
<path class=c41 d="M27 64h9V100h-9z"/>
<path class=c22 d="M27 65h9V100h-9z"/>
<path class=c17 d="M27 66h9V100h-9z"/>
<path class=c43 d="M27 67h9V100h-9z"/>
<path class=c31 d="M27 68h9V100h-9z"/>
<path class=c27 d="M27 69h9V100h-9z"/>
<path class=c47 d="M27 70h9V100h-9z"/>
<path class=c16 d="M27 71h9V100h-9z"/>
<path class=c31 d="M27 72h9V100h-9z"/>
<path class=c47 d="M27 73h9V100h-9z"/>
<path class=c41 d="M27 74h9V100h-9z"/>
<path class=c44 d="M27 75h9V100h-9z"/>
<path class=c38 d="M27 77h9V100h-9z"/>
<path class=c44 d="M27 78h9V100h-9z"/>
<path class=c29 d="M27 79h9V100h-9z"/>
<path class=c32 d="M27 80h9V100h-9z"/>
<path class=c49 d="M27 81h9V100h-9z"/>
<path class=c43 d="M27 82h9V100h-9z"/>
<path class=c47 d="M27 83h9V100h-9z"/>
<path class=c7 d="M27 84h9V100h-9z"/>
<path class=c10 d="M27 85h9V100h-9z"/>
<path class=c7 d="M27 86h9V100h-9z"/>
<path class=c1 d="M27 87h9V100h-9z"/>
<path class=c2 d="M27 90h9V100h-9z"/>
<path class=c1 d="M27 91h9V100h-9z"/>
<path class=c0 d="M27 96h9V100h-9z"/>
<path class=c2 d="M27 97h9V100h-9z"/>
<path class=c1 d="M27 98h9V100h-9z"/>
<path class=c2 d="M27 99h9V100h-9z"/>
<path class=c16 d="M36 0h9V100h-9z"/>
<path class=c19 d="M36 1h9V100h-9z"/>
<path class=c10 d="M36 2h9V100h-9z"/>
<path class=c24 d="M36 3h9V100h-9z"/>
<path class=c11 d="M36 4h9V100h-9z"/>
<path class=c19 d="M36 6h9V100h-9z"/>
<path class=c12 d="M36 7h9V100h-9z"/>
<path class=c10 d="M36 8h9V100h-9z"/>
<path class=c21 d="M36 9h9V100h-9z"/>
<path class=c27 d="M36 10h9V100h-9z"/>
<path class=c21 d="M36 11h9V100h-9z"/>
<path class=c31 d="M36 13h9V100h-9z"/>
<path class=c10 d="M36 14h9V100h-9z"/>
<path class=c17 d="M36 15h9V100h-9z"/>
<path class=c24 d="M36 16h9V100h-9z"/>
<path class=c22 d="M36 17h9V100h-9z"/>
<path class=c6 d="M36 18h9V100h-9z"/>
<path class=c26 d="M36 19h9V100h-9z"/>
<path class=c17 d="M36 20h9V100h-9z"/>
<path class=c32 d="M36 21h9V100h-9z"/>
<path class=c14 d="M36 22h9V100h-9z"/>
<path class=c16 d="M36 23h9V100h-9z"/>
<path class=c21 d="M36 24h9V100h-9z"/>
<path class=c27 d="M36 25h9V100h-9z"/>
<path class=c23 d="M36 26h9V100h-9z"/>
<path class=c34 d="M36 27h9V100h-9z"/>
<path class=c8 d="M36 28h9V100h-9z"/>
<path class=c27 d="M36 29h9V100h-9z"/>
<path class=c24 d="M36 30h9V100h-9z"/>
<path class=c16 d="M36 31h9V100h-9z"/>
<path class=c24 d="M36 32h9V100h-9z"/>
<path class=c39 d="M36 33h9V100h-9z"/>
<path class=c16 d="M36 35h9V100h-9z"/>
<path class=c18 d="M36 36h9V100h-9z"/>
<path class=c39 d="M36 37h9V100h-9z"/>
<path class=c38 d="M36 38h9V100h-9z"/>
<path class=c44 d="M36 39h9V100h-9z"/>
<path class=c29 d="M36 40h9V100h-9z"/>
<path class=c37 d="M36 41h9V100h-9z"/>
<path class=c30 d="M36 42h9V100h-9z"/>
<path class=c44 d="M36 43h9V100h-9z"/>
<path class=c40 d="M36 44h9V100h-9z"/>
<path class=c32 d="M36 45h9V100h-9z"/>
<path class=c20 d="M36 46h9V100h-9z"/>
<path class=c27 d="M36 47h9V100h-9z"/>
<path class=c41 d="M36 48h9V100h-9z"/>
<path class=c25 d="M36 49h9V100h-9z"/>
<path class=c47 d="M36 50h9V100h-9z"/>
<path class=c33 d="M36 51h9V100h-9z"/>
<path class=c37 d="M36 52h9V100h-9z"/>
<path class=c47 d="M36 53h9V100h-9z"/>
<path class=c33 d="M36 54h9V100h-9z"/>
<path class=c28 d="M36 55h9V100h-9z"/>
<path class=c29 d="M36 56h9V100h-9z"/>
<path class=c47 d="M36 57h9V100h-9z"/>
<path class=c36 d="M36 58h9V100h-9z"/>
<path class=c22 d="M36 59h9V100h-9z"/>
<path class=c41 d="M36 60h9V100h-9z"/>
<path class=c38 d="M36 61h9V100h-9z"/>
<path class=c30 d="M36 64h9V100h-9z"/>
<path class=c40 d="M36 65h9V100h-9z"/>
<path class=c30 d="M36 66h9V100h-9z"/>
<path class=c44 d="M36 67h9V100h-9z"/>
<path class=c41 d="M36 68h9V100h-9z"/>
<path class=c48 d="M36 69h9V100h-9z"/>
<path class=c42 d="M36 70h9V100h-9z"/>
<path class=c26 d="M36 71h9V100h-9z"/>
<path class=c30 d="M36 72h9V100h-9z"/>
<path class=c29 d="M36 73h9V100h-9z"/>
<path class=c36 d="M36 74h9V100h-9z"/>
<path class=c29 d="M36 75h9V100h-9z"/>
<path class=c48 d="M36 76h9V100h-9z"/>
<path class=c42 d="M36 77h9V100h-9z"/>
<path class=c44 d="M36 78h9V100h-9z"/>
<path class=c42 d="M36 79h9V100h-9z"/>
<path class=c44 d="M36 80h9V100h-9z"/>
<path class=c28 d="M36 81h9V100h-9z"/>
<path class=c43 d="M36 82h9V100h-9z"/>
<path class=c39 d="M36 83h9V100h-9z"/>
<path class=c6 d="M36 84h9V100h-9z"/>
<path class=c7 d="M36 85h9V100h-9z"/>
<path class=c8 d="M36 86h9V100h-9z"/>
<path class=c2 d="M36 87h9V100h-9z"/>
<path class=c1 d="M36 88h9V100h-9z"/>
<path class=c0 d="M36 89h9V100h-9z"/>
<path class=c2 d="M36 92h9V100h-9z"/>
<path class=c0 d="M36 94h9V100h-9z"/>
<path class=c1 d="M36 95h9V100h-9z"/>
<path class=c0 d="M36 97h9V100h-9z"/>
<path class=c1 d="M36 98h9V100h-9z"/>
<path class=c2 d="M36 99h9V100h-9z"/>
<path class=c19 d="M45 0h9V100h-9z"/>
<path class=c13 d="M45 1h9V100h-9z"/>
<path class=c14 d="M45 2h9V100h-9z"/>
<path class=c22 d="M45 3h9V100h-9z"/>
<path class=c41 d="M45 4h9V100h-9z"/>
<path class=c0 d="M45 6h9V100h-9z"/>
<path class=c25 d="M45 7h9V100h-9z"/>
<path class=c34 d="M45 8h9V100h-9z"/>
<path class=c28 d="M45 9h9V100h-9z"/>
<path class=c3 d="M45 10h9V100h-9z"/>
<path class=c4 d="M45 11h9V100h-9z"/>
<path class=c19 d="M45 12h9V100h-9z"/>
<path class=c21 d="M45 13h9V100h-9z"/>
<path class=c18 d="M45 14h9V100h-9z"/>
<path class=c31 d="M45 15h9V100h-9z"/>
<path class=c19 d="M45 16h9V100h-9z"/>
<path class=c26 d="M45 17h9V100h-9z"/>
<path class=c29 d="M45 18h9V100h-9z"/>
<path class=c22 d="M45 19h9V100h-9z"/>
<path class=c23 d="M45 20h9V100h-9z"/>
<path class=c26 d="M45 21h9V100h-9z"/>
<path class=c31 d="M45 22h9V100h-9z"/>
<path class=c32 d="M45 23h9V100h-9z"/>
<path class=c23 d="M45 24h9V100h-9z"/>
<path class=c26 d="M45 25h9V100h-9z"/>
<path class=c24 d="M45 26h9V100h-9z"/>
<path class=c13 d="M45 27h9V100h-9z"/>
<path class=c29 d="M45 28h9V100h-9z"/>
<path class=c38 d="M45 29h9V100h-9z"/>
<path class=c34 d="M45 30h9V100h-9z"/>
<path class=c40 d="M45 31h9V100h-9z"/>
<path class=c20 d="M45 32h9V100h-9z"/>
<path class=c49 d="M45 33h9V100h-9z"/>
<path class=c19 d="M45 34h9V100h-9z"/>
<path class=c30 d="M45 35h9V100h-9z"/>
<path class=c43 d="M45 36h9V100h-9z"/>
<path class=c21 d="M45 37h9V100h-9z"/>
<path class=c34 d="M45 38h9V100h-9z"/>
<path class=c44 d="M45 39h9V100h-9z"/>
<path class=c31 d="M45 40h9V100h-9z"/>
<path class=c54 d="M45 41h9V100h-9z"/>
<path class=c23 d="M45 44h9V100h-9z"/>
<path class=c26 d="M45 45h9V100h-9z"/>
<path class=c24 d="M45 46h9V100h-9z"/>
<path class=c38 d="M45 47h9V100h-9z"/>
<path class=c37 d="M45 48h9V100h-9z"/>
<path class=c41 d="M45 49h9V100h-9z"/>
<path class=c52 d="M45 50h9V100h-9z"/>
<path class=c45 d="M45 51h9V100h-9z"/>
<path class=c47 d="M45 52h9V100h-9z"/>
<path class=c53 d="M45 53h9V100h-9z"/>
<path class=c44 d="M45 54h9V100h-9z"/>
<path class=c51 d="M45 55h9V100h-9z"/>
<path class=c45 d="M45 56h9V100h-9z"/>
<path class=c36 d="M45 57h9V100h-9z"/>
<path class=c40 d="M45 58h9V100h-9z"/>
<path class=c45 d="M45 59h9V100h-9z"/>
<path class=c54 d="M45 60h9V100h-9z"/>
<path class=c35 d="M45 61h9V100h-9z"/>
<path class=c49 d="M45 62h9V100h-9z"/>
<path class=c32 d="M45 63h9V100h-9z"/>
<path class=c42 d="M45 64h9V100h-9z"/>
<path class=c31 d="M45 66h9V100h-9z"/>
<path class=c50 d="M45 67h9V100h-9z"/>
<path class=c36 d="M45 68h9V100h-9z"/>
<path class=c40 d="M45 69h9V100h-9z"/>
<path class=c39 d="M45 70h9V100h-9z"/>
<path class=c48 d="M45 71h9V100h-9z"/>
<path class=c32 d="M45 72h9V100h-9z"/>
<path class=c29 d="M45 73h9V100h-9z"/>
<path class=c25 d="M45 74h9V100h-9z"/>
<path class=c43 d="M45 75h9V100h-9z"/>
<path class=c50 d="M45 76h9V100h-9z"/>
<path class=c40 d="M45 77h9V100h-9z"/>
<path class=c32 d="M45 78h9V100h-9z"/>
<path class=c42 d="M45 79h9V100h-9z"/>
<path class=c51 d="M45 80h9V100h-9z"/>
<path class=c36 d="M45 81h9V100h-9z"/>
<path class=c21 d="M45 82h9V100h-9z"/>
<path class=c25 d="M45 83h9V100h-9z"/>
<path class=c8 d="M45 84h9V100h-9z"/>
<path class=c11 d="M45 86h9V100h-9z"/>
<path class=c1 d="M45 87h9V100h-9z"/>
<path class=c2 d="M45 88h9V100h-9z"/>
<path class=c0 d="M45 91h9V100h-9z"/>
<path class=c2 d="M45 92h9V100h-9z"/>
<path class=c0 d="M45 93h9V100h-9z"/>
<path class=c2 d="M45 94h9V100h-9z"/>
<path class=c0 d="M45 96h9V100h-9z"/>
<path class=c1 d="M45 98h9V100h-9z"/>
<path class=c28 d="M54 0h9V100h-9z"/>
<path class=c21 d="M54 1h9V100h-9z"/>
<path class=c8 d="M54 2h9V100h-9z"/>
<path class=c17 d="M54 3h9V100h-9z"/>
<path class=c13 d="M54 4h9V100h-9z"/>
<path class=c24 d="M54 5h9V100h-9z"/>
<path class=c26 d="M54 6h9V100h-9z"/>
<path class=c17 d="M54 7h9V100h-9z"/>
<path class=c3 d="M54 8h9V100h-9z"/>
<path class=c22 d="M54 9h9V100h-9z"/>
<path class=c21 d="M54 10h9V100h-9z"/>
<path class=c26 d="M54 11h9V100h-9z"/>
<path class=c16 d="M54 12h9V100h-9z"/>
<path class=c29 d="M54 13h9V100h-9z"/>
<path class=c11 d="M54 14h9V100h-9z"/>
<path class=c29 d="M54 15h9V100h-9z"/>
<path class=c19 d="M54 16h9V100h-9z"/>
<path class=c20 d="M54 17h9V100h-9z"/>
<path class=c35 d="M54 18h9V100h-9z"/>
<path class=c34 d="M54 19h9V100h-9z"/>
<path class=c23 d="M54 20h9V100h-9z"/>
<path class=c22 d="M54 21h9V100h-9z"/>
<path class=c30 d="M54 22h9V100h-9z"/>
<path class=c24 d="M54 23h9V100h-9z"/>
<path class=c25 d="M54 24h9V100h-9z"/>
<path class=c35 d="M54 25h9V100h-9z"/>
<path class=c27 d="M54 26h9V100h-9z"/>
<path class=c38 d="M54 27h9V100h-9z"/>
<path class=c21 d="M54 28h9V100h-9z"/>
<path class=c20 d="M54 29h9V100h-9z"/>
<path class=c41 d="M54 30h9V100h-9z"/>
<path class=c22 d="M54 31h9V100h-9z"/>
<path class=c39 d="M54 32h9V100h-9z"/>
<path class=c31 d="M54 33h9V100h-9z"/>
<path class=c41 d="M54 34h9V100h-9z"/>
<path class=c44 d="M54 35h9V100h-9z"/>
<path class=c33 d="M54 36h9V100h-9z"/>
<path class=c37 d="M54 37h9V100h-9z"/>
<path class=c41 d="M54 38h9V100h-9z"/>
<path class=c49 d="M54 40h9V100h-9z"/>
<path class=c23 d="M54 41h9V100h-9z"/>
<path class=c46 d="M54 42h9V100h-9z"/>
<path class=c37 d="M54 43h9V100h-9z"/>
<path class=c43 d="M54 44h9V100h-9z"/>
<path class=c32 d="M54 45h9V100h-9z"/>
<path class=c37 d="M54 46h9V100h-9z"/>
<path class=c35 d="M54 47h9V100h-9z"/>
<path class=c29 d="M54 48h9V100h-9z"/>
<path class=c22 d="M54 49h9V100h-9z"/>
<path class=c35 d="M54 50h9V100h-9z"/>
<path class=c39 d="M54 51h9V100h-9z"/>
<path class=c54 d="M54 52h9V100h-9z"/>
<path class=c30 d="M54 54h9V100h-9z"/>
<path class=c38 d="M54 55h9V100h-9z"/>
<path class=c40 d="M54 56h9V100h-9z"/>
<path class=c46 d="M54 57h9V100h-9z"/>
<path class=c49 d="M54 58h9V100h-9z"/>
<path class=c51 d="M54 59h9V100h-9z"/>
<path class=c50 d="M54 60h9V100h-9z"/>
<path class=c44 d="M54 61h9V100h-9z"/>
<path class=c33 d="M54 62h9V100h-9z"/>
<path class=c28 d="M54 63h9V100h-9z"/>
<path class=c27 d="M54 64h9V100h-9z"/>
<path class=c48 d="M54 65h9V100h-9z"/>
<path class=c47 d="M54 66h9V100h-9z"/>
<path class=c48 d="M54 69h9V100h-9z"/>
<path class=c43 d="M54 70h9V100h-9z"/>
<path class=c45 d="M54 71h9V100h-9z"/>
<path class=c44 d="M54 72h9V100h-9z"/>
<path class=c23 d="M54 73h9V100h-9z"/>
<path class=c36 d="M54 74h9V100h-9z"/>
<path class=c37 d="M54 75h9V100h-9z"/>
<path class=c52 d="M54 76h9V100h-9z"/>
<path class=c41 d="M54 78h9V100h-9z"/>
<path class=c39 d="M54 79h9V100h-9z"/>
<path class=c42 d="M54 80h9V100h-9z"/>
<path class=c41 d="M54 81h9V100h-9z"/>
<path class=c34 d="M54 82h9V100h-9z"/>
<path class=c44 d="M54 83h9V100h-9z"/>
<path class=c19 d="M54 84h9V100h-9z"/>
<path class=c15 d="M54 87h9V100h-9z"/>
<path class=c14 d="M54 89h9V100h-9z"/>
<path class=c17 d="M54 90h9V100h-9z"/>
<path class=c18 d="M54 91h9V100h-9z"/>
<path class=c11 d="M54 92h9V100h-9z"/>
<path class=c18 d="M54 94h9V100h-9z"/>
<path class=c12 d="M54 95h9V100h-9z"/>
<path class=c9 d="M54 97h9V100h-9z"/>
<path class=c12 d="M54 98h9V100h-9z"/>
<path class=c10 d="M54 99h9V100h-9z"/>
<path class=c26 d="M63 0h9V100h-9z"/>
<path class=c18 d="M63 1h9V100h-9z"/>
<path class=c14 d="M63 2h9V100h-9z"/>
<path class=c23 d="M63 3h9V100h-9z"/>
<path class=c1 d="M63 4h9V100h-9z"/>
<path class=c2 d="M63 5h9V100h-9z"/>
<path class=c17 d="M63 6h9V100h-9z"/>
<path class=c26 d="M63 7h9V100h-9z"/>
<path class=c23 d="M63 8h9V100h-9z"/>
<path class=c14 d="M63 9h9V100h-9z"/>
<path class=c22 d="M63 10h9V100h-9z"/>
<path class=c35 d="M63 11h9V100h-9z"/>
<path class=c29 d="M63 12h9V100h-9z"/>
<path class=c23 d="M63 13h9V100h-9z"/>
<path class=c25 d="M63 14h9V100h-9z"/>
<path class=c13 d="M63 16h9V100h-9z"/>
<path class=c28 d="M63 17h9V100h-9z"/>
<path class=c35 d="M63 18h9V100h-9z"/>
<path class=c32 d="M63 19h9V100h-9z"/>
<path class=c16 d="M63 20h9V100h-9z"/>
<path class=c34 d="M63 21h9V100h-9z"/>
<path class=c11 d="M63 22h9V100h-9z"/>
<path class=c19 d="M63 23h9V100h-9z"/>
<path class=c11 d="M63 24h9V100h-9z"/>
<path class=c9 d="M63 25h9V100h-9z"/>
<path class=c27 d="M63 26h9V100h-9z"/>
<path class=c17 d="M63 27h9V100h-9z"/>
<path class=c28 d="M63 28h9V100h-9z"/>
<path class=c16 d="M63 29h9V100h-9z"/>
<path class=c32 d="M63 30h9V100h-9z"/>
<path class=c34 d="M63 31h9V100h-9z"/>
<path class=c31 d="M63 32h9V100h-9z"/>
<path class=c23 d="M63 33h9V100h-9z"/>
<path class=c35 d="M63 34h9V100h-9z"/>
<path class=c29 d="M63 35h9V100h-9z"/>
<path class=c25 d="M63 36h9V100h-9z"/>
<path class=c26 d="M63 37h9V100h-9z"/>
<path class=c18 d="M63 38h9V100h-9z"/>
<path class=c37 d="M63 39h9V100h-9z"/>
<path class=c26 d="M63 40h9V100h-9z"/>
<path class=c47 d="M63 41h9V100h-9z"/>
<path class=c36 d="M63 42h9V100h-9z"/>
<path class=c40 d="M63 43h9V100h-9z"/>
<path class=c46 d="M63 44h9V100h-9z"/>
<path class=c43 d="M63 45h9V100h-9z"/>
<path class=c26 d="M63 46h9V100h-9z"/>
<path class=c41 d="M63 47h9V100h-9z"/>
<path class=c37 d="M63 48h9V100h-9z"/>
<path class=c29 d="M63 49h9V100h-9z"/>
<path class=c34 d="M63 50h9V100h-9z"/>
<path class=c37 d="M63 51h9V100h-9z"/>
<path class=c38 d="M63 52h9V100h-9z"/>
<path class=c39 d="M63 53h9V100h-9z"/>
<path class=c44 d="M63 55h9V100h-9z"/>
<path class=c37 d="M63 56h9V100h-9z"/>
<path class=c46 d="M63 57h9V100h-9z"/>
<path class=c51 d="M63 58h9V100h-9z"/>
<path class=c47 d="M63 59h9V100h-9z"/>
<path class=c56 d="M63 60h9V100h-9z"/>
<path class=c38 d="M63 61h9V100h-9z"/>
<path class=c19 d="M63 62h9V100h-9z"/>
<path class=c46 d="M63 64h9V100h-9z"/>
<path class=c52 d="M63 65h9V100h-9z"/>
<path class=c29 d="M63 67h9V100h-9z"/>
<path class=c40 d="M63 68h9V100h-9z"/>
<path class=c33 d="M63 69h9V100h-9z"/>
<path class=c45 d="M63 70h9V100h-9z"/>
<path class=c29 d="M63 71h9V100h-9z"/>
<path class=c44 d="M63 72h9V100h-9z"/>
<path class=c41 d="M63 73h9V100h-9z"/>
<path class=c37 d="M63 74h9V100h-9z"/>
<path class=c42 d="M63 75h9V100h-9z"/>
<path class=c35 d="M63 76h9V100h-9z"/>
<path class=c40 d="M63 77h9V100h-9z"/>
<path class=c43 d="M63 78h9V100h-9z"/>
<path class=c32 d="M63 79h9V100h-9z"/>
<path class=c50 d="M63 80h9V100h-9z"/>
<path class=c41 d="M63 82h9V100h-9z"/>
<path class=c35 d="M63 83h9V100h-9z"/>
<path class=c19 d="M63 84h9V100h-9z"/>
<path class=c14 d="M63 87h9V100h-9z"/>
<path class=c18 d="M63 88h9V100h-9z"/>
<path class=c15 d="M63 90h9V100h-9z"/>
<path class=c12 d="M63 91h9V100h-9z"/>
<path class=c13 d="M63 92h9V100h-9z"/>
<path class=c17 d="M63 93h9V100h-9z"/>
<path class=c14 d="M63 94h9V100h-9z"/>
<path class=c12 d="M63 95h9V100h-9z"/>
<path class=c9 d="M63 96h9V100h-9z"/>
<path class=c14 d="M63 97h9V100h-9z"/>
<path class=c11 d="M63 98h9V100h-9z"/>
<path class=c14 d="M63 99h9V100h-9z"/>
<path class=c14 d="M72 0h8V100h-8z"/>
<path class=c10 d="M72 1h8V100h-8z"/>
<path class=c8 d="M72 2h8V100h-8z"/>
<path class=c16 d="M72 3h8V100h-8z"/>
<path class=c0 d="M72 4h8V100h-8z"/>
<path class=c14 d="M72 5h8V100h-8z"/>
<path class=c23 d="M72 6h8V100h-8z"/>
<path class=c25 d="M72 7h8V100h-8z"/>
<path class=c18 d="M72 8h8V100h-8z"/>
<path class=c14 d="M72 9h8V100h-8z"/>
<path class=c20 d="M72 10h8V100h-8z"/>
<path class=c28 d="M72 11h8V100h-8z"/>
<path class=c8 d="M72 12h8V100h-8z"/>
<path class=c27 d="M72 13h8V100h-8z"/>
<path class=c34 d="M72 14h8V100h-8z"/>
<path class=c29 d="M72 15h8V100h-8z"/>
<path class=c33 d="M72 16h8V100h-8z"/>
<path class=c20 d="M72 17h8V100h-8z"/>
<path class=c36 d="M72 18h8V100h-8z"/>
<path class=c25 d="M72 19h8V100h-8z"/>
<path class=c24 d="M72 20h8V100h-8z"/>
<path class=c20 d="M72 21h8V100h-8z"/>
<path class=c18 d="M72 22h8V100h-8z"/>
<path class=c37 d="M72 23h8V100h-8z"/>
<path class=c31 d="M72 24h8V100h-8z"/>
<path class=c29 d="M72 25h8V100h-8z"/>
<path class=c37 d="M72 26h8V100h-8z"/>
<path class=c34 d="M72 27h8V100h-8z"/>
<path class=c28 d="M72 28h8V100h-8z"/>
<path class=c31 d="M72 29h8V100h-8z"/>
<path class=c32 d="M72 30h8V100h-8z"/>
<path class=c35 d="M72 31h8V100h-8z"/>
<path class=c31 d="M72 32h8V100h-8z"/>
<path class=c23 d="M72 33h8V100h-8z"/>
<path class=c29 d="M72 34h8V100h-8z"/>
<path class=c15 d="M72 35h8V100h-8z"/>
<path class=c49 d="M72 36h8V100h-8z"/>
<path class=c35 d="M72 38h8V100h-8z"/>
<path class=c19 d="M72 39h8V100h-8z"/>
<path class=c40 d="M72 40h8V100h-8z"/>
<path class=c41 d="M72 41h8V100h-8z"/>
<path class=c27 d="M72 42h8V100h-8z"/>
<path class=c47 d="M72 43h8V100h-8z"/>
<path class=c27 d="M72 44h8V100h-8z"/>
<path class=c39 d="M72 45h8V100h-8z"/>
<path class=c43 d="M72 46h8V100h-8z"/>
<path class=c26 d="M72 47h8V100h-8z"/>
<path class=c38 d="M72 48h8V100h-8z"/>
<path class=c39 d="M72 49h8V100h-8z"/>
<path class=c28 d="M72 50h8V100h-8z"/>
<path class=c43 d="M72 51h8V100h-8z"/>
<path class=c44 d="M72 52h8V100h-8z"/>
<path class=c42 d="M72 53h8V100h-8z"/>
<path class=c43 d="M72 54h8V100h-8z"/>
<path class=c54 d="M72 55h8V100h-8z"/>
<path class=c50 d="M72 58h8V100h-8z"/>
<path class=c57 d="M72 59h8V100h-8z"/>
<path class=c48 d="M72 60h8V100h-8z"/>
<path class=c44 d="M72 61h8V100h-8z"/>
<path class=c43 d="M72 64h8V100h-8z"/>
<path class=c44 d="M72 65h8V100h-8z"/>
<path class=c45 d="M72 66h8V100h-8z"/>
<path class=c31 d="M72 67h8V100h-8z"/>
<path class=c23 d="M72 68h8V100h-8z"/>
<path class=c13 d="M72 69h8V100h-8z"/>
<path class=c52 d="M72 70h8V100h-8z"/>
<path class=c38 d="M72 71h8V100h-8z"/>
<path class=c23 d="M72 72h8V100h-8z"/>
<path class=c33 d="M72 73h8V100h-8z"/>
<path class=c25 d="M72 74h8V100h-8z"/>
<path class=c28 d="M72 75h8V100h-8z"/>
<path class=c29 d="M72 76h8V100h-8z"/>
<path class=c32 d="M72 77h8V100h-8z"/>
<path class=c40 d="M72 78h8V100h-8z"/>
<path class=c31 d="M72 79h8V100h-8z"/>
<path class=c30 d="M72 80h8V100h-8z"/>
<path class=c47 d="M72 81h8V100h-8z"/>
<path class=c42 d="M72 82h8V100h-8z"/>
<path class=c30 d="M72 83h8V100h-8z"/>
<path class=c8 d="M72 84h8V100h-8z"/>
<path class=c6 d="M72 85h8V100h-8z"/>
<path class=c11 d="M72 86h8V100h-8z"/>
<path class=c2 d="M72 87h8V100h-8z"/>
<path class=c1 d="M72 88h8V100h-8z"/>
<path class=c2 d="M72 95h8V100h-8z"/>
<path class=c1 d="M72 96h8V100h-8z"/>
<path class=c0 d="M72 99h8V100h-8z"/>
<path class=c23 d="M80 0h9V100h-9z"/>
<path class=c14 d="M80 1h9V100h-9z"/>
<path class=c13 d="M80 2h9V100h-9z"/>
<path class=c16 d="M80 3h9V100h-9z"/>
<path class=c24 d="M80 4h9V100h-9z"/>
<path class=c28 d="M80 5h9V100h-9z"/>
<path class=c21 d="M80 6h9V100h-9z"/>
<path class=c31 d="M80 7h9V100h-9z"/>
<path class=c21 d="M80 8h9V100h-9z"/>
<path class=c14 d="M80 9h9V100h-9z"/>
<path class=c8 d="M80 10h9V100h-9z"/>
<path class=c3 d="M80 11h9V100h-9z"/>
<path class=c16 d="M80 12h9V100h-9z"/>
<path class=c25 d="M80 13h9V100h-9z"/>
<path class=c19 d="M80 14h9V100h-9z"/>
<path class=c22 d="M80 15h9V100h-9z"/>
<path class=c32 d="M80 16h9V100h-9z"/>
<path class=c26 d="M80 17h9V100h-9z"/>
<path class=c5 d="M80 18h9V100h-9z"/>
<path class=c25 d="M80 19h9V100h-9z"/>
<path class=c29 d="M80 20h9V100h-9z"/>
<path class=c18 d="M80 21h9V100h-9z"/>
<path class=c24 d="M80 22h9V100h-9z"/>
<path class=c30 d="M80 23h9V100h-9z"/>
<path class=c25 d="M80 24h9V100h-9z"/>
<path class=c20 d="M80 25h9V100h-9z"/>
<path class=c38 d="M80 26h9V100h-9z"/>
<path class=c19 d="M80 27h9V100h-9z"/>
<path class=c26 d="M80 28h9V100h-9z"/>
<path class=c29 d="M80 29h9V100h-9z"/>
<path class=c8 d="M80 30h9V100h-9z"/>
<path class=c19 d="M80 31h9V100h-9z"/>
<path class=c7 d="M80 32h9V100h-9z"/>
<path class=c26 d="M80 33h9V100h-9z"/>
<path class=c28 d="M80 34h9V100h-9z"/>
<path class=c26 d="M80 35h9V100h-9z"/>
<path class=c29 d="M80 36h9V100h-9z"/>
<path class=c36 d="M80 37h9V100h-9z"/>
<path class=c33 d="M80 38h9V100h-9z"/>
<path class=c37 d="M80 39h9V100h-9z"/>
<path class=c45 d="M80 40h9V100h-9z"/>
<path class=c33 d="M80 41h9V100h-9z"/>
<path class=c45 d="M80 42h9V100h-9z"/>
<path class=c32 d="M80 43h9V100h-9z"/>
<path class=c33 d="M80 45h9V100h-9z"/>
<path class=c44 d="M80 46h9V100h-9z"/>
<path class=c36 d="M80 47h9V100h-9z"/>
<path class=c43 d="M80 48h9V100h-9z"/>
<path class=c39 d="M80 49h9V100h-9z"/>
<path class=c48 d="M80 50h9V100h-9z"/>
<path class=c39 d="M80 51h9V100h-9z"/>
<path class=c38 d="M80 52h9V100h-9z"/>
<path class=c50 d="M80 53h9V100h-9z"/>
<path class=c34 d="M80 54h9V100h-9z"/>
<path class=c28 d="M80 55h9V100h-9z"/>
<path class=c44 d="M80 56h9V100h-9z"/>
<path class=c50 d="M80 57h9V100h-9z"/>
<path class=c38 d="M80 58h9V100h-9z"/>
<path class=c49 d="M80 59h9V100h-9z"/>
<path class=c30 d="M80 60h9V100h-9z"/>
<path class=c37 d="M80 61h9V100h-9z"/>
<path class=c25 d="M80 62h9V100h-9z"/>
<path class=c42 d="M80 63h9V100h-9z"/>
<path class=c41 d="M80 64h9V100h-9z"/>
<path class=c34 d="M80 65h9V100h-9z"/>
<path class=c32 d="M80 66h9V100h-9z"/>
<path class=c43 d="M80 67h9V100h-9z"/>
<path class=c19 d="M80 68h9V100h-9z"/>
<path class=c31 d="M80 69h9V100h-9z"/>
<path class=c36 d="M80 70h9V100h-9z"/>
<path class=c30 d="M80 71h9V100h-9z"/>
<path class=c45 d="M80 72h9V100h-9z"/>
<path class=c52 d="M80 73h9V100h-9z"/>
<path class=c46 d="M80 74h9V100h-9z"/>
<path class=c38 d="M80 75h9V100h-9z"/>
<path class=c44 d="M80 76h9V100h-9z"/>
<path class=c28 d="M80 79h9V100h-9z"/>
<path class=c38 d="M80 80h9V100h-9z"/>
<path class=c32 d="M80 81h9V100h-9z"/>
<path class=c23 d="M80 82h9V100h-9z"/>
<path class=c30 d="M80 83h9V100h-9z"/>
<path class=c7 d="M80 84h9V100h-9z"/>
<path class=c9 d="M80 85h9V100h-9z"/>
<path class=c12 d="M80 86h9V100h-9z"/>
<path class=c1 d="M80 87h9V100h-9z"/>
<path class=c2 d="M80 89h9V100h-9z"/>
<path class=c0 d="M80 90h9V100h-9z"/>
<path class=c1 d="M80 92h9V100h-9z"/>
<path class=c0 d="M80 94h9V100h-9z"/>
<path class=c2 d="M80 95h9V100h-9z"/>
<path class=c1 d="M80 96h9V100h-9z"/>
<path class=c0 d="M80 97h9V100h-9z"/>
<path class=c1 d="M80 99h9V100h-9z"/>
<path class=c24 d="M89 0h9V100h-9z"/>
<path class=c20 d="M89 2h9V100h-9z"/>
<path class=c26 d="M89 3h9V100h-9z"/>
<path class=c21 d="M89 4h9V100h-9z"/>
<path class=c25 d="M89 5h9V100h-9z"/>
<path class=c30 d="M89 6h9V100h-9z"/>
<path class=c16 d="M89 8h9V100h-9z"/>
<path class=c19 d="M89 10h9V100h-9z"/>
<path class=c37 d="M89 11h9V100h-9z"/>
<path class=c24 d="M89 12h9V100h-9z"/>
<path class=c13 d="M89 13h9V100h-9z"/>
<path class=c27 d="M89 14h9V100h-9z"/>
<path class=c21 d="M89 15h9V100h-9z"/>
<path class=c31 d="M89 16h9V100h-9z"/>
<path class=c33 d="M89 17h9V100h-9z"/>
<path class=c23 d="M89 18h9V100h-9z"/>
<path class=c28 d="M89 19h9V100h-9z"/>
<path class=c13 d="M89 20h9V100h-9z"/>
<path class=c28 d="M89 21h9V100h-9z"/>
<path class=c38 d="M89 22h9V100h-9z"/>
<path class=c34 d="M89 23h9V100h-9z"/>
<path class=c27 d="M89 24h9V100h-9z"/>
<path class=c25 d="M89 25h9V100h-9z"/>
<path class=c32 d="M89 26h9V100h-9z"/>
<path class=c20 d="M89 27h9V100h-9z"/>
<path class=c24 d="M89 28h9V100h-9z"/>
<path class=c21 d="M89 29h9V100h-9z"/>
<path class=c15 d="M89 30h9V100h-9z"/>
<path class=c35 d="M89 31h9V100h-9z"/>
<path class=c38 d="M89 32h9V100h-9z"/>
<path class=c40 d="M89 33h9V100h-9z"/>
<path class=c31 d="M89 34h9V100h-9z"/>
<path class=c28 d="M89 35h9V100h-9z"/>
<path class=c22 d="M89 36h9V100h-9z"/>
<path class=c45 d="M89 37h9V100h-9z"/>
<path class=c21 d="M89 38h9V100h-9z"/>
<path class=c31 d="M89 39h9V100h-9z"/>
<path class=c45 d="M89 40h9V100h-9z"/>
<path class=c28 d="M89 41h9V100h-9z"/>
<path class=c42 d="M89 42h9V100h-9z"/>
<path class=c26 d="M89 43h9V100h-9z"/>
<path class=c24 d="M89 44h9V100h-9z"/>
<path class=c26 d="M89 45h9V100h-9z"/>
<path class=c44 d="M89 46h9V100h-9z"/>
<path class=c42 d="M89 48h9V100h-9z"/>
<path class=c45 d="M89 49h9V100h-9z"/>
<path class=c38 d="M89 50h9V100h-9z"/>
<path class=c33 d="M89 51h9V100h-9z"/>
<path class=c51 d="M89 52h9V100h-9z"/>
<path class=c52 d="M89 53h9V100h-9z"/>
<path class=c44 d="M89 54h9V100h-9z"/>
<path class=c37 d="M89 56h9V100h-9z"/>
<path class=c35 d="M89 57h9V100h-9z"/>
<path class=c34 d="M89 58h9V100h-9z"/>
<path class=c40 d="M89 59h9V100h-9z"/>
<path class=c35 d="M89 61h9V100h-9z"/>
<path class=c39 d="M89 62h9V100h-9z"/>
<path class=c41 d="M89 63h9V100h-9z"/>
<path class=c29 d="M89 64h9V100h-9z"/>
<path class=c35 d="M89 65h9V100h-9z"/>
<path class=c41 d="M89 66h9V100h-9z"/>
<path class=c29 d="M89 67h9V100h-9z"/>
<path class=c38 d="M89 68h9V100h-9z"/>
<path class=c26 d="M89 69h9V100h-9z"/>
<path class=c37 d="M89 70h9V100h-9z"/>
<path class=c40 d="M89 71h9V100h-9z"/>
<path class=c42 d="M89 72h9V100h-9z"/>
<path class=c50 d="M89 73h9V100h-9z"/>
<path class=c48 d="M89 74h9V100h-9z"/>
<path class=c41 d="M89 75h9V100h-9z"/>
<path class=c24 d="M89 76h9V100h-9z"/>
<path class=c43 d="M89 77h9V100h-9z"/>
<path class=c32 d="M89 78h9V100h-9z"/>
<path class=c41 d="M89 79h9V100h-9z"/>
<path class=c37 d="M89 80h9V100h-9z"/>
<path class=c29 d="M89 82h9V100h-9z"/>
<path class=c41 d="M89 83h9V100h-9z"/>
<path class=c6 d="M89 84h9V100h-9z"/>
<path class=c5 d="M89 85h9V100h-9z"/>
<path class=c7 d="M89 86h9V100h-9z"/>
<path class=c0 d="M89 87h9V100h-9z"/>
<path class=c1 d="M89 88h9V100h-9z"/>
<path class=c0 d="M89 89h9V100h-9z"/>
<path class=c1 d="M89 90h9V100h-9z"/>
<path class=c2 d="M89 91h9V100h-9z"/>
<path class=c0 d="M89 92h9V100h-9z"/>
<path class=c1 d="M89 93h9V100h-9z"/>
<path class=c0 d="M89 94h9V100h-9z"/>
<path class=c2 d="M89 97h9V100h-9z"/>
<path class=c1 d="M89 99h9V100h-9z"/>
<path class=c26 d="M98 0h9V100h-9z"/>
<path class=c20 d="M98 1h9V100h-9z"/>
<path class=c7 d="M98 2h9V100h-9z"/>
<path class=c16 d="M98 3h9V100h-9z"/>
<path class=c20 d="M98 4h9V100h-9z"/>
<path class=c21 d="M98 5h9V100h-9z"/>
<path class=c24 d="M98 6h9V100h-9z"/>
<path class=c25 d="M98 7h9V100h-9z"/>
<path class=c14 d="M98 8h9V100h-9z"/>
<path class=c35 d="M98 9h9V100h-9z"/>
<path class=c12 d="M98 10h9V100h-9z"/>
<path class=c20 d="M98 11h9V100h-9z"/>
<path class=c8 d="M98 12h9V100h-9z"/>
<path class=c14 d="M98 13h9V100h-9z"/>
<path class=c33 d="M98 14h9V100h-9z"/>
<path class=c20 d="M98 15h9V100h-9z"/>
<path class=c21 d="M98 16h9V100h-9z"/>
<path class=c25 d="M98 17h9V100h-9z"/>
<path class=c24 d="M98 18h9V100h-9z"/>
<path class=c36 d="M98 19h9V100h-9z"/>
<path class=c22 d="M98 20h9V100h-9z"/>
<path class=c29 d="M98 21h9V100h-9z"/>
<path class=c27 d="M98 22h9V100h-9z"/>
<path class=c29 d="M98 23h9V100h-9z"/>
<path class=c21 d="M98 24h9V100h-9z"/>
<path class=c28 d="M98 25h9V100h-9z"/>
<path class=c24 d="M98 26h9V100h-9z"/>
<path class=c29 d="M98 27h9V100h-9z"/>
<path class=c13 d="M98 28h9V100h-9z"/>
<path class=c32 d="M98 29h9V100h-9z"/>
<path class=c25 d="M98 30h9V100h-9z"/>
<path class=c19 d="M98 31h9V100h-9z"/>
<path class=c30 d="M98 32h9V100h-9z"/>
<path class=c15 d="M98 33h9V100h-9z"/>
<path class=c41 d="M98 34h9V100h-9z"/>
<path class=c34 d="M98 35h9V100h-9z"/>
<path class=c26 d="M98 36h9V100h-9z"/>
<path class=c24 d="M98 37h9V100h-9z"/>
<path class=c13 d="M98 38h9V100h-9z"/>
<path class=c22 d="M98 39h9V100h-9z"/>
<path class=c26 d="M98 40h9V100h-9z"/>
<path class=c29 d="M98 41h9V100h-9z"/>
<path class=c37 d="M98 42h9V100h-9z"/>
<path class=c41 d="M98 43h9V100h-9z"/>
<path class=c43 d="M98 44h9V100h-9z"/>
<path class=c28 d="M98 45h9V100h-9z"/>
<path class=c42 d="M98 46h9V100h-9z"/>
<path class=c46 d="M98 47h9V100h-9z"/>
<path class=c45 d="M98 48h9V100h-9z"/>
<path class=c42 d="M98 49h9V100h-9z"/>
<path class=c33 d="M98 51h9V100h-9z"/>
<path class=c38 d="M98 52h9V100h-9z"/>
<path class=c50 d="M98 53h9V100h-9z"/>
<path class=c52 d="M98 54h9V100h-9z"/>
<path class=c54 d="M98 55h9V100h-9z"/>
<path class=c32 d="M98 57h9V100h-9z"/>
<path class=c41 d="M98 58h9V100h-9z"/>
<path class=c53 d="M98 59h9V100h-9z"/>
<path class=c40 d="M98 60h9V100h-9z"/>
<path class=c51 d="M98 61h9V100h-9z"/>
<path class=c30 d="M98 62h9V100h-9z"/>
<path class=c38 d="M98 63h9V100h-9z"/>
<path class=c43 d="M98 65h9V100h-9z"/>
<path class=c38 d="M98 66h9V100h-9z"/>
<path class=c43 d="M98 67h9V100h-9z"/>
<path class=c31 d="M98 68h9V100h-9z"/>
<path class=c44 d="M98 69h9V100h-9z"/>
<path class=c26 d="M98 70h9V100h-9z"/>
<path class=c43 d="M98 71h9V100h-9z"/>
<path class=c38 d="M98 72h9V100h-9z"/>
<path class=c30 d="M98 73h9V100h-9z"/>
<path class=c26 d="M98 74h9V100h-9z"/>
<path class=c48 d="M98 75h9V100h-9z"/>
<path class=c35 d="M98 76h9V100h-9z"/>
<path class=c41 d="M98 77h9V100h-9z"/>
<path class=c43 d="M98 79h9V100h-9z"/>
<path class=c36 d="M98 80h9V100h-9z"/>
<path class=c38 d="M98 81h9V100h-9z"/>
<path class=c42 d="M98 82h9V100h-9z"/>
<path class=c7 d="M98 84h9V100h-9z"/>
<path class=c8 d="M98 85h9V100h-9z"/>
<path class=c11 d="M98 86h9V100h-9z"/>
<path class=c0 d="M98 87h9V100h-9z"/>
<path class=c2 d="M98 89h9V100h-9z"/>
<path class=c1 d="M98 90h9V100h-9z"/>
<path class=c0 d="M98 95h9V100h-9z"/>
<path class=c1 d="M98 96h9V100h-9z"/>
<path class=c0 d="M98 97h9V100h-9z"/>
<path class=c1 d="M98 98h9V100h-9z"/>
<path class=c15 d="M107 0h9V100h-9z"/>
<path class=c28 d="M107 1h9V100h-9z"/>
<path class=c27 d="M107 2h9V100h-9z"/>
<path class=c14 d="M107 3h9V100h-9z"/>
<path class=c18 d="M107 4h9V100h-9z"/>
<path class=c30 d="M107 5h9V100h-9z"/>
<path class=c22 d="M107 6h9V100h-9z"/>
<path class=c27 d="M107 7h9V100h-9z"/>
<path class=c20 d="M107 8h9V100h-9z"/>
<path class=c26 d="M107 9h9V100h-9z"/>
<path class=c32 d="M107 10h9V100h-9z"/>
<path class=c30 d="M107 11h9V100h-9z"/>
<path class=c7 d="M107 12h9V100h-9z"/>
<path class=c23 d="M107 13h9V100h-9z"/>
<path class=c20 d="M107 14h9V100h-9z"/>
<path class=c22 d="M107 15h9V100h-9z"/>
<path class=c25 d="M107 16h9V100h-9z"/>
<path class=c29 d="M107 18h9V100h-9z"/>
<path class=c21 d="M107 19h9V100h-9z"/>
<path class=c38 d="M107 20h9V100h-9z"/>
<path class=c24 d="M107 21h9V100h-9z"/>
<path class=c23 d="M107 22h9V100h-9z"/>
<path class=c15 d="M107 23h9V100h-9z"/>
<path class=c33 d="M107 24h9V100h-9z"/>
<path class=c22 d="M107 25h9V100h-9z"/>
<path class=c38 d="M107 26h9V100h-9z"/>
<path class=c23 d="M107 27h9V100h-9z"/>
<path class=c31 d="M107 28h9V100h-9z"/>
<path class=c20 d="M107 29h9V100h-9z"/>
<path class=c23 d="M107 30h9V100h-9z"/>
<path class=c24 d="M107 31h9V100h-9z"/>
<path class=c18 d="M107 33h9V100h-9z"/>
<path class=c6 d="M107 34h9V100h-9z"/>
<path class=c9 d="M107 35h9V100h-9z"/>
<path class=c37 d="M107 36h9V100h-9z"/>
<path class=c46 d="M107 37h9V100h-9z"/>
<path class=c33 d="M107 38h9V100h-9z"/>
<path class=c47 d="M107 39h9V100h-9z"/>
<path class=c27 d="M107 40h9V100h-9z"/>
<path class=c42 d="M107 41h9V100h-9z"/>
<path class=c40 d="M107 42h9V100h-9z"/>
<path class=c32 d="M107 43h9V100h-9z"/>
<path class=c48 d="M107 44h9V100h-9z"/>
<path class=c33 d="M107 45h9V100h-9z"/>
<path class=c29 d="M107 46h9V100h-9z"/>
<path class=c51 d="M107 47h9V100h-9z"/>
<path class=c40 d="M107 48h9V100h-9z"/>
<path class=c34 d="M107 49h9V100h-9z"/>
<path class=c41 d="M107 50h9V100h-9z"/>
<path class=c40 d="M107 51h9V100h-9z"/>
<path class=c45 d="M107 53h9V100h-9z"/>
<path class=c47 d="M107 54h9V100h-9z"/>
<path class=c29 d="M107 55h9V100h-9z"/>
<path class=c49 d="M107 56h9V100h-9z"/>
<path class=c50 d="M107 57h9V100h-9z"/>
<path class=c37 d="M107 58h9V100h-9z"/>
<path class=c47 d="M107 59h9V100h-9z"/>
<path class=c37 d="M107 60h9V100h-9z"/>
<path class=c9 d="M107 61h9V100h-9z"/>
<path class=c52 d="M107 62h9V100h-9z"/>
<path class=c31 d="M107 63h9V100h-9z"/>
<path class=c20 d="M107 64h9V100h-9z"/>
<path class=c42 d="M107 65h9V100h-9z"/>
<path class=c46 d="M107 66h9V100h-9z"/>
<path class=c27 d="M107 67h9V100h-9z"/>
<path class=c34 d="M107 68h9V100h-9z"/>
<path class=c39 d="M107 69h9V100h-9z"/>
<path class=c32 d="M107 70h9V100h-9z"/>
<path class=c35 d="M107 71h9V100h-9z"/>
<path class=c38 d="M107 72h9V100h-9z"/>
<path class=c30 d="M107 73h9V100h-9z"/>
<path class=c43 d="M107 74h9V100h-9z"/>
<path class=c50 d="M107 75h9V100h-9z"/>
<path class=c32 d="M107 76h9V100h-9z"/>
<path class=c36 d="M107 77h9V100h-9z"/>
<path class=c27 d="M107 78h9V100h-9z"/>
<path class=c36 d="M107 79h9V100h-9z"/>
<path class=c42 d="M107 80h9V100h-9z"/>
<path class=c48 d="M107 81h9V100h-9z"/>
<path class=c31 d="M107 82h9V100h-9z"/>
<path class=c32 d="M107 83h9V100h-9z"/>
<path class=c9 d="M107 84h9V100h-9z"/>
<path class=c5 d="M107 85h9V100h-9z"/>
<path class=c11 d="M107 86h9V100h-9z"/>
<path class=c1 d="M107 87h9V100h-9z"/>
<path class=c2 d="M107 90h9V100h-9z"/>
<path class=c1 d="M107 91h9V100h-9z"/>
<path class=c2 d="M107 92h9V100h-9z"/>
<path class=c0 d="M107 93h9V100h-9z"/>
<path class=c1 d="M107 95h9V100h-9z"/>
<path class=c0 d="M107 96h9V100h-9z"/>
<path class=c32 d="M116 0h9V100h-9z"/>
<path class=c16 d="M116 1h9V100h-9z"/>
<path class=c7 d="M116 2h9V100h-9z"/>
<path class=c26 d="M116 3h9V100h-9z"/>
<path class=c29 d="M116 4h9V100h-9z"/>
<path class=c8 d="M116 5h9V100h-9z"/>
<path class=c5 d="M116 6h9V100h-9z"/>
<path class=c31 d="M116 7h9V100h-9z"/>
<path class=c20 d="M116 8h9V100h-9z"/>
<path class=c18 d="M116 9h9V100h-9z"/>
<path class=c7 d="M116 10h9V100h-9z"/>
<path class=c22 d="M116 11h9V100h-9z"/>
<path class=c19 d="M116 12h9V100h-9z"/>
<path class=c11 d="M116 13h9V100h-9z"/>
<path class=c30 d="M116 14h9V100h-9z"/>
<path class=c15 d="M116 15h9V100h-9z"/>
<path class=c19 d="M116 16h9V100h-9z"/>
<path class=c21 d="M116 17h9V100h-9z"/>
<path class=c22 d="M116 18h9V100h-9z"/>
<path class=c29 d="M116 19h9V100h-9z"/>
<path class=c20 d="M116 21h9V100h-9z"/>
<path class=c32 d="M116 22h9V100h-9z"/>
<path class=c8 d="M116 23h9V100h-9z"/>
<path class=c6 d="M116 24h9V100h-9z"/>
<path class=c26 d="M116 25h9V100h-9z"/>
<path class=c19 d="M116 26h9V100h-9z"/>
<path class=c25 d="M116 27h9V100h-9z"/>
<path class=c29 d="M116 28h9V100h-9z"/>
<path class=c32 d="M116 29h9V100h-9z"/>
<path class=c43 d="M116 31h9V100h-9z"/>
<path class=c20 d="M116 32h9V100h-9z"/>
<path class=c23 d="M116 33h9V100h-9z"/>
<path class=c36 d="M116 34h9V100h-9z"/>
<path class=c19 d="M116 35h9V100h-9z"/>
<path class=c33 d="M116 36h9V100h-9z"/>
<path class=c29 d="M116 37h9V100h-9z"/>
<path class=c30 d="M116 38h9V100h-9z"/>
<path class=c41 d="M116 41h9V100h-9z"/>
<path class=c32 d="M116 42h9V100h-9z"/>
<path class=c36 d="M116 43h9V100h-9z"/>
<path class=c37 d="M116 44h9V100h-9z"/>
<path class=c41 d="M116 45h9V100h-9z"/>
<path class=c27 d="M116 46h9V100h-9z"/>
<path class=c46 d="M116 47h9V100h-9z"/>
<path class=c40 d="M116 48h9V100h-9z"/>
<path class=c37 d="M116 49h9V100h-9z"/>
<path class=c19 d="M116 50h9V100h-9z"/>
<path class=c54 d="M116 51h9V100h-9z"/>
<path class=c52 d="M116 52h9V100h-9z"/>
<path class=c43 d="M116 53h9V100h-9z"/>
<path class=c31 d="M116 54h9V100h-9z"/>
<path class=c39 d="M116 55h9V100h-9z"/>
<path class=c44 d="M116 56h9V100h-9z"/>
<path class=c24 d="M116 57h9V100h-9z"/>
<path class=c27 d="M116 58h9V100h-9z"/>
<path class=c37 d="M116 59h9V100h-9z"/>
<path class=c32 d="M116 60h9V100h-9z"/>
<path class=c43 d="M116 61h9V100h-9z"/>
<path class=c44 d="M116 62h9V100h-9z"/>
<path class=c51 d="M116 66h9V100h-9z"/>
<path class=c49 d="M116 67h9V100h-9z"/>
<path class=c53 d="M116 68h9V100h-9z"/>
<path class=c40 d="M116 69h9V100h-9z"/>
<path class=c23 d="M116 70h9V100h-9z"/>
<path class=c15 d="M116 71h9V100h-9z"/>
<path class=c33 d="M116 72h9V100h-9z"/>
<path class=c32 d="M116 73h9V100h-9z"/>
<path class=c42 d="M116 74h9V100h-9z"/>
<path class=c35 d="M116 75h9V100h-9z"/>
<path class=c41 d="M116 76h9V100h-9z"/>
<path class=c46 d="M116 77h9V100h-9z"/>
<path class=c39 d="M116 78h9V100h-9z"/>
<path class=c25 d="M116 79h9V100h-9z"/>
<path class=c12 d="M116 80h9V100h-9z"/>
<path class=c21 d="M116 81h9V100h-9z"/>
<path class=c43 d="M116 82h9V100h-9z"/>
<path class=c35 d="M116 83h9V100h-9z"/>
<path class=c10 d="M116 84h9V100h-9z"/>
<path class=c9 d="M116 85h9V100h-9z"/>
<path class=c0 d="M116 87h9V100h-9z"/>
<path class=c2 d="M116 88h9V100h-9z"/>
<path class=c1 d="M116 89h9V100h-9z"/>
<path class=c0 d="M116 92h9V100h-9z"/>
<path class=c1 d="M116 93h9V100h-9z"/>
<path class=c2 d="M116 94h9V100h-9z"/>
<path class=c1 d="M116 96h9V100h-9z"/>
<path class=c2 d="M116 97h9V100h-9z"/>
<path class=c13 d="M125 0h9V100h-9z"/>
<path class=c27 d="M125 1h9V100h-9z"/>
<path class=c20 d="M125 2h9V100h-9z"/>
<path class=c35 d="M125 3h9V100h-9z"/>
<path class=c19 d="M125 4h9V100h-9z"/>
<path class=c9 d="M125 5h9V100h-9z"/>
<path class=c17 d="M125 6h9V100h-9z"/>
<path class=c27 d="M125 7h9V100h-9z"/>
<path class=c25 d="M125 8h9V100h-9z"/>
<path class=c7 d="M125 9h9V100h-9z"/>
<path class=c12 d="M125 10h9V100h-9z"/>
<path class=c21 d="M125 11h9V100h-9z"/>
<path class=c3 d="M125 12h9V100h-9z"/>
<path class=c18 d="M125 13h9V100h-9z"/>
<path class=c30 d="M125 14h9V100h-9z"/>
<path class=c35 d="M125 15h9V100h-9z"/>
<path class=c32 d="M125 17h9V100h-9z"/>
<path class=c25 d="M125 18h9V100h-9z"/>
<path class=c19 d="M125 19h9V100h-9z"/>
<path class=c27 d="M125 20h9V100h-9z"/>
<path class=c29 d="M125 21h9V100h-9z"/>
<path class=c26 d="M125 22h9V100h-9z"/>
<path class=c17 d="M125 23h9V100h-9z"/>
<path class=c21 d="M125 24h9V100h-9z"/>
<path class=c9 d="M125 25h9V100h-9z"/>
<path class=c28 d="M125 26h9V100h-9z"/>
<path class=c35 d="M125 27h9V100h-9z"/>
<path class=c21 d="M125 28h9V100h-9z"/>
<path class=c38 d="M125 29h9V100h-9z"/>
<path class=c16 d="M125 30h9V100h-9z"/>
<path class=c35 d="M125 31h9V100h-9z"/>
<path class=c30 d="M125 32h9V100h-9z"/>
<path class=c29 d="M125 33h9V100h-9z"/>
<path class=c33 d="M125 34h9V100h-9z"/>
<path class=c26 d="M125 35h9V100h-9z"/>
<path class=c37 d="M125 36h9V100h-9z"/>
<path class=c39 d="M125 37h9V100h-9z"/>
<path class=c29 d="M125 38h9V100h-9z"/>
<path class=c16 d="M125 39h9V100h-9z"/>
<path class=c25 d="M125 40h9V100h-9z"/>
<path class=c23 d="M125 41h9V100h-9z"/>
<path class=c36 d="M125 42h9V100h-9z"/>
<path class=c31 d="M125 43h9V100h-9z"/>
<path class=c16 d="M125 44h9V100h-9z"/>
<path class=c39 d="M125 45h9V100h-9z"/>
<path class=c37 d="M125 46h9V100h-9z"/>
<path class=c33 d="M125 47h9V100h-9z"/>
<path class=c39 d="M125 48h9V100h-9z"/>
<path class=c45 d="M125 49h9V100h-9z"/>
<path class=c51 d="M125 50h9V100h-9z"/>
<path class=c48 d="M125 51h9V100h-9z"/>
<path class=c44 d="M125 52h9V100h-9z"/>
<path class=c54 d="M125 54h9V100h-9z"/>
<path class=c44 d="M125 57h9V100h-9z"/>
<path class=c20 d="M125 58h9V100h-9z"/>
<path class=c39 d="M125 59h9V100h-9z"/>
<path class=c54 d="M125 60h9V100h-9z"/>
<path class=c47 d="M125 61h9V100h-9z"/>
<path class=c55 d="M125 62h9V100h-9z"/>
<path class=c29 d="M125 63h9V100h-9z"/>
<path class=c33 d="M125 64h9V100h-9z"/>
<path class=c18 d="M125 65h9V100h-9z"/>
<path class=c33 d="M125 66h9V100h-9z"/>
<path class=c44 d="M125 67h9V100h-9z"/>
<path class=c39 d="M125 68h9V100h-9z"/>
<path class=c36 d="M125 69h9V100h-9z"/>
<path class=c34 d="M125 70h9V100h-9z"/>
<path class=c32 d="M125 71h9V100h-9z"/>
<path class=c53 d="M125 72h9V100h-9z"/>
<path class=c50 d="M125 73h9V100h-9z"/>
<path class=c46 d="M125 74h9V100h-9z"/>
<path class=c32 d="M125 75h9V100h-9z"/>
<path class=c50 d="M125 76h9V100h-9z"/>
<path class=c51 d="M125 77h9V100h-9z"/>
<path class=c37 d="M125 78h9V100h-9z"/>
<path class=c46 d="M125 80h9V100h-9z"/>
<path class=c38 d="M125 81h9V100h-9z"/>
<path class=c49 d="M125 82h9V100h-9z"/>
<path class=c41 d="M125 83h9V100h-9z"/>
<path class=c0 d="M125 84h9V100h-9z"/>
<path class=c8 d="M125 85h9V100h-9z"/>
<path class=c6 d="M125 86h9V100h-9z"/>
<path class=c2 d="M125 87h9V100h-9z"/>
<path class=c1 d="M125 88h9V100h-9z"/>
<path class=c2 d="M125 93h9V100h-9z"/>
<path class=c0 d="M125 94h9V100h-9z"/>
<path class=c2 d="M125 95h9V100h-9z"/>
<path class=c0 d="M125 96h9V100h-9z"/>
<path class=c1 d="M125 97h9V100h-9z"/>
<path class=c0 d="M125 98h9V100h-9z"/>
<path class=c1 d="M125 99h9V100h-9z"/>
<path class=c8 d="M134 0h9V100h-9z"/>
<path class=c15 d="M134 1h9V100h-9z"/>
<path class=c21 d="M134 2h9V100h-9z"/>
<path class=c1 d="M134 3h9V100h-9z"/>
<path class=c21 d="M134 4h9V100h-9z"/>
<path class=c29 d="M134 5h9V100h-9z"/>
<path class=c32 d="M134 6h9V100h-9z"/>
<path class=c15 d="M134 7h9V100h-9z"/>
<path class=c18 d="M134 8h9V100h-9z"/>
<path class=c31 d="M134 9h9V100h-9z"/>
<path class=c37 d="M134 10h9V100h-9z"/>
<path class=c33 d="M134 11h9V100h-9z"/>
<path class=c32 d="M134 12h9V100h-9z"/>
<path class=c21 d="M134 13h9V100h-9z"/>
<path class=c29 d="M134 14h9V100h-9z"/>
<path class=c32 d="M134 15h9V100h-9z"/>
<path class=c9 d="M134 16h9V100h-9z"/>
<path class=c15 d="M134 17h9V100h-9z"/>
<path class=c12 d="M134 18h9V100h-9z"/>
<path class=c14 d="M134 19h9V100h-9z"/>
<path class=c40 d="M134 20h9V100h-9z"/>
<path class=c23 d="M134 21h9V100h-9z"/>
<path class=c22 d="M134 22h9V100h-9z"/>
<path class=c30 d="M134 23h9V100h-9z"/>
<path class=c8 d="M134 24h9V100h-9z"/>
<path class=c31 d="M134 25h9V100h-9z"/>
<path class=c39 d="M134 26h9V100h-9z"/>
<path class=c27 d="M134 27h9V100h-9z"/>
<path class=c30 d="M134 28h9V100h-9z"/>
<path class=c18 d="M134 29h9V100h-9z"/>
<path class=c33 d="M134 30h9V100h-9z"/>
<path class=c29 d="M134 31h9V100h-9z"/>
<path class=c27 d="M134 32h9V100h-9z"/>
<path class=c35 d="M134 33h9V100h-9z"/>
<path class=c30 d="M134 34h9V100h-9z"/>
<path class=c35 d="M134 35h9V100h-9z"/>
<path class=c36 d="M134 36h9V100h-9z"/>
<path class=c22 d="M134 37h9V100h-9z"/>
<path class=c16 d="M134 38h9V100h-9z"/>
<path class=c37 d="M134 39h9V100h-9z"/>
<path class=c29 d="M134 40h9V100h-9z"/>
<path class=c25 d="M134 41h9V100h-9z"/>
<path class=c21 d="M134 42h9V100h-9z"/>
<path class=c37 d="M134 43h9V100h-9z"/>
<path class=c46 d="M134 44h9V100h-9z"/>
<path class=c54 d="M134 45h9V100h-9z"/>
<path class=c40 d="M134 49h9V100h-9z"/>
<path class=c57 d="M134 50h9V100h-9z"/>
<path class=c42 d="M134 52h9V100h-9z"/>
<path class=c51 d="M134 53h9V100h-9z"/>
<path class=c45 d="M134 54h9V100h-9z"/>
<path class=c49 d="M134 55h9V100h-9z"/>
<path class=c36 d="M134 56h9V100h-9z"/>
<path class=c49 d="M134 57h9V100h-9z"/>
<path class=c30 d="M134 58h9V100h-9z"/>
<path class=c42 d="M134 59h9V100h-9z"/>
<path class=c40 d="M134 60h9V100h-9z"/>
<path class=c45 d="M134 61h9V100h-9z"/>
<path class=c31 d="M134 62h9V100h-9z"/>
<path class=c43 d="M134 63h9V100h-9z"/>
<path class=c33 d="M134 64h9V100h-9z"/>
<path class=c48 d="M134 66h9V100h-9z"/>
<path class=c39 d="M134 67h9V100h-9z"/>
<path class=c31 d="M134 68h9V100h-9z"/>
<path class=c34 d="M134 69h9V100h-9z"/>
<path class=c13 d="M134 70h9V100h-9z"/>
<path class=c33 d="M134 72h9V100h-9z"/>
<path class=c22 d="M134 73h9V100h-9z"/>
<path class=c37 d="M134 74h9V100h-9z"/>
<path class=c47 d="M134 75h9V100h-9z"/>
<path class=c31 d="M134 76h9V100h-9z"/>
<path class=c47 d="M134 77h9V100h-9z"/>
<path class=c26 d="M134 78h9V100h-9z"/>
<path class=c39 d="M134 79h9V100h-9z"/>
<path class=c44 d="M134 80h9V100h-9z"/>
<path class=c35 d="M134 81h9V100h-9z"/>
<path class=c37 d="M134 82h9V100h-9z"/>
<path class=c29 d="M134 83h9V100h-9z"/>
<path class=c10 d="M134 84h9V100h-9z"/>
<path class=c7 d="M134 85h9V100h-9z"/>
<path class=c6 d="M134 86h9V100h-9z"/>
<path class=c2 d="M134 87h9V100h-9z"/>
<path class=c1 d="M134 88h9V100h-9z"/>
<path class=c0 d="M134 91h9V100h-9z"/>
<path class=c1 d="M134 92h9V100h-9z"/>
<path class=c0 d="M134 93h9V100h-9z"/>
<path class=c1 d="M134 94h9V100h-9z"/>
<path class=c0 d="M134 95h9V100h-9z"/>
<path class=c1 d="M134 96h9V100h-9z"/>
<path class=c2 d="M134 97h9V100h-9z"/>
<path class=c0 d="M134 98h9V100h-9z"/>
</svg>
<rect class="cb" x="663.30" y="185.30" width="13.60" height="123.70"/>
<text class="tt" text-anchor="middle" x="581.4" y="180.3">SB5</text>
<text class="al" text-anchor="middle" x="581.7" y="336.0">Time (s)</text>
<text class="al" text-anchor="middle" transform="translate(489.2 247.2) rotate(-90)">Frequency (Hz)</text>
<text class="tk" text-anchor="end" x="505.6" y="203.6">40</text>
<text class="tk" text-anchor="end" x="505.6" y="231.2">30</text>
<text class="tk" text-anchor="end" x="505.6" y="258.8">20</text>
<text class="tk" text-anchor="end" x="505.6" y="286.4">10</text>
<text class="tk" text-anchor="middle" x="510.0" y="322.1">0</text>
<text class="tk" text-anchor="middle" x="557.2" y="322.1">10</text>
<text class="tk" text-anchor="middle" x="604.5" y="322.1">20</text>
<text class="tk" text-anchor="middle" x="651.7" y="322.1">30</text>
<text class="ct" x="680.9" y="189.7">10</text>
<line class="tl" x1="675.60" x2="676.90" y1="186.80" y2="186.80"/>
<text class="ct" x="680.9" y="210.2">5</text>
<line class="tl" x1="675.60" x2="676.90" y1="207.30" y2="207.30"/>
<text class="ct" x="680.9" y="230.8">0</text>
<line class="tl" x1="675.60" x2="676.90" y1="227.90" y2="227.90"/>
<text class="ct" x="680.9" y="251.3">-5</text>
<line class="tl" x1="675.60" x2="676.90" y1="248.40" y2="248.40"/>
<text class="ct" x="680.9" y="271.8">-10</text>
<line class="tl" x1="675.60" x2="676.90" y1="268.90" y2="268.90"/>
<text class="ct" x="680.9" y="292.3">-15</text>
<line class="tl" x1="675.60" x2="676.90" y1="289.40" y2="289.40"/>
<text class="cl" text-anchor="middle" transform="translate(703.9 247.2) rotate(-90)">Power (dB)</text>
</svg></body></html>
